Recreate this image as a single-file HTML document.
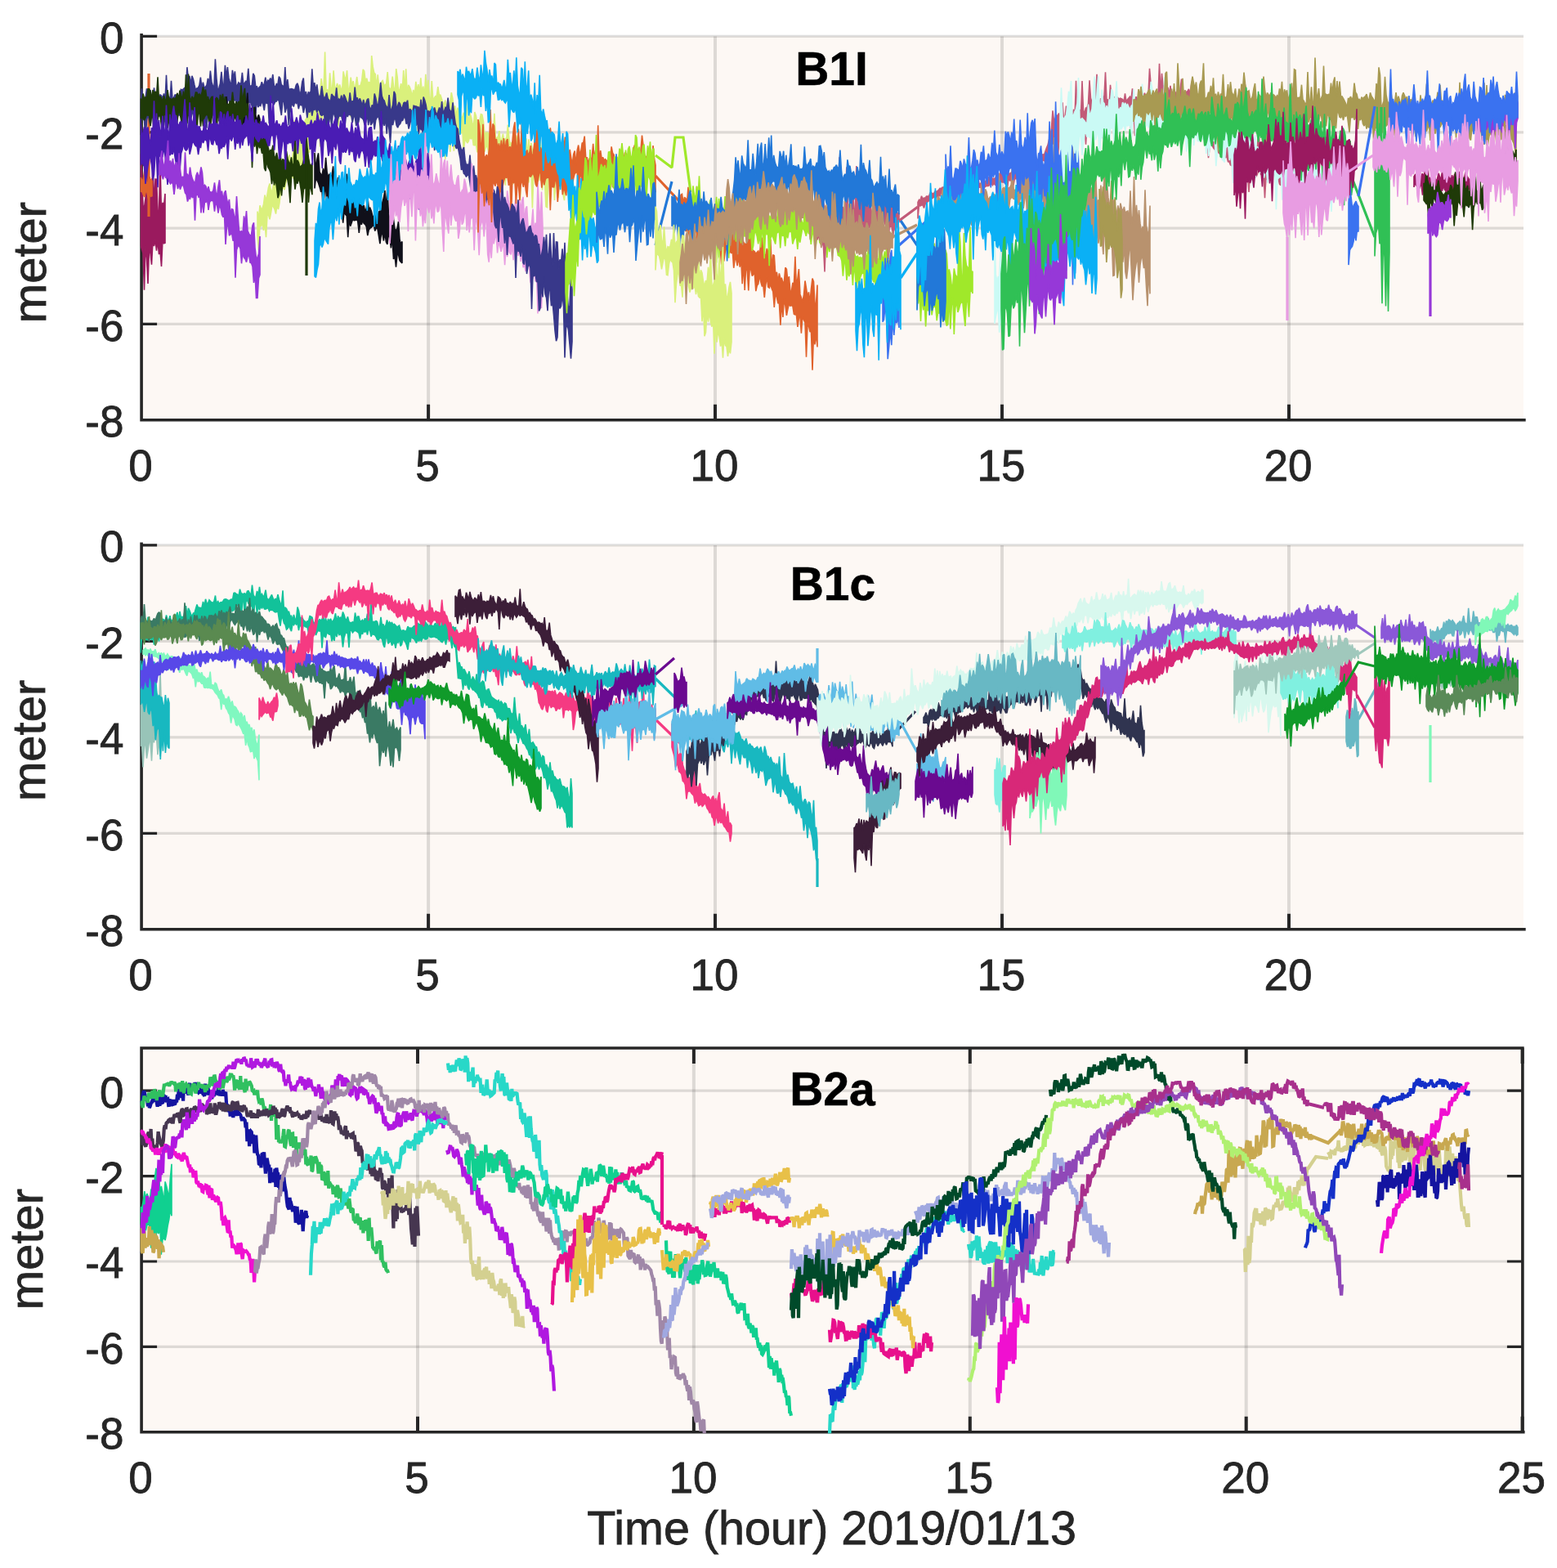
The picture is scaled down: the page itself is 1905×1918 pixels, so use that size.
<!DOCTYPE html><html><head><meta charset="utf-8"><title>B1I B1c B2a</title><style>html,body{margin:0;padding:0;background:#fff;}body{width:1905px;height:1918px;overflow:hidden;}svg{display:block;}text{font-family:'Liberation Sans', Arial, Helvetica, sans-serif;}</style></head><body>
<svg width="1905" height="1918" viewBox="0 0 1905 1918">
<rect x="0" y="0" width="1905" height="1918" fill="#fff"/>
<defs>
<clipPath id="c0"><rect x="171.6" y="42.9" width="1693.9" height="472.4"/></clipPath>
<clipPath id="c1"><rect x="171.6" y="665.4" width="1693.9" height="472.9"/></clipPath>
<clipPath id="c2"><rect x="171.6" y="1280.5" width="1692.8" height="472.8"/></clipPath>
</defs>
<rect x="173.1" y="44.4" width="1690.9" height="469.4" fill="#fdf8f4"/>
<path d="M524.1 44.4V513.8M875 44.4V513.8M1226 44.4V513.8M1577 44.4V513.8" stroke="#262626" stroke-opacity="0.15" stroke-width="4" fill="none"/>
<path d="M173.1 44.4H1864M173.1 161.8H1864M173.1 279.1H1864M173.1 396.4H1864" stroke="#262626" stroke-opacity="0.15" stroke-width="3.2" fill="none"/>
<path d="M173.1 42.8V513.8H1864.9" stroke="#262626" stroke-width="3.6" fill="none" stroke-linecap="square"/>
<path d="M524.1 513.8V494.8M875 513.8V494.8M1226 513.8V494.8M1577 513.8V494.8" stroke="#262626" stroke-width="4" fill="none"/>
<path d="M173.1 44.4H192.1M173.1 161.8H192.1M173.1 279.1H192.1M173.1 396.4H192.1" stroke="#262626" stroke-width="3.2" fill="none"/>
<g clip-path="url(#c0)" fill="none" stroke-width="3.2" stroke-linejoin="miter" stroke-miterlimit="2">
<path d="M172.0 188.2l1.5 22 1.5 41.2 1.5 2.5 1.5-11.4 1.5-29.9 1.5-4 1.5 37.8 1.5-8.4 1.5 4.1 1.5-44.6 1.5 54.5 1.5-32.9 1.5 0.1 1.5 39.3 1.5 1.8 1.5-60.3 1.5 63.6 1.5-15.8 1.5 4.9 1.5-15.8 0 60.3-1.5 0.5-1.5-4.3-1.5 32.5-1.5-18.9-1.5 4.1-1.5-17-1.5 12.5-1.5-13.3-1.5 7.8-1.5-7-1.5 29.6-1.5-14-1.5-6.3-1.5 43.6-1.5-30.8-1.5-15.3-1.5 53.9-1.5-45.1-1.5-5-1.5-4.9z" fill="#9a1a5e" stroke="#9a1a5e" stroke-width="1.6"/>
<path d="M172.0 217.2l1.6 3.1 1.5-0.4 1.6-10.6 1.5 0.6 1.6 13.4 1.5 0.9 1.6-8 1.5 5.2 1.6-3 0 21.3-1.6 0.6-1.5-2.9-1.6 5.2-1.5-7.8-1.6-0.1-1.5 6.1-1.6-3.1-1.5-4.1-1.6 1.1z" fill="#e0622c" stroke="#e0622c" stroke-width="1.6"/>
<path d="M182.0 90.0 182.0 265.0" stroke="#e0622c"/>
<path d="M315.0 258.6l1.5 9.1 1.5-16.4 1.5 4.6 1.5-1.1 1.5-4.9 1.5-11.4 1.5 7.7 1.5-8.3 1.5-8.6 1.5-4.7 1.5 8.9 1.5-0.1 1.5-7.2 1.5 0.4 1.5-8.2 1.5 0.8 1.5-11.5 1.5 5.7 1.5 0.4 1.5-15.6 1.5 9.4 1.5 2 1.5-10.2 1.5-10.4 1.5 10.1 1.6-9.7 1.5 7.7 1.5-1.6 1.5-9 1.5-39.3 1.5 38.9 1.5-10.3 1.5-0.6 1.5-10.8 1.5 1.8 1.5-13.4 1.5 7.1 1.5-9.2 1.5-3.7 1.5-2.7 1.5-1.1 1.5-25.7 1.5 0.1 1.5-0.3 1.5 11.3 1.5 4.9 1.5-5.8 1.5-5.5 1.5 0.2 1.5-2.7 1.5-4.7 1.5-18.9 1.5 11.4 1.5-0.7 1.5-43.3 1.5 47.2 1.5-0.8 1.5 4 1.5-24.5 1.5 18.7 1.5-0.1 1.5-21.8 1.5 20.7 1.5 0.2 1.5-5.2 1.5 6.5 1.5-5 1.5 4.7 1.5 3.1 1.5-23.8 1.5 7 1.5 2.7 1.5-10.9 1.5 22.7 1.5 0 1.6-14.2 1.5 10.1 1.5-5.6 1.5 11.3 1.5-7.4 1.5-9.1 1.5 12.4 1.5-1.4 1.5-0.8 1.5-5.8 1.5-13.5 1.5 2.2 1.5 12.7 1.5-4.1 1.5 6.6 1.5-2.1 1.5 5.7 1.5-37.9 1.5 13.7 1.5 7.3 1.5 1.6 1.5 16.2 1.5-15.5 1.5 15.1 1.5-3.3 1.5-3 1.5-1.5 1.5 5 1.5 1 1.5-2.8 1.5-13.7 1.5 18.6 1.5 1.8 1.5-0.2 1.5-14.7 1.5 13 1.5 7.7 1.5-30.2 1.5 10.4 1.5 19.6 1.5-5.7 1.5-6.3 1.5 9.5 1.5-25.6 1.5 26.7 1.5-28.4 1.5 31.1 1.5-11.5 1.5 2.5 1.5 3.8 1.5 8 1.6-8.2 1.5 6.9 1.5-17.1 1.5 12.3 1.5-8.9 1.5 10.9 1.5-18.8 1.5 18.6 1.5-8.3 1.5 13.5 1.5-28.2 1.5 24.1 1.5-17.3 1.5 22.8 1.5 0.5 1.5-21.9 1.5 22.7 1.5-1.9 1.5-2.3 1.5-0.3 1.5-11.3 1.5 10.3 1.5-0.1 1.5 4.3 1.5 5.4 1.5 1.7 1.5-5 1.5 8.9 1.5-2.4 1.5-2 1.5-2.6 1.5-11.3 1.5 7.2 1.5 14.5 1.5-5.4 1.5 13.9 1.5-11.7 1.5 5.1 1.5-4.7 1.5 14.8 1.5-3.8 1.5-5.4 1.5 3.6 1.5-17.9 1.5 18.2 1.5 5.3 1.5-8.5 1.5 4.1 1.5 7.5 1.5 6.1 1.5-19 1.6 4.5 1.5 9.7 1.5-0.9 1.5-2.7 1.5-8 1.5 0.6 1.5 8.1 1.5 13.9 1.5 1 1.5-1.6 1.5 2.2 1.5-2 1.5 5.6 1.5-3.9 1.5 0.5 1.5-25.4 1.5 32.9 1.5-3.2 1.5-1.3 1.5-7 1.5 13.6 1.5-2.9 1.5-7.2 1.5 9.6 1.5-2.8 1.5-2.6 1.5-15.1 1.5 17.4 1.5 5.2 1.5-0.4 1.5 0.7 1.5 2.7 1.5-12.5 1.5 0.6 1.5 12 1.5 11.6 1.5-9.8 1.5 3.2 1.5 5.7 1.5-16.1 1.5 13.8 1.5-17.5 1.5 23.2 1.5-22.2 1.5 17.2 1.5-12.7 1.5 9.4 1.5 2.9 1.5-4 1.5-9 1.6 12 1.5 0.2 1.5-17.2 1.5 20.1 1.5-13.2 1.5-21.1 1.5 32.7 1.5 6.3 1.5-13.9 1.5 10.9 1.5 6.5 1.5-26.9 1.5 24.6 1.5 0.6 1.5-7.5 1.5 9.2 1.5 0.3 1.5 2 1.5-0.2 1.5-3.4 1.5 4.1 1.5-3.4 1.5-10.2 1.5 14.3 1.5-2.5 1.5-18.2 0 40-1.5 7.6-1.5-9.7-1.5 27-1.5-7.1-1.5-11.5-1.5-5.2-1.5-4.7-1.5 25.4-1.5-19.5-1.5-1.4-1.5 23.8-1.5-32.6-1.5-4-1.5 4.2-1.5-4.1-1.5 4.9-1.5 40.3-1.5-0.8-1.5-30.9-1.5-8.2-1.5 18.7-1.5-17.7-1.5 6.4-1.5-11.6-1.5-0-1.6-0.4-1.5 0.8-1.5 1.2-1.5 43.4-1.5-47-1.5 1.9-1.5 14-1.5-10.1-1.5-9-1.5-2.1-1.5 3.5-1.5 14.3-1.5-14.2-1.5 39.9-1.5-28.8-1.5-11-1.5-6.8-1.5 1.8-1.5-5.1-1.5 29.8-1.5-14.8-1.5-19.9-1.5 4.1-1.5 1.7-1.5-5.4-1.5 35.5-1.5-32.4-1.5-0.5-1.5 0.3-1.5 1.1-1.5-3.5-1.5 10.1-1.5-5-1.5-2.1-1.5 6.9-1.5-10.8-1.5-3.5-1.5 3.9-1.5 27.6-1.5-34.7-1.5-5.8-1.5 1.6-1.5 5.5-1.5-7.9-1.5 9.4-1.5-7.7-1.5-5.6-1.5-1.5-1.5 14.1-1.5-10.2-1.6 1.8-1.5-0.5-1.5-10.8-1.5 3.5-1.5-3.3-1.5 5.8-1.5 2.4-1.5-2.9-1.5-1.3-1.5 14.5-1.5-26.2-1.5 3.3-1.5 1.8-1.5-1-1.5-7-1.5 6.5-1.5 11-1.5 11-1.5-28.3-1.5 1.8-1.5 27.5-1.5-27.8-1.5 8.3-1.5-5.3-1.5 33.7-1.5-45.9-1.5-1.7-1.5-1.4-1.5 15.1-1.5-11-1.5-8.1-1.5 2.7-1.5 0.5-1.5 2.6-1.5-1.6-1.5 3.6-1.5 10.6-1.5-13.4-1.5-9.4-1.5-0.7-1.5 4-1.5-6.2-1.5 19.5-1.5-17.1-1.5 1.4-1.5-5.7-1.5 45.6-1.5-43.2-1.5 6-1.5-6.4-1.5-0.4-1.6-0.8-1.5 2.5-1.5 4-1.5 1.9-1.5-5.1-1.5-7.3-1.5 6.1-1.5 10.2-1.5-12.5-1.5-4.5-1.5 2.1-1.5 0.7-1.5 0.1-1.5 15.9-1.5-1.9-1.5-9.4-1.5 5-1.5-9.1-1.5 36.3-1.5-34-1.5 13.3-1.5-14.2-1.5 0.3-1.5-6.6-1.5 1.8-1.5-3.1-1.5 37.7-1.5-30.3-1.5 7.7-1.5-12-1.5-2.4-1.5 9.8-1.5-13.2-1.5 9.5-1.5-6.2-1.5 0.3-1.5-3.4-1.5 5.7-1.5-11.1-1.5 13.2-1.5 6.1-1.5-14.9-1.5-6.3-1.5 18.3-1.5-12.5-1.5 5.3-1.5 1.2-1.5 15-1.5-15-1.5-1-1.5 15.9-1.6-15-1.5-1.1-1.5-0.5-1.5 2.9-1.5-2.6-1.5 2-1.5-3.1-1.5 2.5-1.5 6.4-1.5 19.7-1.5-18.7-1.5-8.1-1.5-0.4-1.5 8.6-1.5-12.7-1.5 6-1.5-1.2-1.5 1.2-1.5 4.4-1.5-0.3-1.5 2.5-1.5-7.5-1.5 18.8-1.5 4.7-1.5 27.8-1.5-39.2-1.5 30.5-1.5-12.1-1.5-8.3-1.5 6.9-1.5 25.1-1.5-19.1-1.5 3.6-1.5 20.2-1.5-10.5-1.5 0.1-1.5 3.4-1.5 1.8-1.5 25.7-1.5-10.7-1.5 4.8-1.5 20.4-1.5-21.5-1.5 7.5-1.5 0.2-1.5-2.9-1.5 12.9-1.5-6.1-1.5-6-1.5 12.2-1.6-1.9-1.5 0.9-1.5 8.5-1.5 6.2-1.5-2.5-1.5 1.2-1.5 2.4-1.5 14.8-1.5 8.2-1.5-5.4-1.5 10.9-1.5-5.7-1.5-3.1-1.5-2.1-1.5 9.7-1.5 7.9-1.5-5.4-1.5 0.2-1.5 27.2-1.5-18.4-1.5 10-1.5-10.7-1.5 5.9-1.5-2.3-1.5 31.1-1.5-18.2z" fill="#daf07c" stroke="#daf07c" stroke-width="1.6"/>
<path d="M172.0 127.0l1.5-18.6 1.5 15.1 1.5 4.6 1.5-8.6 1.5-11.1 1.5 6 1.5 11.1 1.5-15.3 1.5 8.8 1.5 6.6 1.5-18.2 1.5 11.6 1.5 6.2 1.5 1.1 1.5-8.3 1.5-2.1 1.5 1.2 1.5 3.2 1.5-5.9 1.5 9 1.5-31.7 1.5 30.3 1.5-3.8 1.5 4.9 1.5-24.3 1.5 22.6 1.5-1.5 1.5-3.8 1.4-0 1.5-0.8 1.5 1.6 1.5-0.4 1.5-7.1 1.5 0.5 1.5-1.1 1.5-1.4 1.5 2.1 1.5-27.3 1.5 14.3 1.5-3.6 1.5 10.2 1.5-10.2 1.5 3.9 1.5 7.2 1.5 6.2 1.5-2.3 1.5-0.5 1.5-3.1 1.5-9.7 1.5 13.4 1.5-7.4 1.5 6.2 1.5-0.4 1.5-2.1 1.5-8.5 1.5 7.1 1.5-16.3 1.5 13.9 1.5 4.4 1.5 2.6 1.5-35.2 1.5 23.3 1.5 15.8 1.5-3.6 1.5-5.7 1.5-14.3 1.5 15.9 1.5-0.5 1.5-23.4 1.5 15 1.5-12.8 1.5 13.4 1.5 5.6 1.5 2.4 1.5-17.5 1.5 9.7 1.5-8.2 1.5 17.8 1.5-0.9 1.5-3.3 1.5 1.6 1.5-1.3 1.5-12.4 1.5 15.5 1.5-2.9 1.5-2.2 1.4 0.6 1.5-16.1 1.5 20.6 1.5 1.2 1.5-1.4 1.5-14.3 1.5 2.9 1.5 13.5 1.5-0.5 1.5 3.7 1.5-2.9 1.5-1.2 1.5-5.1 1.5 4.4 1.5-2 1.5-8.1 1.5 8.9 1.5-5.3 1.5 0.9 1.5-3.6 1.5 4.8 1.5-9.3 1.5 13.6 1.5 2.1 1.5-4.1 1.5 1.4 1.5-10.3 1.5 2.1 1.5 8 1.5 0.9 1.5 4.3 1.5-26.9 1.5 26.8 1.5-11.8 1.5 12.6 1.5-0.6 1.5-0.6 1.5 0.5 1.5 0.6 1.5 0 1.5-5.4 1.5-2.3 1.5 4 1.5 12 1.5-7 1.5-10.9 1.5-4.4 1.5 22.6 1.5-6.3 1.5 7.7 1.5-6.8 1.5 1.1 1.5-2.3 1.5-27.3 1.5 21.9 1.5-5 1.5 10.2 1.5-8.1 1.4 11.5 1.5 5 1.5-3.5 1.5-11.3 1.5 11.3 1.5 4.9 1.5-3.1 1.5-4.6 1.5 7.3 1.5 1.4 1.5 3.9 1.5-11 1.5 1.9 1.5 1.3 1.5 1.5 1.5-12.4 1.5 15.7 1.5-2.1 1.5 2.5 1.5-6.9 1.5 8 1.5-9 1.5 2.7 1.5 4.2 1.5 3.4 1.5 0.1 1.5-12.6 1.5 11.9 1.5-1.5 1.5-0.1 1.5-17.1 1.5 15.7 1.5-2.9 1.5 5.3 1.5-4.3 1.5 3.6 1.5 5.4 1.5-7.4 1.5 6.4 1.5-1.6 1.5-4.8 1.5-1.3 1.5 10.7 1.5 2.2 1.5-5.2 1.5 3.4 1.5-17.2 1.5 5.1 1.5 8.1 1.5 0.9 1.5-10.9 1.5-17.1 1.5 16.6 1.5 4.2 1.5 1.7 1.5 5.3 1.5 2.1 1.5 3.2 1.4-17.8 1.5 18.4 1.5-0.5 1.5-5.7 1.5-16.4 1.5 3.4 1.5 17.1 1.5-2.7 1.5-4.6 1.5 2.4 1.5 6.4 1.5-3.6 1.5-4.5 1.5-0.5 1.5 1.3 1.5-3.8 1.5 14.8 1.5-4.3 1.5 1.9 1.5 3.7 1.5-9.5 1.5 0.5 1.5 0.3 1.5 0.6 1.5 0.3 1.5 4.3 1.5-13.6 1.5 17.1 1.5-20.3 1.5 4 1.5 5.7 1.5 9.3 1.5-1.7 1.5 1.6 1.5-2.2 1.5-2.5 1.5 2.8 1.5-4.1 1.5 5.6 1.5 4 1.5-5.1 1.5-4.4 1.5 5.8 1.5-13.2 1.5 13.1 1.5-1.5 1.5-4.4 1.5 1 1.5-12.7 1.5 13.9 1.5 2.4 1.5 1.6 1.5-12.1 1.5 13.9 1.5 11.3 1.5 5.5 1.5 1.5 1.5 12.5 1.4 7.7 1.5 5.9 1.5-0.3 1.5-3.2 1.5 15 1.5 7.1 1.5-1.3 1.5 3.3 1.5-14.7 1.5 19.9 1.5 4.7 1.5-11.6 1.5 13.9 1.5-2 1.5 8.1 1.5-5.6 1.5 14.6 1.5-0.3 1.5-6.6 1.5-1.7 1.5-14.9 1.5 21.6 1.5-3 1.5-19.1 1.5 31.4 1.5-13.9 1.5 8.9 1.5-2.7 1.5 2.8 0 47.7-1.5-28.6-1.5 7.5-1.5-3.7-1.5 6.5-1.5 6.6-1.5-3.2-1.5-16.8-1.5 0.9-1.5 11.5-1.5-12.8-1.5-4.4-1.5-0.7-1.5 6.5-1.5-11.9-1.5-3.1-1.5 10.7-1.5-5.3-1.5-15.4-1.5 9.2-1.5-11.9-1.5-8.9-1.5-0.7-1.5 2.5-1.5-3-1.5-1.1-1.5-6.7-1.5 2.4-1.5-14.3-1.4-6.7-1.5-8.3-1.5 3.3-1.5-3-1.5-22.3-1.5 22.6-1.5-14.2-1.5-11-1.5 20.2-1.5-21.6-1.5 0.5-1.5 4.7-1.5-5.7-1.5 3.6-1.5 3.6-1.5 6.4-1.5-18.7-1.5 9.2-1.5 14.1-1.5-2.5-1.5 16.5-1.5-23.2-1.5-7.9-1.5 3.8-1.5-7-1.5 11.4-1.5-8.6-1.5 17.4-1.5-5-1.5 3.7-1.5-10.5-1.5 0.3-1.5-4.5-1.5 10.1-1.5-17.4-1.5 6.9-1.5-5.8-1.5 2.6-1.5 0.5-1.5-6.3-1.5 7-1.5 5.7-1.5-9.2-1.5 3.3-1.5-8.7-1.5 1-1.5 3.5-1.5 0.3-1.5 3.8-1.5 1.3-1.5 3.4-1.5-3-1.5-8.7-1.5 1.7-1.5 6.9-1.5-4.7-1.5 26.8-1.5-16.1-1.4-13.6-1.5 18.2-1.5-19.6-1.5 9.8-1.5-7.7-1.5 13.3-1.5 0.3-1.5-12.8-1.5-5.2-1.5 1.9-1.5 3.3-1.5 11.3-1.5-13.4-1.5 5.8-1.5 2.4-1.5-11.3-1.5 11.4-1.5-14.1-1.5 10.5-1.5 3.4-1.5-6.4-1.5-2.1-1.5-0.9-1.5-2.7-1.5 8.3-1.5 3.2-1.5 0.9-1.5-10.8-1.5 0-1.5 7.6-1.5-9.6-1.5 0.1-1.5-1.7-1.5 4-1.5-4.4-1.5 14.3-1.5-11.9-1.5 7.7-1.5-7-1.5 0.6-1.5-0.5-1.5 5.1-1.5 12.5-1.5-15.3-1.5-4.4-1.5-1-1.5 18.5-1.5-20.6-1.5 12.9-1.5 0.7-1.5 2.8-1.5 17.8-1.5-33.2-1.5 3-1.5 0.9-1.5-1.2-1.5-5-1.5-2.1-1.4 4.4-1.5-5-1.5 1.9-1.5-1.3-1.5 8.5-1.5-10.1-1.5 6.1-1.5-3.9-1.5 10.5-1.5-12.9-1.5-0.8-1.5 7.5-1.5-10.2-1.5 1-1.5-1.5-1.5 5.9-1.5-8.2-1.5 1.4-1.5-2.5-1.5 6.6-1.5-4.3-1.5 4-1.5 8.2-1.5 14.8-1.5-23-1.5 2.1-1.5 5.4-1.5-15.6-1.5 2.7-1.5 16.2-1.5-8.7-1.5-8.7-1.5-2.4-1.5 2.9-1.5 0.1-1.5 3.3-1.5-1.2-1.5-2-1.5 2.8-1.5 24.1-1.5-29.2-1.5 4.9-1.5-3.9-1.5 12.2-1.5-7.5-1.5-4.6-1.5 6.3-1.5-0.9-1.5 2.7-1.5-9.3-1.5 16.9-1.5-9-1.5 18.4-1.5-18.5-1.5-4.4-1.5 0.6-1.5-3-1.5 7.9-1.4-1.7-1.5 10-1.5-12.3-1.5 12.4-1.5-10.8-1.5 20.2-1.5-27.7-1.5 16.7-1.5-16.2-1.5 1.9-1.5-6.3-1.5 26.8-1.5 24.9-1.5-43.8-1.5-2.6-1.5 0.8-1.5 12.7-1.5-9.2-1.5-2.6-1.5-0-1.5-0.3-1.5-1.8-1.5-0.4-1.5 22-1.5 1.3-1.5-14.3-1.5 5.9-1.5-9.4-1.5 11.5-1.5-11.3-1.5 18-1.5-19.6-1.5 31.1-1.5-9-1.5-9.2-1.5-8.3-1.5 3.7-1.5 1.9-1.5-9.1-1.5 7.4-1.5 0.5-1.5 16.3-1.5-2-1.5-13.7-1.5 4.7-1.5 6.5-1.5-11-1.5-0.5-1.5 16-1.5-4.4-1.5 14.4-1.5-21.4-1.5 18.8-1.5-18.5-1.5 1.2-1.5-1-1.5 3.8-1.5-4.5-1.4 0.1-1.5-5.4-1.5 7.1-1.5-4-1.5 16.5-1.5-14-1.5-8.2-1.5 16.2-1.5-5.4-1.5 11.4-1.5-15.2-1.5-1.8-1.5 4.4-1.5 0.9-1.5-6.6-1.5 4.4-1.5-2.5-1.5 2.1-1.5 2.8-1.5-0.4-1.5 11.8-1.5-6.9-1.5-7.1-1.5 8.1-1.5 23-1.5-23.3-1.5-5.5-1.5 6.1-1.5-4.8z" fill="#38388a" stroke="#38388a" stroke-width="1.6"/>
<path d="M268.0 122.5l1.5 9.8 1.5-6.5 1.5-3.5 1.6 3.2 1.5 3 1.5-10.5 1.5 15.5 1.5-2.7 1.5 1.3 1.6 2.2 1.5-9.6 1.5 7.2 1.5 1.6 1.5 3.3 1.5-2.7 1.5-1.5 1.6 2.8 1.5 2.3 1.5-11.2 1.5 12 1.5-1.9 1.5-7.6 1.5-15.4 1.6 26 1.5-0.7 1.5-7.1 1.5 11.5 1.5-1 1.5-11.5 1.6 16 1.5-3 1.5-3.4 1.5 5.8 0 17-1.5 2-1.5-4.1-1.5 4.3-1.6-2.4-1.5-7.9-1.5 5.9-1.5 5.2-1.5-15.3-1.5 7.3-1.6 0.4-1.5-7.9-1.5 10.2-1.5-15.1-1.5 12.6-1.5-10.9-1.5 0.4-1.6-0.3-1.5-1.5-1.5-0.2-1.5-2-1.5 0.4-1.5 1.7-1.5 0.5-1.6-6-1.5 8.8-1.5-0.7-1.5-2.1-1.5-4-1.5-0.3-1.6 2.6-1.5-0.6-1.5-0.7-1.5 4.9z" fill="#10101a" stroke="#10101a" stroke-width="1.6"/>
<path d="M172.0 120.6l1.5 4.4 1.5-10.5 1.5 6.3 1.5-2 1.5 2 1.5-12.1 1.5 0 1.5 3.4 1.5 9.4 1.5-11.5 1.5 5.1 1.5-3.4 1.5 6.4 1.5-23.8 1.5 30.2 1.5-6.9 1.5 2.6 1.5 4.5 1.5-7.6 1.5 5 1.5 0.5 1.5-12.5 1.5 10.3 1.5 0.1 1.5 0.9 1.5-0.1 1.5-1.4 1.5 1.6 1.5-2.7 1.5-5 1.5 8.9 1.5-12 1.5 5.1 1.5 7.4 1.5-11.6 1.5 13.5 1.5-33.8 1.5 28.5 1.5-29.3 1.5 27.7 1.5 6.1 1.5-6.4 1.5 2.8 1.5-1.5 1.5-6.3 1.5 0.3 1.5 3.5 1.5-1.7 1.5 2.8 1.5-4 1.5-7.5 1.5 8.5 1.5-5.3 1.5 11.9 1.5-3.3 1.5 7.5 1.5-4.4 1.5-2.7 1.5-0.2 1.5 10.6 1.5-7.6 1.5-1.9 1.5 1.8 1.5 8.4 1.5-13.8 1.5 7.2 1.5-8.2 1.5 12.2 1.5-8.8 1.5 14.2 1.5-5.6 1.5 2.5 1.5-6.1 1.5 4.1 1.5-14.6 1.5 13.2 1.5 3.5 1.5-5.2 1.5 4.3 1.5-4.4 1.5 2.2 1.5-22.1 1.5 20.5 1.5-9.3 1.5-7.5 1.5 25.7 1.5-7.3 1.5 11.3 1.5-1.1 1.5 5.3 1.5-1.3 1.5-9.5 1.5 20.8 1.5-1.3 1.5 1.6 1.5 5.2 1.5-8.9 1.5 20.3 1.5-17 1.5 18.4 1.5-5.7 1.5 5.7 1.5-11.6 1.5 21.8 1.5 6.6 1.5-3.4 1.5 0.4 1.5-6.2 1.5 13.5 1.5 2 1.5-6.3 1.5 7.6 1.5 3.4 1.5-9.1 1.5 12.4 1.5-6.7 1.5 1.7 1.5 13.2 1.5-24.5 1.5 9.5 1.5 4.5 1.5 1.2 1.5-7.7 1.5 12.8 1.5-6.1 1.5-35.9 1.5 36.9 1.5-4.2 1.5 3 1.5 6.6 1.5-2.6 1.5-1.3 1.5-5.7 1.5-5.8 1.5-27.3 1.5 18 1.5 12.4 1.5 8.2 1.5 1.7 1.5-3.7 0 38.8-1.5-7-1.5-5.2-1.5 21.6-1.5-21.3-1.5-2-1.5 6.2-1.5 0.3-1.5 17-1.5-14.4-1.5-9.3-1.5-7.6-1.5 8.1-1.5-3.8-1.5 10.8-1.5-16.7-1.5-0.2-1.5 0.8-1.5 32.8-1.5-19.5-1.5-8.5-1.5-5.7-1.5 7.1-1.5 7.2-1.5-5.8-1.5 16.4-1.5-15.4-1.5 13.3-1.5 4.8-1.5-13.5-1.5-9.8-1.5 7.6-1.5-12.4-1.5 11.1-1.5-14.3-1.5-3.9-1.5-2.2-1.5-10-1.5 14.4-1.5-3.3-1.5-20.8-1.5 2.4-1.5-8.2-1.5 1.3-1.5-5.6-1.5 13.2-1.5-16.8-1.5 8.2-1.5-11.9-1.5 37.4-1.5-41.3-1.5-14.4-1.5 1.7-1.5-1.7-1.5-10.3-1.5 3.2-1.5-0.2-1.5 5-1.5 10.3-1.5-1.4-1.5-10.2-1.5 8.6-1.5-5.7-1.5-11.3-1.5 13-1.5 2.6-1.5-11.2-1.5-1.2-1.5 0-1.5 20.4-1.5-17.6-1.5 10.4-1.5-5.7-1.5-8.6-1.5-0.2-1.5 0.4-1.5-2.8-1.5-1.9-1.5 31.1-1.5 3.8-1.5-27.1-1.5-4.6-1.5 6.4-1.5 9.9-1.5-2.6-1.5-10-1.5-2.3-1.5 1.7-1.5 2.1-1.5 10.9-1.5-15.4-1.5 15.7-1.5-14.9-1.5-4.1-1.5 24.4-1.5-24-1.5-0.8-1.5-0.8-1.5-2.6-1.5 2.9-1.5 8-1.5-3.5-1.5 7.4-1.5 20.7-1.5-2.6-1.5-32.5-1.5 30.1-1.5-16.1-1.5-8-1.5-3.3-1.5 12.7-1.5 8.8-1.5-18.6-1.5 2.4-1.5 3.1-1.5 3.2-1.5-1.7-1.5 4.1-1.5 7.8-1.5-14.5-1.5-1.7-1.5-2.7-1.5 34-1.5-18.3-1.5-11-1.5-3.5-1.5 7.6-1.5 5.8-1.5-7.3-1.5 16.9-1.5-17.2-1.5-4.5-1.5 13.8-1.5-13.9-1.5 1-1.5-1-1.5 4-1.5 3-1.5-2.6-1.5-1.5-1.5 21.8z" fill="#1f3a08" stroke="#1f3a08" stroke-width="1.6"/>
<path d="M375.0 200.0 375.0 337.0" stroke="#1f3a08"/>
<path d="M385.0 187.1l1.5 21 1.5-13.8 1.5-6.9 1.5 23 1.5 2.5 1.5 1.9 1.5-8.8 1.6 8.6 1.5-21.7 1.5 17.7 1.5 6.1 1.5-3.9 1.5 6.4 1.5-4.9 1.5-10.9 1.5 18.7 1.5 6.5 1.5-2.4 1.5-9.3 1.5 10.1 1.5 8.2 1.6-14.3 1.5 12.6 1.5 3.3 1.5 8.2 1.5-32.3 1.5 9.1 1.5 6.2 1.5 19 1.5-4.9 1.5 0.1 1.5 2.2 1.5-1.1 1.5 0.5 1.5-2 1.6-9.2 1.5 15.8 1.5 1.4 1.5 1.3 1.5 0.6 1.5 7.7 1.5-4.8 1.5-14.8 1.5 16.3 1.5-1.8 1.5 3.8 1.5 6.1 1.5 1.8 1.5-11.1 1.6 2.3 1.5 7.8 1.5-5.8 1.5-1.1 1.5 1.2 1.5-12.2 1.5-5 1.5-9.2 1.5 26.6 1.5-31.4 1.5 33.8 1.5 5.7 1.5 1.9 1.5-19.5 1.6 18.1 1.5 11.9 1.5 2.2 1.5-3 1.5-8.4 1.5 21.8 1.5 6.7 1.5-3.9 0 26.4-1.5-1.3-1.5-1.9-1.5-7.3-1.5 0.6-1.5 14.7-1.5-14.1-1.5 4.5-1.6-27.1-1.5 13.5-1.5-12.4-1.5-5.3-1.5 13.2-1.5-3-1.5-11.1-1.5 9.7-1.5-9.1-1.5 1.6-1.5 11.1-1.5-9.5-1.5-9-1.5-0.9-1.6 3.8-1.5-7.4-1.5 1.3-1.5 1.8-1.5 1-1.5 1.9-1.5 7-1.5-10.8-1.5-2.9-1.5-0.9-1.5-4-1.5 5.3-1.5-4-1.5 14.1-1.6-14.5-1.5-1.8-1.5 0.8-1.5 0.3-1.5-1.7-1.5 4.6-1.5 4-1.5-8.3-1.5 21.8-1.5-26.1-1.5-1.7-1.5-4.3-1.5 14.6-1.5-14.3-1.6-5.5-1.5-1.5-1.5-9.3-1.5 23.2-1.5-13-1.5 5.6-1.5-8.2-1.5-7.9-1.5-4.1-1.5 0.3-1.5 18.5-1.5-5.8-1.5-20-1.5 3.9-1.6 25.1-1.5-26.5-1.5 1.1-1.5-5.8-1.5-4.7-1.5-3-1.5-3.4-1.5 13.2z" fill="#10101a" stroke="#10101a" stroke-width="1.6"/>
<path d="M172.0 145.3l1.5 24.5 1.5-8 1.5-6.5 1.5 2.4 1.5 0.1 1.5-2.1 1.5 13.5 1.5 8.4 1.5-21.3 1.5 3.7 1.5-36.6 1.5 41.4 1.5-26.3 1.5 17.4 1.5-9.1 1.5 21.7 1.5-13.9 1.5-12.9 1.5 17.4 1.5 1.4 1.5-31.9 1.5 29.9 1.5 10.6 1.6-29.2 1.5 16.8 1.5-18.4 1.5-8.8 1.5 11.6 1.5 0.5 1.5 9.1 1.5 4.2 1.5-5.3 1.5-1 1.5 8.3 1.5-17.5 1.5-18 1.5 23 1.5 13.4 1.5 0.5 1.5-32.9 1.5 17.7 1.5 10 1.5-7.3 1.5-14.7 1.5 24.9 1.5-3 1.5 3.3 1.5-1.9 1.5 6.7 1.5-0.8 1.5-0.3 1.5-14 1.5 10.4 1.5 4 1.5-1.3 1.5-10.5 1.5 5.6 1.5-2.4 1.5 0.9 1.5-35.1 1.5 33.1 1.5 0.3 1.5 1.7 1.5 0.4 1.5-16.5 1.5 1.5 1.5 14.6 1.5-13.3 1.5 13.9 1.5-12.6 1.6-4.8 1.5 12.9 1.5-6.9 1.5 11.1 1.5-13.7 1.5 10.5 1.5 0.1 1.5-2.9 1.5-5.9 1.5 9.9 1.5-4.6 1.5 6.8 1.5 0.8 1.5-2.5 1.5-1.2 1.5-8.9 1.5 7.6 1.5-1.4 1.5-20.6 1.5 21 1.5-17.8 1.5 19.7 1.5 2.5 1.5-6.3 1.5 4.8 1.5 0.4 1.5 3 1.5-5.3 1.5 0.4 1.5-8 1.5 11 1.5-2 1.5 2.4 1.5 3.4 1.5-3 1.5-36.3 1.5 38 1.5-31.4 1.5 29.1 1.5-0.8 1.5-4.6 1.5 6.5 1.5-2.1 1.5 4.4 1.5-1.9 1.5-4.3 1.5 2.9 1.6-11.4 1.5 11.2 1.5 5.2 1.5-3.8 1.5-0.2 1.5-21.5 1.5 16.6 1.5 1.7 1.5-1.1 1.5-5.9 1.5 5.9 1.5 6.8 1.5-15.7 1.5 6.3 1.5 1.3 1.5 1.6 1.5 1.4 1.5 4.7 1.5-2.9 1.5 0 1.5-0.7 1.5-5.6 1.5 7.3 1.5-2.8 1.5-3.5 1.5 4.1 1.5-13.7 1.5 7.4 1.5 5.5 1.5-6.5 1.5 7.4 1.5-5.6 1.5 0.7 1.5 12.3 1.5-5.9 1.5-5.5 1.5 8.2 1.5 1.4 1.5-5.4 1.5 0.8 1.5-5.1 1.5-3.8 1.5 10 1.5 3.9 1.5 1.1 1.5-11.6 1.5 10.5 1.6-14.5 1.5-6.3 1.5 26.5 1.5-7 1.5 4.3 1.5 2.2 1.5-1.1 1.5-12.5 1.5 13.2 1.5 3.9 1.5-10.6 1.5 9.2 1.5-14.9 1.5 7.7 1.5 8.8 1.5 2.5 1.5 0.8 1.5 5.2 1.5-44.2 1.5 40.3 1.5-2.3 1.5-11.8 1.5-1.4 1.5-0 1.5 19.3 1.5-1.4 1.5-1.6 1.5 2.4 1.5-7.4 1.5 7.1 1.5 1 1.5-39.4 1.5 29.9 1.5 2.7 1.5 1.6 1.5 9.9 1.5 6.2 1.5-2.1 1.5-8.7 1.5 16.1 1.5-5.4 1.5 2.4 1.5 7.9 1.5-15.1 1.5 8.7 1.5-11.5 1.5 10.5 1.6 17.8 1.5-6 1.5 4.1 1.5-11.2 1.5 1.8 1.5 11.2 1.5-6.2 1.5-3.9 1.5 3.4 1.5-13.5 1.5 19 1.5-1.3 1.5-5.5 1.5-4.2 1.5 4.8 1.5-23 1.5-2.1 1.5 35 1.5-2.6 1.5-10.1 1.5 7.3 1.5 2.7 1.5-19.2 1.5 13.1 0 36.9-1.5-7.7-1.5 0.4-1.5 12.2-1.5-16.5-1.5-3.4-1.5 2.8-1.5 1.6-1.5 30-1.5-33.2-1.5 26.3-1.5-31.5-1.5 5.3-1.5-0.7-1.5 1.6-1.5 3.1-1.5 16.2-1.5-15.8-1.5-2.2-1.5-5.6-1.5 1-1.5 1.3-1.5-1-1.5 18.4-1.6-13.9-1.5-9.7-1.5 5.5-1.5-5.9-1.5 3.3-1.5 7.8-1.5-18.7-1.5-2.6-1.5-1.4-1.5-1.7-1.5 13.6-1.5-16.5-1.5 3.9-1.5-11.8-1.5 5.5-1.5-8-1.5 2.5-1.5-4-1.5 4.7-1.5-3.2-1.5 2-1.5-4.4-1.5 4.9-1.5 4.6-1.5-2.6-1.5 11.4-1.5-14.7-1.5-2.3-1.5 15.9-1.5-15-1.5-4.7-1.5-0.4-1.5 3.1-1.5 6.6-1.5-6.9-1.5 1.2-1.5 10.3-1.5-3-1.5-13.3-1.5 4.1-1.5-4.9-1.5 8.8-1.5-13-1.5 6-1.5 3.8-1.5-2.5-1.5 2.3-1.6-4.6-1.5 18.7-1.5-4-1.5-21.4-1.5-1.2-1.5 9.4-1.5-5.9-1.5 2.3-1.5 20.1-1.5-18.8-1.5 3.5-1.5 6.1-1.5-17.1-1.5-3-1.5-2.2-1.5 5.1-1.5 32.5-1.5-24.3-1.5-14.4-1.5 1.6-1.5-0.1-1.5 2.7-1.5 14.8-1.5-10.7-1.5 26.4-1.5-26.8-1.5 7.7-1.5-17-1.5 1.4-1.5 0.3-1.5 5.5-1.5 27.4-1.5-25.8-1.5 0.3-1.5-5.8-1.5-0.2-1.5 19.2-1.5-18-1.5 1.2-1.5 0.1-1.5 13.6-1.5-13.5-1.5 3.4-1.5-2.3-1.5 3.4-1.5-4.1-1.5 35.4-1.6-33.8-1.5-2.9-1.5 10.6-1.5 11.7-1.5 0.7-1.5-22.7-1.5-7.3-1.5 1-1.5 19.1-1.5-17.3-1.5-1.8-1.5 2.7-1.5 10.5-1.5-0-1.5-4.4-1.5-4.5-1.5-0.1-1.5-1.5-1.5 1.9-1.5-3.1-1.5 4.5-1.5 3.2-1.5-2.6-1.5-1.7-1.5-4.4-1.5 2.1-1.5 30.4-1.5-15.6-1.5-14.5-1.5 10.8-1.5-13.8-1.5 2-1.5 1.9-1.5 1.5-1.5 8-1.5-12.3-1.5 15.6-1.5-12.8-1.5 7.3-1.5-5.2-1.5 12.4-1.5-17.8-1.5 2.3-1.5 4.9-1.5-3.9-1.5 2.4-1.5 23.8-1.6-26.9-1.5 8.2-1.5 3.4-1.5-0.8-1.5 2.8-1.5-1.9-1.5 8.7-1.5-13.1-1.5 2.3-1.5-5.4-1.5-2.4-1.5 7.1-1.5-0.4-1.5-5.8-1.5-1.8-1.5 16-1.5-11.9-1.5-1.9-1.5 0-1.5 4.2-1.5-5-1.5 10.1-1.5-0.8-1.5 9.7-1.5-10-1.5-0.4-1.5-2-1.5-3.5-1.5 1.9-1.5 7.4-1.5 6.2-1.5-14.4-1.5 8.2-1.5 1.6-1.5-1.7-1.5-7.4-1.5 8.1-1.5 4.5-1.5 20.7-1.5 15.4-1.5-37-1.5 14-1.5-8.4-1.5-11.4-1.5 7.9-1.5-1.5-1.5 2.3-1.6-0.4-1.5 36.7-1.5-17.9-1.5-16.6-1.5-12.6-1.5 12.8-1.5 1.6-1.5-2-1.5-1.3-1.5 39.4-1.5-39.2-1.5-1.1-1.5 24.4-1.5 7.1-1.5-19-1.5-8.2-1.5-0.4-1.5 10.1-1.5 11.7-1.5 10.2-1.5-21.2-1.5-2.7-1.5-2.9-1.5 3.9z" fill="#4a1cb4" stroke="#4a1cb4" stroke-width="1.6"/>
<path d="M195.0 203.0l1.5-10.9 1.5-7.7 1.5 16.8 1.5 0.6 1.5-7.7 1.5-5.8 1.5-16.4 1.5 32.5 1.5-7.9 1.5 6.6 1.5-9.2 1.5 13.2 1.5-6.9 1.5-1.5 1.5 11.3 1.5-22.7 1.5 20.4 1.5 11.7 1.5-3.6 1.5 4.9 1.5-34.5 1.5 26.2 1.5 0.9 1.5 4.8 1.5-13.5 1.5 9.7 1.5 4.9 1.5 2.8 1.5 3.4 1.5-10.6 1.5-4.1 1.5 6.9 1.5-4.6 1.5-8.6 1.5 6.7 1.5 17.7 1.5-2.5 1.5 1.9 1.5 5.8 1.5-5.7 1.5 6.2 1.5 0.5 1.5 0.8 1.5-3.4 1.5-9 1.5 11.9 1.5 4.5 1.5-11.7 1.5-7.9 1.5 17.3 1.5-3.8 1.5 11.9 1.5-9.7 1.5-2.7 1.5 10.1 1.5 7.2 1.5-6.7 1.5 19.4 1.5-7.6 1.5 0.7 1.5 7.8 1.5 6.5 1.5-30.6 1.5 21.7 1.5 20.6 1.5 1.3 1.5-0.9 1.5 3.7 1.5-22.1 1.5 8.6 1.5-14.8 1.5 24.1 1.5 3.4 1.5 2.8 1.5-1.3 1.5-11.3 1.5-3.4 1.5 30.9 1.5 12.9 1.5-1.2 1.5-4.4 1.5-21.6 0 47-1.5 4.3-1.5 24.2-1.5 0-1.5-30.3-1.5 11.8-1.5-20.1-1.5-4.1-1.5-0.7-1.5-10.2-1.5 3.4-1.5 6.3-1.5-4-1.5-1.3-1.5-7.2-1.5 14.2-1.5-18.3-1.5-3.4-1.5 0.3-1.5 4.8-1.5 34.1-1.5-45.2-1.5-0.4-1.5-9.7-1.5 2.3-1.5 1.3-1.5-14-1.5 3.5-1.5 21.3-1.5-36.4-1.5 3.1-1.5-3-1.5-7.9-1.5-3.9-1.5 9.8-1.5-9.7-1.5-2.8-1.5 10.6-1.5-12.7-1.5-0.5-1.5-0.2-1.5 1.9-1.5 9.6-1.5-13.3-1.5 3.9-1.5-1-1.5 14.1-1.5-16.2-1.5 16.1-1.5-20.3-1.5 1.1-1.5-4.9-1.5 3.1-1.5 30.2-1.5-34.3-1.5 6.8-1.5-3.9-1.5 4.9-1.5-1.1-1.5 4.5-1.5-8.7-1.5-2-1.5-6.6-1.5-3.9-1.5 2.3-1.5 4.2-1.5-6.2-1.5 5.5-1.5-9.3-1.5 3.9-1.5 12.3-1.5-12.9-1.5-2.3-1.5 2-1.5-2.4-1.5-7.8-1.5 3.4-1.5-1-1.5-5.2-1.5 7.5-1.5-4.6-1.5-1.5-1.5 1z" fill="#9638d8" stroke="#9638d8" stroke-width="1.6"/>
<path d="M385.0 294.5l1.5-21.7 1.5 6.9 1.5-24.1 1.5-8.1 1.5 14.5 1.5-6.9 1.5-26.9 1.5 25.1 1.5-8.9 1.5-3.8 1.5 3.9 1.4 0.6 1.5-34.4 1.5 13 1.5 12.3 1.5-12 1.5-33.1 1.5 51.9 1.5-16.2 1.5-12.3 1.5 14.3 1.5-17.3 1.5-1.1 1.5 22.4 1.5-30.6 1.5 30.7 1.5-8.5 1.5-18.9 1.5 16.5 1.5 3.4 1.5 3.9 1.5-3.1 1.5 1.2 1.5-7 1.4 2.4 1.5-2.6 1.5-13.4 1.5 7 1.5 2.8 1.5 1.8 1.5-2.2 1.5 1.8 1.5-12.2 1.5 10.5 1.5 2 1.5-22.6 1.5 18.3 1.5 0 1.5 1.7 1.5-3.6 1.5 0.1 1.5-44.7 1.5 18.3 1.5 18.7 1.5 6.3 1.5-21.9 1.5 16.7 1.4-34.7 1.5 18.4 1.5 7.1 1.5-2.3 1.5 3.7 1.5-18.8 1.5 11.9 1.5-7.4 1.5-11.8 1.5 20.2 1.5-9 1.5-3 1.5-2.4 1.5-7.7 1.5-3 1.5 3.8 1.5-3.2 1.5 0.2 1.5-5 1.5 5.8 1.5-7.3 1.5 3.7 1.5-30.1 1.4 30.3 1.5-31.9 1.5 27.7 1.5 0.8 1.5 4.7 1.5-0.9 1.5-2 1.5 3.3 1.5-4.9 1.5-2.5 1.5-25.1 1.5 26.5 1.5-2.6 1.5-14.7 1.5 12.5 1.5-25.7 1.5 6.9 1.5 19 1.5-15 1.5 4.8 1.5 1.1 1.5 7.3 1.5 3.2 1.4 1.2 1.5-19 1.5 18 1.5-7.4 1.5 1.6 1.5-7 1.5 8.4 1.5 2.6 1.5-10.1 1.5 9.7 1.5-1.6 1.5 1 0 22.4-1.5-3.6-1.5 5.2-1.5-7.5-1.5 5.4-1.5-1-1.5 1.3-1.5 14.8-1.5-9.1-1.5 8.1-1.5-0.1-1.5 1.2-1.4 1.4-1.5-11.6-1.5 5-1.5-3.6-1.5-0.7-1.5-4.2-1.5 0.8-1.5 1.4-1.5-9.1-1.5 3.7-1.5 12-1.5-10.5-1.5 2.3-1.5 1.3-1.5 41.6-1.5-43.3-1.5-0.2-1.5 3.2-1.5 0.9-1.5 5.1-1.5 7-1.5-1.3-1.5-7.2-1.4 3.5-1.5 0.2-1.5 10.5-1.5-12.9-1.5-3.8-1.5 5.6-1.5-2-1.5 10.8-1.5 5.2-1.5 5.2-1.5-7.9-1.5 22.7-1.5-0.9-1.5-15.4-1.5 2.7-1.5 21.4-1.5-12.9-1.5 38.6-1.5-24-1.5 1.3-1.5 11.2-1.5-17.7-1.5-8-1.4 12-1.5 3.6-1.5-1-1.5 22.6-1.5 0.1-1.5-14.6-1.5 32-1.5-27.6-1.5 31.3-1.5-36.2-1.5 3.1-1.5-1.1-1.5-1.6-1.5-4.5-1.5 20.5-1.5-17.5-1.5 2.2-1.5 7.6-1.5 1.1-1.5-2.2-1.5 0.3-1.5-7.2-1.5 22.4-1.4-15.6-1.5 5.4-1.5-12.3-1.5 6.4-1.5-4.6-1.5 16.8-1.5-13.9-1.5-4.3-1.5-4.8-1.5 14-1.5-4.7-1.5 8.6-1.5 12.9-1.5-22.7-1.5 28.9-1.5-20.1-1.5 15.8-1.5-9.6-1.5 12.5-1.5 20.1-1.5-20.7-1.5-1-1.5 6.6-1.4 20.4-1.5-2.4-1.5-2.4-1.5-4.7-1.5 9.1-1.5 4.4-1.5-4.6-1.5 2.5-1.5 22.7-1.5 6.7-1.5 9.6-1.5-1.6z" fill="#0ab0f5" stroke="#0ab0f5" stroke-width="1.6"/>
<path d="M477.0 230.7l1.5-42.1 1.5 50.7 1.5-17.1 1.5-1.2 1.5 0.3 1.5-23.9 1.5 27.8 1.5-3.4 1.5-1 1.5-20.1 1.5 14.4 1.5-43.4 1.4 27.2 1.5 7.6 1.5 4.7 1.5-4.6 1.5-1.7 1.5 1.9 1.5 4.2 1.5 1.8 1.5-13.9 1.5 27.9 1.5-12.2 1.5 1.3 1.5 2.7 1.5-11.1 1.5 7.9 1.5-12 1.5-41 1.5 54.2 1.5-1.4 1.5 15.2 1.5-21 1.5-20.9 1.5 34.6 1.5 4.1 1.5-6.3 1.4-8.7 1.5 7.4 1.5 5.7 1.5-1.2 1.5-41.4 1.5 38.7 1.5-21.2 1.5-5.2 1.5 27.8 1.5-26.2 1.5 27.1 1.5-7.7 1.5-14.7 1.5 17.8 1.5 6.5 1.5 1.2 1.5-0 1.5-8.8 1.5-3.6 1.5 19.8 1.5 3.3 1.5-4.5 1.5-1.5 1.5-12.9 1.5 5.7 1.4 8.5 1.5 7.1 1.5-4.3 1.5 0 1.5-35.8 1.5 37.1 1.5-2 1.5 1 1.5-1 1.5 5.1 1.5-17.3 1.5 14.8 1.5-11.5 1.5-0.1 1.5-27.9 1.5 46.5 1.5 10.9 1.5-10.7 1.5 3.5 1.5-9.6 1.5 4.9 1.5-22.6 1.5 37.6 1.5-11.9 1.5 1.1 1.4 4.3 1.5 6 1.5-35.3 1.5-7.2 1.5 23.4 1.5 23.9 1.5 4.8 1.5-4.9 1.5-29.4 1.5 11.4 1.5 6.7 1.5 8.8 1.5-4.8 1.5 3.7 1.5-3.2 1.5-15.6 1.5 24.6 1.5-9.7 1.5-11.7 1.5 13.8 1.5-12.1 1.5-4.3 1.5 33.5 1.5-18.9 1.5-3.2 1.4 25.3 1.5 4.7 1.5 1.3 1.5-10.4 1.5-17.7 1.5 31.4 1.5-14.2 1.5 5 1.5-53.8 1.5 27.6 1.5 22.7 1.5-39.7 1.5 42.8 0 51.7-1.5 47.9-1.5-15-1.5-27-1.5 48.6-1.5-48.9-1.5 9.8-1.5-24.6-1.5 21.3-1.5-22.3-1.5 26.9-1.5-20.2-1.5-6.9-1.4-17.9-1.5 31.4-1.5-8.5-1.5 3.7-1.5-17.3-1.5 10-1.5-18.4-1.5 11.3-1.5-8.7-1.5-7-1.5 7.3-1.5 13.6-1.5-19-1.5 12.3-1.5-2.2-1.5-4.7-1.5 9.7-1.5-12.6-1.5 22.6-1.5-23.8-1.5 0.5-1.5 7-1.5-6.3-1.5-7-1.5 14.8-1.4-19.8-1.5 0.3-1.5 8.5-1.5-7.7-1.5 24.9-1.5-19.4-1.5 24.5-1.5-9.5-1.5-40.2-1.5-0.4-1.5 18.8-1.5-18.7-1.5 1.2-1.5 5.5-1.5 34.8-1.5-28.3-1.5-13.1-1.5-1-1.5 36.3-1.5-38.9-1.5-1.3-1.5 2.1-1.5 16.4-1.5-18.7-1.5 16.3-1.4-25.1-1.5 5-1.5 10.1-1.5 2.7-1.5-17.7-1.5 25.8-1.5 9.1-1.5-26.7-1.5 5.6-1.5-3.9-1.5-5-1.5-0.7-1.5 14.7-1.5-29.1-1.5 38.8-1.5-8.9-1.5-9.3-1.5-7.9-1.5 48.5-1.5-25.7-1.5-30-1.5-1.5-1.5 7.2-1.5 1.4-1.5-7.9-1.4-2.4-1.5 24.4-1.5-16.1-1.5 10.1-1.5-21.4-1.5 14.2-1.5-6.7-1.5-2.6-1.5 22.1-1.5-11.9-1.5 16-1.5-23.2-1.5 10.3-1.5-15.1-1.5 6.9-1.5-3.8-1.5 42.2-1.5-60.7-1.5 0.2-1.5 31.2-1.5-23.8-1.5-3.1-1.5 44.7-1.5-36.9-1.5 0.5-1.4 5.2-1.5-12.3-1.5 5.5-1.5 9.4-1.5 17.4-1.5-2.9-1.5-11.3-1.5 6.9-1.5-15.9-1.5 18.4-1.5 7.9-1.5-2.3-1.5 25.3z" fill="#e89ce2" stroke="#e89ce2" stroke-width="1.6"/>
<path d="M585.0 146.1l1.5 7.4 1.5 21.1 1.5 3.5 1.5-26.3 1.5 42.9 1.5-3 1.5-2.5 1.5 6.4 1.5-13.4 1.5-48.1 1.5 38.5 1.5-21.1 1.5 2.6 1.5 20.9 1.4-5 1.5 12.7 1.5-7.3 1.5 8.9 1.5-12.7 1.5 13.5 1.5-16 1.5 16.3 1.5-12.7 1.5-2.5 1.5 14.5 1.5-5.4 1.5 4.9 1.5-11 1.5-16.3 1.5-7.6 1.5 30.1 1.5-0.4 1.5-21.5 1.5 27.9 1.5-10.7 1.5-39.4 1.5 56.9 1.5-9.5 1.5 5.2 1.5-4.4 1.5 7 1.5-3.9 1.5-8.5 1.4 15.8 1.5-6.2 1.5-12.3 1.5-29.1 1.5 28.9 1.5-26.4 1.5 42.3 1.5-10.9 1.5 5.9 1.5-9 1.5 1.2 1.5 10.8 1.5-3.4 1.5 0.1 1.5-1.4 1.5-28 1.5 11.6 1.5-0.5 1.5 20.3 1.5 1.4 1.5-8.3 1.5-8.3 1.5 11.3 1.5 2.4 1.5 2 1.5-0.8 1.5-2.5 1.5-17.5 1.5 26.9 1.4-3.5 1.5 1.4 1.5-9.5 1.5 10.1 1.5 8.7 1.5-13 1.5-4.1 1.5 17.7 1.5-18.4 1.5-6.3 1.5 9.5 1.5-1.3 1.5-10.6 1.5-0.5 1.5-8 1.5 25.9 1.5 0.3 1.5 7.3 1.5-6.8 1.5 3.4 1.5-4.5 1.5-16.4 1.5 19 1.5-11 1.5 11.5 1.5-42 1.5 46.6 1.5-15.8 1.5 10.6 1.4-2.3 1.5 3.6 1.5-1.3 1.5 2.1 1.5-0.7 1.5-0.6 1.5 2.6 1.5-18.7 1.5 7.9 1.5 1.9 1.5 11.6 1.5-2.4 1.5-2.7 1.5 5.2 1.5-7.6 1.5 5.4 1.5-1.2 1.5-3 1.5-7.9 1.5 1.3 1.5 8.2 1.5-11.3 1.5 15.4 1.5-5.7 1.5-1.1 1.5-11.7 1.5-4.4 1.5 14.1 1.5-10.5 1.4 6.3 1.5 3.9 1.5-8 1.5-17.5 1.5 11.9 1.5 12.4 1.5 2.1 1.5-1 1.5 6.6 1.5-15.7 1.5 20.5 1.5-1.8 1.5-22.6 1.5 15.6 1.5 8.5 0 33.1-1.5-19.8-1.5 1.3-1.5 13.9-1.5-14.7-1.5-2.8-1.5 2-1.5 2.5-1.5-3.3-1.5 4.4-1.5 2.3-1.5-3.6-1.5 2.6-1.5 14.3-1.5-14.9-1.4-4-1.5 0.1-1.5 1.7-1.5-4.4-1.5 9.7-1.5-10.4-1.5 13.5-1.5-11.2-1.5 2-1.5-3.7-1.5 10.6-1.5-7.5-1.5 3.9-1.5 2-1.5 5.4-1.5-12.2-1.5 8.2-1.5-11-1.5 18.7-1.5-10.5-1.5 8.9-1.5-12.7-1.5 9.4-1.5-5.8-1.5 1.5-1.5 7.2-1.5-13.1-1.5-7.4-1.5 3.2-1.4 9.9-1.5-5.8-1.5-1.2-1.5 7.8-1.5 8.7-1.5-13.9-1.5 27.3-1.5-26.2-1.5 0.8-1.5-5.4-1.5 7.6-1.5 25.6-1.5-26-1.5 22.4-1.5-8.7-1.5-4.8-1.5-6.8-1.5-8.5-1.5 1.8-1.5 27.2-1.5-33.1-1.5 0.9-1.5 1.3-1.5 5.6-1.5 8.1-1.5 21.4-1.5-26.6-1.5-4.5-1.5 2.5-1.4 20.3-1.5-4.9-1.5-5.4-1.5 9.3-1.5-23.5-1.5 10-1.5 3.5-1.5 18.8-1.5-25.2-1.5-1.5-1.5 8.5-1.5-0.1-1.5-4.6-1.5 33-1.5-42.1-1.5 2.4-1.5-0.1-1.5 2-1.5 7-1.5-10.2-1.5 13.6-1.5-17.7-1.5-1.7-1.5 10-1.5 8.1-1.5-3.2-1.5-9.1-1.5-4.4-1.5 1.9-1.4 2.5-1.5-0.6-1.5-0.8-1.5 26.5-1.5-8-1.5-13.3-1.5 8.9-1.5-5.7-1.5-0.7-1.5 22.6-1.5-18.3-1.5-0.3-1.5 22.9-1.5-27.6-1.5 1.7-1.5-4-1.5 50-1.5-53-1.5 10.5-1.5-11.1-1.5 1.4-1.5-0.6-1.5 4.8-1.5 7.7-1.5 6.1-1.5-3.9-1.5 13.9-1.5-18.7-1.5-6.6-1.4 7.8-1.5-3.2-1.5-3.2-1.5 50.6-1.5-49.7-1.5 28.9-1.5-7.9-1.5-15.9-1.5 8.8-1.5 16.4-1.5-25-1.5 9.2-1.5-19.5-1.5 10.6-1.5 56.7zM830.0 256.7l1.5-3 1.5-15.2 1.5-1.1 1.5 11 1.5-7.2 1.5 1.5 1.5 5.7 1.5-19.6 1.5 25.2 1.5 8.9 1.5-3.6 1.6 5.9 1.5-7.4 1.5-7.2 1.5-22.2 1.5 35.7 1.5-6.1 1.5-1.6 1.5-1.3 1.5 5 1.5 2.7 1.5-7.6 1.5 3.8 1.5 11.9 1.5 1.5 1.5-9.7 1.5 10.7 1.5-8 1.5 8.3 1.5-17.3 1.5 17.6 1.5 3.5 1.5-12.8 1.6 5.2 1.5-4.1 1.5 9.2 1.5-16.5 1.5 17 1.5 0.8 1.5 2.8 1.5 0.8 1.5 7.6 1.5-39.9 1.5 38.3 1.5-1.9 1.5-15.9 1.5 1.9 1.5 10.2 1.5 7.4 1.5-2.7 1.5 8.6 1.5-4 1.5 6.7 1.5 2.1 1.5 0.2 1.5-1.7 1.6-14.9 1.5 14.3 1.5-30.4 1.5 39.1 1.5 1.8 1.5 1.1 1.5 2.9 1.5-2.3 1.5-1.4 1.5 5.8 1.5-16.3 1.5-5.9 1.5 18 1.5 7.1 1.5-3.8 1.5-8 1.5 4.3 1.5 15 1.5-30.3 1.5 38.2 1.5-19.5 1.5 1.1 1.5 23.5 1.6-3.3 1.5 12 1.5-10.6 1.5 6.7 1.5-0.6 1.5 5.2 1.5-1 1.5-17.3 1.5 1.9 1.5 15.2 1.5-6.3 1.5 18.5 1.5-0.6 1.5-10.1 1.5 2.4 1.5-34.4 1.5 37.5 1.5-10.5 1.5-11.9 1.5 30.9 1.5 4.2 1.5 5.9 1.6-9.6 1.5-16.9 1.5 9.2 1.5 10.4 1.5-5.8 1.5 12.8 1.5-17.1 1.5-12.4 1.5 3.9 1.5 29.1 1.5-2.9 1.5-22.1 0 75.8-1.5-16.3-1.5 13.2-1.5-12.6-1.5 44.1-1.5-46.7-1.5-0.5-1.5-6.7-1.5-0.6-1.5 38.5-1.5-42.4-1.5-2.9-1.6-5.7-1.5 21.8-1.5-21.2-1.5 2.7-1.5 10.7-1.5-15-1.5 0.1-1.5-0.7-1.5-9.7-1.5-1-1.5 0.7-1.5-2.5-1.5 6.4-1.5 7.7-1.5-11.9-1.5-8.5-1.5 22.6-1.5-19.2-1.5 28.9-1.5-26.7-1.5-0.2-1.5-6.8-1.6-6.3-1.5 18.2-1.5-19.1-1.5-3.6-1.5-6-1.5 5-1.5-1.2-1.5-12.5-1.5 9.9-1.5 15.5-1.5-15.1-1.5 1.1-1.5-5.2-1.5-8.5-1.5 10.9-1.5 2.3-1.5 6.8-1.5-21.4-1.5 0.7-1.5 2-1.5-7.4-1.5-3.2-1.5 28.5-1.6-24-1.5-5.6-1.5 29.2-1.5-32.9-1.5 25.1-1.5-29.8-1.5 9.2-1.5-13.3-1.5 11.9-1.5-8.1-1.5-0.2-1.5 10.9-1.5-21.9-1.5 4.1-1.5-2.9-1.5 3-1.5-1-1.5-8-1.5 7.2-1.5 11.4-1.5-14-1.5 18-1.5-19.5-1.6 0.5-1.5-12.9-1.5 6.3-1.5-5.3-1.5-0.7-1.5-1.3-1.5 2.5-1.5-8.6-1.5 20-1.5-6.5-1.5 9.5-1.5-16.7-1.5 7.3-1.5-12-1.5-1.3-1.5-3.5-1.5 7.8-1.5 23.5-1.5-27-1.5-7.6-1.5 14.8-1.5-9.5-1.6 11.1-1.5 2.2-1.5-7.6-1.5-8.7-1.5 1.7-1.5 0.4-1.5-8.7-1.5 6.1-1.5 11.6-1.5-15-1.5 9.1-1.5-11.6z" fill="#e0622c" stroke="#e0622c" stroke-width="1.6"/>
<path d="M802.0 215.0 830.0 245.0" stroke="#e0622c"/>
<path d="M604.0 236.4l1.5 0.5 1.5 4.6 1.5-13.5 1.5 5.1 1.5 14 1.5 0.7 1.5-27.9 1.5 33.7 1.5-12.8 1.5 7.1 1.5 2.3 1.5 3.9 1.5 6.8 1.5-3.7 1.5-7.9 1.5 2.4 1.5 2.1 1.5 5.6 1.5 4.6 1.5-19.6 1.5 34.7 1.5-4.5 1.5-4.3 1.5-3.2 1.5 8.1 1.5 9 1.5 0.6 1.5-3.5 1.5-4 1.5-0.6 1.5 7.7 1.5 1.7 1.5 5.8 1.5-4 1.5 0.7 1.5 10.3 1.5-0 1.5 15.1 1.5-2.1 1.5-7.6 1.5-14.5 1.5 14.9 1.5-17.8 1.5 28.7 1.5-6 1.5-24.4 1.5 29.4 1.5 10.6 1.5-40.1 1.5 36.1 1.5-25.3 1.5 0.3 1.5 32.2 1.5-11 1.5 3.7 1.5-16.7 1.5 22.7 1.5-30.3 1.5 47.8 1.5 14.7 1.5 19.8 1.5-5 1.5-36.8 1.5 16.7 0 63.7-1.5 21.1-1.5-17.7-1.5-16.9-1.5-8-1.5 5.7-1.5 35.5-1.5-62.4-1.5-15.4-1.5 14.9-1.5 2.9-1.5-5.6-1.5 40.7-1.5 4.7-1.5-12.9-1.5-18.8-1.5-16.2-1.5 5-1.5-18.4-1.5-3.2-1.5 27.5-1.5-16-1.5-4.4-1.5-21.1-1.5 24.8-1.5-15.9-1.5 29.4-1.5 3.4-1.5-35.7-1.5-0.1-1.5-10.7-1.5 4.1-1.5-2.8-1.5 42.7-1.5-50.4-1.5-4.3-1.5 2.7-1.5 9.1-1.5-29.2-1.5 17.7-1.5-2-1.5-23.1-1.5 15.5-1.5-7.4-1.5 0.8-1.5-10.4-1.5 43-1.5-52.2-1.5 10.7-1.5-4.9-1.5-4.1-1.5-0.5-1.5-1-1.5 24-1.5-30.2-1.5 15.9-1.5-19.5-1.5 0.1-1.5-12-1.5-4.4-1.5 34.1-1.5-21.8-1.5 5.2-1.5-4.1-1.5-15.4z" fill="#38388a" stroke="#38388a" stroke-width="1.6"/>
<path d="M560.0 87.1l1.5 4.1 1.5-6.4 1.5 12.6 1.5-6.8 1.5 4.6 1.5 5 1.5-18.5 1.5 8.7 1.5-3.5 1.5 3.9 1.5-0.1 1.4-6.6 1.5 10.5 1.5 3.2 1.5-2.5 1.5-12.8 1.5 11.5 1.5 5.8 1.5-20.5 1.5 11.1 1.5 3.1 1.5-31.6 1.5 15.1 1.5 8 1.5 15.9 1.5-15.7 1.5 9.5 1.5-2.1 1.5 13.6 1.5-29.2 1.5 2.1 1.5 26.3 1.5-4.7 1.5 2 1.4 0.3 1.5 5.5 1.5-3.6 1.5-7 1.5 9.4 1.5-0.1 1.5-34.3 1.5 21.1 1.5-5.1 1.5 14.4 1.5 0.5 1.5-17.5 1.5 18 1.5-34 1.5 34.4 1.5 9.1 1.5 0 1.5-31.1 1.5 2.1 1.5 30.2 1.5-39.7 1.5 38.6 1.5-10.3 1.4-17.3 1.5 39.2 1.5-9.9 1.5 5.9 1.5 10.8 1.5-31 1.5 39.1 1.5-24.4 1.5 10.3 1.5-34.5 1.5 42.9 1.5 5.6 1.5-6.9 1.5 8.1 1.5 6.7 1.5-0.4 1.5 13.1 1.5-3 1.5 10 1.5-6.6 1.5 1.5 1.5 2 1.5 12.9 1.4-2.5 1.5-4.8 1.5-21.9 1.5 28.3 1.5-2.7 1.5-11.1 1.5 25.4 1.5-1.1 1.5-26.5 1.5 3.1 1.5 34.1 1.5 22.2 1.5 2.1 1.5-3.3 1.5 14 1.5-5.4 1.5 19.1 1.5-32.7 1.5 31.7 1.5-4.3 1.5-23.3 1.5 40.6 1.5 0.3 1.4 0.3 1.5 2.7 1.5 4.6 1.5-2 1.5-21.1 1.5 24.1 1.5 1.7 1.5-2.8 1.5 9.4 1.5 7.1 1.5-11.4 1.5 17 0 30.3-1.5 2.7-1.5-12.4-1.5-5.6-1.5-4.3-1.5 1.3-1.5 13.5-1.5-26.7-1.5 2.4-1.5 25.2-1.5-18.4-1.5 8.3-1.4-18.2-1.5 31.7-1.5-36.2-1.5 11.1-1.5-19.6-1.5 12.6-1.5-26.5-1.5 0.7-1.5 9.5-1.5-17.5-1.5 26.9-1.5-34-1.5 12.3-1.5-30-1.5-4.6-1.5-3.8-1.5-2.8-1.5 1.3-1.5-3.5-1.5 17.9-1.5-17.3-1.5-2.7-1.5-6.1-1.4-12.6-1.5 6-1.5-2-1.5 5.2-1.5-18.8-1.5 12.1-1.5 3.4-1.5-8.4-1.5-7.6-1.5 1.8-1.5 23.8-1.5-41.1-1.5-6.5-1.5 23.7-1.5-22.2-1.5-7.8-1.5 3.5-1.5 15.9-1.5-20.7-1.5 15.5-1.5 3.2-1.5-21.7-1.5-1.3-1.4 14.4-1.5-14.1-1.5 39.5-1.5 0.8-1.5-26-1.5-20.6-1.5 8.8-1.5-6.7-1.5 16.5-1.5-21.1-1.5-9.9-1.5 6.5-1.5-1.4-1.5-3.3-1.5 1.2-1.5 21.4-1.5-32.2-1.5-0.7-1.5 3.4-1.5-2-1.5-2.9-1.5 1.4-1.5-3.4-1.4 2.9-1.5 0.1-1.5-10.5-1.5-0.7-1.5 1.5-1.5 3.3-1.5-7.4-1.5 1.6-1.5 37.9-1.5 2.3-1.5-30.3-1.5 16.1-1.5-21.3-1.5 2.4-1.5-8.8-1.5 22.8-1.5-16.7-1.5 3-1.5-3.3-1.5 5.5-1.5 1.4-1.5-1.5-1.5-5.3-1.4 24.1-1.5-5.3-1.5 8.6-1.5-23.8-1.5 4-1.5 30.3-1.5-39.2-1.5-0.7-1.5 5.8-1.5 46.9-1.5-42.6-1.5-6.6z" fill="#0ab0f5" stroke="#0ab0f5" stroke-width="1.6"/>
<path d="M692.0 320.8l1.5-10.8 1.5-0.5 1.5-20.4 1.5-21.8 1.5 4.3 1.5-33.3 1.5 34.8 1.5 9.1 1.5-9.8 1.5-3.8 1.5-39.1 1.5 6.4 1.5-4.8 1.5-9.5 1.5 1.8 1.5-30.6 1.5 4.1 1.5 18.9 1.5 3.4 1.5-36.2 1.5 28.9 1.5-2.2 1.5-21.4 1.5 13.3 1.5-36.7 1.5 54.5 1.5-3.2 1.5-6.5 1.5-8.9 1.5 3.5 1.5 2.1 1.5-4.5 1.5 8.8 1.5-6.3 1.5-18.4 1.5-0.5 1.5 13.7 1.5 2.3 1.5 3.2 1.5-13.3 1.5 12.8 1.5-12.4 1.5 5.8 1.5-16 1.5 6.2 1.5-12.8 1.5 14.8 1.5 6.8 1.5-12.9 1.5 14.1 1.5-15.3 1.5-3.6 1.5 10.3 1.5 8.1 1.5-17.1 1.5 17.5 1.5-32.7 1.5 3.2 1.5 25.3 1.5-13.9 1.5 7.4 1.5 7.3 1.5-15.4 1.5-2.4 1.5 17.6 1.5 2 1.5-17.9 1.5 8.5 1.5-13.4 1.5 22.2 1.5-12.6 1.5-1.2 0 34.1-1.5 38.7-1.5-14.2-1.5-20.1-1.5-3.8-1.5 0.4-1.5 25.1-1.5-21.1-1.5 22.8-1.5-18-1.5 1.7-1.5 1.5-1.5 10.3-1.5-11-1.5 11.6-1.5-17-1.5 3.1-1.5 28.9-1.5-21.7-1.5 2.1-1.5-0.6-1.5-6.5-1.5 3-1.5 22.8-1.5-9.9-1.5 20.8-1.5-35.4-1.5 13.3-1.5-8.5-1.5-2.9-1.5-4.6-1.5-5.7-1.5 9.1-1.5-0.3-1.5-7.4-1.5 2-1.5 23.9-1.5-4.3-1.5 20.9-1.5-29.9-1.5 7-1.5-0.3-1.5 2.6-1.5-0.4-1.5 8.9-1.5-2-1.5 29.5-1.5-27.9-1.5 10.7-1.5-3.7-1.5-0.5-1.5 7.6-1.5-7.4-1.5 9.2-1.5 2.1-1.5 16.3-1.5-20.2-1.5-1.6-1.5-8.5-1.5-0.2-1.5 28.9-1.5-2.4-1.5 43.5-1.5-19.6-1.5 29.3-1.5 26.5-1.5-38.8-1.5 26.8-1.5-21.7-1.5 17.7-1.5 2.8-1.5 34.2-1.5-25.9zM845.0 240.2l1.5 4.7 1.5-17.5 1.5 12.2 1.5 1.4 1.5-13.4 1.5 14.5 1.5-26.8 1.5 34.4 1.5 0.7 1.5 7.2 1.5-7.1 1.5 2.5 1.5 3.2 1.5-1.2 1.5-1.2 1.5-9.5 1.6 5.1 1.5 6 1.5 3.4 1.5-1.7 1.5-16.2 1.5 20.5 1.5-18.5 1.5 13.4 1.5 2.7 1.5 1.9 1.5 1.2 1.5-22.1 1.5 14.1 1.5 1.9 1.5-3.1 1.5-2.3 1.5 12.7 1.5-2.1 1.5-2.2 1.5-3.3 1.5-12.5 1.5-22.3 1.5 18 1.5 3.4 1.5 0.1 1.5 8.7 1.5-1.1 1.5 1.5 1.5 4.4 1.5 2.1 1.5-13.3 1.5 10.4 1.6 2.7 1.5-4.3 1.5 8.7 1.5-22.1 1.5 4.6 1.5-0.9 1.5 21.2 1.5 0.5 1.5-7.4 1.5 4.6 1.5-5.5 1.5-36.5 1.5 23.5 1.5 8.8 1.5 7.6 1.5 4.1 1.5 1.4 1.5-5.5 1.5 4.8 1.5-3.2 1.5 7.3 1.5-1.4 1.5-5.8 1.5-27.8 1.5 34.9 1.5-3.4 1.5-2.4 1.5-13.8 1.5 10.6 1.5-4.8 1.5 1.6 1.5-4 1.5 11 1.6-6.2 1.5 3 1.5-5.5 1.5-22.8 1.5 34.6 1.5-9.7 1.5 10.2 1.5-12 1.5 12.8 1.5 4.8 1.5-1.3 1.5-17.1 1.5 9.4 1.5 0.4 1.5 0.4 1.5-0.8 1.5-25.2 1.5 28.2 1.5-2.3 1.5-2.5 1.5 7.2 1.5-1.3 1.5 4.2 1.5 1.5 1.5 4.9 1.5-30.8 1.5 11.1 1.5 9.5 1.5 9 1.5-0.8 1.5-4.7 1.5 4 1.5-22.2 1.6-7.9 1.5 38.7 1.5-1.8 1.5-0.2 1.5-2.5 1.5 3.4 1.5-1.4 1.5 7.8 1.5-14.9 1.5 6.8 1.5 16.9 1.5 3.5 1.5-25.4 1.5 12.7 1.5 17.6 1.5 5.8 1.5-5.4 1.5-9.7 1.5 9.3 1.5 5.3 1.5 2 1.5-1.6 1.5 3.7 1.5-2.9 1.5 2.9 1.5-2.3 1.5-1.4 1.5-14.8 1.5 17.1 1.5-4.1 1.5-10.6 1.5 12.3 1.6-12.2 1.5 12.4 1.5 0.8 1.5 1 1.5-0.5 1.5 2.2 1.5-0.4 1.5-16.6 1.5-8.3 1.5 25.6 1.5-2.2 1.5-7.5 1.5 12.5 1.5-46.3 1.5 44.3 1.5 4.4 1.5 1.6 0 13.6-1.5 4.6-1.5 36.4-1.5-37.6-1.5 3.9-1.5-3.9-1.5 8.3-1.5-7.8-1.5 1.7-1.5 25.2-1.5-26-1.5 1.2-1.5 26.2-1.5-26.7-1.5 2.1-1.5-3.9-1.5-0.7-1.6-1.1-1.5 2.2-1.5 5.2-1.5-11.3-1.5 22.3-1.5-23.5-1.5-0.7-1.5 2-1.5 4-1.5 11.3-1.5-17.1-1.5 20.9-1.5-18-1.5-13-1.5 25.3-1.5-22.3-1.5-0.2-1.5 11.7-1.5-6.9-1.5 11.5-1.5-21.2-1.5-0-1.5 16-1.5-18.5-1.5-4.7-1.5-1.3-1.5-0.7-1.5-8.8-1.5-2.4-1.5-2.8-1.5 6.3-1.5-4.7-1.6-3.8-1.5 11.9-1.5-9.8-1.5 17-1.5-23.1-1.5-0.9-1.5 1.2-1.5 3.4-1.5 3-1.5-2.3-1.5-15.2-1.5 6.8-1.5 12-1.5 0.9-1.5-14-1.5-2.5-1.5 14.4-1.5-12.4-1.5-1.3-1.5-4.8-1.5 8.3-1.5-5.3-1.5-3-1.5-1.6-1.5 8.8-1.5 8.8-1.5-7.4-1.5 15.9-1.5-16.8-1.5 2.7-1.5 2.6-1.5 4.9-1.5-15.1-1.6 0.1-1.5-0-1.5 7.9-1.5-7.2-1.5 17-1.5-14.2-1.5 1.8-1.5-4.1-1.5 18.8-1.5-22.7-1.5 3.7-1.5 0.6-1.5 13.6-1.5-4.5-1.5-3.8-1.5-3.2-1.5 4.8-1.5 33.2-1.5-39.2-1.5 0.9-1.5-7.8-1.5 37.1-1.5-30.5-1.5-0.3-1.5 17.3-1.5-15.8-1.5 11.7-1.5-9.6-1.5-5-1.5 0.4-1.5 16.2-1.5 6.3-1.5-20.8-1.6 6-1.5-1-1.5-13.9-1.5 8.6-1.5 3.8-1.5-5.3-1.5 1.6-1.5 11.6-1.5-13.6-1.5-0.6-1.5-7.1-1.5 19.5-1.5-13.1-1.5-0.2-1.5 4-1.5-3.9-1.5 7.9-1.5 25.4-1.5-27.4-1.5-8.3-1.5 1.4-1.5-0.7-1.5 2.8-1.5-3.2-1.5 3.2-1.5 32.9-1.5-38.8-1.5 43.8-1.5-44.1-1.5-7.8-1.5 2.3-1.5 22.9-1.6-15.5-1.5 8.9-1.5-9.2-1.5-5-1.5 21.6-1.5-18-1.5-10.7-1.5 12-1.5-11.1-1.5 4.5-1.5 3.5-1.5-5.1-1.5 9.1-1.5-15.2-1.5 3.1-1.5-5-1.5 4.5zM1122.0 324.3l1.5 4.9 1.5-31.2 1.5 25.9 1.5 6.1 1.6-16.7 1.5 17.7 1.5-12.9 1.5 2 1.5 5.5 1.5-1.2 1.5 3.7 1.5-1.8 1.5-1.4 1.6-27.3 1.5 25.9 1.5 0.6 1.5-14 1.5 21.7 1.5 8.5 1.5 4.2 1.5-15.3 1.5-9.4 1.6-14.2 1.5 5.1 1.5 26.7 1.5-8.1 1.5 7.1 1.5 13.2 1.5-0.6 1.5-20.5 1.5 7.5 1.6 2.3 1.5 2.2 1.5-61.3 1.5 17.2 1.5 41.4 1.5 1.4 1.5-54.2 1.5 28.7 1.5 10.9 1.6 2.6 1.5 3 1.5-52.7 1.5 56.2 1.5-1.9 0 27.3-1.5-4.8-1.5 2.9-1.5 30.5-1.5-18.9-1.6 0.9-1.5 29.2-1.5-13.6-1.5-14.8-1.5-1.1-1.5 2.4-1.5 6-1.5 4.1-1.5-13.2-1.6 8.4-1.5 31.9-1.5-45.6-1.5 10.6-1.5 28.5-1.5-41-1.5 35-1.5 2.1-1.5-6.6-1.6-20.6-1.5 22.5-1.5-23.3-1.5-4.7-1.5 17.5-1.5-1.5-1.5 10.2-1.5-16.8-1.5-0.2-1.6 1.2-1.5 9.1-1.5-16.2-1.5 4.7-1.5 6.5-1.5-6.6-1.5 25.7-1.5-28.2-1.5 8-1.6-16.4-1.5 30.1-1.5-35.5-1.5 13.8-1.5-6.4z" fill="#a0e82a" stroke="#a0e82a" stroke-width="1.6"/>
<path d="M802.0 190.0 822.0 205.0 826.0 168.0 836.0 168.0 845.0 235.0" stroke="#a0e82a"/>
<path d="M1000.0 251.8l1.5-2.7 1.5-2.3 1.5-6.6 1.5 12.2 1.5-5.4 1.5 6.8 1.4 0.6 1.5 5.2 1.5-12 1.5 15.4 1.5-4.7 1.5-20.7 1.5 10.2 1.5 14.5 1.5-32 1.5 34 1.5-4.2 1.5-67.9 1.5 60.2 1.5 8.9 1.4-8.4 1.5 4.9 1.5-0.2 1.5-53.2 1.5 45.5 1.5 1.6 1.5 2.3 1.5-12.1 1.5-14.2 1.5 29.5 1.5-1.7 1.5-52.3 1.5 49.9 1.4-4.2 1.5-3.1 1.5 6.3 1.5-11.2 1.5 4.9 1.5-33.8 1.5 41.2 1.5-6.3 1.5 2.4 1.5-2.8 1.5 10 1.5 6.2 1.5-9.1 1.4-6.3 1.5 4.4 1.5-13.5 1.5 14.6 1.5 4.5 1.5-4.7 1.5-2.7 1.5 1.1 1.5-5.5 1.5 5.4 1.5 1.5 1.5-0.2 1.5 0.8 1.5 5.6 1.4-9 1.5 2.6 1.5 3 1.5 3.4 1.5 0.6 1.5 1.8 1.5 0.5 0 9.5-1.5 4.6-1.5 2.6-1.5 4.5-1.5-7-1.5 16.1-1.5-16-1.4 1.9-1.5-0.1-1.5 39.7-1.5-36-1.5-4.5-1.5-5.4-1.5-1.9-1.5-0.1-1.5 8.9-1.5-2.9-1.5-4-1.5 1.9-1.5 4.3-1.5 3.1-1.4 4-1.5-11-1.5 42.1-1.5-39.7-1.5 2.4-1.5 2.1-1.5-1.3-1.5 7-1.5 14-1.5-26.8-1.5 11-1.5-10.7-1.5 18.7-1.4-19.9-1.5 10-1.5-2.8-1.5 7.2-1.5 16.2-1.5-7.9-1.5 4.9-1.5-6.4-1.5-8.4-1.5 8.7-1.5 9.2-1.5-11.2-1.5 3.6-1.4-6-1.5-4-1.5 4.6-1.5-8.6-1.5-3.2-1.5 8.8-1.5-0.1-1.5 16.4-1.5-13.2-1.5-3.7-1.5 4.9-1.5-6.4-1.5 0.4-1.5 9.3-1.4 37.8-1.5-30.5-1.5-6.3-1.5 0-1.5-2.3-1.5-6.4-1.5 6.4zM1123.0 247.3l1.5-3.1 1.5 0.7 1.5-5.1 1.5 3.4 1.5-1.2 1.5 0.2 1.5-2.2 1.5 0 1.5 0.1 1.5-4.2 1.5-0.4 1.5 1.8 1.5-0.9 1.5-2.3 1.5 0.2 1.5-0.6 1.5-1.4 1.5-1.9 1.5 0.2 1.5-1.4 1.5 0.2 1.5-1.6 1.5-6 1.5 4 1.5 0.8 1.5 0.1 1.5-1 1.5-0.2 1.5 1 1.5-0 1.5-0.6 1.5-0.8 1.5 0.4 1.5-0.4 1.5-0 1.5-1.7 1.5 2.3 1.5 0.5 1.5 0.4 1.5-2.2 1.5 0.5 1.5 0.3 1.5-0.7 1.5 0.6 1.5-1.1 1.5-0.2 1.5 1.3 1.5 1.2 1.5-10.3 1.5 9.2 1.5-1 1.5-0.2 1.5-1 1.5 2 1.5-3.1 1.5-1.4 1.5-0.5 1.5-3.7 1.5 2.7 1.5 0.7 1.5-1.7 1.5 0.3 1.5-0.1 1.5-2.2 1.5 1.6 1.5-3.2 1.5 0.4 1.5-13 1.5 14.3 1.5-11.6 1.5 9.4 1.5-0.5 1.5-0.1 1.5-1.3 1.5 0.5 1.5-1.3 1.5-1.2 1.5 2.3 1.5-1.1 1.5-0.5 1.5-0.8 1.5-2 1.5 1.4 1.5-2 1.5 1.4 1.5-4 1.5 1 1.5 1.3 1.5-1.7 1.5 1.5 1.5-2.1 1.5-2 1.5-2.2 1.5-1.1 1.5-1.8 1.5-1.8 1.5 0.3 1.5-1 1.5-3.1 1.5 0.1 1.5-2.6 1.5-0.7 1.5 0.7 1.5-4.4 1.5-4.4 1.5-3.3 1.5-6.5 1.5-4.2 1.5-10.7 1.5-20.6 1.5 12.3 1.5-2.6 1.5-3.7 1.5 0 1.5-2.8 1.5 4.9 1.5 2.8 1.5-21.1 1.5 20.7 1.5-2 1.5-14.4 1.5 17.3 1.5-2.8 1.5-5.9 1.5 3.9 1.5-2.2 1.5-6 1.5 8.4 1.5-43.4 1.5 42.9 1.5-0.7 1.5-7 1.5 5.6 1.5-40.5 1.5 36.6 1.5 1.8 1.5-5.6 1.5-0.2 1.5-5.3 1.5-28 1.5 21.7 1.5 5 1.5 2.2 1.5-1.2 1.5-4.7 1.5-30.7 1.5 29.5 1.5 6.4 1.5-5.7 1.5-0.5 1.5 1.3 1.5-4.7 1.5-28.8 1.5 35.1 1.5-1.7 1.5 7.7 1.5-25.4 1.5 15 1.5-1.7 1.5 1.4 1.5 5.1 1.5-4.7 1.5 0.2 1.5 2.1 1.5-1.2 1.5 0.6 1.5 0.9 1.5 2.9 1.5-10.1 1.5 10.3 1.5-2.9 1.5-1.9 1.5-1.7 1.5 2.8 1.5-12.7 1.5 17.3 1.5-3.3 1.5-4.1 1.5 5.3 1.5-3.6 1.5-2.4 1.5 3.1 1.5 3.7 1.5-7.1 1.5-3.5 1.5 5 1.5-3.4 1.5-0.2 1.5-31.3 1.5 19 1.5 11.7 1.5 2 1.5 5.3 1.5-1.3 1.5-8.6 1.5 5.6 1.5-39.7 1.5 37.7 1.5-25.7 1.5 15 1.5 6 1.5-2.6 1.5 3 1.5-4.2 1.5 8.8 1.5-11 1.5 12.1 1.5-4.3 1.5-3.2 1.5 3.6 1.5 2.2 1.5-2.1 1.5 3.2 1.5-6.4 1.5-13.2 1.5 11.3 1.5 7.1 1.5-3.4 1.5 0.7 1.5-0.7 1.5-2.8 1.5 6.2 1.5-10.7 1.5-6.9 1.5 11.8 1.5 8.1 1.5 3.3 1.5 4.7 1.5 7.4 1.5-0.3 1.5 5.6 1.5 4.4 1.5 5.3 1.5-8.5 1.5 11.7 1.5 4.6 1.5-0.1 1.5 0.1 1.5 0.2 1.5 0.5 1.5 3.3 1.5 3.7 1.5 2.8 1.5 1.3 1.5 0.8 1.5 2.9 1.5-11.9 1.5-18.6 1.5 34.5 1.5-2.8 1.5-3.6 1.5-0.4 1.5 2 1.5 3.9 1.5 2.3 1.5-0.2 1.5 3.7 1.5-4 1.5 1.1 1.5 0.9 1.5 3.2 1.5-0.7 1.5-7.1 1.5 5.7 1.5 1.9 1.5 4 1.5 1.7 1.5-6 1.5 8.8 1.5-12.4 1.5 9.7 1.5-0.8 1.5-3.1 1.5 0.4 1.5 4.5 1.5-9.2 1.5 0 1.5-24.2 1.5 35 1.5-2.2 1.5 3.5 1.5-1.5 1.5 2.9 1.5 0.8 1.5-38.4 1.5 40.2 1.5 1.9 1.5-5.3 1.5-1.9 1.5-0.9 1.5 2.3 1.5 3.9 1.5-2.6 1.5-1.5 1.5 8.1 1.5-5.9 0 33.9-1.5-1.6-1.5-6.8-1.5 1.2-1.5-2-1.5-5.6-1.5-1.6-1.5 9.1-1.5-6.5-1.5 4-1.5 1.5-1.5 1.3-1.5-3.5-1.5 26-1.5-28.6-1.5-5-1.5 5.3-1.5-2.8-1.5-2.5-1.5 4-1.5 3.6-1.5-2.6-1.5-1.6-1.5-0.4-1.5-2.6-1.5 2.1-1.5 23.8-1.5-22.6-1.5 8-1.5-4.5-1.5-6.2-1.5 1.5-1.5-9.5-1.5 3.6-1.5-3.6-1.5 0.9-1.5-3.6-1.5 3.7-1.5-5.5-1.5 6.9-1.5-1.6-1.5-0.6-1.5-3.8-1.5-0.2-1.5-6.2-1.5 1.1-1.5-0.2-1.5-5.7-1.5 1.3-1.5 0.6-1.5-0.9-1.5-1.5-1.5 0.3-1.5-1.1-1.5-3.2-1.5-1.4-1.5-3.4-1.5-6.8-1.5 10.2-1.5 12.2-1.5-23.7-1.5-2.4-1.5-1.9-1.5-6.3-1.5 1-1.5-3.7-1.5-2.3-1.5 2.5-1.5-9.7-1.5 13.9-1.5-26-1.5-3.6-1.5 0.6-1.5 2.8-1.5-0.2-1.5 2.6-1.5 28-1.5-27.7-1.5-1-1.5-4.6-1.5-2.1-1.5 2-1.5 9.2-1.5-6.1-1.5-2-1.5 0.9-1.5 0.6-1.5-3.9-1.5 5.7-1.5 26.3-1.5-28.7-1.5-3.9-1.5 3.8-1.5-1.4-1.5-0.6-1.5 4.8-1.5-1.7-1.5-2.5-1.5 3.1-1.5-4-1.5-1.6-1.5-2.4-1.5 1.5-1.5 2.2-1.5-0.9-1.5-1.2-1.5 6-1.5 0.3-1.5-5.4-1.5 4.9-1.5 3.3-1.5-7.2-1.5 6.7-1.5-5.5-1.5 2.8-1.5-0.8-1.5 37.2-1.5-29.5-1.5-5.1-1.5 30-1.5-26.7-1.5-4.2-1.5 39-1.5-36.6-1.5-0.6-1.5 1.6-1.5 0.6-1.5 2.9-1.5-5.9-1.5-2.2-1.5-0.1-1.5-0.6-1.5-2.9-1.5 2.4-1.5-1.9-1.5 2.9-1.5 0.7-1.5-3.4-1.5 4.8-1.5 2.9-1.5 26.3-1.5-30-1.5 7.1-1.5 2.9-1.5-3.4-1.5 27.4-1.5-30.3-1.5 19.2-1.5-17.3-1.5-0.4-1.5 13.1-1.5-9.4-1.5 14.9-1.5-17.6-1.5 2.6-1.5 1.2-1.5-8.3-1.5 4.8-1.5 10.8-1.5 24.3-1.5-25.8-1.5-2-1.5 2.4-1.5-2.1-1.5-5.5-1.5 5-1.5 2-1.5 3.2-1.5-3.4-1.5 2.8-1.5 2.6-1.5-1.5-1.5 1.1-1.5-3-1.5 3.5-1.5 7-1.5 4.3-1.5-8.3-1.5 2.5-1.5 12.2-1.5-5.2-1.5 7.3-1.5 23.2-1.5-30-1.5-3.7-1.5 11.2-1.5-1.9-1.5 3.7-1.5 4-1.5 5-1.5 2-1.5 2.8-1.5 2.1-1.5 2.4-1.5-1-1.5 4.3-1.5 0.6-1.5 1.2-1.5 4.4-1.5-3-1.5 2.1-1.5 2.8-1.5 1.2-1.5 1-1.5-0.1-1.5 1.6-1.5 3-1.5-2.6-1.5-0.3-1.5 1.4-1.5-0.7-1.5 8.9-1.5-6.1-1.5-0.9-1.5-0.4-1.5-0.6-1.5 5.3-1.5-0.6-1.5 8.4-1.5-8.6-1.5 2.7-1.5 0.1-1.5-2.9-1.5 13.2-1.5-11.3-1.5 1.1-1.5 2-1.5-0-1.5-0.5-1.5-0.5-1.5 2.3-1.5-1.5-1.5 2.2-1.5 1.3-1.5-1.9-1.5 2.3-1.5-1.8-1.5 0.3-1.5 1.9-1.5 0.6-1.5-0.4-1.5 1.3-1.5 1-1.5-0.2-1.5-0.6-1.5 0.7-1.5-0.4-1.5-0.5-1.5 0.8-1.5 1.2-1.5-0.9-1.5-0.7-1.5 3.4-1.5-1.3-1.5-0.2-1.5 0.5-1.5 0.7-1.5 0.2-1.5-0.8-1.5 0.5-1.5-1.1-1.5-0.4-1.5 3.7-1.5-3.4-1.5 0.7-1.5 0.1-1.5 0.7-1.5-0.6-1.5-2.1-1.5 0.5-1.5 0.8-1.5-0.4-1.5 0.4-1.5 1.1-1.5 1.9-1.5 1.2-1.5 0.2-1.5 0.7-1.5 3.8-1.5-0.5-1.5 0.8-1.5 1.6-1.5-0.2-1.5-0.5-1.5 1.7-1.5 0.2-1.5 2.2-1.5 0.7-1.5 1.1-1.5 1-1.5 2.1-1.5 4.6-1.5-3.7-1.5 0.1-1.5 1.1-1.5-1.6-1.5 17z" fill="#c25a78" stroke="#c25a78" stroke-width="1.6"/>
<path d="M1100.0 270.0 1123.0 253.0" stroke="#c25a78"/>
<path d="M730.0 234.7l1.5 15.2 1.5 13.3 1.5-10.5 1.5-7.2 1.5 2.8 1.5-14.5 1.5 19.2 1.5-16.6 1.5 0.4 1.5-10.4 1.5 8.5 1.5-2 1.5 4.1 1.5 2.6 1.5-12.2 1.5-39.1 1.5 38 1.5 5.2 1.5-0 1.5-2 1.5-11.1 1.5 10.7 1.5 6.1 1.5-4.6 1.5 0.2 1.5 3.2 1.5-6.5 1.5-22 1.5 26.6 1.5-29.7 1.5 38.8 1.5 1 1.5-8.9 1.5 2.3 1.5-8.8 1.5 15.1 1.5-11.9 1.5-25.9 1.5 27.9 1.5 7.5 1.5 3.9 1.5-6.5 1.5 4.4 1.5 1.7 1.5-1.7 1.5-16.3 1.5-1.9 1.5 10.8 0 35.1-1.5-5.2-1.5 27.6-1.5-25.2-1.5 23.6-1.5-21.2-1.5 30.3-1.5 0.6-1.5-30.2-1.5-0-1.5 14.3-1.5-20-1.5 33-1.5-30.6-1.5 20.1-1.5 15.8-1.5 17.1-1.5-45.2-1.5-5.8-1.5 7.4-1.5 1.2-1.5 19.7-1.5-24.1-1.5 3.6-1.5-1.3-1.5 9.6-1.5-11.8-1.5 0.2-1.5 1.8-1.5 7.3-1.5-7.2-1.5-0.2-1.5 13.2-1.5-1.2-1.5 22.7-1.5-24.9-1.5 3.4-1.5 3.3-1.5-13.7-1.5 33.6-1.5-23.5-1.5-8.4-1.5 23.3-1.5-15-1.5 5.2-1.5 0.6-1.5-4.7-1.5-3.4-1.5 12.1zM822.0 239.7l1.5 4.4 1.5-5.9 1.5 6.3 1.5 6.5 1.5-2.9 1.5-16.2 1.5 23.2 1.5-5.7 1.5 4.7 1.5-6.8 1.5 3.5 1.5-1.7 1.5-2.6 1.5-8 1.5-5.7 1.5 11.1 1.5 9.8 1.5-0.5 1.6-5.7 1.5 10.5 1.5-13.1 1.5-12.4 1.5 23.8 1.5-13.4 1.5 13.5 1.5-22 1.5 17.2 1.5-5.9 1.5 3.4 1.5 1.1 1.5 2 1.5-10.3 1.5 14.5 1.5 1.9 1.5-9 1.5 7.6 1.5-1.5 1.5 0.1 1.5 1.2 1.5-15.8 1.5 12.5 1.5 2.9 1.5 2.1 1.5-3.1 1.5 5.6 1.5-0.4 1.5 0.2 1.5-4.9 1.5-11.8 1.5-10.5 1.5-13.5 1.5-27.7 1.5 16.8 1.5-12.9 1.5 16.2 1.6-0.2 1.5-21.9 1.5 9.6 1.5 2.7 1.5 4.1 1.5-5.6 1.5-29.8 1.5 37.1 1.5-0.6 1.5-0.1 1.5-20 1.5 17.4 1.5 8.6 1.5-15.8 1.5-22.1 1.5 29.7 1.5-24.2 1.5-6.8 1.5 33.7 1.5-9.7 1.5-22.5 1.5 25.6 1.5-8.7 1.5-24.5 1.5 26.7 1.5-29.6 1.5 41.6 1.5-17.3 1.5 8.8 1.5 4.4 1.5 2.7 1.5-2.1 1.5-18.7 1.5 5.9 1.5 3.8 1.5-9.9 1.5 22 1.6-17 1.5 15.5 1.5-2.9 1.5-9.1 1.5-16.8 1.5 31.5 1.5-5.7 1.5 1.7 1.5-0.6 1.5 3.5 1.5-5.6 1.5 6.7 1.5-1.2 1.5 0.6 1.5-3 1.5-24.9 1.5 19.8 1.5 4.3 1.5-3 1.5-2.4 1.5-4 1.5 13.1 1.5-4.1 1.5 1.2 1.5-0.4 1.5-5.2 1.5 3.9 1.5-23.7 1.5-0.5 1.5 6.6 1.5 13.1 1.5-12.1 1.5 18.5 1.5 3.7 1.5 2.4 1.5-1.7 1.5 3.4 1.6-4.5 1.5 1.8 1.5-4.9 1.5-0.5 1.5-2.5 1.5 4.8 1.5-2.6 1.5-20.3 1.5 24.2 1.5 15 1.5-7.3 1.5-2.7 1.5 4.5 1.5-22 1.5 8.9 1.5-1.3 1.5 8.8 1.5 0.2 1.5-2.1 1.5 6.4 1.5-0.6 1.5-11.4 1.5 7.3 1.5-2.2 1.5-32.6 1.5 38 1.5-15.6 1.5 7.3 1.5 2.2 1.5 5.4 1.5-0.2 1.5-18.1 1.5 22.8 1.5 2.3 1.5 6.4 1.5 1.8 1.5-3.8 1.6-2.3 1.5 2.9 1.5-1.6 1.5-32.4 1.5 33.1 1.5-9.4 1.5 10 1.5-11.2 1.5 23.5 1.5-9 1.5-22.2 1.5 29.3 1.5-3.6 1.5 6.9 1.5-7.7 1.5-6 1.5 15.1 1.5-2.4 1.5 1.2 0 22.9-1.5-8.7-1.5 6.6-1.5-0.6-1.5 13-1.5-22.1-1.5 3.2-1.5-4.3-1.5 20.4-1.5 1.9-1.5-17.3-1.5-2.3-1.5-6.2-1.5 27.1-1.5-24-1.5 8.2-1.5 4.6-1.5-20-1.5 16.4-1.6-8.8-1.5 1.8-1.5-0.2-1.5-0.3-1.5 2.6-1.5 0.4-1.5-8.8-1.5 7.9-1.5-1.9-1.5 0.5-1.5 19.6-1.5-24.3-1.5-1.9-1.5 11.5-1.5-9.6-1.5-4.5-1.5-1-1.5 0-1.5 3.1-1.5-3.7-1.5 15.5-1.5-2.5-1.5-18.4-1.5 7.1-1.5 4.9-1.5-1.9-1.5-8.7-1.5 5.8-1.5 29.3-1.5 3-1.5-38.1-1.5 48.2-1.5-17.7-1.5-24.5-1.5 1.7-1.5-0.1-1.5 19.7-1.6-7.7-1.5 18-1.5-23-1.5-2.1-1.5-6.2-1.5-0.3-1.5 19.4-1.5-19.1-1.5-3.2-1.5 6.7-1.5 12.8-1.5-22.6-1.5 22.2-1.5-26-1.5-3.9-1.5 25.2-1.5-26.8-1.5 8.7-1.5-8.5-1.5 6.4-1.5 3.3-1.5 3.5-1.5-1.5-1.5-2.4-1.5 11.8-1.5-6-1.5 0.8-1.5-11.7-1.5-4.4-1.5 6.8-1.5-10.2-1.5 29.2-1.5-16.5-1.5-0.4-1.5-9.3-1.5 1.8-1.5 25-1.6-26.4-1.5-1-1.5 3.8-1.5 37-1.5-41-1.5 15.3-1.5-10.1-1.5 25.5-1.5-34.4-1.5-0.7-1.5 0.1-1.5 3.1-1.5 4.5-1.5 9.4-1.5 10.6-1.5-20.5-1.5-8.3-1.5 2.3-1.5 10.2-1.5-2.5-1.5 18.4-1.5-17.4-1.5-2-1.5 8.4-1.5 14.9-1.5-6.3-1.5-5.2-1.5-4.6-1.5 19.9-1.5-20.2-1.5 8.7-1.5-3.6-1.5 3.2-1.5-6.3-1.5 10.1-1.5-10.9-1.5 8.6-1.6-11.2-1.5 12.4-1.5-6.7-1.5-2.4-1.5 17.1-1.5 20.1-1.5 5.6-1.5 9.7-1.5-7-1.5-1.4-1.5 37-1.5-46.3-1.5 19.8-1.5-14.6-1.5 1.8-1.5 0.8-1.5-1.2-1.5 1.3-1.5 5.7-1.5 2-1.5 29.8-1.5-42.9-1.5 4.5-1.5 1.6-1.5 12.8-1.5-15.7-1.5 14.9-1.5-21.4-1.5 3.4-1.5 6.5-1.5-3.9-1.5 41.7-1.5-32.3-1.5-13.2-1.5 9.3-1.5-2.2-1.5 0.2-1.6 8.4-1.5-2.6-1.5 13-1.5-20.6-1.5 1-1.5-0.3-1.5-4.6-1.5 6.1-1.5-6.7-1.5 29.4-1.5-16.5-1.5-9.9-1.5 36.5-1.5-25.4-1.5-21.1-1.5 6.1-1.5 10.7-1.5-14.7-1.5 6zM1122.0 285.5l1.5 18 1.5-4.8 1.6 8.6 1.5 7.5 1.5-6.8 1.5 0.2 1.6 12.6 1.5-13.2 1.5-13 1.5 9.2 1.5-8.5 1.6-31.1 1.5 36.3 1.5 1.9 1.5 10 1.5-30.7 1.6 22.2 1.5 1.2 1.5-28 1.5-3.8 1.6 29.8 1.5-22.9 1.5 37.1 0 51.4-1.5 21.9-1.5 2.6-1.6-18.6-1.5 25.8-1.5-37-1.5 2.4-1.6-12.3-1.5 9.1-1.5 10.2-1.5-0.8-1.5 8.2-1.6-21.3-1.5 26.7-1.5-33.3-1.5 2.7-1.5 3.1-1.6 16.3-1.5-23.2-1.5-9.5-1.5 6.9-1.6-2.1-1.5 4.6-1.5 28.4z" fill="#2278d8" stroke="#2278d8" stroke-width="1.6"/>
<path d="M802.0 300.0 822.0 222.0M1102.0 270.0 1122.0 300.0" stroke="#2278d8"/>
<path d="M802.0 252.6l1.5 6.1 1.5 26.7 1.5-2.4 1.5-8 1.5 18.7 1.5 6.6 1.5-22.9 1.5 21.2 1.5 11 1.5-7.9 1.5 0.7 1.5-0.9 1.5-8.7 1.5 4.8 1.5-22.8 1.5 28.4 1.5-6.8 1.5-2.5 1.5-16.3 1.5 25.1 1.5 3.9 1.5-19 1.5 1.2 1.5 19.4 1.5 3.3 1.5-15 1.5 2.3 1.5 6.1 1.5 7.5 1.5 3.1 1.5-6.3 1.5-13.2 1.5 29.4 1.5 3 1.5-14.1 1.5 27.7 1.5-11.6 1.5 3.4 1.5 10.7 1.5 6 1.5-7.4 1.5 2.7 1.5-19.1 1.5 13 1.5-32.9 1.5 43.7 1.5-1.5 1.5-5.1 1.5-50.9 1.5 42.2 1.5 11.6 1.5-32 1.5 35.4 1.5-27.6 1.5-23 1.5 53 1.5-5.2 1.5 18.1 1.5-3.3 1.5-11.1 1.5-6.2 1.5 13.7 0 59.7-1.5 14.1-1.5-6.3-1.5 9.8-1.5-12.1-1.5-1.3-1.5-10.1-1.5 25.3-1.5-21.1-1.5 7.1-1.5-12.2-1.5-6.7-1.5 13.8-1.5-25.5-1.5 39.7-1.5-43.7-1.5 10.6-1.5-5.6-1.5-13.2-1.5 12.8-1.5-12.4-1.5 25.2-1.5 4.7-1.5-37.8-1.5 19.9-1.5-30-1.5 0.8-1.5-1.7-1.5-11.1-1.5 8.8-1.5-10.8-1.5 3.1-1.5-1.7-1.5 1-1.5 5.8-1.5-7.5-1.5-17.3-1.5 13.5-1.5-9.6-1.5-1.3-1.5 28.4-1.5-15.3-1.5 1.1-1.5-17-1.5 3.1-1.5 10.9-1.5 23.7-1.5-39.3-1.5-10-1.5-1.2-1.5-4.2-1.5 7.7-1.5 13.5-1.5-0.6-1.5-18.6-1.5-3.8-1.5 7.8-1.5 7.8-1.5-9.4-1.5-6.9-1.5-1.4-1.5-2.5-1.5 21.4z" fill="#daf07c" stroke="#daf07c" stroke-width="1.6"/>
<path d="M832.0 320.8l1.5-10.1 1.5-12.7 1.5 12.9 1.5 0.7 1.5-24.3 1.5-4.7 1.5 30.2 1.5-31.7 1.5 8.7 1.5 7.2 1.5-2.8 1.5-20.7 1.5 21.6 1.5-0.5 1.5-8.2 1.5-21.6 1.5 14.7 1.6-2.8 1.5 8.8 1.5-19.9 1.5 12.5 1.5-1.4 1.5-20.2 1.5 22.5 1.5-0.9 1.5-6.9 1.5 1.2 1.5-1.7 1.5-20.6 1.5 15.4 1.5-4.5 1.5-1.5 1.5 2.6 1.5-2.2 1.5-1.6 1.5 2.4 1.5-1 1.5-27.8 1.5-12.7 1.5 9.9 1.5 23.8 1.5-7.7 1.5-8.8 1.5 17.3 1.5 0.3 1.5-10.7 1.5 6.1 1.5-3 1.5-4.3 1.5 6.9 1.5-2.9 1.6-2 1.5 3.9 1.5-2.1 1.5-5 1.5-8.7 1.5-4.3 1.5 11.5 1.5-3 1.5-9.9 1.5 17.5 1.5-0 1.5-21.4 1.5 12.5 1.5-3.9 1.5 2.4 1.5-9.2 1.5-15 1.5 12.2 1.5 11.1 1.5-2.5 1.5-7.1 1.5 10.3 1.5-4.5 1.5-3.7 1.5 2.8 1.5 0.8 1.5 4.1 1.5 1.9 1.5-5.7 1.5-2.4 1.5-5 1.5-5.2 1.5 17 1.5-9.2 1.5 8.4 1.6-1.6 1.5 6.3 1.5 0.3 1.5-13 1.5 5.4 1.5-13.7 1.5-2.9 1.5 4.4 1.5 3.2 1.5 9 1.5 1.4 1.5-3.5 1.5-6.8 1.5 2.7 1.5-7.5 1.5 5.7 1.5 2.5 1.5 8 1.5 1 1.5 6.7 1.5-32 1.5 36 1.5 4.6 1.5-5.5 1.5-8.8 1.5 22.3 1.5-19 1.5 8.6 1.5 6.5 1.5 1.7 1.5 6.4 1.5-6.8 1.5-3.7 1.5 12.9 1.5 1.2 1.6 5.4 1.5 8 1.5-43.6 1.5 26.2 1.5-24.1 1.5 28.3 1.5 9.8 1.5-1.6 1.5 3.1 1.5 1.4 1.5-9.9 1.5 11.1 1.5-32.7 1.5 31.2 1.5 1.3 1.5-29.9 1.5 27.1 1.5-26.7 1.5 28.7 1.5-21.8 1.5 21.3 1.5-4.6 1.5-1.2 1.5 8.2 1.5-16.8 1.5 4.1 1.5 7 1.5 4.4 1.5 0.6 1.5 1.2 1.5-7.8 1.5 3.8 1.5 7.2 1.5-5.1 1.6-5.5 1.5-36.9 1.5 17.7 1.5 8.8 1.5 8.1 1.5 6.5 1.5-25.1 1.5 2.8 1.5 11.5 1.5-7.5 1.5 20.5 1.5-1.3 1.5-9 1.5-8.5 1.5 23.2 1.5 0.4 1.5 3.9 1.5-5.5 0 20.5-1.5-0.3-1.5 0.9-1.5 7.9-1.5-12.2-1.5 4.8-1.5 1.1-1.5-1.2-1.5 3-1.5 3.4-1.5 7.6-1.5-20.1-1.5 5.4-1.5 19.7-1.5-3.1-1.5-14.2-1.5 20.9-1.5-0.1-1.6-21.3-1.5 5.8-1.5-10.3-1.5 6.5-1.5 0.5-1.5 22.1-1.5-17.7-1.5-2.4-1.5 0.3-1.5 1.6-1.5-5.3-1.5 4.2-1.5-5.3-1.5 0.9-1.5 20.1-1.5-23.7-1.5 33.4-1.5-24-1.5 5.4-1.5-18.6-1.5 7.7-1.5-7.2-1.5-1.4-1.5 5.5-1.5-9.7-1.5 2.7-1.5 12.7-1.5-4.3-1.5-3-1.5 1.1-1.5-4.4-1.5 21.4-1.5-22.4-1.5 7-1.6-1.6-1.5-4-1.5 3.5-1.5-7.2-1.5 1.8-1.5-6.2-1.5 12.5-1.5-11.9-1.5-3.8-1.5 1.8-1.5-0.3-1.5 28-1.5-39.8-1.5-1.1-1.5-5-1.5 22.2-1.5-24.5-1.5 2.2-1.5-0.5-1.5-11.7-1.5 0.3-1.5 7.3-1.5-0.5-1.5 5.8-1.5-8.7-1.5-4.7-1.5 22.8-1.5-21.8-1.5-5.8-1.5 5.6-1.5-1.4-1.5 0.6-1.5 11.4-1.5-10.8-1.5 16.3-1.6-20.6-1.5 3.8-1.5 16.6-1.5-4.4-1.5 6.9-1.5-4.2-1.5-16.3-1.5-8.3-1.5 23-1.5-6.8-1.5 2.4-1.5 0.2-1.5-7.2-1.5-3.7-1.5 6.4-1.5 17.7-1.5-12.8-1.5 6.8-1.5-14.2-1.5 4.5-1.5 15.8-1.5-4.8-1.5-15.8-1.5 4.8-1.5 0.9-1.5 2.8-1.5 0.3-1.5 12-1.5-8.4-1.5 12.3-1.5-4.8-1.5 14.3-1.5 3.3-1.5-20.5-1.5 0.9-1.6 21.6-1.5-23.3-1.5 19.2-1.5-15.1-1.5 30.8-1.5-39.8-1.5 11.9-1.5 10.4-1.5-14.8-1.5 9-1.5 12.8-1.5-23.3-1.5 11-1.5 11.6-1.5-10.1-1.5-0.1-1.5 11.9-1.5-2.6-1.5 7.8-1.5-2.4-1.5-1.6-1.5-3.4-1.5-14.2-1.5 57-1.5-21.1-1.5-28.9-1.5 24.7-1.5-4.9-1.5-5.6-1.5 15.9-1.5-13.2-1.5 9.2-1.5-9.7-1.5 1.6-1.6 15.4-1.5-9.3-1.5 3.8-1.5 4.6-1.5 9.6-1.5-9.5-1.5-5.8-1.5 35.1-1.5-25.9-1.5 18.3-1.5-14.6-1.5 6.4-1.5 33.5-1.5-36.5-1.5-0.5-1.5 8.1-1.5-0.7-1.5 4.1zM1147.0 242.0l1.5-1.5 1.5 4.5 1.5-1.5 1.5-9.5 1.5-3.9 1.5 9.8 1.5-27.4 1.5 19.4 1.5 12 1.5-1.9 1.5-3.3 1.5-8.6 1.5 1.3 1.5-4.4 1.5 7.8 1.5 4.2 1.5-3 1.6 5.1 1.5-13.2 1.5 16.1 1.5-7.3 1.5 9.9 1.5-16.3 1.5 12.7 1.5 0.5 1.5-11.5 1.5 9.2 1.5-8 1.5 6.2 1.5-9.9 1.5 2.2 1.5 4.6 1.5-1.1 1.5 1.8 1.5 8.4 1.5-31.2 1.5 28.6 1.5-3 1.5-8.4 1.5 3.4 1.5 8.2 1.5 0.1 1.5-2.6 1.5 3.9 1.5-4.1 1.5-3.4 1.5 6.1 1.5-0.8 1.5 2.5 1.5-33.1 1.5 22.3 1.6 3.3 1.5-6.4 1.5-1.2 1.5 1.9 1.5-7.4 1.5 6.8 1.5-1.1 1.5-0.7 1.5-3.4 1.5-27 1.5 33.6 1.5 0.1 1.5 0.4 1.5-5.3 1.5-23.2 1.5 19 1.5-8.3 1.5 3.5 1.5-2 1.5-6.8 1.5 4.3 1.5-6.1 1.5 6.8 1.5-3.9 1.5-3.9 1.5-1 1.5 3.4 1.5 3 1.5-2.5 1.5 3.7 1.5-4.1 1.5 4.2 1.5 5 1.5-14 1.5 2.9 1.6-3.1 1.5-9 1.5 0.7 1.5 7.3 1.5-10.8 1.5 11.9 1.5-2.7 1.5 5.9 1.5-39.7 1.5 44.6 1.5 1.4 1.5-13.9 1.5 0.6 1.5 3.8 1.5 1.6 1.5 3.9 1.5-1.6 1.5 0.5 1.5 3.3 1.5 6.4 1.5 1.3 1.5-35.7 1.5 16.6 1.5-31.3 1.5 43.5 1.5-8.4 1.5-17.3 1.5 32.4 1.5-9 1.5 23.7 1.5 3.1 1.5-8.4 1.5 3.4 1.5-2.2 1.5-20.8 1.6 24.1 1.5-1.8 1.5 5.2 1.5-7.9 1.5 11.4 1.5-21.3 1.5-6.6 1.5 5.7 1.5 35 1.5-9 1.5 3.3 1.5-21.1 1.5 24.6 1.5-5.5 1.5-48.3 1.5 51.5 1.5-24.7 1.5 17.8 1.5 7.3 1.5 5.7 1.5-34 1.5 33.1 1.5-10.1 1.5 15.2 1.5 1 1.5-8.8 1.5 11.5 1.5-14.2 1.5 6.4 1.5 3 1.5-5 1.5 8.4 1.5-2.8 1.5-0.5 1.6 10.4 1.5-35.3 1.5 41.4 1.5-10.4 1.5-48.2 1.5 54.3 1.5-19.4 1.5 21.7 1.5-15.6 1.5 16.4 1.5 10.3 1.5-5.9 1.5 1.4 1.5-46.9 1.5 43.7 1.5 6.9 1.5 8.6 1.5-40 0 107.9-1.5-31.1-1.5 45.9-1.5-23.8-1.5-26.6-1.5 4.3-1.5-12.3-1.5-1.4-1.5 9.5-1.5 21.8-1.5-26-1.5 0-1.5 9.8-1.5 13.7-1.5 23.9-1.5-32.3-1.5-30.1-1.5 1.2-1.6 22-1.5 13.3-1.5-8.5-1.5-34.1-1.5 22.1-1.5-33.7-1.5 21.1-1.5-26.4-1.5 7.6-1.5-8.6-1.5-0.8-1.5 56.8-1.5 0.6-1.5-41.5-1.5 3.3-1.5-1.8-1.5 1.2-1.5-5.3-1.5-12.8-1.5-7.1-1.5 37.8-1.5-17.4-1.5 1-1.5-8.6-1.5 11.6-1.5-10.6-1.5-4.5-1.5-7-1.5 29.1-1.5-27.3-1.5-6.2-1.5 16.6-1.5-4.2-1.5-17.7-1.6 20.1-1.5-22.2-1.5-18-1.5 1.8-1.5 9.3-1.5 20-1.5-25.4-1.5-1.3-1.5-13.4-1.5 6.8-1.5-4.5-1.5-2.6-1.5 20.1-1.5-5.3-1.5-3.1-1.5-17.2-1.5-1.7-1.5 2.5-1.5-5.5-1.5-4.8-1.5 4.6-1.5-3.4-1.5 7.7-1.5-2.9-1.5 3-1.5 12.9-1.5-2.6-1.5-14.3-1.5 7.1-1.5-0.5-1.5 36.9-1.5-28-1.5 29.7-1.5-36.8-1.5 24.2-1.6-14.2-1.5-12.6-1.5 10-1.5-1.1-1.5 19.2-1.5-5.4-1.5-7.1-1.5-1.8-1.5-7.2-1.5 10.7-1.5-11.3-1.5-3-1.5 0.1-1.5 30.1-1.5-32.1-1.5 11.2-1.5 10.2-1.5-7.6-1.5-8.7-1.5 7.3-1.5 4.9-1.5-12.7-1.5 3.2-1.5 2.7-1.5-0.5-1.5-1.6-1.5-0.1-1.5 2.3-1.5 14-1.5-8.9-1.5 9.3-1.5 1.5-1.5-3.8-1.5 2-1.5-3.7-1.6 11.5-1.5-13.1-1.5 1.7-1.5 7.7-1.5-1.3-1.5 4.1-1.5-6.8-1.5 2.6-1.5 0.5-1.5-3.4-1.5 1.5-1.5-2.9-1.5 15.6-1.5-16-1.5-2-1.5 2.6-1.5 10.6-1.5 3-1.5-10.4-1.5 2.7-1.5 6.3-1.5 4.2-1.5-14.4-1.5 17.3-1.5-4.4-1.5-11.3-1.5-3.4-1.5 11.6-1.5-7.7-1.5-0.7-1.5 2.5-1.5-0.7-1.5 3.4-1.5 1.5-1.6 0.8-1.5-7.1-1.5 0.5-1.5 5.3-1.5 8.7-1.5-7.6-1.5 0.6-1.5-1.6-1.5-5.1-1.5 1.7-1.5 0.3-1.5 13.9-1.5-11.4-1.5-5.1-1.5 6.5-1.5-7.9-1.5 7-1.5 1.6z" fill="#b8926e" stroke="#b8926e" stroke-width="1.6"/>
<path d="M1092.0 290.0 1122.0 275.0" stroke="#b8926e"/>
<path d="M1080.0 340.8l1.5 7.4 1.6-32.6 1.5 20.5 1.6-20.8 1.5 24 1.5-27 1.6-6.4 1.5 37 1.5-12.8 1.6 2.6 1.5 5.4 1.6-15.1 1.5-0.5 0 78.4-1.5-12-1.6 6.4-1.5-4.9-1.6 19.5-1.5-21.9-1.5 34.2-1.6-18.3-1.5 19.5-1.5 15.8-1.6-51.2-1.5-15.1-1.6 18.2-1.5 2.6zM1157.0 188.6l1.5 26.8 1.5-12.1 1.5 8.5 1.5-33.6 1.5 37.4 1.5 5.8 1.5-5.5 1.5-9.8 1.5 0.2 1.5 1.5 1.4 0.8 1.5-11.7 1.5 3.5 1.5 7.4 1.5-13.4 1.5 5.6 1.5 3.2 1.5-2.8 1.5-32.3 1.5 37.2 1.5 0.4 1.5-9 1.5-13.7 1.5 4.2 1.5 12.4 1.5-4 1.5 8.7 1.5-4.3 1.5-14.1 1.5 3.7 1.5-11.2 1.5 21.2 1.4-3.3 1.5-1 1.5-7.5 1.5 5.4 1.5-0.6 1.5-17.9 1.5 12.3 1.5-27.5 1.5 26.9 1.5 2.9 1.5 5.4 1.5-17.8 1.5 17.5 1.5-9 1.5 3.4 1.5 2.4 1.5-30.4 1.5 6 1.5-5.6 1.5 5 1.5 9.1 1.5-13.8 1.4 11.3 1.5-27.2 1.5 28.8 1.5-2.2 1.5 10.1 1.5-0.6 1.5-35.2 1.5 30.3 1.5 4.8 1.5-2.1 1.5-11.7 1.5 17.2 1.5-46.6 1.5 42 1.5-15.6 1.5-14.1 1.5-3.8 1.5 8 1.5-9.8 1.5 42.1 1.5 18 1.5-17.2 1.4-1.1 1.5-8.6 1.5 18.1 1.5 6.9 1.5-2.6 1.5-14.6 1.5 2.2 1.5 6.7 1.5-46.4 1.5 61.3 1.5-52 1.5 51.9 1.5-11.5 1.5-74 1.5 50.6 1.5 13.6 1.5 3.5 1.5-3.5 1.5-10.2 1.5 4.3 1.5 37.5 1.5-45.6 1.4 39.6 1.5-30.1 1.5 22.6 1.5-74.8 1.5 19 1.5 53.2 1.5-6.7 1.5-21.7 1.5 21.3 1.5-25.8 1.5 38 0 69.8-1.5 12.2-1.5-10.4-1.5 53.8-1.5-57.1-1.5 71-1.5-91.7-1.5 10.3-1.5 16.4-1.5-40.3-1.5 5.6-1.4 42.7-1.5-37.9-1.5 12.4-1.5 10.1-1.5-10.7-1.5-20.3-1.5 0-1.5 44.3-1.5-14-1.5 11.2-1.5-37.3-1.5 30.1-1.5-25.6-1.5 12.2-1.5-1.9-1.5-16.7-1.5-8.9-1.5 0.9-1.5-14-1.5 6.3-1.5 46.6-1.5-15.7-1.4-41.9-1.5 21-1.5-15.6-1.5 7.1-1.5-11.9-1.5-6.5-1.5 45.5-1.5-37.1-1.5-10.5-1.5 4.6-1.5 1.1-1.5-9.1-1.5 17.4-1.5-2.1-1.5-16.3-1.5 28.6-1.5-7.8-1.5 5.5-1.5-20.8-1.5-3.4-1.5 3.3-1.5 6.8-1.4-17-1.5 2.4-1.5 1.1-1.5 7.3-1.5 0.9-1.5 10.4-1.5-2.5-1.5-7.3-1.5-3.1-1.5-1.3-1.5-6.8-1.5 6-1.5 49.6-1.5-46.1-1.5-2.8-1.5 5.7-1.5-7.8-1.5 20.4-1.5-13.8-1.5-3.9-1.5 13.3-1.5-9.4-1.4 2.8-1.5 22.7-1.5-14.6-1.5-6.1-1.5-1.7-1.5 0.9-1.5 48.7-1.5-26.3-1.5-10.7-1.5-1.4-1.5-1.6-1.5-1.2-1.5 21.2-1.5 0.8-1.5-21.3-1.5 4-1.5 17.9-1.5 13.5-1.5-9.7-1.5-22.3-1.5 5.5-1.5 8.7-1.4-6.5-1.5 1.3-1.5 3.2-1.5 1-1.5-0.7-1.5-7.7-1.5 5.5-1.5 4.8-1.5-10.7-1.5 7-1.5-0.3z" fill="#3a72f0" stroke="#3a72f0" stroke-width="1.6"/>
<path d="M1100.0 300.0 1157.0 250.0" stroke="#3a72f0"/>
<path d="M1047.0 345.2l1.5 13.9 1.5-7.1 1.5-8.4 1.4 11.9 1.5-14.8 1.5 17.6 1.5-5.8 1.5 1.7 1.5-24.1 1.5 4.5 1.5 20.8 1.4-67.7 1.5 70.4 1.5-11.8 1.5 4.6 1.5-2.2 1.5-3.4 1.5-4.3 1.4-4 1.5-1.3 1.5 5.4 1.5-21.4 1.5 9.3 1.5 2.3 1.5 3.1 1.4-13.2 1.5 17.8 1.5-15.9 1.5 13.2 1.5-22.1 1.5-0 1.5 7.6 1.5-56.1 1.4 43.6 1.5-40.2 1.5 37.8 1.5 5.6 0 90.8-1.5-39.7-1.5 16.8-1.5-13.3-1.4 24.7-1.5-20.8-1.5 31.6-1.5-42.4-1.5 37.9-1.5-3.1-1.5-22.2-1.5 46.5-1.4-37.6-1.5-13.8-1.5-3.4-1.5-2.5-1.5 9.5-1.5-4-1.5 73.3-1.4-58.1-1.5 2.9-1.5-9.2-1.5 35.6-1.5-8.9-1.5-30.5-1.5 11.7-1.4 19.1-1.5 19.8-1.5-38.4-1.5 5.1-1.5 47.3-1.5-15.5-1.5-36.7-1.5-10.3-1.4 20.2-1.5 6-1.5 28.3-1.5-24.8zM1122.0 279.1l1.5-2.2 1.5-13.2 1.5 7.6 1.5 3.1 1.5 3.2 1.5-3.3 1.5-13.1 1.5-13.9 1.5 18.5 1.5 4.6 1.5-46.5 1.5 25.4 1.5 6.2 1.5 0.6 1.4-25.7 1.5 28.7 1.5-13.4 1.5-0.4 1.5 1.5 1.5-8 1.5 10.6 1.5-16.2 1.5-25.9 1.5 26.6 1.5 9.4 1.5 6.8 1.5-23.1 1.5 17.9 1.5 0.5 1.5 2.9 1.5 0.5 1.5 3.9 1.5-6.4 1.5-8 1.5 7.1 1.5-1 1.5-7.6 1.5 1.4 1.5-13.7 1.5 11.2 1.5-45.5 1.5 48 1.5-6.5 1.5-26.8 1.4 26.3 1.5-17.8 1.5 21.1 1.5-14.8 1.5-16.7 1.5 37.8 1.5-3.2 1.5-0.2 1.5-0.6 1.5 2.5 1.5 5.2 1.5 1.7 1.5 2.7 1.5 7.7 1.5-0.4 1.5-11.8 1.5-5.1 1.5-4.5 1.5 10.6 1.5-6.7 1.5-2.3 1.5 20.8 1.5-18.2 1.5-18.5 1.5 32.3 1.5-15.9 1.5 11.2 1.5 13.9 1.5-48.5 1.4 37.4 1.5 3.7 1.5 2.4 1.5-3.1 1.5-1.1 1.5 9.8 1.5-12.8 1.5-23.7 1.5 29.6 1.5 3.6 1.5-11.4 1.5 16.1 1.5-27.6 1.5 36.4 1.5-14.6 1.5 1.3 1.5-2.8 1.5 2.9 1.5-28 1.5 26.8 1.5-18.6 1.5-15 1.5 29.9 1.5-15.3 1.5-30.3 1.5 45.4 1.5-15.4 1.5-0.3 1.5 16.1 1.4-7.9 1.5 21.4 1.5-13.4 1.5-6.3 1.5 15.1 1.5-48.5 1.5 39.5 1.5-18.4 1.5 29.6 1.5 21 1.5-2.9 1.5-50.3 1.5 5.9 1.5 32.3 1.5 3.5 1.5 9 1.5-11.2 1.5 0.1 1.5-1.4 1.5 1.8 1.5 0.7 1.5-2.5 1.5-14.7 1.5 18.5 1.5-23.7 1.5 3.9 1.5 18.7 1.5-4.4 1.5-28.1 1.5-2.4 1.4 31.9 1.5-0.5 1.5-8.5 1.5-27.1 1.5 43.9 1.5-21.7 1.5 23.7 1.5-30.6 1.5 7.3 1.5 21.4 1.5-4.7 1.5 17.4 1.5-0.6 1.5-50.9 1.5 46.6 0 53.6-1.5 19.1-1.5-24.1-1.5-3.8-1.5 26.7-1.5-34.7-1.5 11.2-1.5-17-1.5 16.3-1.5 13.7-1.5-18-1.5-4.5-1.5-9.8-1.5 7.5-1.5-11.2-1.4 4.4-1.5-1.6-1.5-10.8-1.5 36.8-1.5-16.8-1.5-11.2-1.5-1.1-1.5 14.1-1.5-14.2-1.5-10.2-1.5 29.5-1.5-8.2-1.5 51.2-1.5-10.9-1.5-52.9-1.5-2-1.5 10.9-1.5-4-1.5 3.9-1.5 0.3-1.5 7.4-1.5 10.8-1.5-20.2-1.5-4.8-1.5 29-1.5-23.1-1.5 6.4-1.5 9.1-1.5-7.8-1.5-4.7-1.4 1.2-1.5-3.9-1.5 43.7-1.5-36.5-1.5-16.7-1.5 45.2-1.5-10.1-1.5-37.3-1.5 44.7-1.5-18.3-1.5-17.2-1.5 12.7-1.5-14.1-1.5-8.7-1.5 55.3-1.5-36.6-1.5-23-1.5-7.4-1.5 10-1.5-10.6-1.5 0.7-1.5-5.2-1.5-5.4-1.5-0.3-1.5 11.9-1.5 28.6-1.5 7.3-1.5-28.8-1.5-15.8-1.4 18.4-1.5-12.4-1.5 28.2-1.5-24.6-1.5 11.2-1.5-4.6-1.5-7.3-1.5 6.9-1.5-1.2-1.5-11-1.5 7.6-1.5 20.2-1.5-30.8-1.5-4-1.5-4.7-1.5 5.8-1.5-9.8-1.5 31.2-1.5-29.5-1.5 15.9-1.5-5.7-1.5-23.2-1.5 6.1-1.5 7.8-1.5 11.4-1.5-24.1-1.5 4.1-1.5 48.4-1.5-55.2-1.4 7.3-1.5 6.8-1.5 5.2-1.5 4-1.5 11.1-1.5-16.1-1.5-7.4-1.5 6.1-1.5-4.4-1.5 9-1.5-3.7-1.5 42.6-1.5-12.8-1.5-26.7-1.5 20.2-1.5-14.9-1.5-8.1-1.5 24.2-1.5-15.5-1.5-4.4-1.5-2.6-1.5-3.3-1.5-7.3-1.5 24-1.5-21.7-1.5 23.2-1.5-15.1-1.5 20.2-1.5-16.8-1.5 4.3-1.4-1.4-1.5 11.2-1.5 12.9-1.5-13.9-1.5 13.8-1.5 0-1.5-4.5-1.5 35.1-1.5-3.7-1.5 15.4-1.5 2.7-1.5-45.6-1.5 18.6-1.5 16.6-1.5-9.2z" fill="#0ab0f5" stroke="#0ab0f5" stroke-width="1.6"/>
<path d="M1102.0 340.0 1122.0 310.0" stroke="#0ab0f5"/>
<path d="M1217.0 295.0l1.4 40.9 1.5 8.4 1.4-5.7 1.4 0.7 1.4-31 1.5 33.7 1.4 3.9 0 64.6-1.4-10.7-1.5-19.7-1.4 26.6-1.4-29.2-1.4 1.8-1.5 7.5-1.4 9zM1297.0 142.9l1.5-35.5 1.5 35.8 1.5 3.1 1.5-3.3 1.5-1.8 1.5-12.6 1.5-16.8 1.5 5.8 1.5-18.6 1.5 41.5 1.5 0.4 1.5-4.4 1.5-2.9 1.5-7.3 1.5-31.3 1.5 50.6 1.5 0.3 1.5-1.2 1.5 1.6 1.5 1.7 1.5 2.6 1.5-0.6 1.5-22.5 1.6 12.8 1.5-1.8 1.5-5.2 1.5-20.5 1.5-19.3 1.5 47.8 1.5-28.1 1.5-19.9 1.5 33.3 1.5 8.5 1.5-25.6 1.5 15.6 1.5 1.6 1.5 9.3 1.5-6.9 1.5 8.1 1.5-15.7 1.5 3.5 1.5-15.8 1.5 2.9 1.5 10.8 1.5-3.1 1.5-20.6 1.5 33.3 1.5 3.7 1.5-4.4 1.5 0.5 1.5-7.2 1.5 3.8 1.5-3.1 1.5 3.3 1.5-1.4 1.5 3.5 1.5 3 1.5-4.5 1.5-1.7 1.5-18.7 1.5 21.5 1.5 1.3 1.5-8.8 1.5 9.6 1.5-4.2 1.5-14.2 1.5-11.8 1.5 26.7 1.5-0.1 1.6 1.1 1.5 0.1 1.5 5.9 1.5-13.7 1.5-22.9 1.5 7.9 1.5 21.8 1.5-8.6 1.5 13.4 1.5-1.2 1.5-0.1 1.5 4.7 1.5-5.3 1.5 0.7 1.5 5.8 1.5-44.5 1.5 40 1.5 2.6 1.5-7 1.5-3.2 1.5 6.4 1.5-2.8 1.5-5.9 1.5 14 1.5-2.6 1.5-11.5 1.5 19 1.5-5 1.5 7.2 1.5-2.9 1.5-3 1.5 4.3 1.5-2.2 1.5-3.4 1.5 3.2 1.5-9.3 1.5-6.8 1.5 12.8 1.5-33.2 1.5 39.5 1.5 4.6 1.5-13.5 1.5 10.4 1.5 2.7 1.5-3.3 1.5-1 1.5 4.6 1.6-28.8 1.5 27.5 1.5 0.5 1.5 3.2 1.5-6.1 1.5 11.9 1.5-13.3 1.5 6.4 1.5 3 1.5-4 1.5-4.9 1.5 4.5 1.5 12.4 1.5-36.7 1.5 26.5 1.5 6.1 1.5 2.2 1.5 1 1.5-5.5 1.5-8.3 1.5 9.5 1.5 0.6 1.5-12.1 1.5 4.2 1.5 9.2 1.5 0.1 1.5-8.6 1.5 16.8 1.5 0.2 1.5 4.3 1.5-17.3 1.5 16.2 1.5-8.6 1.5 4.9 1.5-2.8 1.5-11.2 1.5 3 1.5 16 1.5-2.2 1.5-21 1.5 27.7 1.5-2.2 1.5-8.2 1.5 16.1 1.5-1.3 1.5 2.2 1.5 1.3 1.6-0.7 1.5-10.7 1.5 2.5 1.5-4.9 1.5 14.1 1.5 4.5 1.5-5.6 1.5 2.4 1.5-0.7 1.5 4.1 1.5-8.2 1.5-6.2 1.5-32 1.5 28.8 1.5 20.1 1.5 9.3 1.5-12 1.5-15.2 1.5 18.7 1.5 1.1 1.5-10.9 1.5 16.2 1.5-12.1 1.5 16.4 1.5 1.8 1.5 0.1 1.5-20.7 1.5 17.6 1.5-17.8 1.5 16.5 1.5 8.4 1.5-40.5 1.5 39 1.5-18 1.5-23.3 1.5 29.5 1.5 7.6 1.5-8 1.5 1.1 1.5 2.6 1.5-2 1.5 4.2 1.5 0.2 1.5-2.4 1.5 5 1.5-0.2 1.6 4.7 1.5-0.7 1.5 1.2 1.5 6.5 1.5-1.5 1.5-35.8 1.5 17.9 1.5 8.2 1.5-3.6 1.5 1.5 1.5 6.4 1.5-7.9 1.5-2 1.5 9.2 1.5 0.3 1.5-1 1.5-0.9 1.5-2.2 1.5 4.1 1.5 0.8 1.5-17.9 1.5 21.7 1.5-6.2 1.5 2.8 0 24.2-1.5-1.9-1.5 4.9-1.5-11.8-1.5 7.9-1.5-0.3-1.5-1-1.5-4-1.5 5.2-1.5 12.2-1.5-18.8-1.5 0.7-1.5 32.9-1.5-24-1.5 2.1-1.5-9.4-1.5 1.2-1.5-1.4-1.5 14.7-1.5-16.2-1.5 0.4-1.5 3.2-1.5 6.3-1.5 5-1.6-19.8-1.5 1.6-1.5-0.3-1.5-0.7-1.5-1.3-1.5 18.6-1.5-10.3-1.5-8.9-1.5 21.8-1.5-0.6-1.5-20.6-1.5 9.5-1.5-4.2-1.5 1-1.5-5.9-1.5 7.2-1.5-7.6-1.5 0.9-1.5 14.8-1.5 11.4-1.5-24.5-1.5 15.1-1.5-17.3-1.5-6.6-1.5 5-1.5 14.9-1.5 16.9-1.5-23.8-1.5 17.6-1.5-30.7-1.5 2.3-1.5 1.1-1.5 1.9-1.5 36.7-1.5-42.9-1.5-2.8-1.5 10-1.5-4.3-1.5-9.8-1.5 6.7-1.5 10.6-1.5-15.9-1.5 1.9-1.5 7.9-1.5-11.4-1.5 4.5-1.6 1.4-1.5-8-1.5-7.6-1.5 15.6-1.5 5.8-1.5-8.9-1.5 19.1-1.5-26-1.5 8.4-1.5-17.3-1.5 3-1.5 2.1-1.5 26.9-1.5-28.9-1.5-3.5-1.5 0.7-1.5 3.3-1.5-5-1.5-5.2-1.5 5-1.5 1.2-1.5 3-1.5 28.3-1.5-20.2-1.5-17.6-1.5 10-1.5-16.5-1.5-0.8-1.5 2.2-1.5 17.4-1.5-2.2-1.5-1-1.5-12.7-1.5 0.5-1.5-3.5-1.5 5.7-1.5 18-1.5-31.1-1.5 0.1-1.5-0.9-1.5 4.6-1.5 3.3-1.5 11.6-1.5-20.2-1.5 17.3-1.5-20.8-1.5 4.2-1.6-1.5-1.5-0.5-1.5-3.3-1.5 6.6-1.5-0.4-1.5-9.6-1.5 2.9-1.5 12.4-1.5-18-1.5 1-1.5 0.6-1.5-2.2-1.5 0.3-1.5 25.7-1.5-23.8-1.5 7.6-1.5-13.1-1.5-3.9-1.5 5.3-1.5 4.6-1.5 9.2-1.5-15.6-1.5 0.4-1.5 2.7-1.5 16.8-1.5-17.4-1.5 6.8-1.5-5.2-1.5-4.3-1.5 8.6-1.5-9.6-1.5-0.2-1.5 20.2-1.5 4.2-1.5-17.2-1.5-5.6-1.5 2.8-1.5-0.9-1.5-5.4-1.5-0.6-1.5-1.9-1.5 5.8-1.5 2.9-1.5-5-1.5 2.6-1.5-5.3-1.5 3.2-1.6 2.2-1.5-5.4-1.5-6.6-1.5 38.3-1.5 8.6-1.5-42.2-1.5 6.9-1.5 27-1.5-37.5-1.5 1.9-1.5 2.3-1.5 21.8-1.5-22.5-1.5 4.7-1.5 0.2-1.5-1.1-1.5 7.4-1.5-8.1-1.5 2.9-1.5 2.8-1.5-2.1-1.5 8.1-1.5-8.4-1.5 5.1-1.5 0.9-1.5 13.1-1.5-17.9-1.5 0.6-1.5-1.4-1.5 40.5-1.5-43.6-1.5 23.8-1.5-17.5-1.5 12-1.5-1-1.5-7.1-1.5 10-1.5 21.6-1.5-34.9-1.5 4.9-1.5 6.8-1.5-3.8-1.5 21.8-1.5 3.5-1.5-26-1.5 1.4-1.6-2.1-1.5 1.6-1.5-5.2-1.5 1.2-1.5 12.4-1.5 13.9-1.5-22.4-1.5-4.1-1.5 16.1-1.5 19.2-1.5-25.7-1.5 14.7-1.5-8.2-1.5-3.2-1.5-2.3-1.5 35.3-1.5-23.8-1.5-5.8-1.5 42.9-1.5-4.8-1.5 4.9-1.5-21.8-1.5-25.2-1.5 7.8z" fill="#cafaf5" stroke="#cafaf5" stroke-width="1.6"/>
<path d="M1345.0 231.1l1.5 9 1.4 6.4 1.5-18.1 1.5 13.3 1.5 4.6 1.4 9.9 1.5-9.1 1.5 5.6 1.5-0.7 1.4-30.7 1.5 39.7 1.5 10.4 1.5-30 1.4 26.5 1.5 15.6 1.5-29 1.5 18.3 1.4-15.4 1.5 34.6 0 62.1-1.5 10.5-1.4-38.6-1.5 4.2-1.5 9.9-1.5-23.3-1.4-8.3-1.5-6.3-1.5-1-1.5 0.9-1.4-6.4-1.5 9.2-1.5-4.6-1.5 20.6-1.4-30.5-1.5-3.4-1.5-11.6-1.5 24.7-1.4 1.3-1.5-37.8zM1387.0 122.0l1.5-0.1 1.5 2.1 1.5-0.7 1.5-14.1 1.5 7.9 1.5-11.2 1.5 13 1.5-1.6 1.5-1 1.5-0.5 1.5-1.2 1.5-3.4 1.5-2.1 1.5 10.3 1.5-3.9 1.5-4.9 1.5 6 1.5-5.2 1.5-2.8 1.5 14 1.5-10 1.5 7.1 1.5-11.4 1.5 7.9 1.5 1.7 1.5-28.1 1.5-2.1 1.5 34.5 1.5-2.4 1.5 2 1.5-13.2 1.5 13.4 1.5-19.9 1.5 19.4 1.5 1.4 1.5-45.7 1.5 26.9 1.5 19.1 1.5-5.9 1.5-21.4 1.5 26.1 1.5-11.9 1.5 8.8 1.5-2.2 1.5 2.3 1.5 0.1 1.5-16.6 1.5-8.9 1.5 8.2 1.5 6 1.5-7.3 1.5 13.6 1.5 4.7 1.5-15.7 1.5-4.3 1.5 2.1 1.5-23.6 1.5 43.1 1.5-0.4 1.5-1 1.5-6.1 1.5 1.5 1.5-9.4 1.5 9.4 1.5-19.2 1.5 24.6 1.5-5.1 1.5 6.9 1.5-9.3 1.5 8.6 1.5-5.7 1.5-0.5 1.5-23.8 1.5 27.4 1.5 2 1.5-2.9 1.5-14.2 1.5 14 1.5-17 1.5 12.6 1.5 2.9 1.5 0.5 1.5-7.9 1.5 13.8 1.5-2.4 1.5-11.2 1.5 9.1 1.5-14.9 1.5 6.4 1.5-20.5 1.5 13.8 1.5 8.9 1.5 0.8 1.5-1.2 1.5 9.8 1.5 0.7 1.5-3.8 1.5-9.3 1.5-6.3 1.5 19.6 1.5 0.7 1.5-7.4 1.5 2.5 1.5 0.9 1.5-1.6 1.5-23.2 1.5 16.1 1.5 10.5 1.5-6.6 1.5 2.2 1.5 1.7 1.5-4.1 1.5 4.6 1.5-2.1 1.5 1.3 1.5 2.8 1.5-3 1.5 1.7 1.5-10.2 1.5 5.2 1.5-13.8 1.5 22.8 1.5-13.3 1.5 5.2 1.5-4.2 1.5 10.5 1.5-2.5 1.5-4.4 1.5-12.3 1.5 21.9 1.5-38.6 1.5 0.8 1.5 36.5 1.5-2.8 1.5 0.3 1.5-1.3 1.5-14.7 1.5 18.1 1.5 2 1.5 4.7 1.5-4.1 1.5-36.4 1.5 35.5 1.5-0.9 1.5-16.3 1.5 18.6 1.5 0.3 1.5-54.7 1.5 41.6 1.5 10.6 1.5-14.6 1.5 15.8 1.5-3.7 1.5-3.6 1.5-36 1.5 33.8 1.5 1.1 1.5 0.8 1.5-1 1.5 0.7 1.5-14.4 1.5 12.2 1.5-13.9 1.5-5.5 1.5 27.4 1.5-22.7 1.5 18.3 1.5-17.9 1.5 18.7 1.5-0.3 1.5 2.5 1.5 2.9 1.5 3.3 1.5 5.4 1.5-11.5 1.5 0.1 1.5-2.5 1.5 4.3 1.5-3.9 1.5-17 1.5 11.4 1.5 2.1 1.5 7 1.5-0.7 1.5 3 1.5-5.5 1.5 2.2 1.5-2.1 1.5-0.9 1.5-2.8 1.5 6.1 1.5 1 1.5-9 1.5 4.5 1.5 2.2 1.5 2.4 1.5 4.1 1.5-24.4 1.5 9.1 1.5-28.9 1.5 9.3 1.5 40.9 1.5-4.1 1.5-5 1.5-29.7 1.5 22.1 1.5 8.2 1.5 2.1 1.5-0 1.5-12.8 1.5 10.7 1.5 1.9 1.5-0.3 1.5-12.5 1.5 10.7 1.5-6.1 1.5 5.1 1.5 7 1.5-12.6 1.5-4 1.5 3.6 1.5 4.8 1.5-3.6 1.5 8.8 1.5 6.2 1.5-11.7 1.5 3.5 1.5-7.8 1.5 18.7 1.5-4.7 1.5 4.9 1.5-3.6 1.5 2.5 1.5-18.5 1.5 13.5 1.5 2.2 1.5 0.3 1.5-8.4 1.5-21.4 1.5 28.5 1.5-1.8 1.5-6.2 1.5 6.4 1.5-6.8 1.5 4 1.5-1.3 1.5-1 1.5-11.6 1.5 17.9 1.5-26.9 1.5 21.4 1.5-2.3 1.5 7.5 1.5 4.5 1.5-5.3 1.5 6.7 1.5-8.8 1.5-4.9 1.5 13.6 1.5 3.2 1.5-2.7 1.5 5.7 1.5-11.4 1.5 1.7 1.5 7.3 1.5-39.2 1.5 30 1.5-0.1 1.5-6.6 1.5 17.7 1.5-8.4 1.5-19.2 1.5 24.5 1.5-3.2 1.5-11.1 1.5 1.4 1.5 11.8 1.5-0.5 1.5-8.2 1.5 5.7 1.5-3.8 1.5 8.5 1.5-16.2 1.5-0.2 1.5 13.9 1.5-35.3 1.5 36.3 1.5-33.6 1.5 34.3 1.5 1 1.5 4.3 1.5 7 1.5-26.5 1.5-8.8 1.5 24.6 1.5-1.9 1.5-16.8 1.5 9.8 1.5 6.4 1.5 4.3 1.5 2.6 1.5-0.3 1.5-28.4 1.5 22.3 1.5 5.1 1.5 7 1.5-15.2 1.5 10.8 1.5 1.1 1.5 0.4 1.5-33.9 1.5 36.2 0 44.4-1.5-11.2-1.5-7.4-1.5-3.4-1.5-4.2-1.5 7.1-1.5-5.9-1.5-0.7-1.5 4.3-1.5-1.7-1.5-4.2-1.5 2.5-1.5 1.3-1.5-5-1.5-0.3-1.5-2.5-1.5 14.6-1.5-16-1.5 3-1.5 12.3-1.5-12-1.5-1.6-1.5 3.6-1.5 10-1.5 1.1-1.5-16.8-1.5 16.1-1.5-12.8-1.5 7.3-1.5-19.1-1.5 9.5-1.5-0.1-1.5-8.3-1.5 5.9-1.5 0.1-1.5 1.6-1.5-5.4-1.5 15.9-1.5-2.6-1.5-17.4-1.5 3.3-1.5-2.8-1.5 4.5-1.5 2.4-1.5 14.4-1.5-8.3-1.5-18-1.5-1.9-1.5 0.8-1.5 22.8-1.5-23.4-1.5-0.5-1.5 6.6-1.5 11.7-1.5-16.3-1.5-0.2-1.5-1.6-1.5 4.6-1.5 0.2-1.5 5.2-1.5-5.3-1.5 2.9-1.5 3-1.5-4.6-1.5 3.1-1.5 3-1.5 6.5-1.5-6-1.5 1.5-1.5-7.6-1.5 20.4-1.5-19.1-1.5 3.3-1.5 4.3-1.5-1.8-1.5 2.3-1.5-9.4-1.5 0.8-1.5 6.8-1.5-4.1-1.5-0.7-1.5-1.9-1.5 14.7-1.5-14.9-1.5-0.5-1.5 14.4-1.5-21.8-1.5 1.9-1.5 1.1-1.5 2.5-1.5-1.9-1.5 2.8-1.5-4-1.5 3.2-1.5 2.7-1.5 3.4-1.5-1.2-1.5-3.5-1.5 33.5-1.5-33.9-1.5 14.8-1.5-7.2-1.5-8.2-1.5-2-1.5 5.9-1.5-2.7-1.5 2.5-1.5-0.5-1.5-4.1-1.5 13.1-1.5-18.5-1.5 2-1.5 36.1-1.5-35.5-1.5 10.6-1.5-3.7-1.5 25-1.5-26.7-1.5 3.8-1.5-2.3-1.5 3.2-1.5-3-1.5 4.1-1.5-7.4-1.5 3.8-1.5-2.7-1.5-9-1.5 4.8-1.5-3.5-1.5 14.4-1.5-17.9-1.5 4.1-1.5 2.4-1.5-4.9-1.5 2.2-1.5-1.2-1.5 19-1.5-11.7-1.5-11.7-1.5 4-1.5-1.1-1.5 5.9-1.5-6.3-1.5 3.2-1.5-0.7-1.5-6.6-1.5 1.5-1.5 19-1.5-12.9-1.5 30.4-1.5-15.7-1.5-14.2-1.5 2.1-1.5-6.2-1.5 0.4-1.5 13.4-1.5-12.3-1.5 1.4-1.5 12.8-1.5-17-1.5 2-1.5 7.4-1.5 2.2-1.5-18.1-1.5 7.8-1.5-2.3-1.5 36.3-1.5-29.1-1.5-5.4-1.5 9.3-1.5-8.1-1.5 38.7-1.5-37-1.5 6.3-1.5 0-1.5-4.5-1.5 2.5-1.5 2.1-1.5-7-1.5 10.7-1.5-6.8-1.5 12.8-1.5-11.7-1.5 18.2-1.5-22.8-1.5 35.4-1.5-27.9-1.5 13.8-1.5-23.6-1.5 15.9-1.5 15-1.5-27.5-1.5 6.8-1.5-6.3-1.5 0.6-1.5 10-1.5-0-1.5-11.2-1.5-6.2-1.5 4.8-1.5-5-1.5 11.1-1.5-10.4-1.5-3.8-1.5 47.2-1.5-43.5-1.5 2.6-1.5 32.4-1.5-30.3-1.5-3.2-1.5-4-1.5 3.8-1.5 15.6-1.5-1-1.5-14.1-1.5 1.4-1.5-8.7-1.5 14.1-1.5-3.5-1.5-9.9-1.5 5.3-1.5 0.3-1.5 1.7-1.5-6.3-1.5 20.3-1.5-11.2-1.5 1-1.5-6.3-1.5 7.4-1.5-3.5-1.5 6.1-1.5 1.3-1.5-5.8-1.5 0.9-1.5 16.9-1.5-16-1.5-2.9-1.5 13.5-1.5 3-1.5-20.3-1.5 5.2-1.5 2.5-1.5 9.6-1.5 29.7-1.5-26.8-1.5-12.7-1.5-1.8-1.5-3.1-1.5-1-1.5-1.5-1.5-3.4-1.5 13.4-1.5-12.6-1.5 6.1-1.5 23.1-1.5-20.7-1.5 4.6-1.5-9.8-1.5 4.2-1.5 3.8-1.5 5.5-1.5-4.9-1.5-10.3-1.5 10.3-1.5-4.6-1.5-6-1.5 5.7-1.5 0.4-1.5-3.6-1.5 0.3-1.5 15.7-1.5-14.2-1.5-3.8-1.5 0.5-1.5 7-1.5-6.4-1.5 1.3-1.5-0.6-1.5 1-1.5-6.2-1.5 32.4-1.5-30.6-1.5 11.8-1.5-8.6-1.5 1.9-1.5-4.8-1.5 17.7-1.5-16.6-1.5 9.9-1.5-3.8-1.5-4.9-1.5 0.2-1.5 4.6-1.5-3.3-1.5 35-1.5-33.6-1.5-6.3-1.5 11.8-1.5-12-1.5 1.5-1.5 2.9-1.5-2-1.5-0.9-1.5 14.2-1.5 8.9-1.5-21-1.5 4.4-1.5-3.8-1.5 2.3-1.5-6.8-1.5 4.4-1.5 1.4-1.5 8z" fill="#a89a52" stroke="#a89a52" stroke-width="1.6"/>
<path d="M1225.0 334.5l1.5-18 1.5-23.9 1.5-3.3 1.5 44.2 1.5 5.9 1.5-28 1.5 13.4 1.5-0.3 1.5-27.1 1.5 24 1.5-14.1 1.5-14.4 1.5 17.6 1.5-4.1 1.5-14.6 1.5-45.1 1.5 31.4 1.5 25.2 1.5-5.6 1.5 11 1.5-30 1.5 15.6 1.5-55.3 1.5 42.4 1.5-38.6 1.5 31.1 1.5 9.3 1.5-24.2 1.4 3.5 1.5 14.7 1.5-8.1 1.5 8.2 1.5-5.5 1.5-9.7 1.5-8.7 1.5 8.7 1.5-6.9 1.5-20 1.5 11.2 1.5 0.2 1.5-41.7 1.5 48.3 1.5 0.9 1.5-30.6 1.5 20.3 1.5-30.8 1.5 42.6 1.5-20.9 1.5-19.6 1.5 14.3 1.5-2.8 1.5 15.2 1.5-52.3 1.5 53.7 1.5-2 1.5-1.7 1.5-0.7 1.5-13.2 1.5-20 1.5 2.9 1.5 22.1 1.5-25.4 1.5 2.3 1.5 6.6 1.5 0.9 1.5-20.8 1.5 21.9 1.5-25.2 1.5-9.8 1.5 21 1.5-24.4 1.5 11.2 1.5 6.8 1.5-7.8 1.5-27.5 1.5 31 1.5-0.1 1.5-12.3 1.5 6.1 1.5 0.4 1.5 1 1.5-1.6 1.5-0.1 1.5-27.5 1.5 22 1.5-21.8 1.4 26.9 1.5-19.5 1.5 16.5 1.5-9.1 1.5 8.1 1.5-3.4 1.5-5.2 1.5-32.5 1.5 31.8 1.5 3.4 1.5-13.1 1.5 22.5 1.5-6.3 1.5-17.3 1.5 17.5 1.5-10.2 1.5 5.8 1.5 5.3 1.5-20.7 1.5 12.4 1.5 10 1.5-0.7 1.5-0.6 1.5-3.7 1.5-16.8 1.5-2.5 1.5-4.4 1.5 1.2 1.5-5.7 1.5 16.6 1.5-15 1.5 14.9 1.5-1.5 1.5 4.4 1.5 1.7 1.5-21.2 1.5 5.4 1.5 3.4 1.5-2.8 1.5 9.4 1.5-18.7 1.5 15.6 1.5-3.5 1.5 2.3 1.5-1.2 1.5-7.1 1.5 3.7 1.5-40.3 1.5 32.8 1.5-15 1.5-9.5 1.5 20.6 1.5-1.5 1.5-2.5 1.5 3.5 1.5-12.2 1.5 9.7 1.4 1.6 1.5-2.2 1.5 6.7 1.5 2 1.5-7.2 1.5-2.4 1.5-8.2 1.5 10.1 1.5 4.1 1.5-9.1 1.5-1.7 1.5 7.6 1.5-1.4 1.5-6.5 1.5 11.3 1.5 6.2 1.5-4.2 1.5-7 1.5 1.9 1.5-2.7 1.5-1.7 1.5 7.1 1.5-4.4 1.5-2 1.5 10.4 1.5-11.5 1.5 4.6 1.5 1.2 1.5-23.4 1.5 12.1 1.5 10.7 1.5 2.5 1.5 0.1 1.5-17.1 1.5 10.1 1.5-0.5 1.5-19.3 1.5 24.9 1.5-1 1.5-3.2 1.5-5.9 1.5 11.7 1.5 3.6 1.5-1.4 1.5 2 1.5 2.3 1.5-9.4 1.5-13.5 1.5 1.3 1.5-3.2 1.5 3.2 1.5 17.2 1.5-33.3 1.5 19.9 1.5-1.3 1.5-11.6 1.5-12.4 1.4 28.7 1.5 7.3 1.5 0.2 1.5-1.8 1.5-5.2 1.5 7.3 1.5-5.9 1.5-2.2 1.5 2.6 1.5-26.1 1.5 28.1 1.5 1.9 1.5-45.4 1.5 44.9 1.5-3 1.5-11.8 1.5 18.9 1.5-1.1 1.5-1.1 1.5-12 1.5-30 1.5 38.2 1.5-7.2 1.5 9.2 1.5 2.3 1.5 0.1 1.5-8.4 1.5 13.5 1.5-5.4 1.5 2.3 1.5-14.3 1.5 19.3 1.5-1.3 1.5 1.5 1.5 1.6 1.5-50.1 1.5 43 1.5 11.7 1.5-17.2 1.5 16.3 1.5-19.7 1.5 8.5 1.5-1.8 1.5-3 1.5 7 1.5-2.5 1.5-5.8 1.5 2.4 1.5-12 1.5 28.3 1.5-4.7 1.5 1.6 1.5-7.5 1.5 1.2 1.5 7.3 1.5-25.2 1.5 8.6 1.5 16.8 1.4-15.9 1.5 25.3 1.5-16.9 1.5 16.4 1.5-3.4 1.5-21.9 1.5 27.5 1.5 9.8 1.5-2 1.5-31.5 1.5 27.5 1.5-2.5 1.5-13.3 1.5-0 1.5 16.3 1.5 14.3 1.5-14.4 1.5-1 1.5-10.5 1.5 14.8 1.5-18.2 1.5 3.4 1.5 5.8 1.5 26.6 1.5-2.8 1.5 7.2 1.5-24.4 1.5 18.7 1.5 9.2 0 28.3-1.5 10.7-1.5-22-1.5-0.7-1.5 0.8-1.5 14.3-1.5-26.8-1.5 46.6-1.5-33.5-1.5 7.9-1.5 19.4-1.5-43.4-1.5 0.8-1.5 26-1.5-20.1-1.5-4.7-1.5 1.6-1.5-9.1-1.5-1.5-1.5 10.1-1.5 4.7-1.5-18.5-1.5 7.6-1.5 37.2-1.5-5.3-1.5-26.4-1.5-15.1-1.5 4.6-1.5-4-1.4-4.7-1.5 22.8-1.5-16.2-1.5 3.1-1.5-10.2-1.5-2.4-1.5-3.4-1.5 30.5-1.5-2.6-1.5-13.4-1.5-7.7-1.5-7.4-1.5 14.9-1.5 28.2-1.5-52.2-1.5 5.1-1.5 13.5-1.5-17.7-1.5-2.2-1.5 8.3-1.5 7.1-1.5-7.6-1.5-2-1.5 15.4-1.5-13.7-1.5-3.1-1.5-3.5-1.5 7.7-1.5-10.2-1.5 0.4-1.5 15.8-1.5-13.6-1.5-5.4-1.5 7.3-1.5 12.5-1.5-8.4-1.5-5.3-1.5 3.3-1.5-1-1.5 2-1.5-7.3-1.5-5.4-1.5 4.9-1.5 13.5-1.5 0.2-1.5-12.7-1.5 1.2-1.5-7.2-1.5 13-1.5-9.7-1.5-4.5-1.5 1-1.5 0.9-1.5 4.8-1.5 6.9-1.5-5.6-1.5-2.1-1.5 5.2-1.4-3.1-1.5 1.1-1.5-4.8-1.5-1.3-1.5 32.1-1.5-28-1.5-8.2-1.5-1.9-1.5 5-1.5 7.2-1.5-1.6-1.5-6.6-1.5 4.7-1.5 11.9-1.5 1.8-1.5-14.1-1.5-3.9-1.5-1.1-1.5 12-1.5-7.4-1.5 28.6-1.5-1-1.5-13.9-1.5-11.6-1.5-2.5-1.5 12.5-1.5-10.7-1.5 2.7-1.5 10.6-1.5-6.3-1.5-13.4-1.5 4.9-1.5 8-1.5 5.4-1.5 0.2-1.5-15.6-1.5 2.3-1.5 8.8-1.5-2.5-1.5-12.4-1.5 3-1.5 3.7-1.5-1.7-1.5 5.7-1.5-4.2-1.5 6.3-1.5 32.9-1.5-33.8-1.5-3.8-1.5-1.5-1.5-1.7-1.5 6.8-1.5 7.3-1.5 12.7-1.5-24-1.5 5.9-1.5 6.7-1.4-8.8-1.5 6.3-1.5-5.9-1.5 5-1.5 4.5-1.5-6.3-1.5 0.3-1.5 6.9-1.5-3.2-1.5-0.2-1.5-4.2-1.5 12.3-1.5 4.6-1.5 15.8-1.5-24.4-1.5 28.3-1.5-24.2-1.5 3.6-1.5 6.5-1.5-19.4-1.5 20.1-1.5-9.6-1.5 1.7-1.5-11-1.5 16.4-1.5-10.7-1.5-1.6-1.5 16.8-1.5 6.6-1.5 14.9-1.5-35.3-1.5 29.1-1.5-7.6-1.5 13.8-1.5-11.2-1.5-6-1.5 6.2-1.5-6.2-1.5 13.1-1.5 0.9-1.5-18.7-1.5-4.6-1.5 14.9-1.5-9.8-1.5-2.5-1.5 31.5-1.5-26.7-1.5 16.1-1.5-11.3-1.5 39-1.5-24.1-1.5-6.4-1.5 29.9-1.5-36.2-1.5-0.2-1.5 20.7-1.5-15.7-1.4 20.4-1.5-25.2-1.5 8.8-1.5 1.1-1.5 4.5-1.5-10-1.5 4.1-1.5-3.2-1.5 1.1-1.5 5.7-1.5 3.4-1.5 19.8-1.5-24.4-1.5 8.1-1.5 8.9-1.5-1.4-1.5 5-1.5 11.1-1.5 6.5-1.5-5.4-1.5 12.3-1.5 2.2-1.5 19.1-1.5 17.1-1.5-30.5-1.5 7.3-1.5 35.8-1.5-28.4-1.5 7.5-1.5-3.8-1.5-13.3-1.5 9.7-1.5 3.3-1.5-3.8-1.5 31.5-1.5-7.1-1.5-1-1.5-17-1.5-9.1-1.5 33.1-1.5-16.6-1.5-7.9-1.5 0.9-1.5 1.7-1.5 3.2-1.5-0.7-1.5 64.4-1.5-64.7-1.5 5.7-1.5 20-1.5-20.9-1.5 22.3-1.5 24.5-1.5-36.7-1.5 32.5-1.5 40.2-1.5-52.9-1.5-8.4-1.4 51.1-1.5-30.6-1.5 9.9-1.5-23.2-1.5 3.9-1.5 40.8-1.5-43.4-1.5 22.2-1.5 27.6-1.5 26.1-1.5-32.5-1.5-20.1-1.5 1.2-1.5 67.9-1.5-67-1.5 13.8-1.5-10.5-1.5 13.7-1.5 3.5-1.5-10.9-1.5 10.6-1.5 33.6-1.5 1-1.5-28-1.5-10.7-1.5 6.7-1.5 47.2-1.5 1.4-1.5-49.6zM1682.0 205.0l1.5-3 1.5-71.2 1.5 49.9 1.5-30.1 1.5 55.6 1.5-2.4 1.5-26.6 1.5-46.1 1.5 37.2 1.5 24.7 1.5-29.8 1.5 38.7 0 107.2-1.5 72-1.5-74.7-1.5 68.1-1.5-59.7-1.5-22.3-1.5 78.8-1.5-80-1.5 7-1.5-23.8-1.5 5.5-1.5 5.2-1.5 28.2z" fill="#30c055" stroke="#30c055" stroke-width="1.6"/>
<path d="M1655.0 220.0 1682.0 290.0M1690.0 131.0 1690.0 200.0" stroke="#30c055"/>
<path d="M1260.0 326.5l1.5-47.5 1.5 35.6 1.5-18 1.5 11.2 1.5 33.7 1.5-26.6 1.5-35.6 1.5 7.4 1.5 49.6 1.5-7.3 1.5 10.9 1.5-3.7 1.5-9.8 1.5 3.4 1.5-31.3 1.5 39.9 1.5-14.8 1.5 11.3 1.5-15.8 1.5 1.3 1.5 0.8 1.5-1.8 1.5 3.5 1.5-1.5 1.5-59.5 1.5 29.4 1.5 17.5 1.5-11.3 1.5 11.4 1.5-25.5 0 57.4-1.5-1-1.5-0-1.5 17.2-1.5-11.3-1.5 24.8-1.5-0.2-1.5-17.9-1.5 9.4-1.5 3.6-1.5 31.8-1.5-31.3-1.5-3.7-1.5 5-1.5-2.2-1.5-17.7-1.5 18.1-1.5 22-1.5-22.9-1.5-4.3-1.5 29.2-1.5-2.9-1.5-5.1-1.5-3.4-1.5-17.6-1.5 34-1.5 13.9-1.5-41.2-1.5 2.1-1.5-2.6-1.5-1.1z" fill="#9638d8" stroke="#9638d8" stroke-width="1.6"/>
<path d="M1808.0 140.5l1.5-0.2 1.5-8.3 1.5-3 1.4 8.5 1.5 6.5 1.5-1 1.5-2.4 1.5-15.7 1.5 6.9 1.4-9.2 1.5 13.1 1.5-7.6 1.5 1.5 1.5 1.5 1.5 2 1.5 4.3 1.4-3.7 1.5 3 1.5 1.8 1.5-4.9 1.5-2.5 1.5-8.3 1.5 10.9 1.4-2.9 1.5 1.3 1.5-7.5 1.5-4.1 1.5 6.9 1.5 7.6 1.4-17.3 1.5 13 1.5-11.3 1.5 6.7 0 18.7-1.5 5.2-1.5 31.8-1.5-33.2-1.4-4.8-1.5 9.1-1.5-5.6-1.5 19.4-1.5-21-1.5 8.2-1.4-6.2-1.5-1.1-1.5 0.7-1.5 15.1-1.5-9.3-1.5-6.1-1.5 6.9-1.4 2-1.5 4.9-1.5-8.3-1.5 16.6-1.5 2.4-1.5-16.1-1.5-7.6-1.4 3.8-1.5 4.1-1.5 3.3-1.5-4.5-1.5-1.5-1.5 0.8-1.4 8.2-1.5-4.1-1.5-2.3-1.5 4.1z" fill="#9638d8" stroke="#9638d8" stroke-width="1.6"/>
<path d="M1650.0 248.0l1.5-24.3 1.5 16.6 1.5 13.6 1.5-2.3 1.5-2.7 1.5-2.8 1.5 4 1.5 2.4 0 31-1.5-2.7-1.5 13.5-1.5-8.5-1.5 9.9-1.5 5.7-1.5 1.7-1.5 2.8-1.5 18.2zM1700.0 127.4l1.5-42.8 1.5 44.5 1.5-8.3 1.5 8.8 1.5-4.1 1.5 1.6 1.5 7.9 1.5-10.9 1.5 6.8 1.5-4.8 1.4-3.5 1.5 1.3 1.5-3.5 1.5 6.1 1.5 10.4 1.5-19.8 1.5 15 1.5-7.4 1.5-2.8 1.5-18.7 1.5 15.6 1.5 14.1 1.5-9.7 1.5 8.4 1.5-7 1.5 1.4 1.5-5.2 1.5 6 1.5-6.1 1.5-4.7 1.5-29.8 1.4 32.5 1.5-1.9 1.5 8.4 1.5 2.5 1.5-1.5 1.5-5.3 1.5 3.1 1.5-4.4 1.5-2.8 1.5-14.4 1.5 24.6 1.5-3.9 1.5 6.5 1.5-18.4 1.5 1.1 1.5-4.9 1.5 25 1.5-12.4 1.5-2.7 1.5 14.8 1.5-6.5 1.4 1.2 1.5-6.5 1.5-6.7 1.5 10.5 1.5-10.4 1.5 8.2 1.5-13.5 1.5 14.1 1.5-21.8 1.5-10.4 1.5 30.2 1.5-12 1.5-5.1 1.5 15.1 1.5 3.7 1.5-0.9 1.5-21.4 1.5 17.8 1.5 4.8 1.5 4.5 1.5-1.9 1.4-18.5 1.5 0.9 1.5 12.2 1.5-24.6 1.5 23.5 1.5-1.1 1.5-1.3 1.5-2.5 1.5 2.2 1.5-18.4 1.5 13.8 1.5-17.8 1.5 28 1.5-15.1 1.5-6.4 1.5 12 1.5 7.6 1.5 0.5 1.5 6 1.5-9.2 1.5 5.4 1.4 2.7 1.5-13.6 1.5 2.3 1.5 1.1 1.5 3.4 1.5-12 1.5 14.4 1.5-6.7 1.5 6.4 1.5-32.7 1.5 30 0 26-1.5-0.5-1.5 2.5-1.5-0.4-1.5 7.9-1.5-8.2-1.5-4.1-1.5 17.4-1.5-20.9-1.5 4.3-1.5-2.9-1.4 0.9-1.5 10.9-1.5-11.6-1.5 15.2-1.5 6.2-1.5-16.3-1.5 10.9-1.5-10.8-1.5 14.5-1.5-17.2-1.5 4.4-1.5 4.6-1.5 12.4-1.5-16-1.5 0.8-1.5-2.7-1.5 31.4-1.5-7.2-1.5 3.6-1.5-22-1.5-9.6-1.4 5.4-1.5-2-1.5 8.5-1.5-0.4-1.5 11.5-1.5-15.6-1.5 1.7-1.5 1.8-1.5 3.1-1.5 15.2-1.5-16.7-1.5 0.5-1.5-3.1-1.5 4.6-1.5 8.6-1.5 8.8-1.5-16.5-1.5 0.6-1.5 5.8-1.5-5.1-1.5-0.9-1.4 3.5-1.5-16.5-1.5 42.5-1.5-32-1.5-1.3-1.5-0.4-1.5 7.1-1.5 10-1.5-16.7-1.5-4.1-1.5-0.4-1.5-1-1.5 47.3-1.5-39.1-1.5 1-1.5-2.5-1.5 5.7-1.5-12.6-1.5-3.3-1.5 11.6-1.5-7.4-1.4-3.2-1.5 4.8-1.5 18.8-1.5-7.5-1.5 13.8-1.5-26.1-1.5 27.6-1.5-11.8-1.5-9.8-1.5 18.5-1.5-19-1.5 4.8-1.5 8.6-1.5-9.8-1.5 1.2-1.5-0.5-1.5-15.4-1.5 32.1-1.5-19.8-1.5-0.3-1.5-5.9-1.4 12.6-1.5-5.6-1.5 9-1.5-10.1-1.5 1.6-1.5 1.9-1.5-5.9-1.5 6.9-1.5 2.2-1.5 13.4-1.5-16.7z" fill="#3a72f0" stroke="#3a72f0" stroke-width="1.6"/>
<path d="M1662.0 240.0 1682.0 130.0" stroke="#3a72f0"/>
<path d="M1510.0 189.4l1.5-8.4 1.5 7.6 1.5-11 1.5-16.1 1.5 18 1.5-18.4 1.5 10.2 1.5 2.2 1.5 6.3 1.5-12.6 1.5 1.2 1.5 15.2 1.5-0.5 1.5-7.7 1.5-11.3 1.5 16.1 1.5 7.4 1.5-3 1.5-2.6 1.5 2.4 1.5-9.9 1.5-0.6 1.5 0.5 1.5 10 1.5-13.5 1.5 2.9 1.5 2.7 1.5-24.4 1.5 16.2 1.5 15.1 1.5-4.4 1.5-4.1 1.5-6.6 1.5-22.7 1.5 18.4 1.5-14.6 1.5 20.2 1.5-3.4 1.5 1.1 1.5-30.4 1.5 39.4 1.5-4.2 1.5 5.4 1.5-3.3 1.5 5.4 1.5-29.9 1.5 24.8 1.5-7.4 1.5 8.2 1.5 2.8 1.5-33.6 1.5 27.2 1.5 0.9 1.5-11.1 1.5 8.8 1.5-1.9 1.5-28.8 1.5 36 1.5-7.4 1.5-0.3 1.5-0.2 1.5-17.2 1.5 13.3 1.5-34.6 1.5 39.5 1.5-3 1.5-8.9 1.5 7.9 1.5 1.7 1.5 3.1 1.5-1.1 1.5 3.7 1.5-4.4 1.5 10.8 1.5 0.6 1.5-21.2 1.5 17.8 1.5 9.7 1.5-1.3 1.5-5.2 1.5-9.5 1.5 7.4 1.5-15.7 1.5 12.6 1.5-3.1 1.5 2.6 1.5 0.3 1.5-19.7 1.5 25 1.5-0.3 1.5 2.9 1.5-9 1.5-0.5 1.5-1.4 1.5 9.2 1.5-1.1 1.5 5.2 1.5-3.5 1.5-8.7 1.5-38.4 0 73.1-1.5 0.9-1.5 2-1.5 20.6-1.5-8.2-1.5-9.7-1.5 27.1-1.5-40.9-1.5 7-1.5 18.7-1.5-21.1-1.5 10.9-1.5 8-1.5-20-1.5-0.6-1.5-3-1.5 41-1.5-39-1.5-4.2-1.5 2.8-1.5-0.4-1.5 2.1-1.5-4.2-1.5-2.2-1.5 27.9-1.5-7.1-1.5 8.3-1.5-20.3-1.5-0.4-1.5-2.1-1.5-7.6-1.5 27.2-1.5-25.2-1.5 2.6-1.5 3.3-1.5-7.8-1.5 19.9-1.5-9.3-1.5 3-1.5-6.6-1.5 0.4-1.5 5.1-1.5 27.3-1.5-34-1.5 11.6-1.5-3.1-1.5-1.8-1.5 26.9-1.5-29.2-1.5 17.3-1.5-14.2-1.5-1.6-1.5 1.5-1.5 9.9-1.5-18.5-1.5 0.5-1.5 3.2-1.5 4.9-1.5 0.5-1.5 0.4-1.5 9.9-1.5-12.9-1.5 8.1-1.5 1.2-1.5-1.2-1.5-1.6-1.5-3.2-1.5-0.5-1.5 2.9-1.5 36.8-1.5-37.7-1.5 15.9-1.5-22.8-1.5 3.7-1.5 4.6-1.5 2.2-1.5-13-1.5 29.2-1.5-17.8-1.5-2.6-1.5 2.5-1.5-7.7-1.5 11.2-1.5-0.8-1.5 16.5-1.5-12.4-1.5 1.9-1.5 4.8-1.5-3.6-1.5 2.8-1.5-6.7-1.5 51.3-1.5-42.8-1.5 11.1-1.5-7.9-1.5 26.9-1.5-28.5-1.5 11.7-1.5 14.3-1.5-27.5-1.5 13.9zM1730.0 215.9l1.5-2.2 1.5-0.9 1.5 7.2 1.5-1.8 1.5-2.7 1.5-0.3 1.5-3 1.5 4.3 1.5-7.6 1.5 8.5 1.5-24.4 1.5 26.6 1.5-2 1.5 2.3 1.5-0.9 1.5-1.8 1.5-1.1 1.5 5.7 1.5-2.8 1.5-7.2 1.5 4.1 1.5 4.5 1.5-10.9 1.5 8 1.5-2 1.5 1.9 1.5 0.2 1.5 2.8 1.5-10.4 1.5 10.1 1.5-5.9 1.5 4.7 1.5-5.1 1.5-2.4 1.5 6.6 1.5-7.2 1.5-0.4 1.5 7.8 1.5-8.3 1.5 9.3 1.5-0.7 1.5-8.1 1.5 4.1 1.5 2.7 1.5 2.7 1.5-0.9 1.5-0.2 1.5-0.9 1.5-4.7 1.5 6.1 0 12.7-1.5-3.2-1.5 6.2-1.5-4.2-1.5 1-1.5 0-1.5-2.4-1.5-0.4-1.5 2.7-1.5 2.4-1.5 0-1.5 1.4-1.5-3.5-1.5 2.6-1.5-2.8-1.5 6.9-1.5-11.2-1.5 9-1.5-6.9-1.5 6.8-1.5-1.9-1.5 0.6-1.5-1.3-1.5 21.9-1.5-22.3-1.5-1.4-1.5-5-1.5 6.6-1.5-1.8-1.5 6.7-1.5 12.6-1.5-20.5-1.5 3.7-1.5-1.3-1.5-5.4-1.5-3.2-1.5 3.6-1.5-1.1-1.5 1.8-1.5 22.5-1.5-15.1-1.5-9-1.5 0.7-1.5 10.8-1.5-12.5-1.5 1.7-1.5 4-1.5-7.4-1.5 3.1-1.5-4-1.5 5.4z" fill="#9a1a60" stroke="#9a1a60" stroke-width="1.6"/>
<path d="M1742.0 223.9l1.5 3.3 1.5-18.5 1.5 11.2 1.5 5.3 1.4 3.9 1.5-5.8 1.5 0.8 1.5-12.5 1.5 14.5 1.5 4.1 1.5-2.6 1.5-7 1.5 11.6 1.5 1.7 1.4 2.3 1.5 2.9 1.5-1.6 1.5-2 1.5 1.3 1.5-3 1.5 1 1.5-8.6 1.5 2.7 1.5 6.8 1.4-6.5 1.5-18.8 1.5 19.9 1.5-6.4 1.5-5.8 1.5 11.6 1.5 2.9 1.5 0.5 1.5-16.4 1.5 14.2 1.4 0.3 1.5-4.4 1.5 10.8 1.5-5 1.5-14.8 1.5 11.7 1.5 5 1.5-37.4 1.5 34.9 1.5 3.6 1.4-3.3 1.5-16.5 1.5 16.4 1.5-1.1 1.5-5.1 0 28.2-1.5 2.7-1.5-7.7-1.5-1.1-1.5-0.7-1.4 2.5-1.5-5.3-1.5 3.9-1.5 5.6-1.5 27.1-1.5-30.8-1.5-1.2-1.5 4.7-1.5-2.6-1.5 0.2-1.4-5.6-1.5 19.5-1.5-14.3-1.5 1.5-1.5-2.7-1.5-2.2-1.5-1.2-1.5 17.5-1.5-8.7-1.5 21.1-1.4-25.2-1.5-3.8-1.5 2.2-1.5-1-1.5-1.5-1.5 16.4-1.5-10.9-1.5 12-1.5-3-1.5 6.9-1.4-21.4-1.5 1.5-1.5 0.1-1.5-0.5-1.5-0.2-1.5-5.3-1.5 0.5-1.5 12.4-1.5-9.9-1.5 3.7-1.4 20.1-1.5-20.9-1.5 0.7-1.5-2.4-1.5-1.9zM1840.0 176.8l1.5 6.4 1.5-30.1 1.5 23.3 1.5 10.7 1.5 0.2 1.5-0.8 1.5-2.1 1.5 3.2 1.5 4.3 1.5-8.9 0 23-1.5-2.2-1.5 14.1-1.5-14.1-1.5 6.3-1.5-9.4-1.5 3.9-1.5-2-1.5-1.9-1.5 0.9-1.5 6.2z" fill="#1f3a08" stroke="#1f3a08" stroke-width="1.6"/>
<path d="M1570.0 196.3l1.5 35.9 1.5-3.4 1.5 4.9 1.5-33.1 1.5 3.2 1.6-30.7 1.5 30.2 1.5 15.9 1.5-6.9 1.5 10.9 1.5-7.8 1.5 7.5 1.5 4.4 1.5-5.6 1.5 3.4 1.6-1.9 1.5 0.8 1.5 3.6 1.5-10.1 1.5-3.8 1.5-3.7 1.5-1.4 1.5-7.2 1.5 12.3 1.5 4.5 1.5 3.7 1.6-6.3 1.5 1.1 1.5 3.5 1.5-7.8 1.5 9.8 1.5 2.9 1.5-30.8 1.5 33.9 1.5 0.1 1.5-9 1.5-13.1 1.6 5 1.5 5 1.5 1.7 1.5-38.5 1.5 26.6 1.5 7.7 1.5-12.7 1.5-1.8 1.5-21.2 1.5 42.5 1.6-4.6 1.5-36.5 1.5 19.9 1.5 14.2 1.5-13.8 1.5 10.1 0 32.6-1.5-9.3-1.5 13-1.5-11.9-1.5 10.6-1.5 12.8-1.6-18.3-1.5 12.5-1.5-13.5-1.5 5.9-1.5-6.2-1.5 2.5-1.5 7.7-1.5-7.7-1.5 4.7-1.5-2.5-1.6 10.6-1.5 16.8-1.5-1.4-1.5-15.7-1.5 3.2-1.5 13.3-1.5 18-1.5-31.5-1.5 33.9-1.5-32.3-1.5-13.9-1.6 9.2-1.5 26.2-1.5-11.5-1.5 4.8-1.5-21.9-1.5-2.6-1.5 40.1-1.5-32.9-1.5-5-1.5 43.8-1.5-42.3-1.6 36.1-1.5-17.6-1.5-18.7-1.5 10.4-1.5-4.5-1.5 33.9-1.5-28.3-1.5-4.2-1.5 23-1.5-19.1-1.6 25.2-1.5-22.9-1.5 25.6-1.5-12-1.5-4.6-1.5-13.1zM1680.0 173.4l1.5-5.7 1.5-7.6 1.5 11.7 1.5-0.7 1.5-4.8 1.5 6.7 1.5 0.2 1.5 4.6 1.5-8.1 1.5 4.7 1.5-9.2 1.5-2.5 1.5-19 1.5 23.8 1.5-6.7 1.5-8.2 1.5 20.5 1.5-2.2 1.5-34.1 1.5 15.3 1.5 7.7 1.5 15.2 1.5-8.3 1.5 6.5 1.5 6.7 1.5 0.3 1.5 1.9 1.5-5.7 1.5-20.4 1.5 24.6 1.5-4.7 1.5-24.4 1.5 31.9 1.5-6.4 1.5-1.7 1.5 3.5 1.5 6.7 1.5-8.6 1.5 6.8 1.5-12.9 1.5-36.6 1.5 37.4 1.5 18 1.5-6.5 1.5-6 1.5 8.9 1.5-5.6 1.5-35.5 1.5 3.1 1.5 36.2 1.5 2.4 1.5 2 1.5-5.3 1.5-5.3 1.5 8.4 1.5-14.5 1.5 13 1.5-19.3 1.5-6.6 1.5-9.9 1.5 17.4 1.5 8.3 1.5 13.2 1.5-21.9 1.5 16.6 1.5-10.9 1.5-0.2 1.5-3 1.5 15.3 1.5-21.2 1.5 0.8 1.5 12.8 1.5-25.6 1.5 13.7 1.5-24.7 1.5 39.8 1.5-30.2 1.5 29.8 1.5 1.9 1.5-1.6 1.5 9.1 1.5-6.2 1.5 0.3 1.5-34.5 1.5 30.9 1.5-34.2 1.5 23 1.5 17.5 1.5-19.2 1.5 26 1.5 1.5 1.5-2 1.5-20.2 1.5 8.4 1.5 5.4 1.5-16.8 1.5-3.7 1.5-5.4 1.5 16.4 1.5 13.8 1.5-38.8 1.5 32.3 1.5-24.8 1.5 25.3 1.5 2.4 1.5-31.3 1.5 7.3 1.5 27.7 1.5-49 1.5 43.6 1.5-24.8 1.5 11.9 1.5 6.4 1.5 13.5 1.5 14.2 1.5-13.3 1.5 12 1.5-8.1 0 26-1.5 30.6-1.5-8.6-1.5 20.2-1.5-35.4-1.5 7.6-1.5-5.1-1.5-10.4-1.5 11.8-1.5-7.6-1.5 5.9-1.5 7.5-1.5-21.4-1.5-4.1-1.5 34.7-1.5-31.6-1.5 10.5-1.5 10.9-1.5 9.1-1.5-23.8-1.5 2.7-1.5-5.1-1.5 14.4-1.5-12.8-1.5 49-1.5-30.7-1.5 7.1-1.5 13.2-1.5-42.8-1.5 5.8-1.5-1.9-1.5-5-1.5 47.7-1.5-52.4-1.5-4.3-1.5 14.2-1.5 29.4-1.5-40.5-1.5 29.5-1.5-33.1-1.5-2.5-1.5 5.4-1.5 11.6-1.5-17.7-1.5 3.3-1.5 2.7-1.5 44.9-1.5-49.6-1.5-5.3-1.5 25.7-1.5-16.9-1.5-3.7-1.5-0.9-1.5-3.1-1.5-0.3-1.5 16.5-1.5-3.6-1.5 1.9-1.5 7.7-1.5-11.2-1.5 7.6-1.5-14.9-1.5 6.3-1.5-1.7-1.5-3.8-1.5 4.2-1.5 4.6-1.5-3.7-1.5 21.5-1.5-18.2-1.5 14.1-1.5-16.4-1.5-7.9-1.5 2-1.5 8.5-1.5-2.5-1.5-5.7-1.5 4.6-1.5-1.7-1.5 0.3-1.5 16.1-1.5 22.2-1.5-8.5-1.5-31.9-1.5-0.7-1.5 6.6-1.5-2-1.5 4.2-1.5-1.1-1.5-13-1.5 49.5-1.5-54.2-1.5-1.7-1.5-2.9-1.5 4.9-1.5 13.4-1.5 5.2-1.5-9.1-1.5 34.4-1.5-40.3-1.5 6.3-1.5 21.8-1.5-16.6-1.5 0.2-1.5 8.1-1.5-18.1-1.5 2.4-1.5 6.3-1.5-3.6-1.5 0.5-1.5-5.9-1.5-1.2-1.5 0.2-1.5 6.3-1.5-13-1.5 16.8-1.5-11.2-1.5 9.3-1.5-4.6z" fill="#e89ce2" stroke="#e89ce2" stroke-width="1.6"/>
<path d="M1575.0 290.0 1575.0 392.0M1650.0 210.0 1680.0 190.0" stroke="#e89ce2"/>
<path d="M1747.0 262.5l1.5-7.4 1.4 1.4 1.5-3.6 1.5 1.2 1.5-5.1 1.4 1.2 1.5-2.2 1.5-13.2 1.5 8.3 1.4 7.4 1.5-2.7 1.5-0 1.5 2.6 1.4 3 1.5-6.5 1.5 0 1.5-8.8 1.4 15.6 1.5-10 0 22.7-1.5-2.7-1.4 4.5-1.5 2.2-1.5-0.7-1.5-2.7-1.4 3.6-1.5 10.6-1.5-7.5-1.5-2.3-1.4 2-1.5 14.1-1.5 2.1-1.5-2.1-1.4-4.5-1.5 5.4-1.5-13.1-1.5 13.1-1.4-6.1-1.5 3.4z" fill="#9638d8" stroke="#9638d8" stroke-width="1.6"/>
<path d="M1750.0 282.0 1750.0 387.0" stroke="#9638d8"/>
</g>
<text x="172.1" y="588.4" font-size="53" fill="#262626" stroke="#262626" stroke-width="0.8" text-anchor="middle">0</text>
<text x="523.1" y="588.4" font-size="53" fill="#262626" stroke="#262626" stroke-width="0.8" text-anchor="middle">5</text>
<text x="874" y="588.4" font-size="53" fill="#262626" stroke="#262626" stroke-width="0.8" text-anchor="middle">10</text>
<text x="1225" y="588.4" font-size="53" fill="#262626" stroke="#262626" stroke-width="0.8" text-anchor="middle">15</text>
<text x="1576" y="588.4" font-size="53" fill="#262626" stroke="#262626" stroke-width="0.8" text-anchor="middle">20</text>
<text x="151.5" y="64.8" font-size="53" fill="#262626" stroke="#262626" stroke-width="0.8" text-anchor="end">0</text>
<text x="151.5" y="182.2" font-size="53" fill="#262626" stroke="#262626" stroke-width="0.8" text-anchor="end">-2</text>
<text x="151.5" y="299.5" font-size="53" fill="#262626" stroke="#262626" stroke-width="0.8" text-anchor="end">-4</text>
<text x="151.5" y="416.8" font-size="53" fill="#262626" stroke="#262626" stroke-width="0.8" text-anchor="end">-6</text>
<text x="151.5" y="534.2" font-size="53" fill="#262626" stroke="#262626" stroke-width="0.8" text-anchor="end">-8</text>
<text x="1017.5" y="103.8" font-size="57" font-weight="bold" fill="#000" stroke="#000" stroke-width="0.5" text-anchor="middle">B1I</text>
<text transform="translate(56.3 321) rotate(-90)" font-size="58" fill="#262626" stroke="#262626" stroke-width="0.8" text-anchor="middle">meter</text>
<rect x="173.1" y="666.9" width="1690.9" height="469.9" fill="#fdf8f4"/>
<path d="M524.1 666.9V1136.8M875 666.9V1136.8M1226 666.9V1136.8M1577 666.9V1136.8" stroke="#262626" stroke-opacity="0.15" stroke-width="4" fill="none"/>
<path d="M173.1 666.9H1864M173.1 784.4H1864M173.1 901.9H1864M173.1 1019.4H1864" stroke="#262626" stroke-opacity="0.15" stroke-width="3.2" fill="none"/>
<path d="M173.1 665.3V1136.8H1864.9" stroke="#262626" stroke-width="3.6" fill="none" stroke-linecap="square"/>
<path d="M524.1 1136.8V1117.8M875 1136.8V1117.8M1226 1136.8V1117.8M1577 1136.8V1117.8" stroke="#262626" stroke-width="4" fill="none"/>
<path d="M173.1 666.9H192.1M173.1 784.4H192.1M173.1 901.9H192.1M173.1 1019.4H192.1" stroke="#262626" stroke-width="3.2" fill="none"/>
<g clip-path="url(#c1)" fill="none" stroke-width="3.2" stroke-linejoin="miter" stroke-miterlimit="2">
<path d="M172.0 862.3l1.5 0.9 1.5-19.1 1.5 15.1 1.5-5.2 1.5 1.1 1.5-44.5 1.5 49.5 1.5 7.9 1.5-7.5 1.5 4.5 1.5-1.8 1.5-3.7 1.5-13.9 1.5 15.6 1.5 14.2 1.5-55.2 1.5 47.6 1.5-1.8 1.5-0.6 1.5 2.2 0 40.4-1.5-4.3-1.5 3.9-1.5 1.4-1.5 16-1.5-21.7-1.5 19.8-1.5-20.8-1.5-9.7-1.5 15.8-1.5-6.3-1.5 28.7-1.5-23.6-1.5 0.1-1.5 10.6-1.5 9.8-1.5-18.3-1.5 2.7-1.5 26.4-1.5-28.8-1.5 3z" fill="#98c4b8" stroke="#98c4b8" stroke-width="1.6"/>
<path d="M172.0 807.9l1.5 12.4 1.5-11.6 1.6 1.5 1.5 18.9 1.5 4.6 1.5-0.3 1.6-4.9 1.5 0.1 1.5 14.4 1.5 9.4 1.5-43 1.6 15.6 1.5 22.7 1.5 4.5 1.5-1.4 1.5 2.1 1.6 0.1 1.5 8.4 1.5 4.4 1.5-15.8 1.6 15.6 1.5-11.8 1.5 6 0 55.6-1.5-1.8-1.5-10.4-1.6 17.8-1.5-29-1.5 26.7-1.5-19.9-1.6 30.2-1.5-36.5-1.5-2.5-1.5 3.8-1.5 11.7-1.6-24.5-1.5 7.1-1.5-18.2-1.5-3.5-1.5 7.6-1.6-3.1-1.5-15.6-1.5 6.7-1.5 8.8-1.6-10.6-1.5-1.2-1.5 3z" fill="#18b8c0" stroke="#18b8c0" stroke-width="1.6"/>
<path d="M172.0 760.9l1.5 8.6 1.5-7.1 1.5-1.3 1.5 4.5 1.5 1.5 1.5-12.4 1.5 8.5 1.5 3.9 1.5-7.2 1.5 2.7 1.5 2 1.5 0 1.5-0.1 1.5-1.4 1.5-0.3 1.5-8.4 1.5 5.8 1.5-2.9 1.5 0.5 1.5 2.9 1.5-8.3 1.5 5.7 1.5 0.2 1.5-5.1 1.5 7.1 1.5-1.8 1.5 3 1.5-4 1.5-4.5 1.5-4.1 1.5 9.6 1.5-10.7 1.5 8.1 1.5-1.6 1.5 1.4 1.5-7.8 1.5-6.8 1.5 12.6 1.5-9.8 1.5 3.1 1.5 4 1.5 3.3 1.5-4.3 1.5-0.3 1.5-5.1 1.5-5.1 1.5 4.1 1.5-0.4 1.5 0.5 1.5-0.5 1.5-7.3 1.5 5.5 1.5-8.6 1.5 5.2 1.5 0.1 1.5-4.3 1.5 1.7 1.5 1.3 1.5 0.8 1.5-2.5 1.5-6.6 1.5 12.2 1.5-5.8 1.5 3.8 1.5-1.8 1.5-0.4 1.5-0.3 1.5-2.8 1.5-0.7 1.5 0.2 1.5 1 1.5 0.7 1.5-0.7 1.5-1 1.5 0.9 1.5-8.3 1.5-0.3 1.5 1.3 1.5 0.7 1.5 1.6 1.5-8.1 1.5 4.8 1.5 1.1 1.5-0.2 1.5-0.7 1.5 2.4 1.5-4.9 1.5-0.5 1.5 2.9 1.5 3.3 1.5-13.2 1.5 12 1.5 2.9 1.5-0.5 1.5-7.2 1.5 4.8 1.5-9.9 1.5 10.8 1.5-1.9 1.5 3.7 1.5-2.4 1.5-6.3 1.5 9.9 1.5 1.8 1.5-0.6 1.5-2.7 1.5-2.6 1.5 4.2 1.5 3.2 1.5-2.5 1.5 1.2 1.5-6.5 1.5 6.1 1.5 4.8 1.5 1.4 1.5-17.1 1.5 25.1 1.5-4.2 1.5 1.2 1.5 3.6 1.5 0.2 1.5 6.3 1.5-1.6 1.5 6 1.5-6.9 1.5 5.5 1.5-0.4 1.5-14.5 1.5 4.3 1.5 8.3 1.5 0.6 1.5 0.2 1.5 2.8 1.5 1.1 1.5 1.9 1.5-2 1.5-0.2 1.5-6 1.5 0.6 1.5 1 1.5 6.8 1.5-0.1 1.5-3.6 1.5-1.4 1.5 4.1 1.5-3.7 1.5 2.2 1.5-2.2 1.5-4.3 1.5 8.6 1.5-5.5 1.5 6.8 1.5-5.1 1.5 1.4 1.5-2.4 1.5 3.7 1.5-0.8 1.5-3 1.5-6.4 1.5 10.5 1.5-7.5 1.5 3.3 1.5-1.4 1.5 0.5 1.5-7.2 1.5 3.4 1.5 5.5 1.5 0.5 1.5-3.5 1.5 6.2 1.5 1.1 1.5-0.1 1.5-0.8 1.5 1.2 1.5-12.5 1.5 8.4 1.5-3.9 1.5 0.1 1.5 5.9 1.5-0.4 1.5-1.3 1.5 2.7 1.5-4.7 1.5 2.8 1.5-8.5 1.5 8.5 1.5-2.7 1.5-18.2 1.5 23.9 1.5-1.8 1.5 0.3 1.5-1.1 1.5 1 1.5 6 1.5-0.2 1.5-11.5 1.5 10.7 1.5-2.1 1.5 4.5 1.5-3.2 1.5-6.2 1.5 5.3 1.5-3 1.5 1.8 1.5-1.1 1.5 2.9 1.5-1 1.5 1.7 1.5 1.7 1.5-0.7 1.5-1 1.5 5.1 1.5 2 1.5-1.4 1.5 0.4 1.5 1.5 1.5-1.9 1.5-4.5 1.5 1.9 1.5-0.1 1.5 0.5 1.5-1.3 1.5-1.5 1.5-0.5 1.5-0.1 1.5-3 1.5 1.2 1.5 1.1 1.5-5.2 1.5 1.2 1.5-5.8 1.5 5.1 1.5 2.8 1.5 1.3 1.5 2.6 1.5-1.9 1.5-0.3 1.5 1.2 1.5 1.1 1.5-3.4 1.5-0.7 1.5 5.7 1.5-11.2 1.5 8 1.5 3.4 1.5-9.8 1.5 9.1 1.5-10 1.5 5.1 1.5-4.5 1.5 3.3 1.5 4.9 1.5-3.6 1.5 5.4 1.5-1.6 1.5 1.6 1.5-0.6 1.5 34 1.5 13.3 1.5-5 1.5 5.9 1.5-0 1.5 4.7 1.5-2.1 1.5 3.3 1.5 3.3 1.5 1.1 1.5-5.1 1.5 8.6 1.5 4.1 1.5-6.3 1.5 3.2 1.5 6 1.5-12.2 1.5 9.2 1.5-3.4 1.5 8.3 1.5-4 1.5-1.6 1.5 1.1 1.5 8.6 1.5 4.1 1.5-3.5 1.5-0.6 1.5 4.5 1.5 4.5 1.5 1.8 1.5 0.9 1.5 1.2 1.5 0.7 1.5 1.7 1.5-1.6 1.5 4.1 1.5-2.5 1.5 2 1.5 3.5 1.5-3.7 1.5 0.9 1.5 5.7 1.5 0.1 1.5 0.4 1.5 5.1 1.5 1.7 1.5-1.9 1.5-19.1 1.5 19.3 1.5 9.9 1.5 2.6 1.5-11.8 1.5 15.7 1.5-0.6 1.5 3.1 1.5 0.8 1.5-5.7 1.5 12.3 1.5 2 1.5-8.6 1.5 16.5 1.5 1 1.5-1.5 1.5 2.6 1.5 3 1.5 0.6 1.5 7.9 1.5-1.8 1.5 3.5 1.5 6.4 1.5-5.4 1.5 0.9 1.5 12.1 1.5-2.4 1.5 3.4 1.5 5.3 1.5-11.5 1.5 13.6 1.5-3.4 1.5 7.2 1.5 0.5 1.5 2.7 1.5 1.2 1.5 0.6 1.5-2.2 1.5 6.2 1.5 4.1 1.5-0.9 1.5 0.8 1.5 4.1 1.5-4 1.5 10.9 1.5 6.4 1.5-28 1.5 18.5 0 41.8-1.5-3.3-1.5 2.5-1.5-2.5-1.5 3.3-1.5-17.7-1.5-1.4-1.5-3.8-1.5-3.1-1.5-0.8-1.5 3.8-1.5-10.8-1.5 10-1.5-9.6-1.5-3.3-1.5-4.8-1.5-3.5-1.5 0.3-1.5-10.1-1.5-0.1-1.5 8.1-1.5-11.2-1.5-4.3-1.5 1-1.5-7.7-1.5-4.7-1.5-2.2-1.5 4.7-1.5-6.3-1.5 3.1-1.5 3.1-1.5-19-1.5 4.2-1.5 1.2-1.5-3.8-1.5-0.5-1.5-5.8-1.5-1.9-1.5-3.5-1.5-2.3-1.5-0.4-1.5-4.2-1.5-3.4-1.5-0.9-1.5 8.1-1.5-8.7-1.5-3.6-1.5-0.4-1.5-4.7-1.5-1.3-1.5 7-1.5-9.5-1.5-6.6-1.5-3.2-1.5 2.5-1.5-0.6-1.5 0.5-1.5 1.4-1.5-2.5-1.5-0.2-1.5-3.9-1.5 4.2-1.5-7.7-1.5-0.9-1.5-4.1-1.5-0.7-1.5-0.8-1.5 0.2-1.5 0.1-1.5-4.2-1.5 1.3-1.5-3.9-1.5-0.1-1.5 7.4-1.5-2.5-1.5-9.7-1.5-0.3-1.5-4.2-1.5-2.2-1.5-1.1-1.5-1.9-1.5-0.1-1.5-2.5-1.5-4.5-1.5 6.8-1.5-2.8-1.5-7-1.5 5-1.5-5.4-1.5 10.1-1.5-13.5-1.5 0.1-1.5-0.5-1.5-0.1-1.5-19-1.5-18.5-1.5-1.3-1.5-8.6-1.5 11-1.5-9.3-1.5-4.4-1.5 2.4-1.5-1.4-1.5 8.1-1.5-6.7-1.5 1.4-1.5 2.3-1.5-1-1.5-1.9-1.5-0.7-1.5-1.9-1.5-0.2-1.5-0.9-1.5-0.1-1.5 0.4-1.5 0.3-1.5-0.5-1.5-2.5-1.5 4.3-1.5 1.1-1.5-0.1-1.5-1.9-1.5 0.9-1.5 3.2-1.5-1.6-1.5 1.5-1.5-1.6-1.5 4.2-1.5-2.9-1.5-2.3-1.5-0.5-1.5-2.7-1.5 6.7-1.5-1.2-1.5 11-1.5-5.5-1.5-3.8-1.5-2-1.5-2.4-1.5 7.3-1.5 2-1.5-8.8-1.5 4.6-1.5-1.6-1.5 8.4-1.5-7.1-1.5 1.2-1.5 2.6-1.5-5.8-1.5 1.7-1.5 1.8-1.5-8.2-1.5 2.1-1.5 10.6-1.5-3-1.5-6.9-1.5-1.6-1.5 0.2-1.5 2.2-1.5-0.5-1.5-3.4-1.5-2.3-1.5-0.3-1.5-1-1.5 3.5-1.5-7.5-1.5-1.7-1.5 7.1-1.5-5.7-1.5 2.3-1.5-1.8-1.5 4.4-1.5-2.5-1.5 8.1-1.5-7.1-1.5-1.2-1.5-1.1-1.5-0.8-1.5 0.8-1.5 1.8-1.5-2.7-1.5 0.5-1.5 20.7-1.5-16.6-1.5-2.7-1.5 2.1-1.5 5-1.5 11.5-1.5-13.4-1.5-3-1.5 1.3-1.5-4.8-1.5 7.3-1.5-6-1.5 10.8-1.5-4.6-1.5 5.2-1.5-9.2-1.5 1-1.5-1.2-1.5-1.4-1.5 5.9-1.5-0.8-1.5-4.5-1.5 18.5-1.5-22.3-1.5 1.8-1.5-1.2-1.5 2.3-1.5 3.7-1.5-6.3-1.5 0.2-1.5 0.5-1.5 5.4-1.5-4.1-1.5 1.3-1.5-6.6-1.5-0.4-1.5-0.6-1.5-3.1-1.5 8-1.5-4.6-1.5-3.2-1.5 7.7-1.5-8.8-1.5 1.6-1.5-2.4-1.5 3-1.5-1.7-1.5 9.3-1.5-2.9-1.5-4.2-1.5 3.6-1.5 1.3-1.5-6-1.5-1.7-1.5-5.9-1.5-1.5-1.5 10.8-1.5-7.6-1.5-10.3-1.5 0.7-1.5 0.5-1.5-0.8-1.5-1.7-1.5 0-1.5-0.8-1.5 1.8-1.5-3.7-1.5 0.5-1.5 0.8-1.5-0.2-1.5-3.9-1.5 3.3-1.5-3.1-1.5 5.2-1.5-6.3-1.5 10.7-1.5-13.4-1.5 2.1-1.5 22.4-1.5-22.5-1.5 2.8-1.5-2.5-1.5-1.5-1.5-4.3-1.5 1.8-1.5 18.7-1.5-19.4-1.5 1.5-1.5 28.9-1.5-4.5-1.5-21.9-1.5 1.8-1.5-0.9-1.5 4.6-1.5 1.9-1.5 1.1-1.5-1.5-1.5 7.2-1.5-5.5-1.5 0.6-1.5-0.3-1.5 4.9-1.5 6.8-1.5-3.5-1.5 2.1-1.5-1.6-1.5 2.5-1.5-0.9-1.5 0.4-1.5-4.6-1.5 0.1-1.5 1-1.5 1.9-1.5-2.5-1.5 3.4-1.5 1.1-1.5-3.2-1.5 5.4-1.5-0.9-1.5 1.5-1.5 0.5-1.5-4.4-1.5 0.2-1.5 9.4-1.5-1.1-1.5-6.4-1.5 0.7-1.5 11.1-1.5-6.4-1.5 1.6-1.5 7.1-1.5-1.1-1.5-7.6-1.5 5.9-1.5-4.7-1.5 2.3-1.5-3-1.5 8.6-1.5-4.7-1.5 0.3-1.5-1.6-1.5-1-1.5 5.3-1.5-7-1.5 4.6-1.5-0.7-1.5 4.9-1.5 2.3-1.5-4.1-1.5 0.6-1.5 2.9-1.5-2.8-1.5 5.4-1.5-4.7-1.5-1.3-1.5 11.5-1.5-5.8-1.5 2-1.5-1.4-1.5 9.3-1.5-8.8-1.5 2.6-1.5-0.9-1.5-3.1-1.5 4.3-1.5-0.1-1.5-1-1.5-1-1.5 0.2-1.5-1.8-1.5 19.7z" fill="#12c29a" stroke="#12c29a" stroke-width="1.6"/>
<path d="M172.0 759.2l1.5-5.7 1.5 8.7 1.5-23.2 1.5 20.2 1.5 0.2 1.5 1.8 1.5-1 1.5-0.9 1.5 1.1 1.5-1.3 1.5-2.7 1.5 3.1 1.5-4.9 1.5-4.1 1.5-1.4 1.5 1 1.5 8.4 1.5 3.5 1.5-2.1 1.5 0.8 1.5-6 1.5 9.4 1.5-1 1.5-6.1 1.5 5.1 1.5 0.4 1.5 0.9 1.5-3.6 1.5 1.7 1.5-0.8 1.5-1 1.5-3.2 1.5 5 1.5-4.1 1.5 5 1.5-25.2 1.5 17.6 1.5 11.5 1.5-8.7 1.5 5.1 1.5-8.8 1.5 10 1.5-2.1 1.5-9.3 1.5 2.8 1.5-2.6 1.5 8.7 1.5-4.5 1.5 3.9 1.5-7.5 1.5 7.6 1.5-6.9 1.5 0.5 1.5 5.5 1.5-2.6 1.5-4.4 1.5 0 1.5-0.1 1.5 0.9 1.5-0.6 1.5-2.1 1.5 2.9 1.5 2.1 1.5-8.7 1.5 3.3 1.5-4.2 1.5 5.3 1.5-2.3 1.5 1.8 1.5-2.8 1.5 1.5 1.5-2.7 1.5-5.5 1.5 9.7 1.5-1.2 1.5 0.5 1.5 0.5 1.5-12.2 1.5 9.1 1.5-9.4 1.5 7.9 1.5 1.9 1.5-1.4 1.5 1.5 1.5-3.7 1.5 2.8 1.5-6 1.5 5.3 1.5-15.7 1.5 21.1 1.5-5.7 1.5-1.9 1.5 7 1.5-3.1 1.5 4 1.5-2 1.5-2.8 1.5 6.7 1.5-0.3 1.5 2.2 1.5 1.8 1.5 1.3 1.5 4.2 1.5-0.8 1.5 1 1.5 3.3 1.5-0.5 1.5-1.7 1.5 2.7 1.5-3.6 1.5-1.3 1.5 5.8 1.5 1.2 1.5 6.6 1.5 0.7 1.5 3.1 1.5 0.4 1.5 6.2 1.5 4.5 1.5-0.3 1.5 4.6 1.5 2.3 1.5-0.2 1.5 9.6 1.5 2.5 1.5-2.9 1.5 2.7 1.5-3.9 1.5 2.7 1.5-6.7 1.5-0.3 1.5 5.8 1.5 5.5 1.5 2 1.5 2.7 1.5-5.7 1.5-3.6 1.5 5.6 1.5 0.6 1.5-1.6 1.5-0.8 1.5 2 1.5 3.5 1.5-3.7 1.5-1.5 1.5-1.6 1.5 8.5 1.5-0.9 1.5 2.1 1.5 0.4 1.5 0.9 1.5 0.7 1.5-1.1 1.5 1.3 1.5-5.4 1.5 5.5 1.5-5.4 1.5-3.1 1.5 14.5 1.5 2.2 1.5-2.9 1.5-4.4 1.5 7.8 1.5 0.8 1.5-0.8 1.5-1 1.5-20 1.5 24.1 1.5-0.9 1.5-0.3 1.5-5.3 1.5 6.5 1.5 0.3 1.5-7.3 1.5 18.4 1.5 3.5 1.5-3.7 1.5 1.2 1.5-3 1.5 7.6 1.5 3.2 1.5-1.5 1.5 8 1.5-1.9 1.5-4.9 1.5 3.8 1.5-16.1 1.5 24 1.5-0.8 1.5-1.9 1.5 6.1 1.5-11.1 1.5 10.4 1.5-0.1 1.5-4 1.5 7.2 1.5 5.5 1.5-8.3 1.5 13.4 1.5-24.1 1.5 29.2 1.5 6.5 1.5-11.9 1.5 9.5 1.5-3.2 1.5-8.7 1.5 12.1 1.5 0.4 1.5-2.7 1.5 6.1 1.5-2.6 1.5-3.7 0 27.4-1.5 14-1.5-11.9-1.5-5.1-1.5 0.7-1.5 0.8-1.5 23.1-1.5-17.3-1.5 15.6-1.5-16-1.5-8.8-1.5 0.4-1.5 13.2-1.5-14.3-1.5 9.7-1.5-7.8-1.5 11-1.5 13-1.5-33.4-1.5 5.3-1.5-4.8-1.5-6.4-1.5-2-1.5 7.4-1.5-7.2-1.5 12.4-1.5-11.5-1.5-0.1-1.5-13.5-1.5 0-1.5-7.1-1.5 1.3-1.5-7.4-1.5 0.3-1.5-4.4-1.5 0.5-1.5-3.4-1.5-4.6-1.5 4.8-1.5-10.7-1.5-2.2-1.5-0.2-1.5-4-1.5 0.1-1.5 0.5-1.5 4.8-1.5-5.8-1.5 0.1-1.5-1.7-1.5 3.2-1.5-4.5-1.5-1.6-1.5-3.1-1.5 1.3-1.5-2.7-1.5 1.8-1.5 2.9-1.5 1.4-1.5-7.6-1.5-0.2-1.5-3.8-1.5 2.3-1.5 20.8-1.5-19.2-1.5 1-1.5-1.3-1.5 0.1-1.5-2.1-1.5-0.8-1.5 2.3-1.5-4-1.5-5.5-1.5 1.3-1.5 8.5-1.5-8.3-1.5-2.2-1.5 4.2-1.5 0.2-1.5-1.4-1.5 4.9-1.5-6-1.5 0.9-1.5-0.7-1.5 1.6-1.5-6-1.5 0.2-1.5-3.4-1.5-2-1.5 7.2-1.5-9.3-1.5-2.5-1.5-4.7-1.5-0.9-1.5-7.8-1.5 1.2-1.5-1-1.5-3.7-1.5-3-1.5-3.6-1.5-1.6-1.5 1.2-1.5-0.7-1.5-6.7-1.5 3.6-1.5 2.9-1.5-6.4-1.5-2.5-1.5-1.3-1.5 5.3-1.5-6.7-1.5-5.1-1.5 3.5-1.5-3.4-1.5 1.2-1.5-0.5-1.5 5.4-1.5-6.7-1.5 15.3-1.5-19-1.5 8.2-1.5 1.9-1.5-6.4-1.5-3.9-1.5 6.7-1.5-6.3-1.5 5.7-1.5-7.2-1.5-1-1.5 6.9-1.5-6.4-1.5 1.6-1.5-5.7-1.5 2.3-1.5-3.8-1.5 2.8-1.5 2.4-1.5-1.7-1.5-3.5-1.5-1.4-1.5 3.1-1.5 11.7-1.5-8.7-1.5 1.6-1.5 15.8-1.5-17.1-1.5-0.6-1.5 3.9-1.5 11.4-1.5-3.8-1.5-11.6-1.5 6.3-1.5 5.2-1.5-2.6-1.5-2.1-1.5 4.3-1.5-1.4-1.5-0.3-1.5-1-1.5 0.1-1.5 4-1.5-1.3-1.5-1.7-1.5 0-1.5-2.9-1.5 14-1.5-8.7-1.5 4.6-1.5-3.7-1.5-1.9-1.5 1.7-1.5-2-1.5 4-1.5 0.3-1.5 1.7-1.5-4.7-1.5 3.4-1.5 0.7-1.5-3.5-1.5 2.1-1.5-4.2-1.5 4.7-1.5-4.9-1.5 1.7-1.5-4.6-1.5 4-1.5-1-1.5-4.1-1.5 3.5-1.5-4.1-1.5 6.1-1.5 0.5-1.5-4.1-1.5 2.5-1.5 1.9-1.5-0.1-1.5 0.8-1.5 0.2-1.5-2-1.5 2.7-1.5 1-1.5 3.6-1.5-11.8-1.5-1.7-1.5 4.3-1.5-1-1.5 12.9-1.5-6.9-1.5-1.1-1.5-2.9-1.5 8.9-1.5-8.3-1.5 0.9-1.5-3.4z" fill="#3a7a64" stroke="#3a7a64" stroke-width="1.6"/>
<path d="M172.0 762.2l1.5-0.1 1.5-0.3 1.5 5.8 1.5-11.1 1.5 6.5 1.5 1 1.5-9.8 1.5 13.2 1.5 0.7 1.5 2.6 1.5-4.1 1.5 0.1 1.5 1.7 1.5-4.3 1.4 2.5 1.5 0.4 1.5-20.7 1.5 21.4 1.5-0.5 1.5-6.1 1.5 5.4 1.5-3.6 1.5-4.9 1.5 5.3 1.5 0.3 1.5-1.3 1.5-9.7 1.5-1.4 1.5 6.6 1.5 6.1 1.5-2.1 1.5 2.6 1.5-0.5 1.5 1.2 1.5-2.2 1.5 4.2 1.5-2.6 1.5-0.4 1.5 1.2 1.5-3.3 1.5 2.5 1.5 0.1 1.4-0.9 1.5-3.9 1.5 1.5 1.5-2.1 1.5 2.3 1.5 0.2 1.5 0.4 1.5 3.3 1.5 0 1.5 4.9 1.5-5.2 1.5-2.2 1.5 6.7 1.5-3 1.5 1.8 1.5 3 1.5 0.4 1.5-8.2 1.5 2 1.5-0.5 1.5-8.6 1.5 3.4 1.5-1.6 1.5 9.7 1.5-3.3 1.5-3.1 1.5 2.5 1.5 8 1.4-3 1.5-20.7 1.5 23.7 1.5 0.2 1.5-5.7 1.5 10.3 1.5-2.7 1.5 2.9 1.5 2.2 1.5-20.7 1.5 20.1 1.5 0.7 1.5 3.7 1.5-9.2 1.5 3.6 1.5-2.6 1.5 7.3 1.5 2.3 1.5 2.8 1.5 3.6 1.5 1.7 1.5 3 1.5 2.2 1.5-6.8 1.5 12.8 1.5 0.2 1.5 4.7 1.5-1.7 1.4 4.6 1.5 1.2 1.5 1.8 1.5 3.9 1.5-1.7 1.5-8.4 1.5 10.4 1.5-1.7 1.5 1.1 1.5 2.1 1.5 2.7 1.5-8.3 1.5-2.2 1.5 4.4 1.5-0.3 1.5 3.2 1.5 5.8 1.5-1.3 1.5-5.6 1.5 4.8 1.5 7.1 1.5-8.5 1.5 12.9 1.5 2.6 1.5-1.8 1.5 1.9 1.5-3.3 1.5 4.9 1.4-4.6 1.5 6.9 1.5 6.1 1.5 0.4 1.5-12 1.5 3.1 1.5 8.8 1.5 10.1 1.5 2.3 1.5 3.4 1.5 3.7 1.5-11.9 1.5 10.2 1.5 9.1 1.5 1.5 0 17.9-1.5-5.1-1.5-0.8-1.5 4.9-1.5-7.6-1.5-7.6-1.5-1.2-1.5-3.4-1.5 2.5-1.5-4.4-1.5 4.4-1.5 0.2-1.5-8.8-1.5 1.9-1.5-5.1-1.4 8-1.5-8-1.5-1-1.5-1.8-1.5 0.7-1.5-3.9-1.5-5.3-1.5-1.9-1.5-2.5-1.5-3-1.5 5.1-1.5-2.8-1.5-2-1.5-4.5-1.5 1.2-1.5 1.3-1.5-1.1-1.5-2.4-1.5-4.4-1.5 2.1-1.5 5-1.5-5.6-1.5-1.6-1.5-2.9-1.5-2.3-1.5 1.9-1.5-4.1-1.5 0.8-1.4-4.1-1.5-1.2-1.5 0.1-1.5-4.3-1.5 2.5-1.5-10-1.5-3-1.5 5.8-1.5-12.2-1.5-0.4-1.5-3.9-1.5-4.5-1.5-1.3-1.5-2.5-1.5 0.7-1.5-1.1-1.5 5-1.5-0.3-1.5 1.3-1.5-6.2-1.5 3.5-1.5 4.6-1.5-8.5-1.5 16.3-1.5-16.8-1.5 4.6-1.5 0.7-1.5-10-1.4 4.9-1.5-2-1.5 12-1.5-19-1.5 1.1-1.5-1.8-1.5 3.3-1.5-1.2-1.5 5.5-1.5-5.3-1.5 7.5-1.5-7.8-1.5 1.9-1.5 0.6-1.5-1.3-1.5-0.7-1.5 1.1-1.5 0.9-1.5-3.3-1.5 7.3-1.5 1.7-1.5-10.9-1.5-1.4-1.5-0.8-1.5 5.7-1.5-3.2-1.5-3.1-1.5 1.1-1.4-1.1-1.5 5.5-1.5-7.4-1.5 10.6-1.5-7.8-1.5-2.2-1.5-1.3-1.5 5.3-1.5 4.2-1.5 0.1-1.5-5-1.5-0.2-1.5 9.6-1.5-6.3-1.5-2.7-1.5 4.7-1.5 4.6-1.5-10.9-1.5 2-1.5 3.2-1.5 0.4-1.5-3.9-1.5 1.6-1.5 0.1-1.5-0.4-1.5 3.3-1.5-2.9-1.5-1.7-1.4 2.7-1.5 5.4-1.5 3.4-1.5-11.9-1.5 1.1-1.5 1.2-1.5 0.5-1.5-0.8-1.5 0.9-1.5-0.2-1.5-2.1-1.5 10-1.5-8.5-1.5 1.5-1.5-1z" fill="#5a8a50" stroke="#5a8a50" stroke-width="1.6"/>
<path d="M175.0 795.4l1.5-1 1.5-1.5 1.5 2.5 1.5-0.6 1.5 1.3 1.5-2.5 1.5 3.6 1.5-0.4 1.5 0.2 1.4-2.8 1.5 4.9 1.5 0.9 1.5-1.5 1.5 2.3 1.5-2.4 1.5 3 1.5-2.3 1.5 2.9 1.5 0.4 1.5-2.5 1.5 2.4 1.5 1.3 1.5-0.8 1.5 0 1.5 2.6 1.5-1.4 1.5 1.8 1.5 2.7 1.4 0.1 1.5-4.9 1.5 5.6 1.5 1.8 1.5 0.5 1.5 0.5 1.5 2.2 1.5-0.4 1.5-0.4 1.5 0.4 1.5 1.9 1.5-3.1 1.5 0.9 1.5-0.6 1.5 7.9 1.5-2.2 1.5 4.8 1.5-0.6 1.5 3.2 1.4-3.9 1.5 4.8 1.5 0.5 1.5 1.8 1.5 1.9 1.5-1.9 1.5 1.9 1.5-9.6 1.5 16.4 1.5-0.2 1.5 1.2 1.5-3.7 1.5 1.2 1.5 5 1.5 4.1 1.5 0.3 1.5-2.5 1.5 5.6 1.5 1.5 1.4 5.5 1.5-1.1 1.5 0.9 1.5-4.1 1.5 5 1.5 5.6 1.5-4.9 1.5 7 1.5-0.3 1.5 1.1 1.5 2.9 1.5 2.2 1.5 4.7 1.5-3.2 1.5 2 1.5 6.7 1.5-5.6 1.5 8.7 1.5-0.4 1.4 3.8 1.5-0.5 1.5 5.9 1.5-2.6 1.5 8.8 1.5-6.3 1.5 11.8 1.5 6.7 1.5-1.9 1.5-10.3 0 55.8-1.5-23.8-1.5-3.3-1.5-5-1.5 5.8-1.5-11.3-1.5 2.5-1.5 0.2-1.5-5.7-1.5-3.1-1.4-8.1-1.5 9.2-1.5-14.3-1.5-0.2-1.5-4.1-1.5-3-1.5-2.6-1.5-2.9-1.5 2.9-1.5-1.1-1.5-6.8-1.5-2.9-1.5-1-1.5 8.7-1.5-10.3-1.5-2.1-1.5-4-1.5-1.7-1.5-5.1-1.4-0.1-1.5-4.3-1.5 11.3-1.5-13-1.5-1.4-1.5-3.5-1.5-1.6-1.5-1.7-1.5-2.7-1.5-1.5-1.5-1.2-1.5 0.2-1.5-0.8-1.5 0.6-1.5-0.8-1.5 0.6-1.5-0.6-1.5-6-1.5 1.2-1.4-1.8-1.5-1.3-1.5 0.9-1.5-4-1.5 10.7-1.5-12.1-1.5 0.9-1.5-4.8-1.5-1.8-1.5-1.1-1.5-1.2-1.5 6.2-1.5-2.8-1.5-3.7-1.5-2.2-1.5 1.2-1.5-1.7-1.5 5.3-1.5-4.4-1.4-4.9-1.5-0.1-1.5-1.3-1.5 1.9-1.5-1-1.5-0.7-1.5-0.1-1.5 7.6-1.5-9.7-1.5 4.4-1.5-3.9-1.5 1.6-1.5-3.2-1.5 0.4-1.5-3.2-1.5-0.6-1.5-1.2-1.5-0.9-1.5-0.5-1.4-0.1-1.5-0.6-1.5 0.9-1.5-2.4-1.5-1.6-1.5 3.2-1.5-3.3-1.5 2.6-1.5-2.4-1.5 1.5z" fill="#80f8c0" stroke="#80f8c0" stroke-width="1.6"/>
<path d="M172.0 820.2l1.5 0.8 1.5-1.4 1.5-13.9 1.5 9.7 1.5 2.2 1.5-7.7 1.5-11.1 1.5 14 1.5-12.8 1.5 9.3 1.5 5.4 1.5-2.8 1.5-0.6 1.5-1.2 1.5 4.7 1.5-13.6 1.5 11.7 1.5-1.6 1.5-2.4 1.5-1.8 1.5-0.6 1.5 1.2 1.5-0.6 1.5-2.6 1.5 0.9 1.5 0.4 1.5-2 1.5 0.1 1.5 0.7 1.5-0.9 1.5-0.7 1.5 3.2 1.5 0.5 1.5-3.1 1.5-5.7 1.5 3 1.5 0.4 1.5 1.9 1.5-2.2 1.5 0.7 1.5 0.9 1.5-5.6 1.5 5.4 1.5-0.1 1.5-6.5 1.5 5.3 1.5-0.3 1.5-1.5 1.5-3.9 1.5 4.8 1.5 0.2 1.5-0.7 1.5 0.3 1.5-3.6 1.5 2.3 1.5 1 1.5 1.4 1.5-1.7 1.5 1.4 1.5-0 1.5-2.7 1.5 2.5 1.5-0.6 1.5-0.7 1.5-9.4 1.5 9.7 1.5-2.3 1.5-0.4 1.5-0.6 1.5-1.7 1.5 1.1 1.5-1.2 1.5-4.9 1.5 6.5 1.5-4.2 1.5 1 1.5 4 1.5-2.7 1.5 1.5 1.5 0.3 1.5 1 1.5-1.6 1.5-1.8 1.5 0.2 1.5-4.6 1.5 5.4 1.5-2.6 1.5 1.5 1.5 3.2 1.5-1.2 1.5-2.2 1.5-5.4 1.5 4.9 1.5 4.5 1.5-3.7 1.5 3.3 1.5 0.9 1.5-1.6 1.5 3 1.5-6.4 1.5 7.1 1.5-1.6 1.5-3.9 1.5 3.6 1.5 1.6 1.5-0.1 1.5 0.4 1.5-1.5 1.5 3.8 1.5-4.2 1.5 0.4 1.5-5.6 1.5 4.3 1.5 2.8 1.5 0.6 1.5-0.4 1.5-4.5 1.5 4.1 1.5 1.5 1.5-0.3 1.5 0.4 1.5 0.4 1.5 0.2 1.5-1 1.5-6.2 1.5 8.6 1.5-0.2 1.5-1.5 1.5-18.2 1.5 19.2 1.5-5 1.5-2.3 1.5-4.8 1.5 4.8 1.5 4.1 1.5 1.8 1.5-0.6 1.5 0.2 1.5 0.4 1.5 0.2 1.5 0 1.5 3.2 1.5-2.5 1.5 0.8 1.5-2.8 1.5-0.5 1.5-0.4 1.5 1.9 1.5-2.8 1.5 0.7 1.5 0.3 1.5-15.9 1.5 19.3 1.5-1 1.5 1.7 1.5-2.3 1.5 2.2 1.5-6.7 1.5 5.8 1.5-1.8 1.5 3.4 1.5-1.6 1.5 2.6 1.5-1.1 1.5 0.5 1.5 1 1.5-0.1 1.5 0.9 1.5 0.9 1.5-0.7 1.5 0.1 1.5-1.5 1.5 1.3 1.5 0.4 1.5-0.9 1.5 2.4 1.5-5.2 1.5 6.9 1.5-1.3 1.5 2.2 1.5-0.1 1.5-4.2 1.5 6.9 1.5-7.1 1.5 7 1.5-7 1.5 6.8 1.5 0.7 1.5-3.2 1.5 4.8 1.5-0.8 1.5 3.2 1.5 2.3 1.5 0.2 1.5 0.5 1.5-10.6 1.5 10 1.5 5.6 1.5 4.7 1.5-15.5 1.5 16.8 1.5-1.6 1.5 4.3 1.5-5.9 1.5-7.8 1.5 20.8 1.5 0.9 1.5 1.5 1.5-4 1.5-1.1 1.5 4 1.5-11.4 1.5 9.4 1.5 5.6 1.5-0.8 1.5-0.8 1.5 5.5 1.5 8.6 1.5-5.7 1.5-16 1.5 16.8 1.5-1.6 1.5 1.6 1.5-16.7 1.5 10.3 1.5 10.6 1.5-9.8 1.5 8.3 1.5-12.2 1.5 8.6 1.5 2.4 1.5 1.9 0 46.8-1.5-19.5-1.5 0.3-1.5-0.1-1.5-1.8-1.5-7.1-1.5-0.9-1.5 3.2-1.5 7.9-1.5-9.3-1.5 0.7-1.5-2.7-1.5 23.1-1.5-16.4-1.5-4.8-1.5-2.1-1.5-0.4-1.5-4.9-1.5 2-1.5 15.3-1.5-19.7-1.5-0.3-1.5 0.3-1.5-0.9-1.5-8.6-1.5 0.2-1.5-2.3-1.5 5.1-1.5 6.3-1.5-13-1.5-5.2-1.5-0.1-1.5-4.8-1.5 6.3-1.5-10.1-1.5 2.1-1.5-4.2-1.5-5.3-1.5 5.8-1.5-1.6-1.5-10.2-1.5 3.1-1.5-4.2-1.5 1.1-1.5-0.7-1.5 0.7-1.5-3.5-1.5-0.9-1.5-0.8-1.5-0.9-1.5 3.3-1.5-4.3-1.5-1.3-1.5 0.4-1.5-0.1-1.5 5.7-1.5-6.2-1.5-0.4-1.5 0.5-1.5-0.5-1.5 0.1-1.5 1-1.5-4.9-1.5 0.7-1.5 0.3-1.5 1.2-1.5 0.7-1.5-1.4-1.5-0.3-1.5 1.1-1.5-4-1.5 2-1.5-2.1-1.5 0.5-1.5-0.8-1.5 2.9-1.5-5.3-1.5 8.3-1.5-8.2-1.5 0.3-1.5 1.9-1.5 0.4-1.5 2.5-1.5 2.9-1.5-5.9-1.5 1-1.5-1.4-1.5 3.4-1.5 12.5-1.5-13.3-1.5-4.1-1.5 0.7-1.5-1.7-1.5 0.3-1.5 2.7-1.5-1.6-1.5 0.3-1.5 5.6-1.5-3.1-1.5-2.7-1.5-0.5-1.5 0.9-1.5 2.8-1.5-3.6-1.5-2.8-1.5 1-1.5 10.5-1.5-9.3-1.5 5.2-1.5 8.7-1.5-12-1.5 7.7-1.5-4.4-1.5-2.6-1.5-2.1-1.5 10.2-1.5-10.7-1.5 0.7-1.5-0.3-1.5-1.1-1.5 2.2-1.5 0.4-1.5 1.4-1.5-3.4-1.5 1.8-1.5-3.5-1.5-0.9-1.5-0.6-1.5 1.4-1.5 3.6-1.5-3-1.5 0.8-1.5 12-1.5-13.2-1.5-1.5-1.5 5.3-1.5-0.3-1.5-7.8-1.5 2.4-1.5 0.5-1.5-1.1-1.5 3.1-1.5 2.1-1.5 0.7-1.5-5.4-1.5 3.7-1.5 0.4-1.5-1.7-1.5-3.2-1.5 0.7-1.5-1.3-1.5 3.7-1.5-4.9-1.5 3.2-1.5-0.6-1.5 11.9-1.5-13-1.5 2.4-1.5-2.7-1.5 2.7-1.5 1.3-1.5-3-1.5 3.2-1.5 0-1.5-0.9-1.5-0.1-1.5 2.6-1.5-3.7-1.5 1.4-1.5-0.7-1.5-1.4-1.5 0.8-1.5 0.2-1.5 2.7-1.5-3.7-1.5-1.1-1.5 1.3-1.5 5-1.5-3.9-1.5 5.3-1.5-2.8-1.5-1.2-1.5 1-1.5 6.6-1.5-1.7-1.5-4.4-1.5-0.1-1.5 1.6-1.5-0.1-1.5 2.4-1.5 0.6-1.5-5-1.5 1.8-1.5 0.4-1.5 2.8-1.5-0.2-1.5-0.6-1.5 0.6-1.5-0.6-1.5 1.3-1.5-1.2-1.5 6.6-1.5-3.8-1.5 0.3-1.5 1.4-1.5 4.9-1.5-6.6-1.5 4.2-1.5-3.1-1.5 0.2-1.5 2.1-1.5 0.5-1.5-1.2-1.5 1-1.5 3.4-1.5-2.7-1.5 4.6-1.5 0.5-1.5 0.7-1.5 9.1-1.5-2.1-1.5-2.5-1.5 20.8-1.5-16.9-1.5-5.5-1.5-4.1-1.5 15.9-1.5-2.7-1.5-7.8-1.5 5.1-1.5 7.7-1.5-9.4-1.5 8.3z" fill="#5848e8" stroke="#5848e8" stroke-width="1.6"/>
<path d="M317.0 853.5l1.5 3.9 1.6 1.9 1.5-6.7 1.5 5.4 1.6 3.4 1.5 1.5 1.5-5 1.6 4.6 1.5-2 1.5-2.2 1.6-1.6 1.5-3.8 1.5 1.9 1.6-7.3 1.5 9.9 0 5.8-1.5 7-1.6 0.6-1.5 0-1.5 10.9-1.6-4.4-1.5-0.2-1.5-5.1-1.6-0.1-1.5 0.7-1.5-1.9-1.6 1.8-1.5 1.8-1.5 2.1-1.6-3.1-1.5 7.2zM350.0 791.7l1.5 10.9 1.5-5.6 1.5-6.9 1.5-1.2 1.5 13.5 1.5-2.5 1.5-0.5 1.5-0.9 1.5-3.7 1.5-6.6 1.5-0.4 1.5-0.4 1.5-34.8 1.5 28.4 1.5-9 1.5 7.3 1.5-0.3 1.5-4 1.5-7.7 1.5-1.9 1.5-8.1 1.5 6.3 1.5 4.6 1.5-9.9 1.5-11.5 1.5-6.4 1.5-0.4 1.5-3.7 1.5-2.4 1.5 3.1 1.6-2.4 1.5-0.3 1.5 0.3 1.5-4.6 1.5-0.9 1.5 3.9 1.5 1.9 1.5-2.1 1.5-0.4 1.5-10.7 1.5 10.7 1.5 0.3 1.5-20.3 1.5 13.6 1.5 0.2 1.5-5.4 1.5 6.2 1.5-2.5 1.5-0.4 1.5-1.5 1.5-1.4 1.5-3.2 1.5 3.6 1.5-2.1 1.5-1.4 1.5 2.4 1.5-1.2 1.5 2.1 1.5-11.7 1.5 13.9 1.5-1.9 1.5-0.3 1.5-5.1 1.5 5 1.5 1.9 1.5-1 1.5 0.1 1.5 1.4 1.5-3.9 1.5-7.3 1.5 13.7 1.5 0.1 1.5-1 1.5-0 1.5 3.4 1.5-0.5 1.5-1.9 1.5 0.6 1.5 1.2 1.5-2.9 1.5 4.6 1.5-2.6 1.5 3.6 1.5-2.9 1.5 7.4 1.5-6.9 1.5 8.6 1.5-0.2 1.5-3 1.5 5.3 1.6-0 1.5-4.7 1.5 4.8 1.5 1.8 1.5-1.8 1.5 2.4 1.5-6.6 1.5 8 1.5-1.1 1.5-9.7 1.5 5 1.5 4.5 1.5-3.8 1.5 3.5 1.5 3.8 1.5 0.6 1.5 2 1.5-0.2 1.5-0.9 1.5 0.7 1.5-7.9 1.5 7.5 1.5 2.1 1.5 0 1.5-1.6 1.5 3.6 1.5-17.5 1.5 13.1 1.5-3.6 1.5 6.2 1.5 0.9 1.5-2.7 1.5 1.2 1.5 0.1 1.5 1.4 1.5-0.7 1.5-15.9 1.5 16.2 1.5-2.1 1.5 4.8 1.5 1.2 1.5 5.7 1.5 3.3 1.5-0.9 1.5 6.7 1.5 1.9 1.5 2.9 1.5 0 1.5-3.3 1.5 4.1 1.5 1.4 1.5-1 1.5-0.8 1.5 1.1 1.5-4.8 1.5 1.7 1.5 1.2 1.5-15.8 1.5 17.4 1.5-0.3 1.6-0.4 1.5-6.2 1.5 3.7 1.5-5 1.5 11.2 1.5 0.5 1.5 13.2 1.5 2 1.5 2.2 1.5-6.6 1.5-3.8 1.5 19.9 1.5-2.6 1.5-4 1.5-4 1.5-5.1 1.5 14.2 1.5-0.6 1.5 0.5 1.5 2.3 1.5-17.4 1.5 16.3 1.5 0.3 1.5-5.1 1.5 6.2 1.5-2.4 1.5 3.4 1.5 1.3 1.5-3.5 1.5 0.1 1.5 0.4 1.5 2.6 1.5 2.3 1.5-1.3 1.5-6.5 1.5 6.7 1.5-0.6 1.5-18 1.5 17.3 1.5 1.8 1.5 1.7 1.5-0.5 1.5 0.5 1.5 0 1.5-2.3 1.5 5 1.5-7.1 1.5 10.1 1.5 1.7 1.5-15.8 1.5 21.6 1.5-4.3 1.5 8.7 1.5 2 1.5-8.8 1.5 8.5 1.5 10.5 1.5 0.3 1.5 5.4 1.5-5.2 1.6 4.5 1.5-10.4 1.5 12.1 1.5-2.3 1.5 0.4 1.5 0.7 1.5-1.1 1.5 3 1.5-4 1.5 5.4 1.5 0.8 1.5-1.8 1.5-1.7 1.5 0.9 1.5 1 1.5 3.1 1.5 0 1.5-4.1 1.5 1.6 1.5 4.1 1.5-4.8 1.5-2 1.5 2.3 1.5 2.7 1.5 5.4 1.5 2 1.5-3.6 1.5-2.9 1.5-26.6 1.5 27.6 1.5-2.9 1.5 5.4 1.5-2.8 1.5-0 1.5 2.7 1.5-14.3 1.5 10.4 1.5-1.5 1.5 4.2 1.5 5.4 1.5 1.7 1.5-3.3 1.5 1.2 1.5-2.1 1.5 4 1.5-4.3 1.5 4.7 1.5-2.6 1.5-0.9 1.5 3.7 1.5-5.3 1.5 3.5 1.5 0.2 1.5-3.5 1.5 4.9 1.5 0.1 1.5 2.7 1.5 1.5 1.5-13.1 1.5 13.5 1.6-4.4 1.5-0.4 1.5-2.6 1.5 10 1.5-15.8 1.5 11.5 1.5 3.7 1.5-0.5 1.5-1.5 1.5-26.6 1.5 16.1 1.5 12.1 1.5 1.1 1.5-4.4 1.5 1.4 1.5 1.7 1.5-8.4 1.5-1.3 1.5-0.7 1.5-0.4 1.5-21.6 1.5 32.2 1.5 2 1.5-3.3 1.5 3 1.5 0.3 1.5 1 1.5-9.7 1.5 10 1.5-4.8 1.5 0.5 0 23.2-1.5 13.7-1.5-17.6-1.5-1.3-1.5 2.6-1.5-1-1.5 1.3-1.5 0.4-1.5 1-1.5-0.4-1.5-2-1.5 0.5-1.5 2.6-1.5 1-1.5-2-1.5 19.8-1.5-16.5-1.5-3.5-1.5 0.7-1.5 29-1.5-28-1.5 3-1.5-4.7-1.5-4.3-1.5 7-1.5-7.6-1.5 3.7-1.5-2.2-1.5-0.9-1.5 1.6-1.5-7-1.6 0.4-1.5 1.9-1.5 1.9-1.5-7-1.5 6.6-1.5-0.9-1.5-2.7-1.5-0.3-1.5 11.9-1.5-2.3-1.5 2.1-1.5-10.5-1.5 0.3-1.5-0.4-1.5-2.1-1.5-5.7-1.5 8.4-1.5 0.2-1.5 4.8-1.5-8.5-1.5 0.4-1.5-3.8-1.5 10-1.5-7.9-1.5 0.4-1.5 1.8-1.5-1.2-1.5-1.8-1.5 1.7-1.5-3.1-1.5-0.5-1.5-3-1.5-2-1.5-0.1-1.5 2.6-1.5 14-1.5 8.1-1.5-22.7-1.5-1.6-1.5-1.5-1.5 1.8-1.5-1.3-1.5 0.6-1.5-0.5-1.5 10.6-1.5-14.9-1.5 1.4-1.5 2.3-1.5-0.8-1.5 0.5-1.5 2.8-1.5-4.8-1.5-0.4-1.5-1.1-1.5 2.5-1.5-3.4-1.5-0.4-1.5 9.3-1.5-2.5-1.5-9.6-1.6 4.2-1.5 4.6-1.5-1.7-1.5-4.5-1.5-2.4-1.5-11.6-1.5-5.4-1.5 0.4-1.5-6-1.5-0-1.5-3.9-1.5-0.5-1.5 2.9-1.5-10-1.5 0.5-1.5 13.2-1.5-3.3-1.5-7.8-1.5-3.4-1.5-1.6-1.5 2.8-1.5-2.9-1.5 2.8-1.5-0.1-1.5-2.6-1.5-2.8-1.5 1.4-1.5 3.3-1.5-3.5-1.5-2.1-1.5 2.6-1.5-4.8-1.5-2.1-1.5 8.1-1.5-6.8-1.5-0.5-1.5 2.1-1.5 20.3-1.5-10-1.5-1.1-1.5-9.1-1.5 4-1.5-5.3-1.5 3.4-1.5 0.7-1.5-3.9-1.5 3.1-1.5-1.4-1.5-2.1-1.5 7.1-1.5-4.5-1.5 3.9-1.5-11.7-1.5-6-1.5 1.2-1.5-12-1.5-5.7-1.5 9.2-1.5-7.1-1.5 0-1.6 3.1-1.5 1.4-1.5 2.4-1.5-8.8-1.5 0.3-1.5 2.6-1.5-5.1-1.5 4-1.5-2.8-1.5 7.6-1.5-1.3-1.5-9.3-1.5 2.7-1.5-1.8-1.5-6.4-1.5-2.1-1.5-3.6-1.5 10.8-1.5-15-1.5-4.6-1.5-3.6-1.5 0.7-1.5 2.5-1.5-5.6-1.5 1.8-1.5 4.6-1.5-5.4-1.5 2-1.5-3.1-1.5-0.5-1.5 0.4-1.5 2.3-1.5 3.2-1.5-4.1-1.5-0-1.5-1.9-1.5-0.9-1.5 2.3-1.5 6.7-1.5-5.8-1.5 3.5-1.5-4.5-1.5-1.9-1.5-1.7-1.5 20.8-1.5-22.1-1.5-1.3-1.5-1.3-1.5 3.9-1.5-2.1-1.5 0.1-1.5-2.6-1.5 5.5-1.5 3.1-1.5-2.1-1.5-6.3-1.5-1.1-1.5 3.4-1.5-0.4-1.5 1.7-1.6-1.8-1.5-5.4-1.5 1.3-1.5-2.1-1.5-0.8-1.5-4.1-1.5 3.8-1.5-2-1.5-5.9-1.5 0.7-1.5-2.4-1.5 3.8-1.5-2.2-1.5 9-1.5-8.2-1.5-1.2-1.5 0-1.5 5.4-1.5-8.4-1.5 16.7-1.5-15.7-1.5 3.4-1.5-4-1.5 24.2-1.5-24.1-1.5 5.9-1.5-6.3-1.5 4.4-1.5 3.5-1.5-8.4-1.5 2.6-1.5-2.3-1.5-2.2-1.5 2.5-1.5 5.7-1.5-7.4-1.5 1.6-1.5 7.9-1.5-4.5-1.5 4.8-1.5-4.4-1.5 2.8-1.5-4-1.5 0.9-1.5 1.1-1.5 5.8-1.5-0.6-1.5-0.4-1.5-1.9-1.5-0.1-1.5-0.9-1.5 3.9-1.5 5.7-1.5-1.7-1.5-5.5-1.5 4.8-1.5 0.8-1.5 5.6-1.5 0.5-1.5-5.1-1.6 6.5-1.5-9.2-1.5 5.2-1.5-2-1.5 4.6-1.5 9.3-1.5 7.7-1.5 4.1-1.5 2.3-1.5 29.4-1.5-26.5-1.5 14.6-1.5 2.8-1.5-4.3-1.5 2.6-1.5 10.2-1.5-0.6-1.5 7.4-1.5-8.3-1.5 4.5-1.5-2.4-1.5 2.6-1.5-1.9-1.5 1.2-1.5 19.5-1.5-14.2-1.5 4-1.5 2.1-1.5-0.2-1.5 0.8-1.5 0.4zM822.0 884.9l1.5 17 1.5 2.2 1.5 4.7 1.5-1.7 1.4 16.3 1.5-0.1 1.5-2.3 1.5 2.8 1.5 11.9 1.5 4.8 1.5 3.1 1.5 7.4 1.5-0.9 1.5 0.9 1.4 1.4 1.5-4.1 1.5 6.2 1.5-13.2 1.5 17 1.5 1.2 1.5 4.6 1.5-1.4 1.5-4.8 1.5 11.4 1.4 1.7 1.5 1.4 1.5-1.3 1.5 2 1.5 2.6 1.5-1.1 1.5 2.5 1.5 3.4 1.5-5.2 1.5-1.7 1.4 9.2 1.5-6.4 1.5 8.5 1.5-10.2 1.5-5.7 1.5 19.4 1.5 1.9 1.5 4.2 1.5-12 1.5 16.7 1.4 2.4 1.5-9.2 1.5 16 1.5-1.6 1.5 3 0 9.9-1.5 10-1.5-12-1.5-0.4-1.5-2.1-1.4-2.7-1.5-1.4-1.5-3.5-1.5-2.7-1.5 1.9-1.5-6.2-1.5 6.6-1.5-7.3-1.5 0.8-1.5 9.3-1.4-9.2-1.5-1.3-1.5-6.8-1.5 1.5-1.5-3.6-1.5-1.7-1.5-4.4-1.5-2.5-1.5 2.9-1.5 1.4-1.4-3.1-1.5 1.7-1.5 0.7-1.5-4.3-1.5-3.2-1.5 4.6-1.5-9.4-1.5-1.6-1.5-1.7-1.5-2.6-1.4 0.7-1.5-0.7-1.5 10-1.5-17.5-1.5-3.5-1.5-0.9-1.5-8.4-1.5-2.2-1.5-0.9-1.5-7-1.4-2.9-1.5 4.3-1.5-13.5-1.5-5.4-1.5-5.6z" fill="#f53a82" stroke="#f53a82" stroke-width="1.6"/>
<path d="M802.0 880.0 835.0 912.0" stroke="#f53a82"/>
<path d="M383.0 888.3l1.5 0.1 1.5 4.4 1.5-16.2 1.5 5.1 1.5-0.8 1.5-3.1 1.5-4.2 1.5 5.5 1.5-2 1.5 0.5 1.5 1.8 1.6-3.8 1.5-0.4 1.5 0.3 1.5-2.2 1.5-9.7 1.5 9.5 1.5 0.5 1.5-13.8 1.5 12.7 1.5-8.3 1.5-7.4 1.5 9.1 1.5 0.9 1.5-7.2 1.5-6.3 1.5-2.6 1.5 6.1 1.5-2.2 1.5-5.9 1.5 1.4 1.5 6.4 1.5-0 1.6 1.3 1.5-6.2 1.5-2.6 1.5-3.4 1.5-0.1 1.5 4.1 1.5 1.5 1.5-0.2 1.5-2.8 1.5-1.9 1.5-3 1.5-3 1.5 4.4 1.5-3.2 1.5-1.2 1.5 0.8 1.5-4.9 1.5-4.8 1.5-3.9 1.5-12.5 1.5 21.7 1.5-2.3 1.6-2.4 1.5-1.8 1.5 1.2 1.5-6.6 1.5 3.5 1.5-1.6 1.5 2 1.5-2.8 1.5-1.4 1.5-14 1.5 11.6 1.5-18.4 1.5 18.4 1.5-1.5 1.5 0.8 1.5-2.6 1.5 2.2 1.5-9.4 1.5 7.8 1.5-6.7 1.5 3.9 1.5 0.2 1.6-9.6 1.5 6.9 1.5-3.7 1.5 1.7 1.5 0.4 1.5-10.2 1.5 2.6 1.5 7.8 1.5-6.4 1.5 3.9 1.5-2 1.5-3.9 1.5 4.1 1.5 1 1.5-0.6 1.5-2 1.5 0.3 1.5-3.1 1.5 1 1.5 0.5 1.5-3 1.5 0.2 1.6-1 1.5-3.3 1.5 2 1.5 3 1.5 0.2 1.5 0.1 1.5-5.1 1.5 1.1 1.5-0.7 1.5-3.6 1.5 5.2 1.5-1.8 0 10-1.5-0.8-1.5-0.2-1.5 4.1-1.5 4.3-1.5 0-1.5-4.8-1.5 3-1.5-1.4-1.5 1.7-1.5 0.6-1.5 0.6-1.6-0.3-1.5 8.2-1.5-4.9-1.5-0.1-1.5-0.7-1.5 5.1-1.5-6.4-1.5 7-1.5-4.6-1.5 3.9-1.5 3.4-1.5-4.1-1.5 3-1.5 3.1-1.5-2-1.5 4.4-1.5-3.9-1.5 1.8-1.5 0.9-1.5 0.6-1.5-0.4-1.5-1.2-1.6 0.2-1.5 0-1.5-0.8-1.5 15.5-1.5 0.8-1.5-17.2-1.5 3.2-1.5 2.6-1.5-2.8-1.5 3.8-1.5 0.1-1.5 0.3-1.5 15.1-1.5-9.7-1.5-2.1-1.5 0.4-1.5-2.4-1.5 2.8-1.5 0.5-1.5 9.5-1.5 0.3-1.5-5.3-1.6 3.5-1.5 1.1-1.5-0.5-1.5 3.5-1.5-2.6-1.5 3.4-1.5-3.7-1.5 1.2-1.5 6.1-1.5-3.5-1.5 6-1.5 1.6-1.5 17.5-1.5-18.7-1.5 0.2-1.5 4.7-1.5 1.6-1.5 1-1.5 2.5-1.5-1.7-1.5 1.3-1.5 1.8-1.6 0.9-1.5 2.6-1.5-2.4-1.5 2.6-1.5 6.6-1.5-1.4-1.5 2.4-1.5 3.1-1.5-3.1-1.5-1.7-1.5-0.2-1.5 2.8-1.5-1.6-1.5 7.3-1.5-0.8-1.5-0.6-1.5 4.9-1.5-1-1.5 5.6-1.5 11-1.5-13-1.5-1.1-1.6 2.6-1.5 8.2-1.5-4.5-1.5 8.3-1.5 4.3-1.5-3.8-1.5-1.4-1.5 7.5-1.5-10.4-1.5 1.7-1.5 10.5-1.5-6.6zM557.0 728.7l1.5 2.2 1.5 0.1 1.5-9.1 1.5-0.7 1.5 10.3 1.5-1.6 1.5 3.5 1.5 0.5 1.5-9.2 1.5 4.4 1.5 4.4 1.4-9.6 1.5 6.4 1.5 2.9 1.5 1.8 1.5-3.9 1.5 2 1.5 0.7 1.5-6.7 1.5 7.5 1.5-10.6 1.5 11.7 1.5-0.4 1.5 0.3 1.5 1.8 1.5-2.2 1.5 0.5 1.5-0.8 1.5-7 1.5 7 1.5-5.7 1.5 6.5 1.5 2.8 1.5 1.5 1.5-10 1.4 0.8 1.5 2.1 1.5 6.1 1.5-3.9 1.5 0.7 1.5-3.7 1.5 6.2 1.5-0.5 1.5 1.2 1.5-2.8 1.5 3 1.5-1.1 1.5 1 1.5-8.6 1.5 9.7 1.5 1.5 1.5-0.7 1.5-20.7 1.5 24.6 1.5-2.5 1.5-6.3 1.5 5.7 1.5 2.7 1.4 0.6 1.5 5.6 1.5-1.3 1.5 2.8 1.5 0.8 1.5 5 1.5-1.3 1.5 1.9 1.5 3.5 1.5-1.1 1.5 0.4 1.5 1.9 1.5-0.8 1.5 4.5 1.5-11.9 1.5 15.8 1.5 0.4 1.5-0.2 1.5-9.4 1.5 15 1.5 4.6 1.5 5.1 1.5-2.1 1.4 3.3 1.5 1.1 1.5 1.5 1.5 4.9 1.5 1 1.5 5.2 1.5 1.8 1.5 1 1.5 5.7 1.5 1.1 1.5-4.2 1.5 6.7 1.5 5.9 1.5 1.7 1.5-1.5 1.5 8.5 1.5 2.8 1.5 0.3 1.5 6.7 1.5 4.3 1.5 3.5 1.5 4.8 1.5-7.9 1.5 7.3 1.4 10.5 1.5-6.1 1.5 19.1 1.5-18.5 1.5 8.2 1.5 10.4 1.5 3.3 1.5 9.8 1.5-4.9 1.5 1.8 1.5 11.5 1.5 2 0 43.1-1.5 16.8-1.5-22.1-1.5-8.9-1.5-6.8-1.5-1.1-1.5-11.6-1.5-3.1-1.5 13.3-1.5-17.6-1.5-2.6-1.5-8.1-1.4-14-1.5 11.6-1.5-15.2-1.5 7.2-1.5-10.8-1.5-9.2-1.5-3.2-1.5-6.7-1.5-2.3-1.5-1.5-1.5 4.8-1.5-3.8-1.5-10.5-1.5-5.8-1.5-5.9-1.5 0-1.5-4.2-1.5-2-1.5-3.8-1.5 8.2-1.5-11.1-1.5-2.7-1.5-1.3-1.5 1.7-1.4-9.6-1.5-0.3-1.5 5.5-1.5-9.8-1.5 1.4-1.5-8-1.5-0.8-1.5-1.3-1.5-0.5-1.5 6.2-1.5-8.2-1.5-4.6-1.5-2.6-1.5-1.7-1.5-3.3-1.5 1.7-1.5-7.2-1.5 0.1-1.5-0.6-1.5 6.1-1.5-6.6-1.5 0-1.5-4.9-1.4 2.6-1.5-6.5-1.5-1-1.5-0.9-1.5-1.5-1.5 2.2-1.5-3.7-1.5 2.9-1.5 2.3-1.5-2.9-1.5-1.8-1.5 8.3-1.5-9.1-1.5 8.5-1.5-7-1.5 2.7-1.5-1.3-1.5-1.7-1.5 5.3-1.5-2.2-1.5-7.4-1.5-1.7-1.5 25.2-1.4-21.1-1.5-2.9-1.5-0.9-1.5 4.3-1.5-2.4-1.5 6.9-1.5-6.7-1.5 3-1.5-1.1-1.5 8.1-1.5-2.8-1.5-6.1-1.5-2.4-1.5 11.8-1.5-6.8-1.5 2.9-1.5-2.1-1.5 10.3-1.5-14.3-1.5 1.4-1.5 1.4-1.5 3.5-1.5-6.5-1.5 16.2-1.4-15.8-1.5 0.6-1.5 6.5-1.5-10.7-1.5 8.4-1.5-3.5-1.5 8.9-1.5-5.7-1.5-2.2-1.5 12.9-1.5-9.4-1.5 0.3z" fill="#3c1e38" stroke="#3c1e38" stroke-width="1.6"/>
<path d="M476.0 841.6l1.5 2.3 1.5 0.7 1.5-7.8 1.5-6.5 1.5 7.9 1.5-6.8 1.5 9.9 1.5-0.7 1.5-5.7 1.5 7.7 1.5-1.2 1.5-5.5 1.5-14.3 1.5 22.4 1.5-2.1 1.5 0.4 1.5 0.2 1.5-6.2 1.5 4.3 1.5 2.4 1.5-0.7 1.5 0.3 1.5-0.8 1.5-2.2 1.5 2 1.5 1.7 1.5-1.9 1.5-0.1 1.5-1.1 1.5-1.1 1.5-2.1 1.5-5.7 1.5 5 1.5-2.2 1.5 1.6 1.5 1.9 1.5-0.8 1.5 3.4 1.5-1.2 1.5-0.6 1.5 5.9 1.5-6.1 1.5 3.2 1.5-0.1 1.5 1.5 1.5-2.6 1.5-4.9 1.5 7.4 1.5 3.1 1.5 1 1.5-0.1 1.5 3.2 1.5-0.7 1.5 2 1.5-1.9 1.5 4.1 1.5-1.1 1.5 0.9 1.5-8.3 1.5 8.4 1.5 5.8 1.5-0.9 1.5-8.8 1.5 0.2 1.5 1.4 1.5 11.8 1.5 3.5 1.5 2.7 1.5-3 1.5 6.4 1.5-10.2 1.5 14.6 1.5-0.1 1.5 0.4 1.5 1.9 1.5 1.1 1.5-0.5 1.5-7.1 1.5 6.5 1.5 8.6 1.5-8.3 1.5 7.6 1.5 2.6 1.5 2.6 1.5 0.1 1.5-7.8 1.5 13.7 1.5-2 1.5-6.1 1.5 10.6 1.5 7.2 1.5-2.8 1.5 2.9 1.5-9.1 1.5 10 1.5-2.7 1.5-28.3 1.5 31.1 1.5 4.1 1.5 2.7 1.5 3 1.5-1.4 1.5 10.3 1.5-17.4 1.5 15.7 1.5 0.2 1.5 6.7 1.5-9.3 1.5 9.2 1.5-1.9 1.5 3.9 1.5-6.4 1.5 1.6 1.5 12.3 1.5-6.8 1.5 2.1 1.5 0.1 1.5-21.9 1.5 28.5 1.5 10.3 1.5-4.1 1.5 2.9 1.5 4.5 1.5-7.7 0 38.6-1.5 4.1-1.5-4.9-1.5 2.3-1.5-5.9-1.5-3.2-1.5-7.2-1.5 0.9-1.5 7.3-1.5-8.2-1.5-6.8-1.5-6.6-1.5 0-1.5-8.8-1.5 8-1.5-11.8-1.5 8.2-1.5-11.3-1.5 5.2-1.5-5.9-1.5 8.3-1.5-12.7-1.5-4.7-1.5 26.4-1.5-12.9-1.5-11.3-1.5 8.1-1.5-8.7-1.5-0.6-1.5-1.8-1.5 0.7-1.5-5.7-1.5 0.5-1.5-6.3-1.5 2.8-1.5-0.7-1.5-5.6-1.5 3-1.5-0.7-1.5-9.8-1.5 0.6-1.5 1-1.5-4.1-1.5-1.1-1.5-0.3-1.5-0.2-1.5-5.6-1.5-3.4-1.5-0.3-1.5 8.5-1.5-11.4-1.5-6.2-1.5-4.8-1.5-1.3-1.5 3.8-1.5 4.3-1.5-11.5-1.5-0.4-1.5 0-1.5 1.6-1.5-3.4-1.5-4.4-1.5 1-1.5 10.3-1.5-13-1.5-3.5-1.5-2.2-1.5-0.7-1.5-2.5-1.5-3.4-1.5 3-1.5-1.4-1.5-0.2-1.5 0.3-1.5 4.4-1.5-11.4-1.5 1.3-1.5 1.6-1.5-1.3-1.5-1.4-1.5 0.6-1.5 7.2-1.5-11.1-1.5 2.9-1.5 0.3-1.5-0.6-1.5-2.8-1.5 2.9-1.5 2.6-1.5-9.5-1.5 0.5-1.5 6.3-1.5-4.3-1.5-0.8-1.5 1.4-1.5 6.2-1.5-7.1-1.5-1.9-1.5 2.2-1.5 3.7-1.5-0.4-1.5-0.9-1.5 0.8-1.5-1.4-1.5 10.1-1.5-9.5-1.5-0.8-1.5 2.4-1.5-2.1-1.5 6.8-1.5-5.3-1.5 2.7-1.5-0.3-1.5 8.3-1.5-2.6-1.5 4.7-1.5-4.4-1.5-3.7-1.5-0.4-1.5-1.5-1.5 2.7-1.5-0.8-1.5-1.5-1.5 9.6-1.5-4z" fill="#109a2a" stroke="#109a2a" stroke-width="1.6"/>
<path d="M585.0 780.5l1.5 20.3 1.5 5.1 1.5-15.4 1.5 7.8 1.5-1.3 1.5 0.6 1.5-2.5 1.5 2.7 1.5-3.4 1.5-5.8 1.5-5.3 1.5 9.5 1.5-2 1.5 3.7 1.4 2.9 1.5-4.4 1.5 11.5 1.5-2.8 1.5 3.5 1.5-9 1.5-6.8 1.5 16.9 1.5-2.7 1.5-7.9 1.5 9.8 1.5-12.6 1.5 13 1.5 5.2 1.5-4.3 1.5 4.4 1.5 0.5 1.5-1.2 1.5-8.5 1.5 8.2 1.5-6.9 1.5 9.7 1.5-1.9 1.5 2.3 1.5 2.8 1.5-2.6 1.5 5.1 1.5 2.3 1.5-0.9 1.4-1 1.5-4.1 1.5-0.2 1.5 0.4 1.5 6.1 1.5-0.6 1.5 0.5 1.5-1 1.5 1.1 1.5-4.8 1.5 3.9 1.5-3 1.5 3.1 1.5 2.6 1.5-2.5 1.5-0.2 1.5 2.2 1.5-2.3 1.5 4.4 1.5 3.8 1.5-8.1 1.5 7.5 1.5 0.4 1.5-3.5 1.5-2.2 1.5 2.9 1.5 3.5 1.5-3 1.5-1.1 1.4-9.6 1.5 10.5 1.5-4.3 1.5-5.5 1.5 6.2 1.5-9 1.5 6.7 1.5 1.6 1.5 2.9 1.5-0.7 1.5-0.4 1.5-7.5 1.5 5.8 1.5 3.5 1.5 0 1.5-5.6 1.5 8.6 1.5-4.2 1.5 4.4 1.5-5.7 1.5-9.8 1.5 14.9 1.5-0.2 1.5-1.5 1.5-3.8 1.5 3.4 1.5-1.9 1.5 1.3 1.5-1.7 1.4 6.1 1.5-4.8 1.5-3.3 1.5 2.3 1.5 1.8 1.5-9.1 1.5 8.7 1.5-1.6 1.5-1.4 1.5 0.8 1.5-1.4 1.5-10 1.5 5 1.5 7.1 1.5-3.1 1.5-1.8 1.5 1.8 1.5 2.5 1.5-10.6 1.5 10.8 1.5 1.8 1.5 1.7 1.5-12.9 1.5 10 1.5 0.3 1.5 3.2 1.5-1.2 1.5 3 1.5-2.8 1.4-16.9 1.5 8.8 1.5 9.5 1.5-9.9 1.5 3.8 1.5 2.6 1.5 0.7 1.5-2 1.5 1.9 1.5-18.1 1.5 16.6 1.5 4.1 1.5 2.5 1.5-15.7 1.5 0.8 0 24.7-1.5 0.4-1.5 22.8-1.5-22.2-1.5 6.5-1.5 0.6-1.5-1.6-1.5-6.6-1.5 9.8-1.5-4.5-1.5-1.9-1.5 12.1-1.5-18.4-1.5 9.8-1.5-4.1-1.4-2.4-1.5 29.8-1.5-5.9-1.5-21.5-1.5 0.2-1.5 15.7-1.5-6-1.5-8.1-1.5 7.3-1.5-12.1-1.5 0.6-1.5 3.5-1.5-1.8-1.5 0.7-1.5 4.7-1.5-9.4-1.5 11.1-1.5-4.2-1.5-1.9-1.5-1.6-1.5-2.2-1.5 0-1.5 1.1-1.5-1.5-1.5 2.8-1.5-2.5-1.5-0-1.5-4-1.5 4.5-1.4-1.5-1.5 4.5-1.5-2-1.5 11.4-1.5-12.4-1.5 2.7-1.5 8.1-1.5-1.3-1.5 4.4-1.5-9.1-1.5 1.6-1.5 1.2-1.5-7.8-1.5-2.1-1.5 11.1-1.5-5-1.5 0.8-1.5 1.7-1.5-2.7-1.5-0.6-1.5 8.3-1.5-13.6-1.5 1-1.5-3.8-1.5 19.5-1.5-7.2-1.5-6.9-1.5 13-1.5-2.9-1.4-10-1.5 1.7-1.5 1.5-1.5-5.1-1.5 0.6-1.5 0.4-1.5 5.2-1.5-1.6-1.5-1.4-1.5-5.1-1.5 6.2-1.5-7.8-1.5 0.8-1.5 2-1.5 0.2-1.5-3-1.5 12-1.5 3.3-1.5-6.6-1.5-5.8-1.5 3.5-1.5-4.3-1.5 1-1.5-5.1-1.5 1.5-1.5 0.9-1.5-2.3-1.5 0.1-1.5 3.3-1.4 5.4-1.5-6.2-1.5-1.7-1.5 7.9-1.5-3.8-1.5-6.6-1.5 1.3-1.5-1.1-1.5-8.2-1.5-0.9-1.5 1.4-1.5 0.3-1.5-5.5-1.5 2-1.5-3.2-1.5 2.8-1.5 7.3-1.5-1-1.5-7.3-1.5-1.9-1.5 12.4-1.5-10.2-1.5 2.5-1.5 17.4-1.5-5.6-1.5-17.9-1.5 2.7-1.5 1.7-1.5-6.6-1.4 4.7-1.5-0.3-1.5-1.2-1.5 2.7-1.5 2.4-1.5-0.3-1.5-3.6-1.5 1.3-1.5 14.6-1.5-16-1.5 2-1.5 0-1.5 7.3-1.5 9.1-1.5-4zM835.0 883.2l1.5-1.1 1.5 4.1 1.5 1.5 1.5-7.5 1.5-3.8 1.5 5.5 1.5-3.2 1.5 2.3 1.5 5.5 1.5-2.4 1.5-15 1.5 19.1 1.5-6.5 1.5 4.4 1.5-4.8 1.5 8.8 1.5-6.7 1.5 7.6 1.5-0.3 1.5-0.3 1.5-2.8 1.5 0.6 1.5-7.2 1.5 9.7 1.5-8.7 1.5 8.9 1.5 0.4 1.5 0 1.5 0.2 1.5 6.2 1.5-6.2 1.5 2.5 1.5-5.5 1.5 2.6 1.5-2.4 1.5 6.5 1.5-2.2 1.5 1.2 1.5 1 1.5-3.6 1.5 4 1.5-2.6 1.5 4.5 1.5-0.5 1.5 0.1 1.5-1.5 1.5 3.8 1.5 5.1 1.5 0.1 1.5 3.1 1.5-1.2 1.5-3.1 1.5 7 1.5 2.1 1.5-3 1.5 3.1 1.5 0.3 1.5 2.7 1.5 0.4 1.5-1.5 1.5-1 1.5 4.1 1.5-1.9 1.5-2 1.5 7.3 1.5 2.7 1.5-11 1.5 5.6 1.5 8.1 1.5-1.6 1.5 6.8 1.5-5.6 1.5 5.2 1.5 2.2 1.5 0.2 1.5 4.4 1.5-4.4 1.5 8.6 1.5-16.9 1.5 22.9 1.5 2.9 1.5 0.5 1.5-30.6 1.5 20.6 1.5 10.5 1.5-4.5 1.5 8.6 1.5 2.2 1.5 0.5 1.5-0.7 1.5 6.4 1.5 4.3 1.5-7 1.5 10.7 1.5-1.1 1.5-10.1 1.5 15.7 1.5 7.5 1.5-4.7 1.5-2.6 1.5 3.9 1.5 6.8 1.5-7.3 1.5 1.9 1.5 12.4 1.5 6.1 1.5-22.3 1.5 35.6 1.5-2.5 1.5 16.6 0 25.8-1.5-3.7-1.5-18.9-1.5 8.6-1.5-14.4-1.5-7.8-1.5-5.2-1.5-6.8-1.5 19.2-1.5-17.2-1.5-3-1.5 11.2-1.5-16.1-1.5-0.2-1.5-8.2-1.5-3.6-1.5-1.3-1.5 8.6-1.5-5.1-1.5-8.1-1.5 2.4-1.5-2.4-1.5-3.2-1.5 4-1.5-7.8-1.5-3.1-1.5-1-1.5-4.1-1.5-1.9-1.5-3.5-1.5 13.1-1.5-9.3-1.5 4.7-1.5-0.4-1.5-11.3-1.5 0.7-1.5 10.1-1.5-16.2-1.5-3.9-1.5 3.1-1.5-0.2-1.5 3.7-1.5 5.3-1.5-11.2-1.5-11.5-1.5 5.2-1.5-1.5-1.5 0.1-1.5 9.6-1.5-13.6-1.5 7.3-1.5-7.5-1.5-3-1.5 11.1-1.5-10.7-1.5-5.9-1.5-1.5-1.5 11.4-1.5-15-1.5 2.4-1.5-0.2-1.5-5.4-1.5 1.4-1.5 12.5-1.5-7-1.5-7.7-1.5-8.1-1.5 15.1-1.5-11.3-1.5-2.2-1.5 20.3-1.5-22.8-1.5-5.1-1.5 7.9-1.5-7.4-1.5 4.4-1.5 9-1.5-3.5-1.5-7-1.5 2.5-1.5-2.6-1.5 6.2-1.5-11.6-1.5 0.2-1.5 0.2-1.5-1.7-1.5 1.9-1.5 5.1-1.5-8.2-1.5 4.3-1.5 0-1.5-1.6-1.5-2.2-1.5 4.8-1.5-0.7-1.5-1.9-1.5-0.6-1.5 1.5-1.5 5.5-1.5-9.6-1.5 5.5-1.5-3.2-1.5-2.6-1.5-0.2-1.5 3.7-1.5-0.5-1.5-3.9-1.5 0.3-1.5-0.1-1.5 3.9-1.5 27.2z" fill="#18b8c0" stroke="#18b8c0" stroke-width="1.6"/>
<path d="M802.0 830.0 835.0 862.0M1000.0 1050.0 1000.0 1085.0" stroke="#18b8c0"/>
<path d="M840.0 919.0l1.5-4.3 1.5-0.7 1.5 4.6 1.5-6.3 1.5-13.1 1.5 11 1.5 7.9 1.5-4.4 1.5-19.5 1.5 11.8 1.5 7.4 1.5-5.5 1.5-5.2 1.5-0.6 1.5-25.3 1.5 25.5 1.5-2.2 1.5-10.6 1.5-1.7 1.5 6.2 1.5-15.6 1.5 4 1.5 9.7 1.5-2.1 1.5-15.6 1.5 16.5 1.5 0.4 1.5 0.5 1.5-1.3 1.5-3.4 1.5-8.2 1.5-0.8 1.5 8.3 1.5-3.4 1.5 1.6 1.5-10.5 1.5 7.8 1.5-2 1.5-29.1 1.5 17.3 1.5-0 1.5-5 1.5 0.5 1.5 0.9 1.5-4.6 1.5-5.4 1.5-0.1 1.5-2 1.5-8 1.5-6.1 1.5 3.1 1.5-4.9 1.5-0.2 1.5-0.1 1.5 0.9 1.5 1 1.5-0.3 1.5-4 1.5 3 1.5 0.4 1.5 2.3 1.5-6.7 1.5 2.5 1.5-9.8 1.5 9.3 1.5-1 1.5 2.7 1.5-0.5 1.5-1.8 1.5 1.4 1.5-1.1 1.5-1.8 1.5-24.2 1.5 24 1.5-0.1 1.5-3.9 1.5 8.2 1.5-3.9 1.5-9.3 1.5 4.2 1.5 2.2 1.5 1.8 1.5 2.1 1.5 0.6 1.5-0.7 1.5 2.8 1.5-1.2 1.5-8.3 1.5 6.3 1.5 1 1.5-2.4 1.5-5.5 1.5 9.6 1.5-7.4 1.5 5.3 1.5-7 1.5 10.6 1.5 4.2 1.5-6.6 1.5-4.4 1.5-5.5 1.5 7.6 1.5 3.1 1.5 5.8 1.5-4.9 1.5 3.5 1.5 3.5 1.5 10.8 1.5 7.6 1.5 13.5 1.5-13.5 1.5 26.4 1.5-7.2 1.5 14.3 1.5-17.3 1.5 11.6 1.5 1.5 1.5 3.9 1.5 0.5 1.5-0.3 1.5-0.2 1.5 1.4 1.5 2.3 1.5-2.5 1.5-3.7 1.5-1.6 1.5 5.9 1.5-1.6 1.5-1.8 1.5-5.2 1.5 4.4 1.5 1.4 1.5-3.4 1.5 8.2 1.5-6.5 1.5 3.2 1.5 0.1 1.5-5 1.5 6 1.5-0.4 1.5-10.6 1.5 9.8 1.5-1.4 1.5 3.5 1.5 2.3 1.5-2.3 1.5-0.1 1.5 1.1 1.5-1 1.5-1.4 1.5 0.9 1.5-3.7 1.5 4.4 1.5-3.2 1.5 1.6 1.5 1.2 1.5 1.9 1.5-5 1.5 4 1.5-0.6 1.5-3.1 1.5 0.7 1.5-1.9 1.5 1.7 1.5-15 1.5 14.5 1.5-6.5 1.5 6.5 0 18.4-1.5-5.3-1.5-0.3-1.5-0.3-1.5-0-1.5 3.9-1.5-3.6-1.5 0.3-1.5 4.3-1.5-3-1.5-1.7-1.5 2.1-1.5 2.8-1.5-4.8-1.5 1.7-1.5 6.1-1.5-1.4-1.5-5.6-1.5 0.8-1.5 3.5-1.5-1.1-1.5-2.2-1.5 4.7-1.5-2.2-1.5-5.9-1.5 0.8-1.5 1.8-1.5-1.7-1.5 2.2-1.5 0.6-1.5 2.3-1.5-5.1-1.5 4.9-1.5 1.6-1.5-1.1-1.5-3.4-1.5 6.4-1.5-3.3-1.5-4.7-1.5 15-1.5-9.5-1.5-1.7-1.5 1.3-1.5 4.2-1.5 0.4-1.5-6.9-1.5 22.1-1.5-21.5-1.5 4.9-1.5-2.6-1.5-1.3-1.5-0.6-1.5 4.1-1.5 0.2-1.5 24.4-1.5-24.9-1.5-5.3-1.5-15.9-1.5-8-1.5-4.8-1.5-5.3-1.5-6.8-1.5-6.6-1.5-1-1.5-2-1.5-1.1-1.5-2.9-1.5 0.5-1.5 4.5-1.5-5.8-1.5-0.8-1.5 0.6-1.5-0-1.5-2.4-1.5 4.2-1.5 0.6-1.5-6.3-1.5-0.9-1.5 14.2-1.5-8.2-1.5-2.7-1.5-4.7-1.5 3.9-1.5-3.1-1.5 8.9-1.5-4.1-1.5 0.7-1.5-5.4-1.5 3.6-1.5-3.6-1.5 1.2-1.5 5.2-1.5 6.5-1.5-12-1.5 0.8-1.5-3.7-1.5 2.6-1.5 8.2-1.5-1-1.5-2.5-1.5-5.7-1.5 2.9-1.5 1.1-1.5 4.8-1.5-5.5-1.5 2-1.5-6-1.5 0.7-1.5 2.5-1.5-1-1.5 1.7-1.5-2.8-1.5 6.8-1.5-1.5-1.5 12.6-1.5-15.9-1.5 6.3-1.5 3.2-1.5-0-1.5 14.6-1.5-4.6-1.5 4.7-1.5 5.6-1.5-3.9-1.5 2.8-1.5-1.9-1.5-2-1.5 7.1-1.5-2.5-1.5 6.4-1.5-1.7-1.5 7.4-1.5 1-1.5 5.7-1.5 1.6-1.5-4-1.5 6.8-1.5-0.3-1.5 9.1-1.5-3.5-1.5-1-1.5 17.4-1.5-10.7-1.5 3.4-1.5-0.9-1.5 13.6-1.5-9-1.5-7-1.5 8.9-1.5-4.9-1.5 8.7-1.5 21.1-1.5-22.1-1.5 4.9-1.5 4.4-1.5-9.8-1.5 8.2-1.5-6.6-1.5 3.7-1.5 3.3-1.5 26.5-1.5-19.9-1.5 1.6-1.5 7.4-1.5 12.4-1.5-16.7-1.5-0.1-1.5 5.8-1.5-6.2zM1130.0 877.6l1.5-2.1 1.5-3.9 1.5 5.2 1.5-1.2 1.5-6.4 1.5-1.3 1.5 2.9 1.5-4.7 1.5 2.6 1.5-3.1 1.5-0.1 1.5-6.3 1.5 4.7 1.5 1.5 1.5-0.9 1.5-0.8 1.5-2.1 1.5-2.3 1.5-5 1.5 5.4 1.5-0.2 1.5-0.3 1.5-0 1.5 3.4 1.5-1.5 1.5-1.7 1.5 0.2 1.5-1.1 1.5 0.9 1.5-6.2 1.5 5.9 1.5-8.2 1.5 2 1.5 3.2 1.5-3.8 1.5 1.8 1.5-1.1 1.5-0.8 1.5 1.4 1.5-0.7 1.5-7.6 1.5 8.6 1.5 1 1.5-3.1 1.5 0.8 1.5 0.2 1.5 0.4 1.5 1.5 1.5-2.1 1.5 5.7 1.5-1.5 1.5 0.5 1.5-1.2 1.5-18.8 1.5 18.5 1.5-2.1 1.5-3.1 1.5 7.2 1.5-7.9 1.5 0.8 1.5 11.1 1.5-4.6 1.5 1.4 1.5-7.4 1.5-6.3 1.5 4.7 1.5 3.3 1.5-0.3 1.5-0.7 1.5 0.2 1.5-12.2 1.5-2.7 1.5 9.4 1.5 0 1.5-10.5 1.5 11.5 1.5-11.8 1.5 6.7 1.5-3 1.5-2.1 1.5-8.2 1.5 6.7 1.5-6.9 1.5 1.9 1.5-5.8 1.5 9.7 1.5-2.1 1.5-11.7 1.5 1.2 1.5 8.9 1.5-5.8 1.5 8 1.5-1.4 1.5 1 1.5-10.7 1.5 5.9 1.5-12.4 1.5 10.2 1.5-1.7 1.5 6.6 1.5-10 1.5 7.6 1.5 2.3 1.5-5.6 1.5 7.4 1.5-3.7 1.5-1.2 1.5-0.2 1.5 0.1 1.5-0.5 1.5-7.7 1.5 8.4 1.5-14.3 1.5 10.1 1.5-3.3 1.5 3.4 1.5 4 1.5-0.9 1.5-0.8 1.5-7.4 1.5-1.5 1.5 4.3 1.5-3.3 1.5 2.5 1.5 8.7 1.5-17 1.5 17.1 1.5-10.7 1.5 10.5 1.5 2.9 1.5-0.4 1.5 6.5 1.5-2.4 1.5 3.1 1.5 3.1 1.5 0.7 1.5 2.5 1.5 4.1 1.5-7.3 1.5 5.5 1.5-6.3 1.5 5.3 1.5 7 1.5 1.3 1.5-0.7 1.5 2.1 1.5 2 1.5 2.3 1.5-5.4 1.5 6.8 1.5-0.2 1.5 5.4 1.5-11.4 1.5 5.1 1.5 3.1 1.5 1.6 1.5 6 1.5-1 1.5 1.1 1.5 0.4 1.5 0.9 1.5 7.4 1.5-4.1 1.5-21.7 1.5 23.6 1.5 2.1 1.5-0.4 1.5-1.4 1.5 6 1.5-5 1.5-10 1.5 14.6 1.5 1.1 1.5 1.1 1.5-9 1.5 9.8 1.5-24.2 1.5 21 1.5 9.5 1.5 0.3 0 26.8-1.5 5.2-1.5-13.2-1.5-5-1.5 7.6-1.5-7.2-1.5-0.2-1.5-2.7-1.5-2.7-1.5-1.3-1.5-1.4-1.5 7.1-1.5-4.3-1.5-2.3-1.5 1.2-1.5-4.6-1.5 1.9-1.5-1.2-1.5-4.8-1.5 6.5-1.5-6.7-1.5-4.4-1.5 5-1.5-6.3-1.5-0-1.5-1.5-1.5-3.7-1.5 13.4-1.5-12.1-1.5-4.2-1.5-1.4-1.5 7.2-1.5-4.1-1.5-7-1.5-0.4-1.5-2.8-1.5-2.5-1.5-3.4-1.5 3.4-1.5-5.2-1.5 5.9-1.5-3.6-1.5-7.7-1.5 7.7-1.5-9.5-1.5-4.3-1.5 0.1-1.5 1.4-1.5-5.3-1.5 4.2-1.5 3.8-1.5-12.5-1.5-1-1.5 6.2-1.5-6.2-1.5 7.4-1.5-8.9-1.5 3.3-1.5-1.3-1.5 9.1-1.5 5.2-1.5-13.2-1.5 6.6-1.5-0.4-1.5-5.3-1.5 5.7-1.5-4.8-1.5 4.8-1.5-6.3-1.5 2.5-1.5-4.8-1.5-1.7-1.5 9-1.5-6.3-1.5 4.4-1.5-6.1-1.5 12-1.5-6.4-1.5-1.3-1.5 23.1-1.5-22.9-1.5 6.6-1.5-5.5-1.5-0.2-1.5 24.9-1.5-24.4-1.5 5.2-1.5-3.3-1.5 8.3-1.5 3.4-1.5-10.2-1.5 0.5-1.5 4.7-1.5 8.6-1.5-5.3-1.5 0.7-1.5 3.9-1.5-0.5-1.5-9.9-1.5 7.6-1.5-4.4-1.5 4.4-1.5-1.3-1.5-0.3-1.5 0.3-1.5-2.1-1.5 8.5-1.5-4.4-1.5-0.1-1.5 1.4-1.5 2.1-1.5 0-1.5 7.8-1.5 0.1-1.5-3.5-1.5-2.2-1.5-2.3-1.5 9-1.5-4.6-1.5-0-1.5 1.4-1.5 0.3-1.5 5-1.5-5.5-1.5 3-1.5-4.9-1.5 2.6-1.5-4.5-1.5 1.2-1.5 0.2-1.5-2.2-1.5 2.3-1.5-4.1-1.5 2.1-1.5 3.7-1.5-2.5-1.5 7.1-1.5-7.3-1.5-1.5-1.5 6.6-1.5-7.5-1.5 4.5-1.5-5.4-1.5 1.6-1.5 1.4-1.5-2.5-1.5 1.1-1.5 2.1-1.5-0.1-1.5 0.1-1.5 4.4-1.5-0.2-1.5 1.8-1.5-1.4-1.5 7.2-1.5-6.9-1.5-1.7-1.5 0.2-1.5 3-1.5 8.8-1.5-9.8-1.5 6.9-1.5-4.1-1.5 2.5-1.5-3.1-1.5 0.6-1.5 0.6-1.5 0.1-1.5 2.9-1.5 0.3-1.5 2.1-1.5-0-1.5-3.2-1.5 3.1-1.5-2.2-1.5 2.9-1.5 7.7-1.5-5-1.5 0.2-1.5 0.2-1.5-0.2z" fill="#303450" stroke="#303450" stroke-width="1.6"/>
<path d="M1092.0 900.0 1120.0 870.0" stroke="#303450"/>
<path d="M730.0 865.2l1.5 2.5 1.5-10.9 1.5 1.7 1.5 5.7 1.5-7.8 1.5-3.4 1.5 10.1 1.5-0.3 1.5-3.7 1.5 9.9 1.5-4.5 1.5-2.5 1.5 6.6 1.5-11.4 1.5 10.5 1.5-7.2 1.5 0.4 1.5 0.7 1.5-0.6 1.5-2.9 1.5 11.7 1.5-7.5 1.5 0.2 1.5-26.7 1.5 22.8 1.5 0.9 1.5-0.9 1.5 7.4 1.5-11.7 1.5 3 1.5 3.4 1.5-3.4 1.5-14.6 1.5 26.4 1.5-0.4 1.5-11.4 1.5 3.1 1.5-3.1 1.5 1 1.5-1.3 1.5 2.3 1.5 0.3 1.5-16.6 1.5 24.7 1.5-2.6 1.5 4.6 1.5-4.8 1.5-4.6 0 32.7-1.5 13.1-1.5-15-1.5 5.5-1.5-7.1-1.5 4.3-1.5-6.6-1.5 0.7-1.5 11.1-1.5-7.6-1.5 1.3-1.5-0.2-1.5 12.3-1.5-13.8-1.5 1.3-1.5 16-1.5-18.1-1.5-2.7-1.5 2.6-1.5 0.8-1.5-0.8-1.5 15.3-1.5 24.9-1.5-41.7-1.5 4.7-1.5-0.8-1.5 4.8-1.5-6-1.5-6.8-1.5-1.5-1.5 6.2-1.5-2-1.5-2.8-1.5 17.6-1.5 0.1-1.5-1.5-1.5 1.6-1.5-5.6-1.5 7.4-1.5-5.2-1.5-9.7-1.5 7.4-1.5 19.6-1.5-17.1-1.5-14.5-1.5 7.6-1.5-4.2-1.5 13.9-1.5-6.1zM822.0 882.9l1.5-4.7 1.5-12.2 1.5 5.7 1.5 8.8 1.5-7.1 1.5 8.7 1.5-5.1 1.5-7.8 1.5 1.1 1.5 0.7 1.5 5.8 1.5 2.3 1.5-17.6 1.5 16.4 1.5-3 1.5 7.3 1.5-7 1.5-0.9 1.5-1.3 1.5 4.1 1.5-4 1.5-6.8 1.5 6.9 1.5-1.5 1.5 7.2 1.5-2.6 1.5-1.2 1.5-6.9 1.5 6 1.5 4.4 1.5-5.1 1.5 1.9 1.5 6.1 1.5-17.9 1.5-2.1 1.5 20.5 1.5-15 1.5 5.2 1.5 0.5 1.5-7.2 1.5-1.1 1.5 4 1.5-7.7 1.5 11 1.5 6.9 1.5-2.3 1.5-22.1 1.5 20.2 1.5 1.9 1.5 0 1.5-22.6 1.5-32.7 1.5 17.3 1.5-1.4 1.5-6.6 1.5 6.9 1.5 1.5 1.5-2.1 1.5-0.9 1.5-1.3 1.5-4.5 1.5 1.7 1.5 0.8 1.5 0.3 1.5 1 1.5-3.3 1.5 0.9 1.5 1 1.5 0.2 1.5-3.7 1.5-0.6 1.5-10.5 1.5 7.6 1.5-0 1.5-1.8 1.5 1.3 1.5-2.5 1.5-4.4 1.5 2.2 1.5 3.2 1.5-2.5 1.5 5.8 1.5 0.2 1.5-2.6 1.5-0.2 1.5 1.6 1.5-4.5 1.5 3.3 1.5 0.2 1.5-4.2 1.5 2.9 1.5-3 1.5-0.1 1.5-4.7 1.5 3.5 1.5 1.4 1.5-1.3 1.5-1.3 1.5-0.2 1.5-4.2 1.5 6.5 1.5 0.5 1.5-2.3 1.5 2.5 1.5-5.4 1.5 4.7 1.5-0.6 1.5-8.1 1.5 2.8 1.5 0.9 1.5-2.2 1.5 1.7 1.5 2.3 1.5-5.2 1.5 6.6 1.5-0 1.5-6.5 1.5 6.7 0 16.3-1.5-4.2-1.5-4.1-1.5 8.4-1.5-7.5-1.5 0.7-1.5-2.7-1.5 3.1-1.5 6.1-1.5 11.7-1.5-16.5-1.5 2.7-1.5-4.8-1.5 2.3-1.5 2.8-1.5 3.3-1.5-5.5-1.5 2-1.5-1.9-1.5 1.9-1.5 8.1-1.5-7.2-1.5-0.8-1.5 3.8-1.5-6.5-1.5 2.9-1.5 2-1.5 0.3-1.5 1.5-1.5-1-1.5 7.1-1.5-0.7-1.5-4.6-1.5 0.4-1.5 1.3-1.5-2.6-1.5 0.7-1.5 1-1.5-1.2-1.5 6.4-1.5 16-1.5-21.3-1.5 5.1-1.5-2.7-1.5 1.5-1.5 2.2-1.5 1.8-1.5-1.3-1.5-2.1-1.5 8.1-1.5-4.8-1.5-0.3-1.5 0.2-1.5 6.9-1.5-1.4-1.5-0.4-1.5 10.6-1.5 1.4-1.5-7.2-1.5 2.6-1.5 1.9-1.5-0.9-1.5 1.6-1.5-2.4-1.5-1-1.5 3.4-1.5 1.5-1.5 33.8-1.5 13.4-1.5 0.5-1.5-5.3-1.5 5.8-1.5-8.3-1.5-0.2-1.5 3.7-1.5-3.9-1.5 1-1.5-3.8-1.5 1.5-1.5 16.2-1.5-7.8-1.5 0.1-1.5-3.7-1.5 14.4-1.5-16.1-1.5 4.8-1.5-5.4-1.5 22-1.5-19.6-1.5-6.8-1.5 3.2-1.5-2.5-1.5 7.3-1.5-3-1.5-1-1.5 0.6-1.5-0.7-1.5 2.6-1.5-5.1-1.5 28.4-1.5-24.9-1.5-2-1.5 6.2-1.5-9.3-1.5 2.4-1.5 21.5-1.5-22.6-1.5 8.4-1.5 6.5-1.5 15.3-1.5-29.4-1.5 20.7-1.5-15-1.5 0.7-1.5 3-1.5 32.2-1.5-35.8-1.5-0.6-1.5-0.1zM1002.0 851.9l1.5-3.1 1.5 8.7 1.5-8.8 1.5 0.2 1.5 5.5 1.5-0.5 1.6-0.8 1.5-14.9 1.5 11.6 1.5 5.4 1.5-20.8 1.5 14.6 1.5-13.3 1.5 7.7 1.5 2.5 1.5 5 1.5-17.1 1.5 17 1.5-11.1 1.6 6.4 1.5 7.4 1.5-16.4 1.5 16.9 1.5-2.3 1.5 3.3 1.5 0.8 1.5-22.2 1.5 29.1 1.5-1.1 1.5-13 1.5 11.5 1.5 3.4 1.6-3.8 1.5 1.1 1.5 0.6 1.5 2.2 1.5 0.1 1.5-0.4 1.5 3.2 1.5-15.8 1.5 11.9 1.5-2.7 1.5-10.4 1.5 16 1.5 2.1 1.6-2 1.5 1.7 1.5 1.2 1.5 4.6 1.5-6.8 1.5 5.7 1.5 1.6 1.5-3.3 1.5 2.6 1.5 1.4 1.5-8.7 1.5 7.4 1.5-1.1 1.6 1.8 1.5-1.4 1.5 3.2 1.5-3.4 1.5 0.8 1.5-1.5 1.5 4.5 0 24.2-1.5-2-1.5 0.4-1.5-1.4-1.5 9.5-1.5-12-1.5 13.1-1.6-14.5-1.5-0.6-1.5-3.2-1.5-3.5-1.5 1.1-1.5 2.7-1.5 7.3-1.5-5.2-1.5 0.4-1.5 4.4-1.5-9-1.5-0-1.5 9.6-1.6-10.3-1.5 7.2-1.5-4.3-1.5 4.4-1.5-15.3-1.5 0.4-1.5-0.9-1.5 10.8-1.5-8-1.5-2.1-1.5-0.9-1.5 1.1-1.5 5.6-1.6-8.6-1.5 19.6-1.5-16.1-1.5 1.9-1.5 9-1.5-12-1.5 10.5-1.5-17.1-1.5 4.4-1.5-4.3-1.5 1.8-1.5 15.4-1.5-1.3-1.6-11.6-1.5-0.1-1.5-0.2-1.5 9.7-1.5-10.7-1.5-1.6-1.5-3.3-1.5-1.6-1.5 8-1.5-3.8-1.5-4.7-1.5 6.6-1.5-1.1-1.6 7.3-1.5-6.8-1.5 4.1-1.5-6.3-1.5 10.7-1.5 2-1.5 2.7zM1122.0 933.8l1.5 3.5 1.5-9 1.6-31.2 1.5 41.6 1.5-12 1.5-1 1.6-13.5 1.5 14.7 1.5-22.1 1.5 19.2 1.5 1.5 1.6 1.4 1.5-1.1 1.5 6.7 1.5-18.8 1.5 4.5 1.6 12.5 1.5 7.4 1.5 1.8 1.5-1.8 1.6-6 1.5-0.5 1.5-5.6 0 29-1.5-1.4-1.5-6.3-1.6 13.6-1.5-3.6-1.5-5.7-1.5 0.5-1.6 2.3-1.5-4.5-1.5 16.6-1.5 14.2-1.5-21.1-1.6 0.3-1.5 21.8-1.5-10.2-1.5-8.7-1.5 3-1.6-8.7-1.5-2.7-1.5 6.5-1.5 1.3-1.6 9.6-1.5 3.5-1.5-11z" fill="#60bce6" stroke="#60bce6" stroke-width="1.6"/>
<path d="M802.0 880.0 835.0 862.0M1000.0 793.0 1000.0 835.0M1100.0 880.0 1122.0 920.0" stroke="#60bce6"/>
<path d="M725.0 851.2l1.5 10.7 1.5-6 1.5 0.4 1.5-24.6 1.5 22.3 1.5 2.9 1.5-26 1.5 11.3 1.5 3.9 1.5-3.4 1.5 1.1 1.5 1.7 1.5 1.1 1.5-4.1 1.5-0.2 1.5-1.8 1.5-0.2 1.5-3.1 1.5-8.8 1.5 9.9 1.5-9.7 1.5 2.5 1.5-8.1 1.5 1.4 1.5-0.2 1.5-1 1.5 1.5 1.5-2.8 1.5 1.4 1.5-2.5 1.5 4.8 1.5 3.6 1.5-22.2 1.5 22.3 1.5-1.5 1.5-0.6 1.5-3.8 1.5 2.2 1.5-7.7 1.5 8.9 1.5-3.4 1.5-1.7 1.5-13.3 1.5 7 1.5 6.2 1.5 3.3 1.5-0.5 1.5-7.5 1.5 6.5 1.5-6.9 0 21.2-1.5-3.8-1.5-0.1-1.5 1.1-1.5 3.3-1.5-2.8-1.5 2.8-1.5-2.2-1.5 0.8-1.5 2.5-1.5-0.1-1.5-3.7-1.5 1.7-1.5 2.5-1.5 1.2-1.5 12.3-1.5-12.1-1.5 6.2-1.5-4.6-1.5 7.8-1.5-3.3-1.5-6.6-1.5-1-1.5 12.2-1.5-3.5-1.5-5.6-1.5-0.3-1.5-0.9-1.5 19.2-1.5-6.5-1.5-4.6-1.5 0.6-1.5-0.5-1.5-0.9-1.5 5.6-1.5 7.8-1.5-5.8-1.5 3-1.5 10-1.5-5.9-1.5 6.9-1.5-2.6-1.5-0.5-1.5-1.1-1.5 2.7-1.5-0.1-1.5 5.2-1.5 10.3-1.5-8.5-1.5 1.3-1.5 11.4zM825.0 823.1l1.5 2.7 1.5 4.9 1.5 3.3 1.5-1.3 1.5-2 1.5-14.2 1.5 11.3 1.5 0.2 1.5 6.6 1.5-0 0 30-1.5-5.5-1.5 6.4-1.5-6.5-1.5 1.6-1.5 0.4-1.5 3.9-1.5 6.9-1.5-9-1.5 2.8-1.5 0.9zM890.0 859.9l1.5-1.5 1.5-5.6 1.5 6.7 1.5-6.7 1.5-3.8 1.5 9.7 1.5 1.2 1.5-2.1 1.5 2.1 1.5-0.1 1.5-1.9 1.5 1 1.5-9.3 1.5 7.5 1.5 3.6 1.5 2.2 1.5-11.2 1.5 0.7 1.5 6.7 1.5 1.5 1.5-11.4 1.5 5.4 1.5-6.4 1.5 8.9 1.5 1.4 1.5-10.4 1.5 11.4 1.5 0.4 1.5 0.9 1.5-1.7 1.5 1.9 1.5 0.9 1.5-0.4 1.5-0.2 1.5-26.7 1.5 29.8 1.5-3.7 1.5-1.5 1.5 1.6 1.5-21.3 1.5 13.2 1.5 7.4 1.5-2.2 1.5 7.7 1.5-4.5 1.5-2.8 1.5-7.1 1.5 12.2 1.5 0.3 1.5 3 1.5-9.8 1.5 4.2 1.5-0.6 1.5 0.1 1.5-0.5 1.5-3 1.5 1.5 1.5-0.5 1.5 7.8 1.5-0.6 1.5 1.8 1.5-2.3 1.5 1.3 1.5 0.1 1.5 0.2 1.5-16.5 1.5 19 1.5-10.9 1.5 8.7 1.5 0.3 1.5 1.8 1.5 1.2 1.5-1.7 1.5 3.4 1.5 6.9 1.5 7.2 1.5 8.3 1.5 8.6 1.5-2.6 1.5 2.3 1.5-21.9 1.5 37.5 1.5-3.5 1.5 1.9 1.5-9.3 1.5 9.3 1.5-2.8 1.5 1.7 1.5-2 1.5 5 1.5-1.7 1.5-1.1 1.5 1.1 1.5 1.2 1.5-1.4 1.5-1.3 1.5-1.3 1.5 3.4 1.5-8.3 1.5 9 1.5 4.1 1.5-8 1.5 3.1 1.5-17.5 1.5 24.7 1.5 2.9 1.5-0.6 1.5-4.6 1.5 11.3 1.5 1.9 1.5-23.5 1.5 19.6 1.5 9.1 1.5 6 1.5 1.1 1.5 2.9 1.5-2.5 1.5-7 1.5 4.5 1.5-7.4 1.5-7.6 1.5 10.8 1.5-1.8 1.5 4 1.5 0.4 1.5-4.3 1.5-3.1 1.5 9.5 1.5 0.6 1.5-1.8 1.5 6.7 1.5-5.1 1.5-6.1 1.5 8.9 1.5 2.3 1.5-4.6 1.5 4.2 1.5 0.1 1.5 0.2 1.5-3.6 0 18.7-1.5-0.2-1.5 0.1-1.5 5.7-1.5-6.8-1.5-0.8-1.5 12.6-1.5-7.7-1.5 3.8-1.5-9.3-1.5 5.3-1.5-3.1-1.5 4.1-1.5-1.5-1.5 5.2-1.5-3.2-1.5-6.1-1.5 8.9-1.5 2.2-1.5-7.1-1.5-1.6-1.5-2-1.5 6.1-1.5 7.8-1.5-5.8-1.5-9.6-1.5 11.3-1.5-12.2-1.5-1.6-1.5-1.3-1.5-7.2-1.5-1.3-1.5 1.6-1.5-7.2-1.5-0.8-1.5-7.5-1.5-6.7-1.5-1.4-1.5 7.4-1.5 0.6-1.5-1.3-1.5-7.7-1.5 2.1-1.5 0.5-1.5-2.6-1.5 1.4-1.5-0.3-1.5 1.9-1.5-0.7-1.5 5.2-1.5 12.4-1.5-21-1.5 14.5-1.5-10-1.5 6-1.5-1.7-1.5 6.2-1.5-12.8-1.5 6.5-1.5-1.2-1.5-4.1-1.5-8.2-1.5-5.3-1.5-10.4-1.5-6.8-1.5-8.9-1.5-4.3-1.5-4.9-1.5-0.7-1.5-0.8-1.5-1.8-1.5 1-1.5-1.7-1.5 3.9-1.5 6.6-1.5-8.5-1.5-2.4-1.5-2.1-1.5 2.3-1.5-0.6-1.5 0.3-1.5 5.9-1.5-8.6-1.5 25.2-1.5-21-1.5-2-1.5 0.7-1.5 1.8-1.5 0.4-1.5 5.2-1.5-10.4-1.5 7.8-1.5-6.3-1.5-1.4-1.5-1-1.5 6.3-1.5-6-1.5 4.2-1.5-6.3-1.5 8.7-1.5 0.1-1.5-5.1-1.5 0.2-1.5-2.3-1.5 0.7-1.5-1.1-1.5-0.1-1.5-1.7-1.5 4-1.5-3.7-1.5-0.4-1.5 1.8-1.5 0.1-1.5-1.9-1.5-1-1.5-0.4-1.5 0.9-1.5-2.8-1.5 4.9-1.5-0.1-1.5-2.8-1.5 0.2-1.5-1.5-1.5 1.7-1.5-0.1-1.5-0.6-1.5 1.7-1.5 6.6-1.5 0-1.5-5.9-1.5-0.4-1.5 4.3-1.5-4.4-1.5 0.6-1.5-0.5-1.5-0.4-1.5 1-1.5-1.5-1.5-0.4-1.5-2.4-1.5 11.7zM1120.0 955.3l1.5-7.4 1.5-7.5 1.5 10.1 1.5 6.7 1.4-16.7 1.5 9.4 1.5-6.7 1.5 10.5 1.5-2.6 1.5-0.4 1.5-7.9 1.5 4.4 1.5-1.2 1.5 1.7 1.4-1 1.5 2.3 1.5-9.2 1.5 8.9 1.5 2.9 1.5-0.8 1.5 3 1.5-4.3 1.5 1.6 1.4 6.6 1.5-12.2 1.5-10.8 1.5 17.6 1.5-2.1 1.5-11.6 1.5 15.9 1.5-0.5 1.5-1.4 1.4-10 1.5-1.8 1.5-19 1.5 36.3 1.5-10.1 1.5-2.4 1.5 10.4 1.5-5.1 1.5 1.3 1.5 6.9 1.4-17.3 1.5 12.6 1.5-12.3 1.5 11.6 1.5-16 0 32.4-1.5 5.6-1.5-3.4-1.5-0.9-1.5 10.2-1.4-5.1-1.5 1-1.5-0.7-1.5-1.7-1.5 2.1-1.5-3.1-1.5 3.5-1.5-0.5-1.5 10.3-1.5 14.4-1.4-19.1-1.5-1.2-1.5 17.6-1.5-16.4-1.5 2.7-1.5 8.7-1.5-6-1.5-2.4-1.5 10.5-1.4-9.5-1.5 1.3-1.5 1.3-1.5-11.8-1.5-3.8-1.5 4.6-1.5-3.5-1.5 0.6-1.5-0.6-1.4 4.1-1.5-3.2-1.5 7.1-1.5-11.7-1.5 14-1.5-17.7-1.5 4.7-1.5 28-1.5-27.9-1.5 3.2-1.4-9.8-1.5 9.7-1.5-0.5-1.5-0.8-1.5 5.2z" fill="#6a0a90" stroke="#6a0a90" stroke-width="1.6"/>
<path d="M802.0 825.0 825.0 805.0" stroke="#6a0a90"/>
<path d="M1000.0 852.9l1.5 5.6 1.5-1 1.5 3.4 1.5-15.8 1.5 9.8 1.5 1.6 1.5 2.3 1.5-14 1.5 10.7 1.5-11.3 1.5 16.3 1.5 0.3 1.5-2.7 1.5-3.8 1.5 0.3 1.5-9.8 1.5 9.9 1.5 1.9 1.5 4.5 1.5-7.6 1.5 1.6 1.5 5.5 1.5-12.1 1.5 8.7 1.5 5.3 1.5-0.5 1.5-36.5 1.5 22.3 1.5 18.2 1.5-0.9 1.5-8.5 1.4-2.1 1.5-0.3 1.5-1.1 1.5 4.9 1.5 1.2 1.5-0.7 1.5-9.1 1.5 3.9 1.5 2.8 1.5-6.7 1.5 9.5 1.5 10.1 1.5-0.1 1.5-9.9 1.5 5.9 1.5-1 1.5-0.3 1.5-0.6 1.5 6.9 1.5-7.7 1.5-8.9 1.5 9.7 1.5-6.3 1.5-11 1.5 3.3 1.5 4.8 1.5 9.5 1.5-16.5 1.5 14.2 1.5-0.3 1.5 0.2 1.5-0.7 1.5 0.9 1.5-3.6 1.5 1.7 1.5-4.6 1.5-2.8 1.5 6.2 1.5-0 1.5-15.1 1.5 13.1 1.5-3.9 1.5-1.3 1.5 1.3 1.5-3.4 1.5-31.1 1.5 18.3 1.5 6.3 1.5-3.9 1.5 5 1.5 2.5 1.5 2.4 1.5-13.1 1.5 8 1.5-0 1.5-11.8 1.5 11 1.5-4.9 1.5-2.5 1.5 3.3 1.5-0.3 1.5 1.7 1.5-5.3 1.4 2.1 1.5-18.9 1.5 17.3 1.5-14.8 1.5 15.1 1.5-14.2 1.5 10.5 1.5-7.1 1.5 4.8 1.5-3 1.5 2.4 1.5-7.9 1.5 8.8 1.5-1.7 1.5-0.6 1.5 5.5 1.5-4.8 1.5-0.8 1.5-1.3 1.5-11.2 1.5 9.1 1.5-1.9 1.5-2.4 1.5 2.5 1.5-0.6 1.5 3 1.5 0.3 1.5 0.4 1.5-2.6 1.5-0.5 1.5-4.1 1.5 0.1 1.5 0.9 1.5-1.3 1.5-1 1.5-18.1 1.5 20.3 1.5-0.1 1.5-0.9 1.5-6.8 1.5-0.8 1.5 7.7 1.5-1.5 1.5-2.7 1.5 0.6 1.5 0.9 1.5-1 1.5-0.5 1.5-5.5 1.5 5.7 1.5-7.4 1.5-0.1 1.5-11 1.5 10.4 1.5 1 1.5 0.8 1.5-10.1 1.5 7.4 1.5 0.7 1.5-0.2 1.5-7.6 1.5 4.1 1.5-0.9 1.4-10.7 1.5 8.1 1.5-6.7 1.5 4.9 1.5 0.6 1.5-10.2 1.5 6.1 1.5-0 1.5 0.1 1.5-4.1 1.5 0.1 1.5 0.6 1.5-12.1 1.5 10 1.5-0.9 1.5-8.3 1.5 5.8 1.5-1.1 1.5 0.9 1.5-1.9 1.5-0.5 1.5-1.5 1.5-6.9 1.5 1.7 1.5 5.5 1.5-10 1.5 4.5 1.5 2.1 1.5-0.1 1.5-0.7 1.5 0 1.5-1.8 1.5-6.1 1.5 0.5 1.5-1.7 1.5-11.7 1.5 10.4 1.5 2.1 1.5 1.2 1.5-8.3 1.5 2.9 1.5-0.4 1.5-3.3 1.5 1.2 1.5-3.3 1.5-4.3 1.5 3.5 1.5-3.1 1.5-6.1 1.5 2.7 1.5 2.5 1.5-3.3 1.5 3.2 1.5-6.9 1.5-2.2 1.5-5.8 1.5-2.7 1.5-3.3 1.5 7.6 1.5-3.1 1.5-5.4 1.5 5.8 1.5 1.5 1.4 0.7 1.5 1 1.5-3.2 1.5-7.5 1.5 8.9 1.5-4.6 1.5 0 1.5-9.2 1.5 8.4 1.5 2.4 1.5-1.2 1.5-1.2 1.5-6.7 1.5 8.1 1.5-6.7 1.5 5.5 1.5 1 1.5-1.1 1.5-1.1 1.5-7.1 1.5 9.8 1.5 1.6 1.5-5.2 1.5-3.2 1.5 4.2 1.5-8.5 1.5 4.9 1.5-0.4 1.5 4.6 1.5-9.4 1.5 9.7 1.5-5.3 1.5 3.1 1.5-22.9 1.5 23.7 1.5-0.1 1.5-2 1.5-1.6 1.5-1 1.5 1.6 1.5 0.3 1.5-7.1 1.5 6.2 1.5-6 1.5 8.2 1.5-7.7 1.5 9.5 1.5-7.6 1.5 3.8 1.5-3.9 1.5 4.1 1.5 1.5 1.5-5.4 1.5 2.3 1.5 0.9 1.5-2.4 1.5-2.8 1.5 3 1.5-2.7 1.5 2.9 1.5-14.4 1.5 10.2 1.5 2.5 1.4-0.6 1.5 0.9 1.5-5.2 1.5-5.1 1.5-1 1.5 8.8 1.5-0.8 1.5-1.2 1.5-3.3 1.5 6 1.5 2.4 1.5 0.1 1.5-0.6 1.5 1 1.5-1.3 1.5-7.8 1.5 10.8 1.5 1.4 1.5 0.8 1.5-3.1 1.5 2.4 1.5-2.1 1.5-3.4 1.5 2.1 1.5-4.4 1.5 5.6 1.5-1.6 1.5-1.2 1.5 1 1.5 0.4 1.5-3.5 1.5 1.1 0 14.5-1.5 1.6-1.5-1.2-1.5-0.8-1.5 4.5-1.5 3.2-1.5 0.6-1.5-2.5-1.5-3.6-1.5-5-1.5 1-1.5 1.4-1.5 0.8-1.5 2.4-1.5-0.9-1.5 1.6-1.5 3.5-1.5-4.2-1.5-1.3-1.5-0.4-1.5 1.8-1.5 2.7-1.5 2-1.5 8.1-1.5-4.9-1.5-7.2-1.5 5.1-1.5-1.9-1.5 5.8-1.5-12-1.5 8.2-1.5-7.2-1.4 1.2-1.5-0.4-1.5-3-1.5 4-1.5-2.1-1.5 1.8-1.5 0.6-1.5-0.6-1.5-1.1-1.5 3.7-1.5-4.1-1.5 2-1.5 3.2-1.5 5.6-1.5-9.6-1.5 3-1.5 9.5-1.5-7.6-1.5 6-1.5-1.7-1.5 4.5-1.5-9.1-1.5 3.2-1.5-1.1-1.5 5.6-1.5-7.6-1.5 3.2-1.5 9.9-1.5-12.7-1.5 6-1.5-5.3-1.5 0.9-1.5 0.6-1.5-0-1.5 18.8-1.5-16.2-1.5-1.7-1.5-1.1-1.5 3.8-1.5-0.8-1.5 3.2-1.5-1-1.5-3.8-1.5 6.6-1.5-2.6-1.5 2-1.5 2.1-1.5-6-1.5-1.1-1.5 10.1-1.5-3.5-1.5-2.8-1.5 4.7-1.5-3.1-1.5 8.4-1.5-9.1-1.5 3.5-1.5 0.9-1.5-0.9-1.5-2.2-1.5-0.4-1.5-0.5-1.5 8.5-1.4-10.1-1.5 0.3-1.5 0.7-1.5 9.1-1.5-6.5-1.5 1.7-1.5 3.6-1.5-2.8-1.5 6.8-1.5-1-1.5 9.7-1.5-8.3-1.5 7.6-1.5-0.5-1.5 20.2-1.5-24.9-1.5 2.6-1.5 1.9-1.5 0.3-1.5 0.7-1.5 3-1.5-0.8-1.5-0.8-1.5 12.1-1.5-6-1.5 4.3-1.5 1.8-1.5 1.9-1.5-0.8-1.5-0.7-1.5 0.6-1.5 6.6-1.5 0.4-1.5-2.8-1.5 1.1-1.5-0.6-1.5 9.9-1.5-8.1-1.5 5.7-1.5-5-1.5 3.8-1.5 8.4-1.5-10.7-1.5 0.7-1.5 10.6-1.5-8.6-1.5 3.8-1.5-3.8-1.5 4.4-1.5 3.2-1.5-2-1.5 2-1.5-0.8-1.5 0.8-1.5 0.8-1.5 0.2-1.5-2.5-1.5 0.2-1.5 16.9-1.5-11.2-1.5 3-1.5-1.6-1.5 3.3-1.4 1.4-1.5 3.5-1.5-5.1-1.5-1.4-1.5 0.6-1.5 6-1.5 0.3-1.5-1-1.5 0.1-1.5 18-1.5-11.2-1.5 6.3-1.5-1-1.5-3.6-1.5-3.5-1.5 1.6-1.5-0.1-1.5-2.6-1.5 13.6-1.5-10.1-1.5 2.5-1.5-2-1.5-2.1-1.5 1.7-1.5 1.1-1.5 1-1.5-0.8-1.5 1.3-1.5-1.7-1.5 8.5-1.5-5.4-1.5 6.7-1.5 1.9-1.5-2-1.5 6.5-1.5-5-1.5 4.5-1.5-4.2-1.5-3.6-1.5 2.3-1.5-2.1-1.5 14.7-1.5-10.7-1.5 2.6-1.5-3.4-1.5 1.4-1.5 4.5-1.5 4.4-1.5-4.3-1.5 9.6-1.5-7.1-1.5 1.8-1.5 10.1-1.5-10.2-1.5 3.1-1.5-0.2-1.5-2.3-1.5 5.6-1.5-3.1-1.5 8.1-1.5 8.5-1.5-4.5-1.5 0.7-1.4-3.8-1.5-1.8-1.5 0.3-1.5 5.5-1.5-8.7-1.5 0.5-1.5 3.6-1.5-0.2-1.5 5.5-1.5-4.5-1.5-2.8-1.5 4.7-1.5 9.7-1.5-7.7-1.5-7.6-1.5 1.1-1.5 16.5-1.5-13.2-1.5 4.7-1.5 5.1-1.5 0.5-1.5-0.2-1.5 14.6-1.5-4.6-1.5-2.3-1.5 1.6-1.5-1.5-1.5-0.1-1.5-1.5-1.5-2.2-1.5 10.7-1.5 4.2-1.5-12.3-1.5-5.7-1.5 5-1.5 12.6-1.5-9.1-1.5-3.6-1.5 9.4-1.5-6.9-1.5 4.3-1.5-4-1.5 16.9-1.5-14.2-1.5 17.9-1.5-9.8-1.5-2.1-1.5 6.5-1.5-14-1.5 7.4-1.5-4.3-1.5-1.7-1.5 25.9-1.5-18.4-1.5-2-1.5 26.7-1.5-22.9-1.5 3.2-1.5-5.5-1.5-1.4-1.5-1.6-1.5 16-1.5-16.5-1.4-5.3-1.5 2.8-1.5 1.4-1.5-3.5-1.5-0.4-1.5 1.2-1.5 1.6-1.5-2.2-1.5 12.1-1.5 5.6-1.5-21.9-1.5 3.6-1.5 8.5-1.5-1.7-1.5-1.1-1.5 4.9-1.5 3.1-1.5-6.7-1.5-1.2-1.5 2.9-1.5 8.5-1.5 6.3-1.5-24.6-1.5 5.7-1.5 3.4-1.5 3.6-1.5-7.9-1.5 6.9-1.5 18.2-1.5-20.7-1.5 4-1.5-26.6zM1510.0 810.6l1.5-6.3 1.5-20.5 1.5 28 1.5 2.9 1.5 12.3 1.5-5.8 1.5 7.7 1.5-11.1 1.5-9.3 1.5 9 1.5 17.3 1.5-9.2 1.5-6.3 1.5 2.8 1.5-4.8 1.5 0.1 1.5-0.5 1.5-6.3 1.5 5.2 1.5 4.7 1.5-2.1 1.5-7.6 1.5-9 1.5 31 1.5-10.4 1.5-25.5 1.5 6 1.5-13.8 1.5 31.2 1.5 9.4 1.5-17.2 1.5-30.1 1.5 44.5 1.5-7.7 1.5-27 1.5 24.4 1.5 9.5 1.5-8.8 0 83.6-1.5-35.2-1.5 11.5-1.5-16.8-1.5 3.9-1.5 0.3-1.5-4.1-1.5 4.5-1.5 5.6-1.5 11.9-1.5 13.7-1.5-36.8-1.5-0.1-1.5 8.6-1.5 3.4-1.5-6.8-1.5-11.1-1.5 1.9-1.5 16.4-1.5-5.7-1.5-3.1-1.5-1.9-1.5 3.7-1.5 11.7-1.5-17.1-1.5-2.9-1.5 14.6-1.5-24.1-1.5 35.2-1.5-24.1-1.5 13-1.5 5.5-1.5 6.8-1.5-23.1-1.5 24.2-1.5-19.3-1.5 3.7-1.5-12.9-1.5 22.6z" fill="#d8f8ee" stroke="#d8f8ee" stroke-width="1.6"/>
<path d="M1045.0 1012.6l1.5-0.9 1.5-4.5 1.5 2.8 1.5-8.6 1.5 12.8 1.5-11.9 1.5 14.6 1.5-14.1 1.5 7.4 1.5-6 1.5 1.2 1.5 1.8 1.5-11.8 1.5-1.3 1.5-1.3 1.5-15.7 1.5-5.1 1.5 6.1 1.5-3.7 1.5-1.6 1.5-0.6 1.5-9.5 1.5-8 1.5 8.9 1.5-1.6 1.5-3.7 1.5-6.4 1.5 8.3 1.5-7.1 1.5-14.7 1.5 14.6 1.5-2 1.5-6.3 1.5 0.2 1.5 3.7 1.5-2.5 1.5-0.8 1.5 0.9 0 18.2-1.5 0.9-1.5 2.8-1.5-2.4-1.5 9.7-1.5 5.1-1.5 4.2-1.5-7.4-1.5 9-1.5-9.1-1.5 0.1-1.5 5.7-1.5 2.5-1.5 16.2-1.5 0.5-1.5-10.3-1.5 8.7-1.5-1.7-1.5 0.5-1.5 13.6-1.5-1.4-1.5-6.1-1.5 12.3-1.5-2.6-1.5 43.9-1.5-31.7-1.5 12.6-1.5-6.8-1.5 19.4-1.5-7.7-1.5-12.4-1.5 11.4-1.5-3.1-1.5-1.9-1.5-1.3-1.5 2.3-1.5-3.6-1.5 30.9-1.5-17.4zM1122.0 914.9l1.5-1.6 1.5-12.4 1.5 1.5 1.5 6.7 1.5-11.8 1.5 9.1 1.5-2.6 1.5 1.5 1.5-18.3 1.5 14.6 1.5-8.6 1.5 3.1 1.5-13 1.5 13.3 1.6-4.9 1.5 0.8 1.5 0.4 1.5-0.7 1.5 1 1.5-5 1.5 0.2 1.5-5.4 1.5 1.3 1.5-0.6 1.5-1.3 1.5-5.7 1.5 0.9 1.5 0 1.5 5.7 1.5 1.5 1.5-5.5 1.5-7.4 1.5 8.2 1.5-5.1 1.5 3.7 1.5-2 1.5 2.5 1.5-1.7 1.5-0.7 1.5 1.7 1.5-3.2 1.5 3.4 1.5-5.1 1.6 1.1 1.5 0.7 1.5-0.6 1.5-1.2 1.5-0.2 1.5-2.3 1.5 1.5 1.5-9.5 1.5 8.9 1.5-7.7 1.5 7.9 1.5-7.8 1.5 7.5 1.5 2.1 1.5-0.4 1.5-1.2 1.5 1.9 1.5-0.3 1.5 1 1.5-10.8 1.5 7.8 1.5 12.2 1.5-0.3 1.5-0.3 1.5-4.1 1.5 8.3 1.5-0 1.5 9.2 1.5-3.3 1.6 3.9 1.5-1.7 1.5 3.2 1.5-0.8 1.5 0.2 1.5-6.4 1.5 7.1 1.5-0.1 1.5 1.8 1.5-1.3 1.5 0.3 1.5-1.3 1.5 3.9 1.5-3.6 1.5 5.9 1.5-3.3 1.5-3.9 1.5 6 1.5-3.9 1.5 1.4 1.5-1.3 1.5 1.1 1.5 0.5 1.5 2 1.5 2.1 1.5-13 1.5 10.3 1.5 7.2 1.5-13.7 1.6 11.5 1.5 1 1.5 0.6 1.5 0.4 1.5 3.4 1.5-2.6 1.5 3.4 1.5-0.6 1.5 1.1 1.5-6.6 1.5 10.9 1.5-5 1.5 0.1 1.5 0.9 1.5 2.5 1.5 0 1.5-2.7 1.5-14.5 1.5 18.5 1.5-2.3 1.5 1.2 1.5-11.6 1.5 9.5 1.5 3.7 1.5-0.4 1.5-9.9 1.5 10.1 1.5-1.4 1.5-1.6 1.6-2 1.5-0.4 1.5-3.1 1.5-0.7 1.5 4.5 1.5-3 1.5-1.9 1.5-12.7 1.5 9.3 1.5 0.9 1.5-2.9 1.5 3.5 1.5 0.3 1.5 3.8 1.5-10.1 0 25.5-1.5 19-1.5-25.4-1.5 9.3-1.5 2.9-1.5 4.4-1.5-10.5-1.5 1-1.5 0.4-1.5-0.6-1.5 4.9-1.5-6.4-1.5 1.2-1.5-0.1-1.5 1.9-1.6 1.7-1.5 0.3-1.5-2-1.5 12.9-1.5-13.4-1.5 1.7-1.5 0.6-1.5 1.3-1.5-4.9-1.5 14.5-1.5-14-1.5 2.4-1.5-5.7-1.5 4.8-1.5-2.6-1.5 1.9-1.5-2-1.5-0.2-1.5-1.5-1.5 24.2-1.5-13.2-1.5-5.6-1.5-6.3-1.5 0.6-1.5 3.4-1.5 3-1.5-2.5-1.5 24.4-1.5-26.2-1.6 10.6-1.5-3.3-1.5-6.3-1.5-0.1-1.5-5.3-1.5-1.6-1.5 6.4-1.5-3-1.5-10.6-1.5 1.7-1.5 3-1.5 18.1-1.5-21-1.5 0.5-1.5 7.9-1.5-8.5-1.5 3.4-1.5-4.8-1.5 4.8-1.5-6.9-1.5 2-1.5-1-1.5-3.7-1.5 2.3-1.5-1.4-1.5-4.6-1.5 0.3-1.5 2.7-1.5 3.6-1.6-4.1-1.5-0.3-1.5 5.7-1.5-14.6-1.5 1.4-1.5-2.2-1.5-3.6-1.5 2.2-1.5-3.5-1.5-5.1-1.5-1.3-1.5 4.7-1.5-4.2-1.5 4.7-1.5-8.3-1.5 6.3-1.5-2.4-1.5 4.5-1.5-9.2-1.5 1.4-1.5 0.4-1.5 0.6-1.5 3.5-1.5-0.3-1.5 2.9-1.5-0.5-1.5-6.3-1.5 1.6-1.5 8.6-1.6-5.6-1.5 5.5-1.5-3.1-1.5 4.3-1.5 7-1.5-11.1-1.5 0.6-1.5 1.1-1.5 3.6-1.5 2.4-1.5-9.1-1.5 1.3-1.5 16.1-1.5-10.7-1.5 3.3-1.5 3.6-1.5-0.5-1.5 5.6-1.5-3.3-1.5-0.2-1.5 1.2-1.5 2.1-1.5-3.2-1.5 8.8-1.5-4.1-1.5-1.1-1.5 1.2-1.5 1.8-1.5 4.3-1.6-1.2-1.5 7.5-1.5-5-1.5-1.1-1.5 5.3-1.5 1.2-1.5 1.5-1.5-1.6-1.5 9.2-1.5 0.9-1.5-7.4-1.5-1.2-1.5 25.7-1.5-16.3-1.5-2.1z" fill="#3c1e38" stroke="#3c1e38" stroke-width="1.6"/>
<path d="M1060.0 971.4l1.5-0.7 1.5 1.4 1.4 2.8 1.5-25.4 1.5 23.2 1.5 0.9 1.5-1.6 1.5-0.4 1.4 1.3 1.5-4.1 1.5 3.8 1.5-15.6 1.5 11.8 1.4 0.1 1.5-4 1.5 4.8 1.5-4.9 1.5 2.4 1.4-7.4 1.5-18.8 1.5 22.9 1.5-9.3 1.5 7.2 1.5-10 1.4 2.7 1.5-0.6 1.5-8.3 0 26.1-1.5 11.4-1.5 5.3-1.4-10.1-1.5 2.5-1.5 4-1.5-1.2-1.5 12.6-1.5-10.6-1.4 5-1.5 10-1.5-6-1.5-3.3-1.5 2.6-1.4 7.8-1.5-5.6-1.5 14.8-1.5-4.5-1.5-10.2-1.4 0.5-1.5 4.3-1.5-3.4-1.5-1-1.5-6.9-1.5 10-1.4-12.4-1.5-2.4-1.5 8.5zM1152.0 857.1l1.5 0.3 1.5-9.9 1.5 3.6 1.5-6.3 1.5 5.2 1.5-4.8 1.5-1.9 1.5 2.8 1.5 2 1.5-3.5 1.5-0.2 1.6 2.5 1.5-0.4 1.5-5.2 1.5-15.6 1.5 12.6 1.5-0.3 1.5 1.5 1.5 3.2 1.5-6.9 1.5 3.1 1.5-5.6 1.5-13.7 1.5 11.7 1.5-4.2 1.5-7.2 1.5 8.5 1.5-3.3 1.5-15.4 1.5 9.9 1.5-19.9 1.5 22 1.5-8.4 1.6 2.4 1.5 6.1 1.5-1.5 1.5-9.9 1.5-10.2 1.5 10.3 1.5 12.1 1.5-1.5 1.5 3.3 1.5-17.9 1.5 17.3 1.5-6.5 1.5-10.2 1.5 9.9 1.5-5.3 1.5 7.9 1.5-18.1 1.5-1 1.5 26.5 1.5-4.1 1.5-19.7 1.5-1.3 1.5 11.3 1.6-13 1.5-0.9 1.5 5.2 1.5 2.3 1.5 15.9 1.5-0.1 1.5 5 1.5-1 1.5-13.1 1.5-6.3 1.5 22.9 1.5-3.1 1.5-1.7 1.5-4.7 1.5-47.6 1.5 0.4 1.5 31.1 1.5 15 1.5-4.1 1.5-5.8 1.5-12.5 1.5 10.6 1.5 4.6 1.6-5.1 1.5 4.9 1.5-10 1.5 6.7 1.5-3.3 1.5 1 1.5-3.7 1.5 6.2 1.5 2.2 1.5-2 1.5-2.5 1.5 3.1 1.5-4.1 1.5-31.6 1.5 34.5 1.5 1.3 1.5 3.3 1.5 3.5 1.5-7.6 1.5 1.9 1.5 0.2 1.5-4.5 1.6-20.8 1.5 26.8 1.5-3.1 1.5 8.8 1.5-0.2 1.5-11.6 1.5 10 1.5-14.3 1.5 15.8 1.5-0.6 1.5-0.5 1.5-15.6 0 47.5-1.5 6.5-1.5-2.3-1.5 2.7-1.5-0.6-1.5 18.1-1.5-18.3-1.5 20.8-1.5-16.6-1.5 14.3-1.5-15.2-1.5 11.5-1.6-18.7-1.5 12.3-1.5-8-1.5-4.3-1.5-4.5-1.5 9.1-1.5-11.3-1.5-1.2-1.5 16-1.5-13.4-1.5 0.9-1.5-1.4-1.5-4.8-1.5 29.1-1.5-18.9-1.5-5.3-1.5-4.1-1.5 2.8-1.5 18.3-1.5-16.9-1.5 4.8-1.5-13.7-1.6 9.5-1.5 7.2-1.5-5-1.5 3.6-1.5 3.4-1.5-5.8-1.5 5.1-1.5-6.3-1.5-4-1.5 3.6-1.5 11.6-1.5-15.9-1.5 4.3-1.5 3.8-1.5-3-1.5-3.9-1.5 16-1.5-20.5-1.5 5.8-1.5 4-1.5 16.4-1.5 0-1.5-13.5-1.6 0.1-1.5 13.1-1.5-22.5-1.5 2.4-1.5 0.2-1.5 20.8-1.5-17.6-1.5-7.7-1.5 18.6-1.5-15.5-1.5 11.4-1.5-15.1-1.5 12.1-1.5-4.6-1.5 8.7-1.5-5.7-1.5-0.2-1.5-5.6-1.5-2.5-1.5 2.6-1.5 20.1-1.5-15.7-1.5 2.7-1.6-1.7-1.5 1.9-1.5 4.6-1.5 1.2-1.5-1.4-1.5 3.3-1.5 1-1.5 2.1-1.5-12.2-1.5-1.6-1.5 3.1-1.5 9-1.5-4.9-1.5 0.8-1.5-1.5-1.5-0.7-1.5 14.9-1.5-2.5-1.5-12.9-1.5 8.4-1.5-3.2-1.5 9.9-1.6-6.4-1.5 0.5-1.5-2.1-1.5 26-1.5-28.7-1.5 12.9-1.5-12.8-1.5 6.6-1.5 1.2-1.5 0.2-1.5 9-1.5-2.7zM1647.0 876.4l1.5-8 1.5 4.2 1.5-0 1.5 2.8 1.5-9.6 1.5 12.8 1.5-24.4 1.5 4.6 1.5 12.4 1.5-0.3 0 52.8-1.5 2.3-1.5-20.9-1.5 0.9-1.5 6.7-1.5-2-1.5 4.5-1.5 0.2-1.5-5.1-1.5 3.5-1.5-7.1zM1750.0 769.5l1.5 5.2 1.5-3 1.5 1.3 1.5 0.1 1.5-1.1 1.5-5.5 1.5 6 1.6-1.2 1.5-2.4 1.5-0.6 1.5-7.6 1.5 5.8 1.5-7.2 1.5 2.6 1.5-3.9 1.5 0.8 1.5 2.2 1.5-2.3 1.5 2 1.5 2.2 1.5 3.4 1.6-3.5 1.5-1.3 1.5-1.5 1.5 2.2 1.5-2.8 1.5-6.2 1.5 8.2 1.5 1.7 1.5-0.2 1.5-19 1.5 16.8 1.5 1.3 1.5-1 1.5-13.5 1.6 9.7 1.5-2.5 1.5 0.3 1.5 7.3 1.5-0.5 1.5 0.4 1.5-1.7 1.5 2.2 1.5-0.6 1.5-3.1 1.5 1.5 1.5-4.4 1.5 4.6 1.5 2.3 1.6-4.7 1.5 4.5 1.5-3.3 1.5 1 1.5 3.4 1.5-2.1 1.5-2.1 1.5 4.3 1.5-0.6 1.5-0.6 1.5-1.7 1.5 4.1 1.5 0 1.5-1.6 1.6 2.6 1.5-1.2 1.5-0.3 1.5 2.3 1.5-0.8 1.5 0.8 1.5-2.5 1.5 2.9 0 8.7-1.5 1.1-1.5-3.3-1.5 2.6-1.5-1.6-1.5-1.6-1.5-1.2-1.5-0.1-1.6-1.2-1.5 1.2-1.5 14.1-1.5-14.3-1.5 0.8-1.5-1.4-1.5-0.5-1.5 6.2-1.5-0.8-1.5 8.6-1.5-15.9-1.5 4.7-1.5-0.1-1.5-3.4-1.6 1-1.5-0.3-1.5-3.5-1.5 1.9-1.5-1.8-1.5 2.4-1.5 3.7-1.5-4.9-1.5 4.6-1.5-4.9-1.5 0.2-1.5 4.9-1.5-2-1.5-0.5-1.6 6-1.5-3.6-1.5-3.4-1.5 2-1.5 4.6-1.5-5.8-1.5 2.1-1.5 7.8-1.5-8.9-1.5-0.8-1.5 4.6-1.5 1.2-1.5-6.7-1.5 2.1-1.6-1.3-1.5-1.4-1.5 8.6-1.5-0.1-1.5-3.9-1.5 0.6-1.5 0.6-1.5-0.9-1.5 2.3-1.5 1.4-1.5 3.8-1.5-3.1-1.5 9.7-1.5-6.9-1.6-0.4-1.5 9.9-1.5-7.5-1.5-1.3-1.5 1.4-1.5 1.6-1.5 0.4-1.5 2.8z" fill="#68b8c4" stroke="#68b8c4" stroke-width="1.6"/>
<path d="M1662.0 880.0 1690.0 830.0" stroke="#68b8c4"/>
<path d="M1217.0 940.9l1.4 6.7 1.5-20.7 1.4 16.2 1.5-15.5 1.4 16 1.5 5 1.4-9.3 1.5-2.9 1.4 0.4 0 52.7-1.4-13.1-1.5 0.2-1.4 2.7-1.5-4.3-1.4 18.6-1.5-13.8-1.4 4.5-1.5-1.3-1.4-10.9zM1300.0 776.7l1.5 2.1 1.5-0.6 1.5-11.2 1.5 7.1 1.5 1.1 1.5 2.9 1.5-4 1.5-8.5 1.5 8.7 1.5-12.8 1.5 6.2 1.5 8.2 1.5-1.8 1.5 1.2 1.6-0.5 1.5-0.8 1.5-2.1 1.5-5.7 1.5 3.9 1.5 1.8 1.5-0.8 1.5 0 1.5-1.3 1.5 0.1 1.5-0.4 1.5-11.2 1.5 7.7 1.5-8 1.5 1.4 1.5 1.7 1.5 6.5 1.5-0.9 1.5 0.2 1.5 1.7 1.5-19.5 1.5 17.3 1.5 0.9 1.5-5 1.5 8.3 1.5 1.7 1.5-0.8 1.5-1.1 1.6-1.9 1.5 2.9 1.5-3.1 1.5-4.6 1.5 8.1 1.5-5.8 1.5-7.1 1.5 0.4 1.5 4.5 1.5 3 1.5 4 1.5-3.1 1.5-6.5 1.5 4.7 1.5 1.1 1.5 3.7 1.5-0.3 1.5-3.9 1.5 2.8 1.5-5.8 1.5 4.6 1.5 3.2 1.5 0 1.5-1 1.5 0.4 1.5-0.1 1.5 2.2 1.5-1.9 1.6-0.5 1.5-1.5 1.5 0.5 1.5 2.5 1.5 0.6 1.5-3.7 1.5 4.5 1.5 0.3 1.5-7.3 1.5 5.6 1.5-1.6 1.5 3.4 1.5 2 1.5-6.3 1.5 3.4 1.5 2.6 1.5 0.2 1.5 0.1 1.5-3.3 1.5 3.5 1.5 1.8 1.5-6.5 1.5 7.7 1.5-1.7 1.5-1.7 1.5-3.3 1.5 4.8 1.5-0 1.6-3.7 1.5-1.4 1.5 0.4 1.5 3.3 1.5-2 1.5 0.4 1.5-3.4 1.5 3.6 1.5-0.4 1.5-15.4 1.5 10.6 1.5 2.7 1.5 1.9 1.5 1.3 1.5-1 1.5-0.9 1.5 0.5 1.5-6.8 1.5 6.4 1.5 1.4 1.5-19.1 1.5 18.3 1.5-0.9 1.5-1.2 1.5 2.5 1.5-1.1 1.5 1.8 1.5-2.8 1.6-5.2 1.5 3.8 1.5 3.9 1.5-1.2 1.5 0.6 1.5-2 1.5-1.7 1.5-2.9 1.5-3 1.5-4.1 1.5 10.2 1.5 3.3 1.5-3.3 1.5 3.8 1.5-1.6 0 17.6-1.5-0.2-1.5 0.8-1.5-1.8-1.5-1-1.5-2.9-1.5-1.7-1.5 7.5-1.5-2.1-1.5 2.7-1.5-1-1.5-1.9-1.5-6.9-1.5 9-1.5 1.5-1.6-10.5-1.5 11-1.5-9.6-1.5-0.1-1.5 1.5-1.5 3.5-1.5-2.7-1.5-2.4-1.5 1.2-1.5 5.8-1.5-4-1.5-2.1-1.5-1.5-1.5 18.3-1.5-16.6-1.5 2.2-1.5-2.5-1.5-1.1-1.5 4.5-1.5 0.5-1.5 4.1-1.5-6.4-1.5-0.6-1.5-0.4-1.5 0.6-1.5-0.3-1.5-1.4-1.5 3.1-1.6-0.6-1.5 3.2-1.5-2.8-1.5 5.5-1.5-2.8-1.5 9.1-1.5-9.3-1.5 1.6-1.5 4.5-1.5-7-1.5-0.2-1.5 0.2-1.5 7.7-1.5-4.9-1.5-1.7-1.5 3.2-1.5-3.1-1.5-0.4-1.5-0.3-1.5-0.7-1.5 7.5-1.5-10.1-1.5 1.4-1.5-1.5-1.5 15.9-1.5-18.4-1.5 7.2-1.5-6.1-1.6-2-1.5 0-1.5-1.6-1.5 3.4-1.5-0.7-1.5 0.7-1.5 5.1-1.5-5.9-1.5 5.1-1.5-4.3-1.5 5.2-1.5-5.3-1.5 5.5-1.5-6.3-1.5 14.3-1.5-12.3-1.5-2.9-1.5 0.3-1.5 0.8-1.5 5-1.5-2.4-1.5 4-1.5-8.5-1.5 9.6-1.5-2.7-1.5-5.6-1.5 1.9-1.5 4.4-1.6 3.5-1.5-7.6-1.5 1.2-1.5-1.7-1.5 1.5-1.5-2.3-1.5 2-1.5-2-1.5 3.6-1.5 0.2-1.5-4.5-1.5 0.6-1.5 2.6-1.5 1.9-1.5-4.7-1.5 1.6-1.5 6.5-1.5-9.8-1.5 2.3-1.5 3.1-1.5 5.4-1.5-12-1.5 5.7-1.5 0.1-1.5-3.1-1.5 3.9-1.5 10.2-1.5-12.3-1.6 7-1.5-6-1.5 6.2-1.5-0.2-1.5 6.1-1.5-7.1-1.5 3.5-1.5-3.3-1.5 2.8-1.5-2.1-1.5 0-1.5 1.9-1.5 4.6-1.5-6.2-1.5 1.8zM1567.0 826.6l1.5-0.7 1.5-17.3 1.5 23.7 1.5-10.5 1.4-0.6 1.5 1.7 1.5-7.7 1.5 9.2 1.5 2 1.5-8.2 1.5 3 1.5 3.9 1.5-0.1 1.5-3.1 1.4 1.7 1.5 4.8 1.5-5.9 1.5-0.9 1.5-3.6 1.5 3.9 1.5 4 1.5 6.8 1.5-4.4 1.4 4.6 1.5-0.7 1.5-2.6 1.5 2.3 1.5-0.3 1.5-4 1.5-5.4 1.5 1.8 1.5 3.4 1.4 2.3 1.5-3.6 1.5-1 1.5 2.1 1.5 1 1.5-29.1 1.5 14.6 1.5 9.4 1.5-5.1 1.5-14.6 1.4-1.7 1.5 25.9 1.5 0.4 1.5 1.8 1.5-6.9 0 43.4-1.5-13-1.5-4.8-1.5 10.3-1.5 5.5-1.4-16.3-1.5-1.2-1.5 7.5-1.5 3.2-1.5 5.3-1.5-11-1.5 8-1.5-4.2-1.5-4.2-1.5-1.9-1.4 1.8-1.5 8.9-1.5-9.3-1.5 2.1-1.5-3.4-1.5 10.2-1.5 1.1-1.5-9.8-1.5-1.3-1.4 3.9-1.5-6-1.5 13.8-1.5 13.6-1.5-28.3-1.5-4.2-1.5 1.9-1.5 14.9-1.5-10-1.4-7.6-1.5 2.4-1.5 7.3-1.5 5.9-1.5-3.6-1.5 1.6-1.5 10.1-1.5 1.8-1.5-13.4-1.5-2.1-1.4 2.9-1.5-0.9-1.5 2-1.5-5-1.5-3.2z" fill="#80f0e0" stroke="#80f0e0" stroke-width="1.6"/>
<path d="M1260.0 941.7l1.5 2.4 1.5-13.5 1.5 4.8 1.5 6.5 1.5-14.7 1.5-7 1.5 14.4 1.5-20.6 1.5 17.2 1.5 22.7 1.5-4.3 1.5 2.3 1.5-20.6 1.5 4.5 1.5 6.6 1.5-12.1 1.5 18 1.5-1.3 1.5-7.3 1.5 7.7 1.5-10.6 1.5-6.2 1.5 5 1.5 9.5 1.5 5.9 1.5-31.3 1.5 3.2 1.5 15.7 1.5-12.9 1.5 8.2 0 39.1-1.5 18.1-1.5-4-1.5-3.1-1.5-3.9-1.5 12.1-1.5-3.6-1.5-5.1-1.5 10.1-1.5 16-1.5-12.2-1.5-18-1.5 7.4-1.5-12.4-1.5 7.3-1.5 7.7-1.5-7.9-1.5 21.4-1.5-18.7-1.5-14.2-1.5 12-1.5 37.5-1.5-39.8-1.5-5.4-1.5 5.8-1.5 6.5-1.5-3.9-1.5 7.7-1.5 2.6-1.5-0.7-1.5 8.6zM1805.0 765.1l1.5-1.1 1.5 2.6 1.5 0.4 1.4-1.7 1.5-7.2 1.5-1.2 1.5 1.8 1.5 0.4 1.5-4.5 1.5 0 1.4 4.5 1.5 2.1 1.5-3.9 1.5-0.9 1.5-9.6 1.5-3.2 1.5 7.8 1.4-4.2 1.5-2.2 1.5 2.4 1.5-0.6 1.5 0.5 1.5-1.3 1.5-0.4 1.4-1 1.5-2 1.5-1.9 1.5-2.1 1.5-5.4 1.5 1.7 1.5 0.9 1.4-1.4 1.5-5.9 1.5 3.9 1.5-7.4 0 16.2-1.5 3.7-1.5 2-1.5-2.8-1.4 0.2-1.5 2.5-1.5 1.1-1.5 1.2-1.5 2.4-1.5-1.7-1.5 2.7-1.4 15.8-1.5-12.1-1.5 9.1-1.5-6.3-1.5 2.4-1.5-1.4-1.5 2.5-1.4 5.1-1.5-4.5-1.5 8.9-1.5-6.5-1.5 5.1-1.5-1.8-1.5 1.2-1.4 2.6-1.5-0.6-1.5 0.3-1.5 1.6-1.5 0.7-1.5 0.9-1.5 2.9-1.4-2-1.5 1.6-1.5 0.9-1.5 10.1z" fill="#80f8b8" stroke="#80f8b8" stroke-width="1.6"/>
<path d="M1750.0 887.0 1750.0 957.0" stroke="#80f8b8"/>
<path d="M1227.0 958.3l1.5-6.3 1.5 1.2 1.5 2.9 1.5-1.2 1.5-5.7 1.5 0.8 1.5-11.1 1.5 3.8 1.5 2.9 1.5-7.1 1.5-36.6 1.5 22.4 1.5 1 1.5 4.5 1.5 17 1.5-8.4 1.5-7.3 1.5 2.9 1.5 0.8 1.5-4.1 1.5 9.4 1.5-48.9 1.5 42.2 1.5-7.8 1.5 5.4 1.5-12.8 1.5 18.2 1.5-9.3 1.4 0.6 1.5 1.5 1.5 1.6 1.5-9.9 1.5 2.5 1.5 5.1 1.5-2.8 1.5-11.5 1.5 3.3 1.5 0.7 1.5-9 1.5 5.4 1.5-6.4 1.5 0.1 1.5 7.2 1.5-25.4 1.5 14.2 1.5 1.7 1.5-1 1.5-2.6 1.5-19.8 1.5 12.6 1.5-17.2 1.5 7 1.5-0.2 1.5-7.4 1.5 5.9 1.5 6 1.5-1.9 1.5-5.1 1.5-4.6 1.5 0.2 1.5-9.3 1.5 3 1.5-8.5 1.5-0.4 1.5 1.9 1.5-0.7 1.5-6.5 1.5 1.9 1.5 1 1.5-14.5 1.5 6.1 1.5-2.9 1.5-11.3 1.5 2.7 1.5-2.9 1.5-8.2 1.5-0.8 1.5 6.3 1.5-3.7 1.5 3.2 1.5-4.9 1.5 4.3 1.5 0 1.5-0.6 1.5-2.5 1.5-2.3 1.4 4.5 1.5-0.3 1.5-1.4 1.5-4.5 1.5 4.8 1.5-1.3 1.5 0.3 1.5-7.4 1.5 4.6 1.5 2.2 1.5 0.2 1.5-5.5 1.5-2.5 1.5 7.7 1.5-23.7 1.5 25.7 1.5-4.6 1.5-0.3 1.5-6.1 1.5 3.1 1.5-3 1.5 0.8 1.5 0.2 1.5-2.5 1.5-6.3 1.5-4 1.5 6.4 1.5 2.9 1.5-0.8 1.5-3.3 1.5 0.7 1.5-1.3 1.5-3 1.5-4.8 1.5 3.4 1.5 1.5 1.5-18.3 1.5 22.5 1.5-12.1 1.5 7.7 1.5-0.6 1.5-8.6 1.5 5 1.5-2.2 1.5 2.6 1.5-1.7 1.5 0.1 1.5-13.7 1.5 6.6 1.5-15.5 1.5 13.3 1.5 4.6 1.5-3.6 1.5-2.7 1.5 4.5 1.5-1 1.5-3 1.5-4 1.4 2 1.5 2.2 1.5-2.3 1.5 1.1 1.5-6.7 1.5 0.7 1.5 0.3 1.5-2.5 1.5 0.3 1.5 2.7 1.5-2.9 1.5-3.5 1.5 3.7 1.5-1.3 1.5-0.4 1.5 0.8 1.5 0.7 1.5-1.1 1.5 0.1 1.5 3.4 1.5-6.9 1.5 5 1.5 0.2 1.5 0.5 1.5-0.9 1.5-0.6 1.5-0.9 1.5-0.7 1.5-0.6 1.5-2 1.5 2 1.5-3.5 1.5 4.1 1.5-11.4 1.5 10.6 1.5-3.9 1.5 5.2 1.5-4.6 1.5 3.7 1.5-11.3 1.5 12.9 1.5 0.8 1.5 1.8 1.5 0.9 1.5 0.9 1.5-0.3 1.5 0.4 1.5 0.8 1.5-4.3 1.5 5.9 1.5 1 1.5-8.3 1.5 6.3 1.5 1.9 1.5-2.8 1.5-3.3 1.5 3.5 1.5 2.7 1.4-0.9 1.5-0.3 1.5 0.8 1.5 0.4 1.5-5.9 1.5 3.4 1.5 1.3 1.5-1 1.5-0.5 1.5 1.2 1.5 0.2 1.5-7.5 1.5 5.4 1.5-0.3 1.5-1 1.5-3.7 1.5 5.8 1.5-3.4 1.5 0.3 1.5-3 1.5 1.9 1.5 0.9 1.5 1.3 1.5-3 1.5 1.1 1.5-4.9 1.5-1.9 1.5 6.1 1.5 0.1 1.5 0 1.5-1.6 1.5-1.8 1.5 1.7 1.5-0.6 1.5-1.1 1.5-3.6 1.5 2.2 1.5-0.8 1.5-4.4 1.5 7.8 1.5-0.6 1.5-2.2 1.5 1.1 1.5-5.8 1.5 4.3 1.5 0.5 1.5-0.3 1.5 2.3 1.5-13.5 1.5 11.6 1.5-3.4 1.5 7.3 1.5 1.8 1.5 1 1.5 0.6 1.5 1.5 1.5 2.3 1.5 1.8 1.4 0.9 1.5-3.4 1.5 1.7 1.5 0.5 1.5-2.4 1.5 7.4 1.5-6.8 1.5 2.8 1.5 1.6 1.5 2 1.5 5.1 1.5-1.4 1.5 0.8 1.5-2.4 1.5 9.1 1.5 3.2 1.5 7.4 1.5-5.8 1.5 3.5 1.5-13.2 1.5 9.6 1.5 2.3 1.5-20.8 1.5 13.9 1.5 14.1 1.5 3 1.5-3.3 1.5 3 1.5 2.4 0 25.9-1.5-13.7-1.5 4-1.5-1.7-1.5 0.1-1.5 23.2-1.5 12.9-1.5-35.1-1.5 5.9-1.5-11-1.5-2.5-1.5-0.3-1.5-0.5-1.5-3.6-1.5-2-1.5-7.6-1.5 0.1-1.5-6.1-1.5-2.1-1.5-2.7-1.5-0.1-1.5-3.8-1.5 3.2-1.5-4.2-1.5-0.7-1.5-2.8-1.5 4.9-1.5-2.7-1.5-4.9-1.4-1.2-1.5 6.6-1.5-4.6-1.5-1.9-1.5-3.5-1.5 9.2-1.5-9.8-1.5 2.5-1.5-4.3-1.5-1.3-1.5-2.8-1.5 6.7-1.5-6.4-1.5 0-1.5 0.1-1.5 1.9-1.5 4.1-1.5-5-1.5-0.5-1.5 0.1-1.5 1.1-1.5-0.1-1.5 2.2-1.5-0.3-1.5 5.7-1.5-4.6-1.5-0.8-1.5 4.7-1.5-1.3-1.5 5-1.5 0.6-1.5-7.2-1.5 5.8-1.5-7.7-1.5 0.1-1.5 5.4-1.5 1.8-1.5-4.4-1.5 1-1.5-0.3-1.5 4.6-1.5-5-1.5 3.2-1.5-4-1.5 7-1.5-3.7-1.5-1-1.5-0.9-1.5 0.8-1.5 1.5-1.5-1.5-1.5 4-1.5-2.4-1.5 6.6-1.5-5.1-1.5 0.6-1.5 7.7-1.5-6.9-1.4 0.4-1.5 6.9-1.5-6.7-1.5 1.1-1.5-0.8-1.5 1.5-1.5-1.3-1.5-0.6-1.5-0.7-1.5-1.9-1.5-1-1.5-1.5-1.5-1.1-1.5 2.7-1.5-4.5-1.5 0.1-1.5-2.6-1.5 5-1.5-7-1.5-1.8-1.5 0.1-1.5 5-1.5-6.1-1.5 8.3-1.5-6.8-1.5 5.2-1.5-3-1.5-1.8-1.5 1.9-1.5 1.3-1.5-0.5-1.5 0.5-1.5 0.2-1.5-2-1.5 2.8-1.5-0.9-1.5-0.9-1.5 3.5-1.5-4.3-1.5 3.1-1.5-2.2-1.5-1.6-1.5 2.7-1.5 1.1-1.5-0.9-1.5 0.7-1.5-0.5-1.5 2.6-1.5 3.6-1.5 3.1-1.5 3.2-1.5-5.7-1.5 3-1.5-0.7-1.5-2.5-1.5 2.6-1.5 8.1-1.5-5-1.4 0.2-1.5 0.5-1.5-0.8-1.5 2-1.5 1.6-1.5 4.7-1.5 0.8-1.5-0.1-1.5-0.7-1.5 0.5-1.5 8.4-1.5-11.1-1.5 2.5-1.5 7.6-1.5 2.7-1.5-2.9-1.5 4.2-1.5-2.1-1.5 5.7-1.5-4.4-1.5 10-1.5-2.2-1.5-5.5-1.5 1-1.5-0-1.5 8.8-1.5-8.4-1.5 1.7-1.5-2.1-1.5 2.5-1.5 5.5-1.5-2.9-1.5-1.4-1.5-0.6-1.5-0.6-1.5 1.9-1.5 1.4-1.5 0.2-1.5-1.1-1.5 3.4-1.5-2-1.5 1.6-1.5 1.1-1.5 2.7-1.5 0.3-1.5 2.9-1.5 5.3-1.5-7.2-1.5 5.2-1.5-4.5-1.5 9.8-1.5-10-1.5 1.6-1.5-1.8-1.5-0.4-1.5 0.5-1.5 6.4-1.5-2.1-1.4 3.4-1.5-2-1.5-0.1-1.5-0.7-1.5-1.5-1.5 5.8-1.5 2.2-1.5-3.9-1.5 4.1-1.5-2.7-1.5 2-1.5 0.9-1.5-1.8-1.5 5.4-1.5 5.5-1.5 3.8-1.5 7.3-1.5 4.2-1.5-3-1.5 8-1.5 9.2-1.5 1.5-1.5-1.8-1.5 0.5-1.5 1.2-1.5 5.4-1.5-0-1.5 6.1-1.5-2-1.5 3.6-1.5 6-1.5-8.4-1.5 6.2-1.5 9.7-1.5 1.6-1.5 2.1-1.5 22.9-1.5-19.3-1.5 29.5-1.5-18-1.5-2.4-1.5 0.3-1.5 3.7-1.5-1.5-1.5-0.9-1.5-3.8-1.5 5.1-1.5 1.5-1.5 3.4-1.5 4.4-1.5 21.1-1.5-26.1-1.5 6.8-1.5 0.1-1.5-7.2-1.5 1.2-1.5 5-1.5 1.4-1.4 22.7-1.5-15.1-1.5 3.9-1.5 26.6-1.5-20.8-1.5 1.2-1.5 2.5-1.5-4.2-1.5-3.8-1.5 15.9-1.5-11.7-1.5-3.6-1.5 9.6-1.5-3.8-1.5-5.5-1.5 10.4-1.5-7.8-1.5 13.1-1.5 4.1-1.5 15.7-1.5-15.7-1.5-1.2-1.5 50.1-1.5-25.7-1.5 7.2-1.5-30.7-1.5 31.4-1.5-12.2-1.5 6.8zM1682.0 831.8l1.5-11.8 1.5 24.3 1.5-2.2 1.5-21.9 1.5 24.8 1.5-26.1 1.5 41 1.5-27.6 1.5 22.3 1.5-12.2 1.5-2.3 1.5-23.9 0 84.5-1.5 11.9-1.5-8.7-1.5-0.7-1.5 0.1-1.5-4.2-1.5 40.3-1.5-5.7-1.5-0.6-1.5-15.7-1.5-23.2-1.5 24.8-1.5-20.1z" fill="#d82878" stroke="#d82878" stroke-width="1.6"/>
<path d="M1660.0 850.0 1682.0 890.0" stroke="#d82878"/>
<path d="M1347.0 813.5l1.5 5.9 1.5-15 1.5 11.9 1.5-1.2 1.5 2.9 1.5-2.7 1.5 4 1.5 4 1.5-8.6 1.5 0.6 1.5-0.2 1.5-9.3 1.5 16 1.5-2.5 1.5-3.9 1.5 3.8 1.5-38.9 1.5 30.2 1.5-2.7 1.5 1.9 1.4-9.9 1.5-11.2 1.5 10.8 1.5-3.6 1.5-3.3 1.5 2.4 1.5-4.8 1.5-0.4 1.5-13.6 1.5 10.1 1.5 0.4 1.5-2.7 1.5 1 1.5-8.1 1.5-5.8 1.5 4.5 1.5 2.7 1.5-0.6 1.5-23.7 1.5 13.2 1.5 7.6 1.5 1.8 1.5-1.3 1.5-0.3 1.5-1 1.5-3.3 1.5-4.8 1.5 4.8 1.5-2.4 1.5-1.4 1.5-3.7 1.5 4.6 1.5-1.7 1.5 1 1.5-4 1.5 2.9 1.5-2.9 1.5-8.1 1.5-5.5 1.5-10.6 1.5 18.6 1.5-1.3 1.4 0.9 1.5-5.8 1.5 4.8 1.5-4.6 1.5-1.8 1.5 5.7 1.5 1.9 1.5-1.6 1.5-2 1.5-3.6 1.5-4.1 1.5 8.9 1.5-5.2 1.5 4.7 1.5 0.7 1.5-2.3 1.5-9.3 1.5 3.7 1.5 1.7 1.5-4.3 1.5 4.1 1.5 0.7 1.5 0.3 1.5 0.6 1.5-0.8 1.5 0.9 1.5-2.9 1.5 1.1 1.5-3.7 1.5 3.2 1.5 1.6 1.5-3.2 1.5 3.6 1.5 3.3 1.5-1.4 1.5-0.5 1.5-0.4 1.5 1.2 1.5 1.7 1.5 0.2 1.5-2.2 1.5 4.6 1.4-1.5 1.5-3.1 1.5 5.5 1.5-3.2 1.5 4 1.5 1.3 1.5-0.7 1.5-2.5 1.5 4.2 1.5-0.9 1.5 0.1 1.5-0.4 1.5-6.5 1.5 1.7 1.5 4.6 1.5 2.5 1.5-1.5 1.5 0.3 1.5-0.7 1.5-0.9 1.5 2.8 1.5-1.7 1.5-1.1 1.5-0.4 1.5-3.4 1.5 2.3 1.5 0.3 1.5-0.1 1.5-4.6 1.5 3.2 1.5-3.4 1.5 6 1.5-0.8 1.5-5.1 1.5 7.4 1.5-2.8 1.5-0.6 1.5 0.3 1.5-2.6 1.5 5 1.5-1.3 1.5-3.1 1.4 0.1 1.5 0.6 1.5-1.6 1.5-5.2 1.5 7.1 1.5 0 1.5-4.8 1.5 5.1 1.5-0.5 1.5-6.4 1.5 4 1.5 0.3 1.5-5.1 1.5-2.2 1.5-0.2 1.5-2.7 1.5 6 1.5 0.8 1.5 0.8 1.5-2.2 1.5 1.9 1.5-8.3 1.5-3.3 1.5 10.1 1.5-2.4 1.5 2 1.5 1.7 1.5-4.5 1.5-0.4 1.5 0.8 1.5-3 1.5 4.9 1.5-7.8 1.5 5 1.5 0.1 1.5 0.7 1.5 0.2 1.5-2.6 1.5 2.7 1.5-7 1.5 5.8 1.5 0.4 1.4 2.7 1.5-0 1.5 1.2 1.5-6.9 1.5-1.8 1.5 6.6 1.5-3.5 1.5 2.1 1.5 4.7 1.5 1.4 1.5-0.7 1.5 3.1 1.5-1.1 1.5 0.7 1.5-4.5 1.5 4.4 1.5-6.8 1.5 0 1.5 5.1 1.5-0.8 1.5-0.6 0 14.2-1.5-0-1.5 3.6-1.5-2.4-1.5 3-1.5-2.7-1.5 4.3-1.5-6-1.5 1.6-1.5 6.9-1.5-8.4-1.5-4.4-1.5 2.1-1.5 2.9-1.5 3.2-1.5-5-1.5-4-1.5 4-1.5-2.5-1.5 9.3-1.5-8.5-1.4 0.9-1.5 2.5-1.5-4.3-1.5 2.5-1.5-2.9-1.5 2-1.5-0.8-1.5 2.1-1.5-4.7-1.5 6.9-1.5-6.5-1.5-1.2-1.5 0.4-1.5 6.1-1.5-4-1.5-0.3-1.5-2-1.5 16.6-1.5-13-1.5 3.9-1.5-2.4-1.5 1.7-1.5 0.1-1.5-0.9-1.5-0.4-1.5-0-1.5 1.5-1.5 8.9-1.5-10.8-1.5 11.5-1.5-8.7-1.5-6.7-1.5 4.2-1.5-0.3-1.5 14.1-1.5-14.6-1.5 2.7-1.5 0.4-1.5 0.5-1.5 3-1.5-1.1-1.5-2.8-1.4-0.4-1.5 0.3-1.5 0.4-1.5-0.8-1.5-1.4-1.5 1.2-1.5 0.2-1.5-1.2-1.5 2.4-1.5 0.7-1.5 1.9-1.5-1.7-1.5-1.4-1.5 0.9-1.5 1.7-1.5-0.7-1.5 3.7-1.5-6.4-1.5 8.3-1.5-6.3-1.5 0.8-1.5-2.1-1.5 1.8-1.5 2.6-1.5-4.5-1.5-0.4-1.5 0.6-1.5 1-1.5-0.6-1.5 0.4-1.5 0.4-1.5-1.1-1.5 1.1-1.5 3.7-1.5 0.6-1.5-2.7-1.5-0.5-1.5 0.6-1.5-1.7-1.5-0.6-1.5 1-1.5 4-1.4-7.5-1.5 1.5-1.5 0.7-1.5-0.2-1.5-1.7-1.5 2.3-1.5 11.1-1.5-15.4-1.5-2.4-1.5 3.9-1.5-4.9-1.5 0-1.5 1-1.5-3.4-1.5 5.2-1.5-3.4-1.5 1-1.5 7-1.5-6.6-1.5 0.7-1.5 1.7-1.5-1.5-1.5 0.2-1.5 1.2-1.5-1.1-1.5-2.1-1.5 3.2-1.5 0.6-1.5-1.9-1.5 5.9-1.5-5.1-1.5 5.8-1.5-4.3-1.5-0.4-1.5-0.5-1.5-0.8-1.5 3.6-1.5 20.5-1.5-12-1.5-5-1.5-0.8-1.5-0.1-1.4 1.8-1.5-1.9-1.5 2.4-1.5-1.2-1.5 2.2-1.5 2.9-1.5 3.1-1.5-1.8-1.5-1-1.5 10.6-1.5 2.6-1.5-7.3-1.5 13.2-1.5-8.3-1.5 13.2-1.5-12.9-1.5 7.6-1.5-5.8-1.5 3.3-1.5 2.7-1.5-6.2-1.5 2.3-1.5-1.5-1.5 11.4-1.5-3.1-1.5-4.1-1.5-1.9-1.5 2.9-1.5 1-1.5-0.9-1.5 1.5-1.5 4-1.5 1.5-1.5-5-1.5 3.5-1.5 1-1.5 10-1.5-3.3-1.5 11.7-1.5-9.9-1.5 3.8-1.5 5.3-1.4 7.3-1.5 5.9-1.5 8.1-1.5 9.4-1.5 5.9-1.5-13.2-1.5 22.2-1.5-15.4-1.5-1-1.5-1.5-1.5 0.9-1.5 4.1-1.5-8.5-1.5 10.1-1.5 22.4-1.5-22.1-1.5-11.9-1.5 8.8-1.5-13.4-1.5 4.3-1.5 13.4zM1690.0 767.0l1.5-11 1.5 16.6 1.5-21.1 1.5 19 1.5-4.7 1.5-0.5 1.5 0.9 1.5 3.8 1.5-0 1.5-6.2 1.5 7.5 1.6-4.5 1.5-2.2 1.5 0.5 1.5 0.9 1.5-7.8 1.5 6.6 1.5 1.9 1.5-0.2 1.5-8.6 1.5 13.4 1.5-5.6 1.5-14.4 1.5 15.9 1.5-7.6 1.5 7.3 1.5-2.4 1.5 7 1.5-5.1 1.5 4.7 1.5-10.3 1.5 2.9 1.5-1.9 1.6-1 1.5 9 1.5-3.7 1.5 12.4 1.5 1.3 1.5 1.7 1.5 1.2 1.5 1.1 1.5 6 1.5-3.7 1.5 0.1 1.5 1.4 1.5 1.5 1.5-0.4 1.5-6.6 1.5 7 1.5 1.8 1.5-6.3 1.5 8.6 1.5-0.9 1.5 1.1 1.5-7.6 1.6 8.1 1.5-1.1 1.5-7.9 1.5 9.7 1.5-2.3 1.5-1.5 1.5-20.1 1.5 22 1.5-1.6 1.5 1.3 1.5-1.9 1.5 1 1.5-1.7 1.5 2.8 1.5-2.2 1.5-2.9 1.5-6.5 1.5 8.3 1.5 2.2 1.5-0.7 1.5 4.8 1.5-1.5 1.6 0.9 1.5-6.9 1.5 2.3 1.5 3.8 1.5 5.9 1.5 3 1.5-1.4 1.5-4.1 1.5 5.6 1.5 3.9 1.5-1.7 1.5-0.9 1.5 2.5 1.5-0.6 1.5-3.8 1.5-1 1.5 3.4 1.5-0.1 1.5-15.2 1.5 19 1.5-4.2 1.5 7 1.6 1.1 1.5-0.4 1.5-8.1 1.5-12.2 1.5 20.8 1.5-4.9 1.5 5.4 1.5 0.9 1.5-3.1 1.5 0.9 1.5 0.9 1.5-5.7 0 28.8-1.5-7.6-1.5 2.5-1.5 8.6-1.5-6.6-1.5 5.2-1.5-6.2-1.5-0.7-1.5 4.1-1.5-7.1-1.5 24.5-1.5-22.2-1.6-3.9-1.5 11-1.5-9-1.5 1.3-1.5 1.8-1.5 9.4-1.5-11.4-1.5-0.6-1.5-5.7-1.5-0.8-1.5 3.9-1.5-0.6-1.5 17.4-1.5-25.8-1.5 1.6-1.5-0.3-1.5-2.1-1.5-2-1.5 8.1-1.5-10-1.5-2.8-1.5 0.2-1.6 0.2-1.5-2.2-1.5 1-1.5 7.5-1.5-12-1.5-3.2-1.5 4-1.5-1.4-1.5-1.3-1.5 3.4-1.5-2.4-1.5 3.3-1.5 1.6-1.5-5.1-1.5 5.1-1.5-5.5-1.5 2.3-1.5-3.6-1.5-0.9-1.5 7.8-1.5 8.7-1.5-16-1.6 0.2-1.5 2.6-1.5-1.8-1.5 1.1-1.5 6.3-1.5-8.4-1.5-1.6-1.5 3.6-1.5-2.2-1.5 0.4-1.5 3-1.5-0.5-1.5 0.2-1.5 3.3-1.5-0.5-1.5-1.8-1.5 0-1.5-8.8-1.5-1.5-1.5-4.2-1.5-5.6-1.5-2.8-1.6-1.7-1.5 0.3-1.5 8.4-1.5-5.4-1.5-1-1.5 2.5-1.5 3.2-1.5-7.7-1.5 0.4-1.5 0.2-1.5 3.1-1.5-1.2-1.5 0.2-1.5-0.1-1.5 0.5-1.5-3-1.5 4.1-1.5-6.5-1.5 1.3-1.5 0.2-1.5-1.5-1.5 1.7-1.6 8.2-1.5-10-1.5 1.9-1.5 4.7-1.5-1.7-1.5-3-1.5 2.5-1.5-3.2-1.5 6.6-1.5-7.7-1.5 1.6-1.5 1z" fill="#8a58d8" stroke="#8a58d8" stroke-width="1.6"/>
<path d="M1660.0 765.0 1682.0 780.0" stroke="#8a58d8"/>
<path d="M1510.0 820.1l1.5 4.5 1.5-16.7 1.5 10.6 1.5 4.4 1.5-11 1.5 6.7 1.5 0.3 1.5-1.8 1.5-1.1 1.5-1.1 1.6-0.5 1.5 7.9 1.5-7.6 1.5 2.3 1.5-3.5 1.5 1.3 1.5 4.9 1.5-5.9 1.5 7.5 1.5 0.2 1.5-17.1 1.5 6.8 1.5 0.2 1.5 1.2 1.5-2.1 1.5 1.8 1.5 0.4 1.5-0.7 1.5-11.1 1.5 3.2 1.6-0.6 1.5 6.5 1.5 1 1.5-3.8 1.5 3.5 1.5-4.8 1.5-1.5 1.5 0.9 1.5 1.4 1.5-1.8 1.5-2.8 1.5 1.1 1.5 1.3 1.5-13.7 1.5 6.4 1.5 6.2 1.5-1.6 1.5-0.3 1.5-2.8 1.5 1.8 1.6-5.5 1.5-10.9 1.5 15.4 1.5 4.7 1.5-12.3 1.5 10.7 1.5-12.8 1.5 9.3 1.5 1.6 1.5-9.9 1.5 11.4 1.5-4.8 1.5 2.1 1.5 0.1 1.5-1.7 1.5-2.2 1.5-3.3 1.5-1.4 1.5-14.1 1.5 11.8 1.6-2.2 1.5 0.8 1.5-2.6 1.5-6.9 1.5 9.7 1.5 7.5 1.5 0.4 1.5-3 1.5-15.5 1.5 13.7 1.5 3.4 1.5-4 1.5 0.1 1.5 0.2 1.5-12.6 1.5 0.1 1.5 7.5 1.5 0.1 1.5 2.4 1.5-6.6 1.6-0.5 1.5 1.3 1.5 11.8 1.5-5.3 1.5 5.3 1.5-5.5 1.5 7.9 1.5-3.4 1.5 4.8 1.5-1.8 1.5 0.5 0 9.7-1.5-4.3-1.5-0.8-1.5 4.2-1.5-1.6-1.5 0.9-1.5 4.4-1.5-3.2-1.5 0.1-1.5 5.5-1.5 0.6-1.6-4.4-1.5 1.3-1.5 5.9-1.5-1.2-1.5-2.8-1.5 23.7-1.5-22.9-1.5 18-1.5-11.9-1.5-2.4-1.5-2.5-1.5 2.4-1.5 4.5-1.5-7-1.5-2.4-1.5 8.2-1.5-8-1.5 8-1.5-3.4-1.5 3.9-1.6 8.7-1.5-12.1-1.5-1.3-1.5 1.9-1.5 12-1.5-9.4-1.5-0.1-1.5-2.5-1.5 5.6-1.5 3.8-1.5-7-1.5 4.5-1.5-6-1.5 2.3-1.5-7-1.5 17.6-1.5-16.5-1.5 11.2-1.5-3.9-1.5-2.7-1.6 3.3-1.5-2.3-1.5-2.8-1.5 12-1.5 2.4-1.5-6.8-1.5 0.9-1.5-0.2-1.5 6.7-1.5-6.7-1.5-0.2-1.5 9.1-1.5-5-1.5-7.2-1.5-0.4-1.5 3.2-1.5 24.6-1.5-24.1-1.5 3.3-1.5 5.2-1.6-0.8-1.5-0.2-1.5-0-1.5-5.9-1.5 23.5-1.5-14.6-1.5-2.3-1.5-1.1-1.5 0.1-1.5 0.4-1.5 3.8-1.5-0.5-1.5 4.5-1.5 4.7-1.5-6.8-1.5 11.2-1.5 3.3-1.5-9.8-1.5-7.8-1.5 7.1-1.6 3.5-1.5-6.8-1.5 0.6-1.5 3.2-1.5 8.6-1.5-9.4-1.5 2.3-1.5 3.5-1.5 3.5-1.5-2.9-1.5 25.7zM1742.0 824.4l1.5 2.5 1.5-0.2 1.5-2.8 1.5 3.6 1.5-1.4 1.5 2.1 1.5-0.6 1.4 1.1 1.5-1.2 1.5-2.2 1.5 1.9 1.5-0.4 1.5-6.7 1.5 6.3 1.5-1.6 1.5 2.6 1.5-2.8 1.5-0.8 1.5 1.9 1.5-6.9 1.5 8.6 1.5 1 1.5-0.7 1.4-3.2 1.5-0.9 1.5 0.7 1.5 2 1.5 0.4 1.5-6.1 1.5 7 1.5-0.3 1.5 0.4 1.5 0.7 1.5-14.3 1.5 12.1 1.5 1.2 1.5-1.9 1.5-1.8 1.4 4.8 1.5 1.2 1.5-1.6 1.5-1.6 1.5 2.1 1.5-0.5 1.5-1.7 1.5 1.3 1.5 0.3 1.5-4.3 1.5 0.4 1.5 4.1 1.5-6.6 1.5 8.8 1.5-6.8 1.4-13 1.5 16.2 1.5 2.7 1.5 0.9 1.5-1 1.5-1.5 1.5-2 1.5-1.2 1.5 3.1 1.5-5.3 1.5 4.7 1.5-0.9 1.5 0.1 1.5 1.4 1.5-0.8 1.5 0.6 1.4-5.2 1.5 1.8 1.5 3.7 1.5-0.5 1.5-2.8 1.5 7 1.5-1 1.5-3.3 0 14.9-1.5-6.6-1.5 0.2-1.5 2.8-1.5-1.9-1.5-0.6-1.5 2-1.5 0.2-1.4-1-1.5 1.8-1.5-2.7-1.5 1.8-1.5-0.8-1.5-0.2-1.5 0.5-1.5 0.2-1.5 4-1.5-4.7-1.5 4.3-1.5-2.2-1.5 0.8-1.5-3-1.5 7.1-1.5-5.8-1.4-3.1-1.5 0.7-1.5-0.3-1.5-0-1.5-0.1-1.5 4-1.5-3.8-1.5-0.6-1.5 2-1.5 0.2-1.5-1.7-1.5 0.1-1.5 0.6-1.5 1.9-1.5 0.3-1.4-1.2-1.5 0.7-1.5 0.4-1.5 0.6-1.5-0.4-1.5-1.1-1.5-1.4-1.5-1.8-1.5 0.9-1.5-0-1.5 0.5-1.5 0.7-1.5-1.5-1.5-0.5-1.5 0.5-1.4 2.4-1.5 1.7-1.5-2.2-1.5-2-1.5 0.8-1.5 4.1-1.5-4.6-1.5 4.2-1.5 3.3-1.5-6.1-1.5 4.2-1.5-4.8-1.5 4-1.5-3.4-1.5-1.7-1.5 2.6-1.4-1.6-1.5 1.2-1.5-0.3-1.5-1.4-1.5-0.2-1.5 1.7-1.5-1.5-1.5 0.8z" fill="#a0c8bc" stroke="#a0c8bc" stroke-width="1.6"/>
<path d="M1662.0 800.0 1682.0 787.0" stroke="#a0c8bc"/>
<path d="M1572.0 873.0l1.5 7 1.5-14.6 1.5 5.3 1.5-21.4 1.4 18 1.5 3.9 1.5-3.4 1.5 0.4 1.5-9.2 1.5-5.6 1.5 11.4 1.5-0.8 1.5 0.2 1.5-3.4 1.4-1 1.5 3 1.5 3.9 1.5-7 1.5 6.6 1.5-13.7 1.5 9.8 1.5-0.4 1.5 0.4 1.5-8.7 1.4 2.9 1.5-1.7 1.5-6.7 1.5-7 1.5 13.2 1.5-0.3 1.5-13.4 1.5 10.1 1.5 0 1.5 2.5 1.4-0.2 1.5-3.3 1.5-0.4 1.5-0.5 1.5-3.2 1.5 2.1 1.5-5.2 1.5-0.7 1.5-3.6 1.5 2.6 1.4-2.7 1.5-3.1 1.5-0.1 1.5-1 1.5-10 0 24.6-1.5 2.1-1.5-5.1-1.5 11.6-1.5-3.1-1.4 2-1.5 0.7-1.5 2-1.5 2.2-1.5 0.6-1.5 7.1-1.5-6-1.5 8.5-1.5-5.4-1.5 7.1-1.4-10.3-1.5 13.7-1.5-9.8-1.5 3.2-1.5 1.6-1.5-1.6-1.5 1.7-1.5 12-1.5-9.3-1.5 2-1.4 0.6-1.5 15-1.5-11.9-1.5-4.1-1.5 4-1.5-1.8-1.5 4.7-1.5 2-1.5 2.8-1.5 0.2-1.4-2.2-1.5 0-1.5-1.9-1.5 1.3-1.5 9.2-1.5-9.6-1.5-0.5-1.5 1.3-1.5 2.5-1.5 25.4-1.4-21.4-1.5-5.5-1.5 17.4-1.5-14.1-1.5 4.5zM1682.0 765.5l1.5 37 1.5-1 1.5-0.4 1.5-9.9 1.5 10.7 1.5-0.7 1.5 0.9 1.5 1.1 1.5 0.7 1.5 6.6 1.5-5.4 1.4 3.1 1.5-8.9 1.5 2.8 1.5-2.3 1.5 4.9 1.5 1.2 1.5-5.8 1.5 0.2 1.5-37.2 1.5 31.8 1.5 4.2 1.5-7.7 1.5 7.3 1.5 0.2 1.5 6.2 1.5-6.7 1.5 4.1 1.5-0 1.5 0.6 1.5-7.7 1.5 7.9 1.5-2.6 1.5 6 1.5-7.8 1.4 5.2 1.5 2.6 1.5-4.5 1.5 2.6 1.5 0.9 1.5-27.5 1.5 31 1.5-5.1 1.5-14 1.5 25.9 1.5-5.8 1.5 1.3 1.5-2.2 1.5 1.8 1.5-3.6 1.5 9.4 1.5-7.5 1.5-2.3 1.5-5.9 1.5 6 1.5 2.9 1.5 1.9 1.5-4.6 1.4 0 1.5-10.7 1.5 9 1.5 3 1.5-2.8 1.5 2.3 1.5-14.2 1.5 6.3 1.5 9.3 1.5-2 1.5-15.1 1.5 22.4 1.5-0.8 1.5 1.3 1.5-3.2 1.5-2.4 1.5 2.6 1.5 5.1 1.5-7 1.5-1.1 1.5 4.9 1.5-2.1 1.5 0 1.4 4.9 1.5 1.8 1.5-6.2 1.5-10.5 1.5-28 1.5 40.6 1.5 7.5 1.5-16.7 1.5 14.1 1.5-0.8 1.5-4.5 1.5 5.8 1.5-4.2 1.5 1.5 1.5-6 1.5 6.5 1.5-3.4 1.5 2.6 1.5-1.2 1.5-5.8 1.5 1.4 1.5-8.9 1.5 6.2 1.5 10.7 1.4-1.8 1.5-12.8 1.5 15.4 1.5-4.3 1.5-0.8 1.5 3.4 1.5-2.9 1.5-11.3 1.5 16.2 1.5-10.2 1.5 7.6 1.5 1.7 0 28.2-1.5 5.1-1.5 10.3-1.5-13.5-1.5-0.2-1.5-7-1.5 4.3-1.5-6.2-1.5 4.5-1.5 7.7-1.5 0.3-1.5 14.5-1.4-19.1-1.5-8.8-1.5 14.5-1.5 0.9-1.5-12.1-1.5-1.8-1.5-3.4-1.5-1.7-1.5 1.9-1.5 0.8-1.5 20.5-1.5-17-1.5-6.6-1.5 5.6-1.5-1-1.5 29.3-1.5-30.2-1.5 9-1.5-14.9-1.5 43.6-1.5-34.8-1.5 0.4-1.5 22.3-1.5-31.5-1.4 1.9-1.5 20-1.5-24.9-1.5 18.7-1.5-8-1.5-3.1-1.5-2.2-1.5 3.9-1.5 5-1.5-2.3-1.5-3.7-1.5 4.5-1.5-6-1.5-5.1-1.5 10.1-1.5 5-1.5-10.1-1.5 3.8-1.5-8.8-1.5-3-1.5 7-1.5-5.2-1.5 10.1-1.4-1.3-1.5 7-1.5-15.5-1.5 3.9-1.5 0.1-1.5 0.5-1.5 20-1.5-22.8-1.5 2.2-1.5 17.8-1.5-18.2-1.5 1.1-1.5-1.7-1.5 12.7-1.5 9-1.5-20.8-1.5 2.1-1.5 3.3-1.5-7.9-1.5 9.9-1.5-7.1-1.5 25.7-1.5-31.4-1.4 4.4-1.5-7.4-1.5 16.6-1.5-15-1.5 7.4-1.5-6.1-1.5 6.2-1.5-10.8-1.5 11.6-1.5-9.4-1.5 6.2-1.5-3.2-1.5-2.6-1.5 16.8-1.5-14.7-1.5-4.2-1.5-0.1-1.5 0.6-1.5-0.1-1.5-2.4-1.5 5.8-1.5 10.7-1.5-11.2-1.5 4.2-1.4-7-1.5 1.5-1.5 9.5-1.5-9.4-1.5 3.6-1.5-3.4-1.5 2.6-1.5 9.1-1.5-9.4-1.5-7.1-1.5 4.1-1.5 2.4z" fill="#109a2a" stroke="#109a2a" stroke-width="1.6"/>
<path d="M1645.0 840.0 1662.0 810.0 1682.0 815.0" stroke="#109a2a"/>
<path d="M1745.0 850.9l1.5-9.9 1.5 14.6 1.5-5.1 1.5 2.7 1.5 0.6 1.5-4.1 1.5 2.4 1.4-0.8 1.5-5.6 1.5-20.1 1.5 16.4 1.5 6.8 1.5-4.9 1.5 2.3 1.5-3 1.5 5.6 1.5 1.1 1.5-1.7 1.5 2.1 1.5 1.5 1.5-2.7 1.5 1.7 1.4-10.8 1.5 7.4 1.5-21.7 1.5 13.1 1.5 11 1.5-11.3 1.5 9.3 1.5-0.5 1.5-4 1.5-4.7 1.5 0.9 1.5 0.8 1.5 3.7 1.5-6.3 1.5 3.7 1.4 0 1.5 1 1.5-4 1.5 0.6 1.5-0.2 1.5-6.8 1.5 3.7 1.5 3.3 1.5-2.3 1.5-0.1 1.5-1.1 1.5 1.9 1.5-6.3 1.5 3.6 1.5-5.8 1.4-2.1 1.5 9.6 1.5-0.4 1.5-2.7 1.5 1.3 1.5-2.3 1.5 3.2 1.5-2.2 1.5 3.4 1.5-4.4 1.5-1.4 1.5 5.5 1.5-20.6 1.5 12.7 1.5 6.1 1.4-0.9 1.5-14.8 1.5 14.8 1.5-3.9 1.5-4.4 1.5 5.8 1.5-2.1 1.5 0.7 0 12.4-1.5 16.6-1.5-6.8-1.5-6.1-1.5-1-1.5 5.6-1.5-4.2-1.5-0.3-1.4 8.2-1.5-4.8-1.5-1-1.5-0.6-1.5-0.4-1.5-2-1.5 0.8-1.5-0.6-1.5 0.5-1.5 2.8-1.5-0.1-1.5-4-1.5-1.9-1.5 1.6-1.5 14.9-1.4-13.7-1.5 2.7-1.5 0.8-1.5-2.6-1.5 1-1.5 3.4-1.5 0.8-1.5-1-1.5 2.6-1.5 7.1-1.5-5.7-1.5 4.3-1.5-5.4-1.5 1.8-1.5 3-1.4-5.7-1.5 2.2-1.5-1-1.5 0.1-1.5 1.6-1.5-1.3-1.5 20.3-1.5-19.4-1.5 4.6-1.5-1.4-1.5 0.3-1.5 1.2-1.5 7.8-1.5-3.3-1.5-6.7-1.4-1.9-1.5 5.6-1.5 1.9-1.5 7.9-1.5-10.4-1.5 11.3-1.5-6-1.5 10.5-1.5-9.1-1.5-0.7-1.5-2.2-1.5 2.8-1.5 7.5-1.5-9.3-1.5 0.4-1.4-1.5-1.5 0.5-1.5 6.2-1.5-2.2-1.5-2.9-1.5 3.7-1.5-1.8-1.5-3.9z" fill="#5a8a58" stroke="#5a8a58" stroke-width="1.6"/>
</g>
<text x="172.1" y="1211.4" font-size="53" fill="#262626" stroke="#262626" stroke-width="0.8" text-anchor="middle">0</text>
<text x="523.1" y="1211.4" font-size="53" fill="#262626" stroke="#262626" stroke-width="0.8" text-anchor="middle">5</text>
<text x="874" y="1211.4" font-size="53" fill="#262626" stroke="#262626" stroke-width="0.8" text-anchor="middle">10</text>
<text x="1225" y="1211.4" font-size="53" fill="#262626" stroke="#262626" stroke-width="0.8" text-anchor="middle">15</text>
<text x="1576" y="1211.4" font-size="53" fill="#262626" stroke="#262626" stroke-width="0.8" text-anchor="middle">20</text>
<text x="151.5" y="687.3" font-size="53" fill="#262626" stroke="#262626" stroke-width="0.8" text-anchor="end">0</text>
<text x="151.5" y="804.8" font-size="53" fill="#262626" stroke="#262626" stroke-width="0.8" text-anchor="end">-2</text>
<text x="151.5" y="922.3" font-size="53" fill="#262626" stroke="#262626" stroke-width="0.8" text-anchor="end">-4</text>
<text x="151.5" y="1039.8" font-size="53" fill="#262626" stroke="#262626" stroke-width="0.8" text-anchor="end">-6</text>
<text x="151.5" y="1157.2" font-size="53" fill="#262626" stroke="#262626" stroke-width="0.8" text-anchor="end">-8</text>
<text x="1019" y="733.8" font-size="57" font-weight="bold" fill="#000" stroke="#000" stroke-width="0.5" text-anchor="middle">B1c</text>
<text transform="translate(55 905.9) rotate(-90)" font-size="58" fill="#262626" stroke="#262626" stroke-width="0.8" text-anchor="middle">meter</text>
<rect x="173.1" y="1282" width="1689.8" height="469.8" fill="#fdf8f4"/>
<path d="M511 1282V1751.8M848.9 1282V1751.8M1186.8 1282V1751.8M1524.7 1282V1751.8" stroke="#262626" stroke-opacity="0.15" stroke-width="4" fill="none"/>
<path d="M173.1 1334.2H1862.9M173.1 1438.6H1862.9M173.1 1543H1862.9M173.1 1647.4H1862.9" stroke="#262626" stroke-opacity="0.15" stroke-width="3.2" fill="none"/>
<path d="M173.1 1282V1751.8H1863.8M173.1 1282H1862.9V1751.8" stroke="#262626" stroke-width="3.6" fill="none" stroke-linecap="square"/>
<path d="M511 1751.8V1732.8M511 1282V1301M848.9 1751.8V1732.8M848.9 1282V1301M1186.8 1751.8V1732.8M1186.8 1282V1301M1524.7 1751.8V1732.8M1524.7 1282V1301M1862.6 1751.8V1732.8M1862.6 1282V1301" stroke="#262626" stroke-width="4" fill="none"/>
<path d="M173.1 1334.2H192.1M1862.9 1334.2H1843.9M173.1 1438.6H192.1M1862.9 1438.6H1843.9M173.1 1543H192.1M1862.9 1543H1843.9M173.1 1647.4H192.1M1862.9 1647.4H1843.9" stroke="#262626" stroke-width="3.2" fill="none"/>
<g clip-path="url(#c2)" fill="none" stroke-width="3.2" stroke-linejoin="miter" stroke-miterlimit="2">
<path d="M172.0 1476.6l1.6 1 1.6-7.6 1.6-12.9 1.5 8.8 1.6-5.9 1.6 4.4 1.6 4.2 1.6-12.9 1.6-3.4 1.5 2.1 1.6-14.4 1.6-11.2 1.6 18 1.6-19.3 1.6 33.1 1.5-9.7 1.6 7.7 1.6 12.8 1.6-26 1.6 5.5 1.6 7.3 1.5 5.5 1.6-22.9 1.6-17 0 63.5-1.6-8-1.6 12.4-1.6 7.7-1.5 9.9-1.6 7.7-1.6-2.9-1.6 2.6-1.6 17.9-1.6-36.5-1.5 11.1-1.6-5-1.6 7.3-1.6-7.6-1.6 21.1-1.6-21.7-1.5 23.3-1.6-27-1.6-1.8-1.6 1-1.6 6.6-1.6-6.8-1.5 10-1.6-10.5-1.6 5.5z" fill="#10d090" stroke="#10d090" stroke-width="1.6"/>
<path d="M172.0 1498.4l0.9 30.7 0.9 1.8 0.9 1.8 0.9-18.8 0.9-7.8 0.9 20.4 0.9-4.1 0.9 0.6 0.9 1.9 0.9-10.6 0.9 2.6 0.9-16.8 0.9 20.1 0.9 2.5 0.9-18 1 13.3 0.9 14.1 0.9-1.6 0.9-21.9 0.9 15.5 0.9-12.4 0.9 2.6 0.9 13.5 0.9-11.6 0.9 22.9 0.9-19.8 0.9 1.5 0.9 1.5 0.9 1.5 0.9 1.5 0.9 6.5" stroke="#c8a850" stroke-width="4.2"/>
<path d="M172.0 1349.4l0.9-0.7 0.9 1.1 0.9-10 0.9-3.9 0.9-0.1 0.9 2.9 0.9 5.2 0.9-0.4 0.9 2.3 0.9 7.5 0.9-4.6 0.9 6.2 0.9-1.7 0.9-3.2 0.9-1.9 0.9 1.1 0.9-13 0.9 3.6 0.9 2.9 0.9 4.9 0.9-5.4 0.9 6.9 0.9 4.6 0.9-9.1 0.9-0.1 0.9 8.3 0.9-12.7 0.9-2.8 0.9 11.8 0.9 0.7 0.9-9.9 0.9 0.5 0.9 4.6 0.9-5 0.9 8.4 0.9-3.5 0.9-0.5 0.9 7.6 0.9-0.1 0.9-5.7 0.9-1 0.9 4.7 0.9 1.4 0.9-0.3 0.9-6 0.9 5.3 0.9-0.3 0.9-3.1 0.9 1.4 0.9-9.7 0.9 6.7 0.9-16.6 0.9 1.5 0.9 11.8 0.9-1.8 0.9 2.3 0.8-10.5 0.9 14.6 0.9-20.4 0.9 10.1 0.9-3.1 0.9-6.7 0.9 11.1 0.9-2.8 0.9 4.7 0.9-12.4 0.9-2 0.9 7.6 0.9-2.8 0.9-3.1 0.9 6.1 0.9-0.9 0.9-3.9 0.9-4 0.9 11 0.9-11.2 0.9 12.6 0.9-1.1 0.9 1.1 0.9-0.9 0.9 1.6 0.9-3.1 0.9-5.9 0.9 4.2 0.9 5.8 0.9 0.6 0.9 2.2 0.9-15.3 0.9 6.6 0.9 7 0.9-9.6 0.9 2.2 0.9 7.7 0.9-4.8 0.9 1.1 0.9 0.4 0.9 8 0.9-11.1 0.9 5.7 0.9 2.1 0.9-5 0.9 0.3 0.9-0 0.9 0.9 0.9-1.6 0.9-7.2 0.9 8.5 0.9 3.4 0.9-4.6 0.9 1.1 0.9 3.8 0.9-7.7 0.9 4.6 0.9-2 0.9 3 0.9-0.3 0.9 14.8 0.9-1.8 0.9 1.9 0.9 7.1 0.9-5.1 0.9 10.4 0.9-10.9 0.9 10.4 0.9-4.5 0.9 6.4 0.9-7.2 0.9 0.7 0.9-4.9 0.9 9.6 0.9-6.9 0.9 1.1 0.9 1.1 0.9 3.9 0.9-1.6 0.9 1.1 0.9 3.4 0.9 3.7 0.9-3.8 0.9 1.1 0.9 1.1 0.9 1.1 0.9 8.8 0.9-6.6 0.9 23.5 0.9-9.3 0.9-5.4 0.9 20.7 0.9-16 0.9-2.3 0.9 1.1 0.9 14.2 0.9-11.2 0.9 5.6 0.9 17 0.9-9.3 0.9-12.5 0.9 15.8 0.9 7.4 0.9 1.3 0.9 10.5 0.9 0.8 0.9-5.8 0.9 9.7 0.9-16.4 0.9-1 0.9 6.8 0.9-8.5 0.9 15.1 0.9 11.1 0.9-8.6 0.8-10.3 0.9 4.9 0.9 6.2 0.9-0.4 0.9 19.9 0.9-18.9 0.9 14.1 0.9-8.1 0.9 6.8 0.9 5 0.9-5.9 0.9-10.4 0.9 22 0.9-23.3 0.9 6.8 0.9 0.3 0.9 17.2 0.9-7.3 0.9 17.4 0.9-12.9 0.9-13.1 0.9 13.3 0.9 7.1 0.9-17.5 0.9 8.6 0.9 5.3 0.9 4.7 0.9 10.5 0.9 6.7 0.9 1.8 0.9 1.9 0.9-14.3 0.9 8.2 0.9-0.8 0.9 3.7 0.9 6.2 0.9-6.4 0.9 1.8 0.9-0.1 0.9 18.1 0.9-8.3 0.9-11.4 0.9 11.1 0.9 9.1 0.9 0.8 0.9-4.9 0.9 3.8 0.9-16 0.9 10.8 0.9 15.5 0.9-15.4 0.9-2.1 0.9-4.7 0.9-2.9 0.9 8.7 0.9-3.2 0.9 0" stroke="#1414a0" stroke-width="4.2"/>
<path d="M172.0 1347.7l0.9 4.3 0.9-5.1 0.9 8 0.9-8.3 0.9-6.1 0.9 4.8 0.9-1.4 0.9 0.8 0.9-1.3 0.9 5.5 0.9-12.2 0.9 3.6 0.9 3.7 0.9-6.4 0.9 5.8 0.9-9.3 0.9 3 0.9 6.5 0.9-11.5 0.9 7.8 0.9-1.8 0.9 8 0.9-10.7 0.9 3 0.9-0.1 0.9-4.8 0.9 7.7 0.9-3.8 0.9 2.5 0.9 1.2 0.9-6.5 0.9-7.1 0.9-0 0.9-0.7 0.9-0.3 0.9-0.4 0.9-0.4 0.9 0.9 0.9 1.8 0.9-1.8 0.9-2.3 0.9-0.3 0.9-0 0.9 0.6 0.9 0.8 0.9-1.9 0.9 2.2 0.9 9.5 0.9-6.2 0.9 2.4 0.9-3.6 0.9-2.5 0.9 6.6 0.9-7.9 0.9 11.4 0.9-7 0.8-6.2 0.9 7.6 0.9 7.4 0.9-7.1 0.9-2.9 0.9-1.2 0.9 1.5 0.9 2.5 0.9-4.3 0.9 12.8 0.9-1.8 0.9 0.8 0.9 0.6 0.9-5.9 0.9-6.4 0.9 1.5 0.9-1.9 0.9 5.1 0.9 6.9 0.9-3.8 0.9-1.7 0.9-1.6 0.9-6.4 0.9 4.1 0.9 0.6 0.9-0.2 0.9-2.2 0.9 3.4 0.9-0.1 0.9-2.5 0.9 4.1 0.9 4.8 0.9-8.3 0.9 6.1 0.9-5.2 0.9-0.4 0.9 1.7 0.9-2.6 0.9-9.8 0.9 3.9 0.9 6.7 0.9-1.5 0.9-7.3 0.9-2.7 0.9-0.1 0.9 4.9 0.9 1.8 0.9 7.5 0.9-8.6 0.9 6 0.9 4.5 0.9-1.6 0.9-14.8 0.9 8.4 0.9 0.5 0.9 6.2 0.9-4.9 0.9-5.2 0.9-3.3 0.9 1 0.9 5 0.9-1.6 0.9-5.5 0.9 4.2 0.9-1.6 0.9-4.7 0.9 0.1 0.9 0.1 0.9 2.4 0.9-1.8 0.9 5.7 0.9 12.5 0.9-9.9 0.9-3.2 0.9 10.8 0.9-10.1 0.9 5.8 0.9 3.6 0.9 2.1 0.9-16.6 0.9 16.2 0.9-2.6 0.9-5.6 0.9 4 0.9 4.1 0.9 4 0.9-16.6 0.9 14.4 0.9-5.5 0.9-2.2 0.9 1.7 0.9-5.1 0.9 1.1 0.9 2 0.9 2.1 0.9 5.9 0.9 0.9 0.9-0.6 0.9 5 0.9-3.7 0.9 3.2 0.9-2.6 0.9-2.4 0.9 9.4 0.9 3.9 0.9-0.8 0.9-2.3 0.9 7.5 0.9-8 0.9 3.2 0.9 5.8 0.9 4.8 0.8-3.6 0.9 4.9 0.9-1.7 0.9 5.9 0.9-6.8 0.9 7.7 0.9-3 0.9 3.7 0.9-13.4 0.9 19.9 0.9-16.5 0.9 7.3 0.9 0.9 0.9-3.1 0.9 1.7 0.9 2.8 0.9 29.9 0.9-12.1 0.9-5.8 0.9 21.1 0.9-1.9 0.9 2.9 0.9-3.4 0.9 1.1 0.9-1.7 0.9-5.6 0.9-7.4 0.9 21.2 0.9 0.5 0.9-5.6 0.9-8.8 0.9 4.4 0.9-9.3 0.9-1.6 0.9 8.5 0.9 8.5 0.9 2.6 0.9-14.8 0.9-0.2 0.9 17.3 0.9-10.9 0.9 5 0.9-7.7 0.9 23 0.9-12.4 0.9 1.7 0.9 0.4 0.9-5.4 0.9 6 0.9-3.7 0.9 12.2 0.9-0.4 0.9-6.7 0.9-0.4 0.9 5 0.9-3.7 0.9 18.5 0.9-9.3 0.9 9.3 0.9 0.8 0.9-7.7 0.9 3.5 0.9-0.3 0.9-7.1 0.9 19.4 0.9-1.1 0.9-11.2 0.9-5.5 0.9 8.2 0.9-8.8 0.9 2.4 0.9 2.6 0.9 5.5 0.9 10.5 0.9-14 0.9 9 0.9-5.2 0.9 1.5 0.9 16.7 0.9-1.3 0.9-8.5 0.9 1.2 0.9 4.7 0.9 10.5 0.9-12.1 0.9 9.5 0.9-15.3 0.9 21.5 0.9-8.3 0.9 4.5 0.9-0.4 0.9 1.8 0.9-1.7 0.9 11.2 0.9-4.2 0.9-5 0.9 3.1 0.9 9.9 0.9-12 0.9-2.7 0.9 4.3 0.9 9.9 0.9-0.3 0.9-10.2 0.9 6.3 0.9 14.2 0.9-5.2 0.9-6.9 0.9 4 0.9 8.5 0.9-8 0.9-0.3 0.8-1.5 0.9 9.1 0.9 4.6 0.9-12.3 0.9 7.3 0.9 7.8 0.9 1.9 0.9-4.2 0.9 0.7 0.9 11.9 0.9 0.2 0.9 2.9 0.9 1.1 0.9-3.2 0.9-8.1 0.9 7.3 0.9 6.9 0.9-7.9 0.9-1.4 0.9 14.9 0.9-1.9 0.9-9.2 0.9 15.2 0.9-14.4 0.9 11.8 0.9-13.5 0.9 3.3 0.9-3.5 0.9 7.1 0.9 18.9 0.9-28.3 0.9 20.7 0.9-3.7 0.9-5.3 0.9 10.4 0.9 14 0.9 0.9 0.9 2.3 0.9-3.9 0.9 6.1 0.9 2.1 0.9-14.8 0.9 8.9 0.9-4.4 0.9-3.3 0.9-2.2 0.9 23.9 0.9-18.3 0.9 20.7 0.9-1 0.9 5.5 0.9 1.5 0.9-5.8 0.9 8.8 0.9 1.5 0.9 0.1 0.9 2.8" stroke="#30c060" stroke-width="4.2"/>
<path d="M172.0 1391.0l0.9-1.4 0.9-4.2 0.9 15.3 0.9-2 0.9-9.5 0.9 11.7 0.9 1.6 0.9-3.6 0.9-0.8 0.9-11 0.9-2.2 0.9 6.7 0.9 4.2 0.9-14.8 0.9 18.2 0.9-6.6 0.9 13.6 0.9-0.3 0.9-0.4 0.9-0.3 0.9-4.5 0.9 3.6 0.9-7.1 0.9-13 0.9 5.8 0.9 2.7 0.9 4.9 0.9 2.3 0.9 2.3 0.9-2.3 0.9-5.1 0.9-14.4 0.9-4 0.9 4.8 0.9-7.3 0.9-1.1 0.9-0.2 0.9-2.2 0.9-0.7 0.9 1.8 0.9 0.5 0.9-1.1 0.9-3.8 0.9 7.4 0.9-6.7 0.9-4.6 0.9 1.5 0.9-0.4 0.9 2.2 0.9-4.9 0.9 1.2 0.9-0.2 0.9 7.7 0.9 3.4 0.9-13.2 0.9-3 0.9-0.2 0.9 1.1 0.9 5.5 0.9-0.6 0.9-3.5 0.9-3.3 0.9-0.2 0.9 13.4 0.9-10 0.9-0.6 0.9 2 0.9 7.1 0.9-12.9 0.9 5.9 0.9-3.5 0.9-0.6 0.9-2.4 0.9-0.2 0.9 1.8 0.9 4.4 0.9-3 0.9-4.2 0.9 6.5 0.9-7.1 0.9 7.1 0.9-4.3 0.9-3.8 0.9-0.3 0.9 1.4 0.9-1.3 0.9 5.9 0.9-2.3 0.9-0.7 0.9 8.3 0.9-1.9 0.9-8.2 0.9 9.7 0.9-5.6 0.8-7.4 0.9 12.1 0.9-2.9 0.9-3.5 0.9 6.8 0.9-3.9 0.9-8.6 0.9 12.5 0.9-0 0.9-3.8 0.9-6.4 0.9 2.6 0.9-6.2 0.9 2.4 0.9 4.8 0.9 1.3 0.9-8 0.9 10.7 0.9-6.7 0.9-3.5 0.9 4.2 0.9 6.6 0.9-9 0.9 5.1 0.9 2.3 0.9-6.8 0.9 6.9 0.9-3.5 0.9 4.2 0.9-7 0.9-3.9 0.9-0.8 0.9 10.2 0.9-4.2 0.9-5.3 0.9 9.3 0.9-8.5 0.9-0.2 0.9 4 0.9 5.1 0.9-4.8 0.9 5.9 0.9-6.7 0.9 7.7 0.9-2.6 0.9-3.8 0.9-1.3 0.9 4 0.9-1.2 0.9 3.5 0.9 5.7 0.9 1.2 0.9-3.9 0.9 4.3 0.9-2.9 0.9-4.6 0.9 7.5 0.9 0 0.9-4.6 0.9 4.6 0.9-3.5 0.9 3.5 0.9 0 0.9 0 0.9 0 0.9-8.9 0.9 8.9 0.9-7.2 0.9 5.5 0.9-3.6 0.9 2.2 0.9 2 0.9-5.8 0.9-0.8 0.9 6.5 0.9-2.2 0.9-6 0.9 4.3 0.9 1.3 0.9 2 0.9-0.9 0.9-4.9 0.9 1.2 0.9 2.4 0.9-0.1 0.9-7.2 0.9-0.1 0.9 8.2 0.9-7.8 0.9 4.3 0.9-2 0.9 8.6 0.9-0 0.9-0 0.9-4.8 0.9 4.1 0.9-0.8 0.9-5.4 0.9-2.6 0.9 2.7 0.9 6.6 0.9-1.1 0.9-5.3 0.9-2.5 0.9-2.5 0.9 0 0.9 3.1 0.9 0.7 0.9-3.8 0.9 7.5 0.9-2.7 0.9 4.8 0.9 2.8 0.9-4.6 0.9-1.2 0.9 4.2 0.9-1.1 0.9-1.6 0.9-0.9 0.9 2.2 0.9-1.4 0.9 5.3 0.9-2.8 0.9 3 0.9 0.1 0.9 0.1 0.9-2 0.9-2.7 0.9 2.4 0.9 1 0.9 1.8 0.9-9.6 0.9 7.6 0.9-3.1 0.9-3 0.9-2.2 0.9 4.5 0.9-2.3 0.9 2.2 0.9-3.2 0.9 6.7 0.9-2.7 0.9 2.3 0.9-5.4 0.9 5.9 0.9-1.5 0.9-5.6 0.9 4.2 0.9 6.5 0.9-12.7 0.9 5.3 0.9 5 0.9 4.3 0.9-2 0.9-1 0.9 4.4 0.9-6.9 0.9 7.3 0.9-10.4 0.9 10.9 0.9-5.9 0.9 0.1 0.9 4 0.9-0.5 0.9-13.5 0.9 8.5 0.9 7.6 0.9 0.6 0.9-6.5 0.9-8.9 0.9 10.1 0.9-7.2 0.9 7.7 0.9-4.4 0.9 5.4 0.9 11.1 0.9-5.2 0.9 2.5 0.9 6.2 0.9 0.2 0.9-2.8 0.9 3.4 0.9 2.3 0.9-9.3 0.9-2 0.9 16 0.9-10.5 0.9 6.9 0.9-1.8 0.8 0.6 0.9-2.2 0.9 3.6 0.9 2.6 0.9-5.7 0.9-0.6 0.9 7.5 0.9-5.3 0.9 8.8 0.9 11.1 0.9-2.5 0.9-8.3 0.9 1.5 0.9 15 0.9-9.1 0.9-3.4 0.9 4.2 0.9 1.7 0.9 14.3 0.9 1.4 0.9 1.4 0.9-0.9 0.9-2.8 0.9 4.7 0.9-0.2 0.9 6 0.9-7.4 0.9-4.7 0.9 5.5 0.9 11.4 0.9-6 0.9 8.4 0.9-5.8 0.9-14.8 0.9 15.1 0.9-2.5 0.9 12.5 0.9-1.1 0.9-8.1 0.9 11.2 0.9-13.2 0.9 4 0.9-7.3 0.9 11.1 0.9-4.9 0.9 17.9 0.9 1.9 0.9-9.6 0.9 0.7 0.9 4.6 0.9 10.4 0.9-5 0.9-7.8 0.9 17.8 0.9-24.5 0.9 27.1 0.9-8.4 0.9-4.6 0.9-17.6 0.9 38.2 0.9 26.6 0.9-42.7 0.9 11.5 0.9 22.7 0.9-32.3 0.9 29.6 0.9-36.2 0.9 20 0.9 4.8 0.9-2.4 0.9-3.1 0.9 8.8 0.9-2.1 0.9-0.4 0.9 0.1 0.9-1.7 0.9-1.2 0.9 2.9 0.9-20.1 0.9 4.5 0.9 2 0.9 18.9 0.9-21.9 0.9 19.6 0.9 18.3 0.9 9.4 0.9 10.7 0.9-29.2 0.9-8.2 0.9 40.1 0.9-47.3 0.9 8.7 0.9-10.8 0.9 16.9 0.9 19.2" stroke="#463650" stroke-width="4.2"/>
<path d="M172.0 1382.4l0.9 1.6 0.9 0.2 0.9 3.4 0.9-0.9 0.9 2.4 0.9-1.1 0.9 3.5 0.9 0.3 0.9 5.9 0.9-1 0.9-4 0.9 4.5 0.9 0.2 0.9 6.7 0.9 0.8 0.9 1.2 0.9 0.3 0.9 1.9 0.9-2.6 0.8 5 0.9 0 0.9-6.7 0.9 5.1 0.9 1.7 0.9-0 0.9-0 0.9-6.1 0.9 4.1 0.9-5.3 0.9 1.1 0.9 0.4 0.9-1.2 0.9 6.2 0.9-10.8 0.9 10.2 0.9-5.9 0.9 0.3 0.9-0.2 0.9 3.4 0.9-2 0.9-1.2 0.9-0.2 0.9 1 0.9 0.1 0.9 6.4 0.9-0.1 0.9-2.5 0.9 4.8 0.9 1.4 0.9 0.6 0.9-4.2 0.9 1.3 0.9 0.6 0.9 2.7 0.9-0.9 0.9 4.1 0.9-0.1 0.9-6.1 0.8-2.7 0.9 4.2 0.9 3.6 0.9-2.6 0.9 0.4 0.9 4.8 0.9 4.4 0.9 3.2 0.9-3.5 0.9 9.8 0.9-6.2 0.9 5.8 0.9-3.6 0.9 10.1 0.9-6.5 0.9 6.5 0.9-8.4 0.9 14 0.9 1.8 0.9-3.2 0.9 4.1 0.9 3.2 0.9-4.6 0.9 5.9 0.9-5 0.9 9.1 0.9 0.5 0.9-7.6 0.9 1.2 0.9 3.9 0.9-5.4 0.9 0.4 0.9 6.9 0.9 4 0.9-11.4 0.9 15.7 0.9-9.2 0.9-1.5 0.9-0.6 0.8 13.6 0.9-4.9 0.9 0.1 0.9 1.7 0.9 3.7 0.9 1.6 0.9-3.4 0.9-1.8 0.9 0.6 0.9 8.6 0.9-1.8 0.9-2.3 0.9 7.8 0.9 13.8 0.9 0.3 0.9 7.1 0.9-8.4 0.9-1 0.9 2.5 0.9 3.1 0.9 7.2 0.9 5.5 0.9-15.4 0.9 16.4 0.9-3.4 0.9 8.2 0.9-2.1 0.9 15 0.9-4.4 0.9 1.5 0.9 1.1 0.9 2.1 0.9 2 0.9 5.4 0.9-6.1 0.9-7.6 0.9 6.5 0.9 6.9 0.9-13.3 0.8 1.3 0.9 12.2 0.9 6 0.9-7.6 0.9-2.4 0.9 0.8 0.9 0 0.9-0.6 0.9 1.1 0.9 1.1 0.9 2 0.9 0.3 0.9 5.7 0.9 0.5 0.9 16 0.9-10.9 0.9-6.1 0.9 9.5 0.9 18.8 0.9-15.1" stroke="#f010d0" stroke-width="4.2"/>
<path d="M172.0 1502.2l0.9-3.5 0.9-0.7 0.9-14.8 0.9 25.5 0.9-17.8 0.9-17.2 0.9 20.9 0.9-0.9 0.9-30.8 0.9 25.3 0.9-14.7 0.9 6.2 0.9-4 0.9-6.3 0.9-5.8 0.9 7.1 0.9-19.4 0.9-7.7 0.9 3.7 0.9 13.4 0.9-0.3 0.9-11.9 0.9 8.3 0.9-16.4 0.9-21.7 0.9 26.6 0.9-22.1 0.9 14 0.9-25.7 0.9 23.5 0.9-27.1 0.9-1.5 0.9-1.4 0.9-1.4 0.9-1.5 0.9-1.4 0.9 4.8 0.9-1 0.9 13 0.9-3.4 0.9 2.4 0.9-2.1 0.9-12.8 0.9-11.4 0.9 2.5 0.9 10.9 0.9-1 0.9-7.7 0.9-2.8 0.9-0.6 0.9 0 1-0.4 0.9-4.5 0.9 2.8 0.9-6.9 0.9 8.9 0.9-18.3 0.9 2.2 0.9-5.9 0.9 4.3 0.9 3 0.9 5.5 0.9-21.5 0.9 7.8 0.9 11.4 0.9-8.1 0.9-2.8 0.9 2.4 0.9-3.5 0.9 6.9 0.9-14.4 0.9-1.9 0.9 13.1 0.9-6.3 0.9 4.1 0.9-7.4 0.9 3.9 0.9-7.8 0.9 2.9 0.9-16.3 0.9 7.1 0.9-0.1 0.9 6.1 0.9-0.8 0.9 0.9 0.9-2.8 0.9 0.5 0.9-1.2 0.9-1.2 0.9-1.2 0.9-4.7 0.9-0.7 0.9 0.9 0.9-4.6 0.9 0.3 0.9-3.8 0.9-6.3 0.9 9.3 0.9-6.6 0.9-4.8 0.9-2 0.9-3.7 0.9 4.9 0.9-4.6 0.9-0.4 0.9-1.3 0.9 6.5 0.9-11.3 0.9-5.8 0.9 6.1 0.9-6.9 0.9-0.6 0.9 7.9 0.9-8.8 0.9-3.1 0.9 3 0.9-6 0.9 2.6 0.9-1.9 0.9-2.6 0.9 3.2 0.9-2.6 0.9 3.3 0.9-2.9 0.9 3.6 0.9-8.8 0.9 8.4 0.9-2.2 0.9-3.9 0.9-4.1 0.9-0.3 0.9 0.9 0.9-0.5 0.9 2.3 0.9-1.4 0.9-0.8 0.9 4.4 0.9-6.4 0.9 3.3 0.9-3.8 0.9-0.2 0.9 2.8 0.9-1.6 0.9 5.8 0.9 2.3 0.9-1.7 0.9 3.1 0.9-2.6 0.9 3.2 0.9-11.5 0.9 6.9 0.9 4.2 0.9-0.7 0.9-6.4 0.9 7.5 1-5.5 0.9-4.9 0.9 2.7 0.9-0.4 0.9 4.4 0.9-3 0.9 4.6 0.9-2.2 0.9 4.2 0.9-1.7 0.9-3.5 0.9-0.7 0.9-2.4 0.9-2.7 0.9 9 0.9-1 0.9 1.8 0.9 0.9 0.9-3.7 0.9-3.9 0.9 4.8 0.9-6 0.9-0.3 0.9 8.3 0.9-5.2 0.9 3.7 0.9-0.8 0.9 2.2 0.9 1.2 0.9-6.8 0.9 2.4 0.9 3.5 0.9 4.5 0.9 1 0.9-8.5 0.9 8.1 0.9 0.9 0.9-1.6 0.9 1.9 0.9 11.9 0.9-1.7 0.9 7 0.9-6.3 0.9-0.3 0.9 2.7 0.9-10 0.9 10.2 0.9-1.4 0.9 6.5 0.9 2.4 0.9-0.8 0.9-3.1 0.9 4.2 0.9 0.4 0.9 0.2 0.9-5.6 0.9 1.2 0.9-2.6 0.9-4.4 0.9 3 0.9-2.2 0.9-5.6 0.9 3.5 0.9-3.2 0.9 10.8 0.9-3.6 0.9-4.5 0.9 11.2 0.9 1.6 0.9-9.4 0.9-1.9 0.9 9.2 0.9-12.1 0.9 10.4 0.9-1.3 0.9-6.9 0.9 6.2 0.9 3 0.9 0.8 0.9 3.9 0.9-5.2 0.9 5.7 0.9 5.9 0.9-7.2 0.9 1.2 0.9-0.9 0.9-7.6 0.9 8.9 0.9-0.8 0.9 9.4 0.9-14.1 0.9 7.4 0.9-0.1 0.9 4.1 0.9 2.3 0.9 3.2 0.9-2.6 0.9 0.9 0.9 2.8 0.9 1 0.9-1.2 0.9-6 0.9-1.8 1-1.7 0.9-10.4 0.9 3 0.9 3.8 0.9-0 0.9 0.6 0.9-14.8 0.9 10.2 0.9 3.9 0.9-16.3 0.9-0 0.9-4.1 0.9 7.3 0.9-4.5 0.9-1.1 0.9 13.2 0.9-4.3 0.9-2 0.9-4.8 0.9 11 0.9-6.7 0.9-1.3 0.9 0.9 0.9 1.5 0.9 5.8 0.9 9.7 0.9 0.7 0.9-2.5 0.9 3 0.9-11.9 0.9 2.1 0.9 1.1 0.9-0.5 0.9 0.6 0.9 10.2 0.9 2.4 0.9-0.8 0.9-11 0.9 1 0.9-3.8 0.9 4.9 0.9 2.5 0.9-5.4 0.9 0.6 0.9 7.2 0.9-1.5 0.9-3.6 0.9 0.6 0.9 3.5 0.9-1.7 0.9 6 0.9 1 0.9 7.2 0.9-3.7 0.9-2.9 0.9-2 0.9-1.3 0.9 0.7 0.9 9 0.9-7.5 0.9 10 0.9 8.6 0.9-1.8 0.9-10.7 0.9 1.7 0.9 8 0.9-3.6 0.9 1.2 0.9-3.6 0.9 10.3 0.9-1.8 0.9 11.3 0.9 1 0.9-8.2 0.9 11.9 0.9-1.1 0.9-1.6 0.9 0.9 0.9 5.6 0.9-0.2 0.9-4.7 0.9 1.2 0.9 3 0.9-0.2 0.9-0.2 0.9-5.6 0.9-2.1 0.9 5.7 0.9-0.7 0.9-10.3 0.9-4.4 0.9-1.1 0.9 10.4 0.9 6.5 0.9-2.2 0.9-0.2 0.9-11.7 0.9 0.9 0.9-3.5 0.9-1.6 0.9 4.1 0.9 8.5 0.9-13.2 0.9 4.9 1 5.2 0.9-2.2 0.9-4.2 0.9 0.9 0.9-2.6 0.9 7.5 0.9 1.5 0.9-7 0.9-4.5 0.9 0.4 0.9-0.4 0.9-0 0.9 6.9 0.9-6.9 0.9 1.4 0.9-1.4 0.9-0 0.9-0 0.9-0 0.9 0.6 0.9-0.6 0.9 2.1 0.9 2.9 0.9-5 0.9-0 0.9 4.1 0.9 4.7 0.9 8.4 0.9-1.8 0.9-3.2 0.9-2.8 0.9-6.4 0.9 9.6 0.9-3.7 0.9-5.9 0.9 8.4 0.9-10.9 0.9 1 0.9 8.7 0.9-8.8 0.9 13.8 0.9-6.1 0.9 1.2 0.9 5.6 0.9-13 0.9 11.6 0.9-6.7 0.9 2.5 0.9 11 0.9-12.1 0.9-4.5 0.9 7M547.0 1407.0l0.9 3 0.9-0.3 0.9-3.4 0.9-3.9 0.9 0.2 0.9 3.6 0.9-3.2 0.9 5 0.9 6 0.9 0.8 0.9-1.3 0.9 0.7 0.9-8.4 0.9 2 0.9 2.3 0.9 5.8 0.9 8.5 0.9-7.1 0.8 0.2 0.9 7.6 0.9 4.1 0.9 10.1 0.9-11.9 0.9 3.3 0.9 5.7 0.9 3.5 0.9 0.3 0.9 6.7 0.9-13 0.9 14.6 0.9-9.2 0.9 2.7 0.9 1.8 0.9 17.6 0.9-18.2 0.9-0.5 0.9 13.5 0.9-2.1 0.9-1.6 0.9-3.2 0.9 12.2 0.9 13.2 0.9-21.7 0.9 20.3 0.9 5 0.9 1.2 0.9-17.8 0.9 16.7 0.9 0.1 0.9 4 0.9 3.3 0.9-3.2 0.9-12.6 0.9 1.9 0.8 4.8 0.9 7.2 0.9-11.6 0.9 9.5 0.9-5.2 0.9 4.2 0.9 7.7 0.9 8 0.9-4.5 0.9 0 0.9 3.5 0.9 1.8 0.9 7 0.9 0.3 0.9-4.9 0.9 6.3 0.9-1.8 0.9 12.4 0.9-3.3 0.9 0.6 0.9-13 0.9 6.6 0.9 3.4 0.9-0.7 0.9 10.3 0.9-11.4 0.9-1 0.9 6.9 0.9 19.9 0.9-6.2 0.9 3.9 0.9 3.4 0.9-14.8 0.9 1.2 0.9 6.1 0.9 14.3 0.9-0.4 0.8 5.7 0.9 7.8 0.9-3.7 0.9-1.7 0.9-2.5 0.9 12.9 0.9 1 0.9-3.2 0.9 6.2 0.9 3.4 0.9-4.6 0.9 10.7 0.9-7.3 0.9 1.7 0.9 10.2 0.9 0.1 0.9-0.3 0.9 22 0.9-23.4 0.9 10.5 0.9 3 0.9-1.3 0.9 9.6 0.9 5.7 0.9-6.2 0.9 9.6 0.9-11.5 0.9 20.3 0.9-13.6 0.9 8.1 0.9-12.5 0.9 2.1 0.9 23.2 0.9-3.9 0.9-0.5 0.9 14.6 0.8-13.4 0.9 7 0.9 8.2 0.9-7.1 0.9 14.2 0.9-14 0.9-3.7 0.9 0.1 0.9-0.9 0.9 11.2 0.9 17.9 0.9 3.7 0.9-6.2 0.9 8.4 0.9 17.5 0.9-7.6 0.9 3.4 0.9 12.9 0.9 15.3" stroke="#b018e0" stroke-width="4.2"/>
<path d="M312.0 1556.3l0.9-15.9 0.9 17 0.9-5.8 0.9-0.7 0.9-5.8 0.9-4 0.9-15 0.9-0.6 0.9 3.8 0.9-0.3 0.9 3.3 0.9 2 0.9-19.1 0.9-5.7 0.9 15.2 0.9 0 0.9-9.1 0.9-15.3 0.9-5.7 0.9 14.8 0.9-3.1 0.9-0.9 0.9-20.3 0.9 23.9 0.9-2.4 0.9-9.4 0.9-0.7 0.9-21.5 0.9-10.8 0.9 5.6 0.9-4.3 0.9 5.3 0.9-15.4 0.9 7.9 0.9-6.1 0.9-13.9 0.9 1.7 0.9-7.5 0.9-2.4 0.9 0.7 0.9-3.1 0.9-5.9 0.9 0.2 0.9-7.2 0.9-2 0.9-1.3 0.9 4.2 0.9-3.7 0.9-0.1 0.9 6 0.9 4.2 0.9-9.4 0.9-9.9 0.9 2.6 0.9-4 0.9 11.4 0.9 7.2 0.9-0.5 0.9-12.3 0.9 9.3 0.9-7.2 0.9-8.7 0.9 11.1 0.9-12 0.9-12.2 0.9 13.4 0.9-13.8 0.9 4.9 0.9 0.9 0.9 5.2 0.9-6.3 0.9-20.6 0.9-3.2 0.9 7.8 0.9-3.6 0.9 3.9 0.9-4.6 0.9-2.2 0.9-15.8 0.9 13.7 0.9 1 0.9 1.6 0.9-10.9 0.9-5.1 0.9 2.3 0.9-8 0.9 1.9 0.9 6.7 0.9 2.8 0.9-8.7 0.9 5.6 0.9-10.9 0.9-0.6 0.9-2.9 0.9 8.3 0.9-7.2 0.9-13.3 0.9 3.9 0.9 3.4 0.9-1.6 0.9 3.3 0.9 2.5 0.9 2.5 0.9-9.7 0.9-8.5 0.9 10.7 0.9-1.3 0.9 4.1 0.9-3 0.9-8.1 0.9 9.2 0.9-14.4 0.9 13.3 0.9-1.7 0.9 1 0.9-7.7 0.9 5.1 0.9-2.2 0.9 3.4 0.9 0.3 0.9 1.1 0.9-4.7 0.9 3.4 0.9-4.1 0.9-1.3 0.9 2.7 0.9-11.6 0.9 1.1 0.9 1.3 0.9 4.7 0.9-8.6 0.9 4.9 0.9-11.6 0.9-2.2 0.9 6.9 0.9-1.4 0.9 3.4 0.9-1.3 0.9-3.2 0.9 8.8 0.9-0.7 0.9-4.6 0.9-9 0.9 9.5 0.9-2 0.9 1.9 0.9-4.3 0.9 0.2 0.9-2.2 0.9-0.5 0.9 2.4 0.9 0.9 0.9-4.8 0.9-2.7 0.9 4.1 0.9 2.7 0.9 4.8 0.9-8.1 0.9-1.7 0.9 6.2 0.9 6.1 0.9-10.9 0.9 1.3 0.9 1.8 0.9 8.5 0.9 2.6 0.9-2.5 0.9 5.2 0.9-4.2 0.9 5.4 0.9-4.1 0.9 12.5 0.9-2.2 0.9 0.9 0.9 1.3 0.9 2.5 0.9-0.6 0.9-3.8 0.9 2.5 0.9-0 0.9 14.3 0.9 1.9 0.9-1.9 0.9-3.8 0.9 6.9 0.9-13.5 0.9 4.9 0.9 7.5 0.9-0.1 0.9 2.2 0.9-2.8 0.9-1.3 0.9-7 0.9-1 0.9-4.3 0.9 4.6 0.9 5.5 0.9-9 0.9-0.2 0.9 10.4 0.9-9.7 0.9-1.6 0.9 1.9 0.9-1.9 0.9 6 0.9-2.4 0.9 2 0.9 0.9 0.9-5.6 0.9 4 0.9-4.1 0.9-0.4 0.9 2.8 0.9-2.6 0.9 3.9 0.9-1.2 0.9 1.9 0.9 5.5 0.9 0.6 0.9 1 0.9-6.1 0.9 10.8 0.9-15.1 0.9 13.7 0.9-4.4 0.9-2.5 0.9 2.2 0.9-0.2 0.9-3.7 0.9 9.9 0.9-9.1 0.9 0.6 0.9 0.9 0.9-3.1 0.9 2.6 0.9 3.8 0.9 4.6 0.9-0.4 0.9-11.8 0.9 8.6 0.9-3.1 0.9 4.3 0.9-8.8 0.9 3.6 0.9-5.6 0.9 11 0.9-5.6 0.9 9.1 0.9-1.1 0.9-6.2 0.9 3.8 0.9 3.7 0.9-1.8 0.9 3.8 0.9 2.7 0.9-9.1 0.9-3.8 0.9 1.4 0.9 8.8 0.9-5.8 0.9 7.4 0.9-4.4 0.9 14.6 0.9-2.4 0.9 1.2 0.9 2.1 0.9 2.9 0.9-4.6 0.9 7.1 0.9-5 0.9 8 0.9-5.4 0.9-3.9 0.9 10 0.9-0.3 0.9-3.2 0.9 5.7 0.9 0.4 0.9 2.4 0.9 5.7 0.9 0.6 0.9-10.4 0.9 3.2 0.9 1.7 0.9 5.2 0.9-1.4 0.9-6.5 0.9-4.1 0.9 4.8 0.9-1.4 0.9 3.1 0.9 9.3 0.9 2.1 0.9-1.6 0.9 6.7 0.9-6.7 0.9 1.1 0.9 1 0.9 8.2 0.9 0.8 0.9 0.9 0.9-2.4 0.9 3.9 0.9-0.2 0.9-2.1 1 2.1 0.9-0.7 0.9 2.7 0.9-1.5 0.9-1.9 0.9-1.3 0.9-1.2 0.9 1.2 0.9 1.6 0.9 2.5 0.9-1.8 0.9 1 0.9 6 0.9-6.1 0.9 5.4 0.9-7.1 0.9 7.5 0.9-2.2 0.9-7 0.9 10.1 0.9 1 0.9-4.5 0.9-5.3 0.9 0.3 0.9 2.5 0.9-0.9 0.9 9.8 0.9-6.8 0.9-3 0.9 2 0.9-0.3 0.9-3.1 0.9 2.3 0.9-1.1 0.9 7.4 0.9-6.5 0.9 11.8 0.9-1 0.9-2.7 0.9-5.7 0.9 3.6 0.9 3.9 0.9 8.4 0.9-3.8 0.9 10.1 0.9-5.7 0.9-6.1 0.9 4.3 0.9 15.1 0.9 1.3 0.9-2.2 0.9 3.8 0.9 0.2 0.9-4.3 0.9 8.3 0.9-2.9 0.9 4.2 0.9 3 0.9-7.9 0.9 9.8 0.9-11.2 0.9 9.9 0.9 4.4 0.9-3.5 0.9 4.5 0.9-16.3 0.9 13.3 0.9-4.7 0.9-6.1 0.9 20.9 0.9-2.4 0.9 7.3 0.9 0.5 0.9 3 0.9-7.6 0.9-3.6 0.9-7.6 0.9 12.6 0.9 8.6 0.9 4.3 0.9-6.1 0.9 10.1 0.9 1.6 0.9 1.8 0.9-3.8 0.9-9.1 0.9 16.9 0.9-5.3 0.9-4.2 0.9 4.8 0.9 11.7 0.9-4.2 0.9-7.4 0.9-4.8 0.9 18.9 0.9-16.3 0.9 13.6 0.9 4.8 0.9 3.7 0.9 0.2 0.9 4.8 0.9-4.4 0.9 7.3 0.9-1.5 0.9-6.4 0.9 7.6 0.9-7 0.9 14.3 0.9-16 0.9 13 0.9-9.3 0.9-6.3 0.9 11.2 0.9-16.7 0.9 8.3 0.9-1.7 0.9-6 0.9 0.2 0.9 13.1 0.9-11.3 0.9 0.5 0.9-1.5 0.9 4.3 0.9-1.3 0.9-2.4 0.9 0.1 0.9-0.5 0.9-0.6 0.9-0.6 0.9 3.5 0.9-0.2 0.9 0.4 0.9-6 0.9 3.8 0.9 26.5 0.9-27.4 0.9 3.4 0.9 5.3 0.9 8.5 0.9-18.1 0.9-6.6 0.9 15.1 0.9 2.9 0.9 3.1 0.9-5.6 0.9 9.2 0.9-0.9 0.9-0.9 0.9-0.9 0.9-1 0.9-5.6 0.9-0.4 0.9 2.2 0.9-5.8 0.9-9 0.9-8.3 0.9 12.2 0.9 0.1 0.9-0.2 0.9-1.5 0.9-0.7 0.9-13.4 0.9 4.7 0.9 6.1 0.9 5.7 0.9 2 0.9-8.7 0.9 4.6 0.9-11.2 0.9 6.5 0.9 3.2 0.9-1.5 0.9 3.8 0.9 9.8 0.9 1.3 0.9-8.1 0.9-10.8 0.9-0 0.9 0.5 0.9 19.9 0.9-14.5 0.9 4.8 0.9-0.9 0.9 6.9 0.9-10.4 0.9 9.2 0.9-4.2 0.9-2.9 0.9-1.7 0.9 11 0.9-9.9 0.9-1.3 0.9 0.7 0.9 1.3 0.9 1.4 0.9 1.3 0.9 19.5 0.9-2.2 0.9 1.6 0.9-13.6 0.9 1.4 0.9 21 0.9 1.5 0.9-0.6 0.9 3.5 0.9-11.4 0.9 9.1 0.9-1.8 0.9-2.4 0.9-0.7 0.9 10.3 0.9 0.8 0.9-1.2 0.9 2.2 0.9-7.5 0.9-3.1 0.9 9.6 0.9-7.3 0.9 16.3 0.9-6.1 0.9-6.8 0.9 1.1 0.9 6.1 0.9-1.9 0.9 7.8 0.9-7.5 0.9 5.5 0.9-3.3 0.9 1.2 0.9 1.1 0.9 1.1 0.9 1.1 0.9 1.2 0.9 4.8 0.9 2.7 0.9 4.4 0.9-0.2 0.9 12.9 0.9-5.1 0.9 22.9 0.9-2.6 0.9 15.9 0.9-19.2 0.9 4.2 0.9 6.8 0.9 23.7 0.9 15.4 0.9 3.2 0.9-19.3 0.9-9.2 0.9 10.4 0.9-15.3 0.9 3.8 0.9 3.7 0.9 9.2 0.9 24.5 0.9-10.3 0.9-4.6 0.9 24.5 0.9-3.7 0.9 17.6 0.9-9.6 0.9 1.6 0.9 2 0.9-9.1 0.9 0.6 0.9 18.8 0.9 3.9 0.9-11.6 0.9 15.2 0.9-3.7 0.9 4.1 0.9-1.3 0.9-4.6 0.9 4.6 0.9-3.5 0.9-2.1 0.9 2.3 0.9 1.3 0.9 10.5 0.9-6.1 0.9 8.9 0.9 4.5 0.9-7.5 0.9 18.6 0.9-16.4 0.9 5.9 0.9 10.7 0.9 5 0.9-5 0.9 1.1 0.9 8.7 0.9 4.2 0.9 9.9 0.9 3.1 0.9-25.8 0.9 6 0.9 8.4 0.9 7.8 0.9 2.9 0.9 11.2 0.9-13.3 0.9 9.2 0.9-8.5 0.9-1.4 0.9 22.3" stroke="#a088a8" stroke-width="4.2"/>
<path d="M380.0 1559.7l0.9-25.9 0.9-10.9 0.9-23.1 0.9 5.3 0.9-11.2 0.9 21.6 0.9 4.8 0.9-19.2 0.9 7 0.9-1.3 0.9-5.4 0.9 8.5 0.9-15 0.9 14 0.9-8.8 0.9 2.4 0.9-6 0.9-0.2 0.9-6 0.9 9.2 0.9-8.8 0.9 0.8 0.9 4.5 1 3.8 0.9-2.7 0.9-5.5 0.9-3.3 0.9-6.9 0.9-9 0.9 5.1 0.9 9.1 0.9-12.6 0.9 0.2 0.9-1.6 0.9-1.8 0.9-2.2 0.9 16.5 0.9-12.4 0.9 2.2 0.9 5.3 0.9-8.9 0.9 7.7 0.9-3.1 0.9-2.1 0.9-16.1 0.9 11.5 0.9 0.8 0.9-6.4 0.9 2.8 0.9-5.5 0.9-1.1 0.9 0 0.9 3.5 0.9-12.6 0.9 6.9 0.9-8.4 0.9-7 0.9 6.8 0.9 3.2 0.9 0.7 0.9-6.4 0.9 3.8 0.9-9 0.9 2.7 0.9-4.7 0.9-0.1 0.9 4.3 0.9-15.5 0.9 13.8 1-7 0.9-12.2 0.9 3.9 0.9-5.7 0.9 4.7 0.9 5.2 0.9-17 0.9 0.1 0.9-1.3 0.9 8.8 0.9 1.3 0.9-8.2 0.9 6.8 0.9 7 0.9-9.9 0.9 8.7 0.9-6.8 0.9-6.2 0.9-0.1 0.9 4.5 0.9-8.4 0.9-1.6 0.9-1.3 0.9-3.8 0.9 10.2 0.9-1.3 0.9 8.1 0.9 3.6 0.9-3.3 0.9 1.3 0.9-7.2 0.9 9 0.9-15.7 0.9 5 0.9-2.5 0.9 12.1 0.9-6.9 0.9 3.9 0.9-1.8 0.9 6.3 0.9 2.1 0.9 3.5 0.9 3.6 0.9 0.1 0.9-6.1 0.9 2.2 1-7.8 0.9 4.2 0.9-4.5 0.9 7.5 0.9-0.9 0.9-5.4 0.9-6.4 0.9-11.2 0.9-1 0.9 1.4 0.9 4.3 0.9-0.7 0.9-9.8 0.9-1.1 0.9 0.5 0.9 0.2 0.9-4.1 0.9 9.6 0.9-8.3 0.9 8.7 0.9-7.9 0.9 1.7 0.9 3 0.9-5.2 0.9-1.1 0.9 12.2 0.9-18.5 0.9-2.4 0.9 12 0.9-7.8 0.9 8.5 0.9-2.4 0.9-13.7 0.9 7.4 0.9 6.6 0.9-13.3 0.9 3.7 0.9 1.6 0.9-9.6 0.9 3.3 0.9-0.1 0.9 1.8 0.9-5.4 0.9-5 0.9-2.3 1 1.2 0.9 9.5 0.9 3.2 0.9-0.7 0.9-4.7 0.9-4.3 0.9 0.8 0.9-0.8 0.9 4.7 0.9-2.2 0.9-2.6 0.9-0.9 0.9-5.7 0.9 2.3 0.9-0.4 0.9-2.5 0.9 2.6 0.9 1.8 0.9-1.6 0.9 0.9 0.9-0.2 0.9 3.5 0.9-4.5 0.9 3.5M548.0 1300.6l0.9 8.2 0.9-4 0.9 7.3 0.9-8.9 0.9 6.9 0.9-2.2 0.9-5.3 0.9 8.4 0.9-8 0.9 7.5 0.9-7.5 0.9-6.5 0.9 3.1 0.9 4.4 0.9-9.6 0.9 3.5 0.9 9.7 0.9 0.3 0.9-1.7 0.9-10.8 0.9 8 0.9-8.1 0.9 16.4 0.9-20.4 0.9 14.4 0.9-11.6 0.9 6.1 0.9 22.9 0.9-9.1 0.9 4.8 0.9 0.5 0.9-8.2 0.9 1.9 0.9-7.3 0.9 24.2 0.9-12.8 0.9 7.9 0.9-6.3 0.9 3.4 0.9-7.4 0.9 5.2 0.9-0.4 0.9 1.9 0.9-0.3 0.9 15.7 0.9-8.2 0.9-1.9 0.9 11.7 0.9 0.2 0.9-4.1 0.9 4.9 0.9-7.1 0.9-11.9 0.9 11.9 0.9 7.2 0.9-6.4 0.9 3.7 0.9 3.9 0.9-0.5 0.9-1.3 0.9-4.4 0.9 3.1 0.9-0.9 0.9-16.4 0.9 2.3 0.9-10.7 0.9 3.2 0.9-5.5 0.9 15.2 0.9-5 0.9 8.8 0.9 5.7 0.9-10.9 0.9-10.3 0.9 9 0.9-5 0.9 21.6 0.9 1 0.9-6.4 0.9-8.9 0.9 8.5 0.9 1.2 0.9 10.1 0.9 0.9 0.9-6.5 0.9 8.3 0.9-14.9 0.9 9.4 0.9-2.1 0.9-3.9 0.9 4.4 0.9-3.4 0.9 1 0.9 0.5 0.9 9.1 0.9 4.5 0.9-1.8 0.9-1.2 0.9 20.3 0.9-12.3 0.9 14.7 0.9 1.7 0.9-0.8 0.9-10.7 0.9 7.9 0.9 11.1 0.9 10.4 0.9-22.9 0.9 3.6 0.9-5.8 0.9 26.2 0.9-26.6 0.9 15.2 0.9 8.5 0.9 6.3 0.9 1.8 0.9 11.4 0.9-2.6 0.9-17.9 0.9 11.9 0.9 17.1 0.9-5.2 0.9-3.7 0.9-13.2 0.9 29.8 0.9 7.2 0.9-6.8 0.9 12.4 0.9 2.7 0.9 2.8 0.9-10.1 0.9 9 0.9-10.4 0.9 4.9 0.9 24.6 0.9 3.6 0.9 3.6 0.9 3.4 0.9-7 0.9 14.4 0.9-2.1 0.9-21.5 0.9 6 0.9 17.6 0.9 5.8 0.9-5.4 0.9 6.8 0.9 10.3 0.9-9.5 0.9 7.5 0.9 4.5 0.9 9 0.9-2.5 0.9 3.6 0.9 19.6 0.9-10.9 0.9 17.1 0.9-16.9 0.9 21.7 0.9-10.1 0.9 15.6 0.9-9.1 0.9 10.6 0.9-13.8 0.9 18 0.9-4.2 0.9-16 0.9 36.6 0.9-26.9 0.9 23.9 0.9-8.5 0.9 1.9 0.9 19.4 0.9-21.1 0.9 4.7 0.9 2.6 0.9-2.3 0.9 6.1 0.9 4.6 0.9-7.3M1015.0 1754.0l0.9-23.8 0.9 9.6 0.9-10.9 0.9 10.3 0.9-16.8 0.9-5.1 0.9 7.5 0.9-9.3 0.9-7.4 0.9 2.6 0.9-7.8 0.9 3.1 0.9-6.7 0.9-1.8 0.9-1.8 0.9-1.8 0.9 22.1 0.9-24 0.9 13.7 0.9-12.9 0.9 1.9 0.9 0.8 0.9 1.1 0.9-3.1 0.9-7.5 0.9 1.8 0.9 1 0.9-9.7 0.9 9.4 0.9-0 1-18.3 0.9 28.1 0.9-2.3 0.9 3.9 0.9-10.9 0.9 7.1 0.9-13.8 0.9 11.2 0.9-4.3 0.9-12.1 0.9 11.2 0.9-15.6 0.9 9.2 0.9-3.4 0.9-10.4 0.9-22.9 0.9 6.2 0.9 14.8 0.9-26.8 0.9-1.8 0.9 1 0.9-4.6 0.9 2.4 0.9-6 0.9 3.8 0.9-3.6 0.9 9 0.9-16.4 0.9 12.8 0.9 9.4 0.9 3.8 0.9-21.9 0.9-13.2 0.9-1.7 0.9 6 0.9 10 0.9-4.6 0.9-7.8 0.9 17.7 0.9-15.8 0.9-12.7 0.9 2.1 0.9 6.6 0.9 11 0.9-15.6 0.9 2.9 0.9-0.6 0.9-11.6 0.9 8.6 0.9-9.3 0.9-4.3 0.9-0.3 0.9-0.6 0.9-1.9 0.9-15.3 0.9-1.5 0.9 26.2 0.9-9.1 0.9-21.6 0.9-1.5 0.9 25.3 1-4.5 0.9-3.6 0.9 2.3 0.9-17.3 0.9 0.4 0.9 0.3 0.9-14.2 0.9 9.6 0.9-14.8 0.9-1.8 0.9 1.4 0.9-2.7 0.9 6.3 0.9-2.6 0.9-6.7 0.9-6.3 0.9 7.1 0.9 0.4 0.9 3 0.9-15.3 0.9 3.4 0.9-3 0.9 3.8 0.9 5.4 0.9-11.7 0.9-3.3 0.9 5.6 0.9-8.7 0.9 5.8 0.9-6.6 0.9 0.2 0.9 4.2 0.9-2.1 0.9-10.5 0.9-0.4 0.9-0.3 0.9-0.6 0.9 2.9 0.9-6.7 0.9-7.2 0.9-3.7 0.9 13.3 0.9-1.2 0.9-9.4 0.9 1.2 0.9-6.3 0.9 8.6 0.9-5.5 0.9-0.6 0.9-6.6 0.9-4.9 0.9-0.9 0.9 0.7 0.9 1.8 0.9 3.4 0.9-7.3 0.9 10.9 0.9-12.4 0.9 7.2 0.9 3 0.9 1.6 1-9.1 0.9-4.2 0.9-0.5 0.9 4.9 0.9-6.6 0.9 0.3 0.9 1.5 0.9 5.5 0.9 7.1 0.9-4.7 0.9-1.7 0.9 3.6 0.9-5.8 0.9-8.4 0.9 8.4 0.9 0.3 0.9 4.3 0.9-2.7 0.9-0.2 0.9-6 0.9 5.7 0.9-2.6 0.9-2.7 0.9 4.3 0.9 6.2 0.9-0.9 0.9 3.5 0.9 6 0.9 0.4 0.9 0.8 0.9-0.6M1185.0 1521.8l0.9 5.4 0.9 0.6 0.9 10.9 0.9-2.8 0.9-17.5 0.9 10.8 0.9-4.2 0.9-6.9 0.9 0.7 0.9 5.1 0.9-12.5 0.9 30.4 0.9-11.7 0.9-17.6 0.9 13.1 0.9 1.9 0.9 11.4 0.9-2.9 0.9-4.6 0.8 12.4 0.9 1.1 0.9 0.1 0.9-16.5 0.9 11.2 0.9-3.5 0.9-12.2 0.9 21.6 0.9-22.8 0.9-2.4 0.9-1.6 0.9 25.7 0.9-12 0.9-11.2 0.9 0.5 0.9 11.6 0.9 10.6 0.9-24.7 0.9 12.8 0.9 15 0.9-14.2 0.9-8.2 0.9 10.4 0.9-5.1 0.9 7.7 0.9 3.5 0.9-3.4 0.9-0.8 0.9-0.9 0.9-9.4 0.9 0.7 0.9 5.4 0.9-16.3 0.9 28.7 0.9-22.1 0.9 6.8 0.9-8.9 0.9 20.4 0.9-18.8 0.8-2.5 0.9 10 0.9-6.3 0.9 19.9 0.9 4.9 0.9-20.8 0.9 19.9 0.9-7.1 0.9-11.1 0.9 14.2 0.9-0 0.9 3.9 0.9-13 0.9 3.3 0.9 16.6 0.9-26.9 0.9 25.1 0.9-18.1 0.9 17.5 0.9-18.1 0.9 7.6 0.9 7.4 0.9-6.2 0.9-9.6 0.9 23.1 0.9-9.1 0.9 9.4 0.9-9.6 0.9 4.5 0.9-11.6 0.9 9 0.9 8.7 0.9 0.1 0.9 0.2 0.9 0.2 0.9 0.2 0.9 0.2 0.9-6 0.9 6.5 0.8-15.1 0.9 6.3 0.9-14.2 0.9 19.2 0.9 5.2 0.9-9.1 0.9-2.4 0.9-6.8 0.9-5.1 0.9 15.8 0.9-1.2 0.9-5 0.9-3.2 0.9-0.7 0.9-12.4 0.9 16.8 0.9 1.2 0.9-3.5 0.9-13.5 0.9 0.3" stroke="#28d8c8" stroke-width="4.2"/>
<path d="M467.0 1460.5l0.9-3.2 0.9 17 0.9-17.9 0.9 22.2 0.9 12.3 0.9-6.5 0.9-19.7 0.9 20.2 0.9-14.9 0.9 7 0.9 2.5 0.9-19.7 0.9 6.6 0.9 0.1 0.9-12.9 0.9 21.1 0.9-19.7 0.9 7.1 0.9 0.1 0.9-2.8 0.9 12.1 0.9-3.6 0.9-17.2 0.9 23 1 0.8 0.9-0.4 0.9-9.8 0.9-12.1 0.9 21.6 0.9-3.3 0.9-10 0.9 13.2 0.9-9.6 0.9-3.4 0.9-0.5 0.9-15.4 0.9 32.8 0.9-13.8 0.9 1 0.9-17.3 0.9 11.2 0.9-10.5 0.9 10 0.9-2.1 0.9 2.8 0.9-2.8 0.9-0.6 0.9 10.9 0.9-13.1 0.9 12.6 0.9-10.4 0.9-10.9 0.9 14.5 0.9-3.9 0.9 1 0.9 2.8 0.9-1.9 0.9-3.8 0.9-3.5 0.9-2.3 0.9-0.8 0.9 7.3 0.9-7.6 0.9-2.6 0.9 15.8 0.9-10.5 0.9 0.4 0.9 1.4 0.9 7.5 0.9-10.8 0.9 1.5 0.9 1.3 1 7 0.9 4.6 0.9-0.8 0.9-1.7 0.9 8.2 0.9-10.9 0.9-0.5 0.9 9.7 0.9-9.6 0.9 1 0.9 1.1 0.9 10.5 0.9 0.5 0.9-1.2 0.9-12.1 0.9 20.9 0.9-17.5 0.9 8.5 0.9 1.4 0.9 3.3 0.9 6.3 0.9 4 0.9-3.7 0.9-10.3 0.9-5.7 0.9 15.5 0.9 0.4 0.9-14.1 0.9 15.6 0.9-9.4 0.9 22.1 0.9-20.4 0.9 7.5 0.9 9.9 0.9 5.2 0.9-0.5 0.9-1.8 0.9-7.5 0.9 22.4 0.9-10.7 0.9 23.2 0.9-11.1 0.9-1.8 0.9-13.6 0.9 12.2 0.9 9.2 0.9-15 0.9 13.8 0.9 25.5 1 5.9 0.9-3.9 0.9 15.8 0.9 3.5 0.9-15.1 0.9 8 0.9 2.6 0.9 7.6 0.9 0.6 0.9-17.6 0.9-10.2 0.9 26.9 0.9-0.8 0.9-8.5 0.9 3.3 0.9-4.1 0.9 11 0.9-11.4 0.9-2.1 0.9 3.4 0.9-5.2 0.9 14.7 0.9-2.8 0.9-7.2 0.9 16.4 0.9-10.1 0.9 1.7 0.9 13.6 0.9-19.1 0.9 8.1 0.9 2.6 0.9 6.4 0.9 4.9 0.9-2.2 0.9 1.8 0.9-2.6 0.9-3.4 0.9-1.4 0.9 13.1 0.9-16.8 0.9-3.1 0.9 20.6 0.9-8.4 0.9 11.3 0.9-18.2 0.9 16.6 0.9-16.7 0.9 11.5 1-2.8 0.9 0.8 0.9-4.9 0.9 11.7 0.9 5.5 0.9 8.8 0.9-16.9 0.9 6.7 0.9 16.1 0.9-4.4 0.9-15.1 0.9 5.8 0.9 30.1 0.9-16.9 0.9-2.9 0.9 5.2 0.9 4.8 0.9 10.2 0.9-8.8 0.9 3.5 0.9 5.7 0.9-13.2 0.9 13.7 0.9-1.4 0.9 0.1M1522.0 1526.9l0.9 0.9 0.9 28.1 0.9-17.2 0.9-3.6 0.9 12 0.9-35.2 0.9 32.9 0.9-5.4 0.9-25.6 0.9 6 0.9-24 0.9 5.2 0.9-4.4 0.9-13 0.8-2.5 0.9 0.9 0.9-4 0.9 15.1 0.9-1.4 0.9-0.2 0.9-7.2 0.9 6.5 0.9 7.1 0.9-7.5 0.9-2.3 0.9-6.4 0.9 11.7 0.9 6.1 0.9-21.9 0.9 1.3 0.9 9.9 0.9 3.2 0.9-13 0.9 9.7 0.9-5.7 0.9 7.6 0.9-10.8 0.9 11 0.9-0.6 0.9-11 0.9-5.3 0.9 2.5 0.9-2 0.8-3.4 0.9 5.8 0.9-10.5 0.9 6.2 0.9 2.4 0.9 4.2 0.9-0.3 0.9-0.2 0.9-1.7 0.9-6 0.9-1.3 0.9 3.5 0.9-3.4 0.9-1.8 0.9 9.2 0.9-11.8 0.9-12.7 0.9 8.8 0.9-10.7 0.9 6.5 0.9 3.3 0.9 5.7 0.9 3.4 0.9-1.9 0.9-4.5 0.9-11 0.9 17.5 0.9-10 0.9 1.2 0.8-5.3 0.9-10.8 0.9 11.3 0.9-12.7 0.9 6.5 0.9-3.7 0.9-8.1 0.9 5.9 0.9 4.2 0.9 1.9 0.9-10.4 0.9-1.3 0.9 0 0.9-7 0.9-4.3M1600.0 1430.0 1610.0 1415.0 1625.0 1417.0M1625.0 1409.2l0.9 1.8 0.9 1.5 0.9 4.8 0.9-8.7 0.9 0.6 0.9 2.2 0.9-4.5 0.9 3.3 0.9 2.7 0.9-7.6 0.9 1.4 0.9-1.9 0.9 0.1 0.9-9.9 0.9 13.1 0.9-2.6 0.9 0.1 0.9 3.5 0.9-3 0.9 2.4 0.9-3.8 0.9-2 0.9 4.9 0.9-6.2 0.9 5.3 0.9-2.1 0.9-14.5 0.9 14.2 0.9-15 0.9-0.9 0.9 3.3 0.9 9.4 0.9-9.9 0.9 12.1 0.9-13.8 0.9 14.8 0.9-0.9 0.9-9.1 0.9 2.5 0.9-6.8 0.9 9.7 0.9-4.6 0.9 2.2 0.9-4.7 0.9-0.3 0.9 0.8 0.9 2.1 0.9 6.4 0.9-7.5 0.9 6.7 0.9-0.6 0.9-8.1 0.9 9.1 0.9-2.4 0.9 2.4 0.9-7.6 0.9 7.7 0.9-16.1 0.9 9.9 0.9 6.3 0.9-2.6 0.9 2.6 0.9 0 0.9-5.3 0.9 2 0.9 3.4 0.9 3.2 0.9-4.8 0.9 6 0.9-16 0.9 19.1 0.9-4.2 0.9 6.4 0.9 1.9 0.9-14.7 0.9 6.9 0.9-2.7 0.9 5.2 0.9 18.8 0.9 1.9 0.9 1.9 0.9 1.9 0.9-3.4 0.9 5.8 0.9-40.8 0.9 23.8 0.9-9 0.9 5 0.9-17.5 0.9 8.9 0.9-9.2 0.9-0.3 0.9-1.6 0.9 5.3 0.9 22.7 1-2.6 0.9 9.5 0.9-25.5 0.9 16 0.9 1.7 0.9-5.4 0.9-23.5 0.9-0.6 0.9 24.5 0.9 3 0.9-6.5 0.9-18.8 0.9 15.7 0.9 2.9 0.9-3.3 0.9 12.2 0.9-24.2 0.9 15.1 0.9 2.6 0.9 19.3 0.9-14.1 0.9-28.9 0.9 13.9 0.9-13.4 0.9 7.9 0.9-5.7 0.9 23.7 0.9-24.9 0.9 14.9 0.9 24.1 0.9-15.9 0.9-4.4 0.9-8 0.9-9.4 0.9 10.2 0.9 20.7 0.9 7.5 0.9-20.8 0.9 9.7 0.9-26.7 0.9 29.9 0.9-5.5 0.9-16.7 0.9 17.3 0.9 16.9 0.9-2.9 0.9-29.3 0.9 7.7 0.9 25.6 0.9-10.5 0.9-11.2 0.9 13.8 0.9-2.1 0.9-1.4 0.9-15.5 0.9-0.6 0.9 13.1 0.9 9.8 0.9-7.8 0.9 7 0.9 11.1 0.9 0.7 0.9-1 0.9-2.8 0.9-36.3 0.9 13 0.9 6.2 0.9 16.3 0.9-33.7 0.9-2.9 0.9 13.3 0.9 1.6 0.9 32.6 0.9-39.3 0.9 28.5 0.9-24.5 0.9 8.5 0.9-8.7 0.9 15.7 0.9-0.8 0.9 10.2 0.9 4.9 0.9-12.4 0.9 17.8 0.9 12 0.9 11.7 0.9 7.7 0.9-2.5 0.9-3.3 0.9 9.6 0.9 5.7 0.9-5.8 0.9 12.2 0.9 3.1 0.9-16.4 0.9 16.9" stroke="#d4d090" stroke-width="4.2"/>
<path d="M1462.0 1485.2l0.9-4.4 0.9-1.4 0.9-3.3 0.9-4.4 0.9 1.9 0.9-1.4 0.9 0.7 0.9 2.1 0.9-12.4 0.9 22 0.9-14.3 0.9 3.2 0.9-1.3 0.9-9.2 0.9-6.8 0.9-7.4 0.9-1.1 0.9-1.2 0.9-1.1 0.9 13.5 0.9-7.3 0.9 5.8 0.9 10 0.9-14.5 0.9 5.5 0.9 0.9 0.9-6.4 0.9 11.9 0.9-7.3 0.9 4.6 0.9 3.2 0.9-0.2 0.9 1.3 0.9-1.2 0.9-1.2 0.9-1.2 0.9-17.3 0.9 8.6 0.9-8.1 0.9 11.9 0.9-7.4 0.9-5.6 0.9-14 0.9-1.2 0.9 17 0.9-34.2 0.9-5.9 0.9 13 0.9 19.7 0.9-16.9 0.9-10.1 0.9 25.2 0.9-22 0.9 8.8 0.9 16.2 0.9-25.7 0.9-8.9 0.9 5.5 0.9 12.9 0.9 1.1 0.9-20.5 0.9 0.2 0.9 19.2 0.9-4 0.9 9.4 0.9-13.8 0.9-10.9 0.9 12.7 0.9-1.3 0.9-15.5 0.9-6 0.9 11.7 0.9-2.8 0.9 16.8 0.9-25.1 0.9 19.2 0.9 2.9 0.9-14.7 0.9 5.6 0.8 7.5 0.9 0.7 0.9-8.3 0.9 6.6 0.9-26.3 0.9 8 0.9 2.5 0.9 1.3 0.9 10.8 0.9-0.5 0.9-11.8 0.9-10.4 0.9 3.1 0.9-21 0.9 2.3 0.9 30.6 0.9-15.2 0.9 14 0.9-22.3 0.9-1.7 0.9-9 0.9 11.9 0.9-14 0.9 3.1 0.9-3.5 0.9 0.1 0.9 35 0.9-0.4 0.9-12.5 0.9-8.3 0.9 3.4 0.9-5.5 0.9 2.7 0.9 6.6 0.9-12.5 0.9 7.6 0.9-9.5 0.9-4.8 0.9 8.4 0.9 4.4 0.9-12.4 0.9 17 0.9-9.4 0.9-0.7 0.9-3.6 0.9 1.3 0.9 4.6 0.9-0.9 0.9-4.1 0.9 0.9 0.9 6.9 0.9 2.9 0.9 1.1 0.9-2.3 0.9-0.6 0.9-2.4 0.9-4.2 0.9 2.1 0.9-1.8 0.9 14.7 0.9-3.9 0.9-10.5 0.9 3.6 0.9-1.7 0.9 14.9 0.9-11.1 0.9 0.5 0.9 5.9 0.9-0.9 0.9-1.7 0.9-6.8 0.9 12.6 0.9-3.1 0.9-0.9 0.9 2.4 0.9 1.5 0.9-1.3 0.9-2.8 0.9 4.1 0.9 3M1605.0 1390.0 1625.0 1398.0 1640.0 1383.0M1640.0 1380.6l0.9 8.4 0.9-5.8 0.9-9.8 0.9-0.1 0.9 5.2 0.9 1.2 0.9 4 0.9 7.7 0.9-7.2 0.9-10.4 0.9 9.3 0.9 8.7 0.9-2.4 0.9-11.9 0.9 0.4 0.9 15.5 0.9-10 0.9-8.7 0.9 9.9 0.9 2.1 0.9 0 1 4.5 0.9-3.9 0.9-1.1 0.9-5.4 0.9 7.5 0.9 6.2 0.9-11.2 0.9-8.7 0.9 9.5 0.9-2.4 0.9 12.4 0.9-1.5 0.9-9.7 0.9-7.3 0.9-0.9 0.9 18.1 0.9-2.6 0.9-7.9 0.9 7 0.9-2 0.9-1.8 0.9 11.3 0.9-6.3 0.9 0.2 0.9 8.1 0.9-11.3 0.9 10 0.9-1.9 0.9-7.4 0.9-0.9 0.9-5.1 0.9 3.2 0.9-1 0.9 1 0.9 0.9 0.9 6.9 0.9 8.3 0.9-4.8 0.9 0.5 0.9-0.2 0.9-6.1 0.9 1.4 0.9-2.1 0.9 1.8 1 2.8 0.9-9.5 0.9 5.4 0.9 0.9 0.9-9.2 0.9 0.2 0.9 0.2 0.9 6.5 0.9 4.9 0.9-3.1 0.9 1.8 0.9-9 0.9 0.3 0.9 15.1 0.9 4.1 0.9-3.5 0.9-4.2 0.9-7.2 0.9 0.9 0.9 17.6 0.9-13.9 0.9-0.1 0.9 5 0.9 0.3 0.9-3.4 0.9 14.1 0.9-18.7 0.9 5.8 0.9 2 0.9-10.1 0.9 3.3 0.9 4.1 0.9 5.1 0.9-0.6 0.9-3.4 0.9-2.2 0.9 6.3 0.9-3.7 0.9-6.9 0.9 2.4 0.9 2.1 0.9 2.5 0.9 0.4 1-4.3 0.9 9.7 0.9 8.6 0.9-7.2 0.9-3.1 0.9-8.8 0.9 7.2 0.9 3.8 0.9 7.4 0.9-4.1 0.9 6.7 0.9-5.6 0.9 1.8 0.9 3.7 0.9-11.2 0.9 1.4 0.9 6.1 0.9-14 0.9 8.8 0.9 3.6 0.9 0 0.9 4.1 0.9-5.1 0.9 4.3 0.9-3.4 0.9-9 0.9 0.4 0.9 5.2 0.9-3.1 0.9 5.2 0.9-3.3 0.9-6 0.9 1 0.9-3.6 0.9-2.2 0.9 5.6 0.9 9.6 0.9-6.5 0.9-1.6 0.9-3.5 0.9 3.9 0.9-8.7 0.9 1.6 0.9-4.4 1-0.5 0.9 4.2 0.9-0.3 0.9 2.7 0.9 1 0.9 2.2 0.9 4.3 0.9-8.3 0.9-1.9 0.9 5 0.9-0.9 0.9-1.4 0.9 2.8 0.9-5.8 0.9 4.8 0.9 0 0.9 3.1 0.9-16.4 0.9-0.3 0.9 5.9 0.9-0 0.9-1" stroke="#c8a850" stroke-width="4.2"/>
<path d="M570.0 1411.2l0.9 14.1 0.9-16 0.9-2 0.9 29 0.9-24.6 0.9 7.4 0.9-19.4 0.9 3.3 0.9-2.7 0.9 33.5 0.9 1.2 0.9 21.4 0.9-28.3 0.9-11 0.9 23.2 0.9-5.5 0.9-20.8 0.9 7.7 0.9 22.2 0.9-28.1 0.9-7.9 0.9 12.2 0.9 18.5 0.9-0.5 0.9-15.7 0.9-2.2 0.9-19.8 0.9 13.1 0.9 3.6 0.9-4.4 0.9 20.7 0.9-22.9 0.9 5.1 0.9-4.3 0.9 3.5 0.9 12.5 0.9 7.4 0.9-17.4 0.9 3.2 0.9-1.8 0.9 3.8 0.9 9.9 0.9-22.4 0.9 2.2 0.8-4.5 0.9 9.1 0.9 2.3 0.9-11 0.9-0.6 0.9 19.5 0.9-14.5 0.9-2.9 0.9 25.4 0.9-18.1 0.9-5.1 0.9 30 0.9 4.2 0.9-21.8 0.9 17.1 0.9 16.9 0.9-17.9 0.9 6.7 0.9 11.5 0.9-5.5 0.9 5.7 0.9-14.6 0.9-3 0.9 10.3 0.9-18.4 0.9 8.7 0.9 2.3 0.9-3.8 0.9-6.7 0.9-0.2 0.9 8.3 0.9-8.2 0.9-7.7 0.9 3.7 0.9 10.9 0.9-7.2 0.9 2.6 0.9-1 0.9-3.1 0.9 5.6 0.9 6.3 0.9-9.9 0.9 0.7 0.9 0.7 0.9 2.7 0.9 4.2 0.9-4.9 0.9 6.2 0.9 3.2 0.9 9.3 0.9 7.8 0.9-5.4 0.9 7 0.9-2 0.9-1.5 0.9 1.6 0.9 7.1 0.9 2.3 0.9 0.6 0.9 0.4 0.9-1.9 0.9-7.6 0.9 0.5 0.9-11.3 0.9-0.6 0.9 11.4 0.9-15.6 0.9 3.6 0.9 7.8 0.9-1.2 0.9-4 0.9 5.7 0.9 10.2 0.9-6.1 0.9 11.1 0.9-14.2 0.9 2.4 0.9 13.4 0.9-18.2 0.9-5.5 0.9 0.6 0.9 7.3 0.9 4.7 0.9-1.6 0.9-9.8 0.9 17.4 0.9-9.5 0.9 10.4 0.9-3.2 0.8 8.4 0.9-7.3 0.9 10.7 0.9-10.9 0.9-1.2 0.9-11.8 0.9 9 0.9 10.3 0.9 4.5 0.9-1.3 0.9 1.3 0.9-8.2 0.9-7.7 0.9 0 0.9-3 0.9 3.2 0.9 6 0.9-1.8 0.9-10.7 0.9-3.8 0.9-11.6 0.9 6 0.9-11.8 0.9 13.2 0.9-9 0.9-6.4 0.9-5 0.9 0.6 0.9 8.9 0.9-2.3 0.9-10.1 0.9 15.3 0.9 7.4 0.9-6.8 0.9-4.6 0.9-1.2 0.9-8.2 0.9 6.3 0.9 12.4 0.9-7.1 0.9-0 0.9 0.5 0.9-0.7 0.9-1.4 0.9-6.3 0.9 11.9 0.9-13 0.9 4.6 0.9-12.3 0.9 0.9 0.9 9.3 0.9 3.5 0.9-8.1 0.9-4.7 0.9 6.1 0.9 7.7 0.9-3.2 0.9 3 0.9 0.9 0.9 6.1 0.9-4.6 0.9 6 0.9-20.7 0.9 19.6 0.9-19 0.9 15.9 0.9-8.8 0.9 4.8 0.9-0.9 0.9 2.3 0.9-10.5 0.9 8.7 0.9-5.1 0.9 11.4 0.9 2.6 0.9-3.9 0.9 3.9 0.9-3.6 0.9-10.1 0.9 10.1 0.9-3.6 0.9 2.4 0.9 3.8 0.9-0.8 0.9-2.1 0.9 8.4 0.9-0.7 0.9-1 0.9 4.9 0.8 0.5 0.9 0.4 0.9-4 0.9-1.4 0.9-6.5 0.9 1 0.9 10.8 0.9 0.8 0.9-0.6 0.9-0.9 0.9-4 0.9-0.5 0.9 4.3 0.9 2.9 0.9-3.3 0.9 4.3 0.9 6.1 0.9 0.4 0.9-0.9 0.9 0.6 0.9 0.2 0.9-3.6 0.9 2.9 0.9 4.1 0.9-6.5 0.9 8.2 0.9-6 0.9 5.4 0.9-2.6 0.9 2.7 0.9-2.4 0.9 5.3 0.9 6.3 0.9 1.7 0.9 1.8 0.9 1.7 0.9-1.5 0.9 0.5 0.9 0.5 0.9 7.9 0.9-4.8 0.9 0.1 0.9 8 0.9-13.4 0.9 8.1M815.0 1517.4l0.9 31.3 0.9 7.2 0.9-0.9 0.9 3.4 0.9-25.9 0.9 0.1 0.9 19.7 0.9-12.8 0.9 23.3 0.9-6.4 0.9 6.6 0.9-18.2 0.9-10.7 0.9 18 0.9-8.9 0.9 10.4 0.9-17.9 0.9 17.4 0.9 10.2 0.9-7.3 0.9-17.8 0.9 12 0.9-2.3 0.9-7.8 0.9 11.5 0.9 3.9 0.9-17.3 0.9 9.7 0.9-1.5 0.9 19.5 0.9-14.5 0.9-5.4 0.9 23.6 0.9-2.2 0.9-14.8 0.9 13 0.9 5.8 0.9-24.5 0.9 19.3 0.9-3.5 0.9-5.6 0.9-10 0.9 23.1 0.9-6.4 0.9 0.9 0.9-9 0.9-8.9 0.9 8.4 0.9-13.7 0.9 4.4 0.9 13.3 0.9-6.3 0.9 7.2 0.9-0.2 0.9-8.2 0.9-5.3 0.9-3.7 0.9 17.4 0.9-13 0.9 14.6 0.9-5.2 0.9-10.5 0.9 7.1 0.9 2 0.9-11.2 0.9 9.2 0.9 8 0.9 0 0.9 0 0.9-9.6 0.9 9 0.9-1.9 0.9 3.9 0.9-7.2 0.9 10.9 0.9-3.5 0.9-6.7 0.9 14.4 0.9-2.7 0.9-6.6 0.9-1.8 0.9 4.4 0.9 10.7 0.9 3.6 0.9 3.9 0.9 4.3 0.9-1.3 0.9 4.9 0.9-7.5 0.9 7.3 0.9 5.3 0.9-0.2 0.9-3.5 0.9 1.4 0.9 5.6 0.9-4.3 0.9 11 0.9 1.4 0.9-3.7 0.9-2 0.9-4.1 0.9-2.7 0.9 8.8 0.9-5.3 0.9 2.9 0.9-6.1 0.9 18.4 0.9-0.4 0.9-0.9 0.9 9.8 0.9-14.1 0.9 15.9 0.9 2.2 0.9-6.2 0.9 3.5 0.9 8.3 0.9-8.9 0.9 1.5 0.9 12.6 0.9-9.1 0.9 7.1 0.9-9.3 0.9 12.8 0.9 0.3 0.9 7.2 0.9 3.6 0.9-5.9 0.9 9.8 0.9-6.8 0.9 10.5 0.9 0.8 0.9-1.7 0.9-2.2 0.9-4.8 0.9-2.4 0.9 6.8 0.9-7.9 0.9-2.1 0.9 13.3 0.9 17.1 0.9-14.1 0.9 15.9 0.9-13.4 0.9 8.5 0.9 4.9 0.9-8 0.9 15.9 0.9-9.2 0.9-2.7 0.9-6.3 0.9 9.7 0.9 2.1 0.9 14.6 0.9-16.8 0.9 2.4 0.9 12 0.9-6.6 0.9 7 0.9-0.6 0.9 6.4 0.9 9.2 0.9-3.1 0.9 7.2 0.9 0.8 0.9 10.4 0.9-11.7 0.9 2.3 0.9 17.7 0.9 0.4 0.9 3.9" stroke="#10d090" stroke-width="4.2"/>
<path d="M675.0 1595.9l0.9-1.6 0.9-27.7 0.9 5.7 0.9-18.4 0.9-2.8 0.9 5.2 0.9-5.3 0.9 2.5 0.9-11.7 0.9-0.8 0.9 3.7 0.9-8.8 0.9-0.9 0.9 11.1 0.9-5.2 0.9-3 0.9-2.4 0.9-1.6 0.9-1.7 0.9 9 0.9 27.2 0.9-16 0.9-17.3 0.9-1.5 0.9-10 0.9 26.6 0.9-14.9 0.9 17.2 0.9-31.7 0.9 21 0.9-35.5 0.9-3 0.9 13.8 0.9 38.6 0.9-20 0.9-12.5 0.9 24.2 0.9-12.1 0.9-2.5 0.9-1.9 0.9-1.9 0.9-1.9 0.9-1.9 0.9-35.4 0.9-5.9 0.9 4.8 0.9 18.2 0.9-3.1 0.9-8.8 0.9-7.9 0.9 20.9 0.9-19.6 0.9 0.7 0.9 9.7 0.9-4.1 0.9-5.8 0.9 0.3 0.9-13.6 0.9 5.9 0.9-2 0.9 3.3 0.9-3.5 0.9 2.4 0.9-6.4 0.9 1.1 0.9 8.2 0.9-4.4 0.9 0.3 0.9-5.9 0.9 3.3 0.9-8.9 0.9 2.5 0.9-7.5 0.9 0.7 0.9 5.7 0.9-2.4 0.9-8 0.9-4.8 0.9-4.3 0.9-1.6 0.9 3.4 0.9-0.5 0.9 2.4 0.9-2.5 0.9 6.2 0.9-3.7 0.9-13.5 0.9 5.1 0.9-2.3 0.9-3.3 0.9 4.6 0.9-6.2 0.9 4.3 0.9-5.5 0.9 8.5 0.9-11.5 0.9 3.3 0.9 5.1 0.9-3.3 0.9-1.2 0.9-2.1 0.9 1.9 0.9 4.5 0.9-2.9 0.9-5.5 0.9-4.7 0.9 0.6 0.9 3.3 0.9-2.1 0.9-4.5 0.9 5.5 0.9 3.2 0.9 0.6 0.9-5.3 0.9 1.4 0.9 1 0.9-3.3 0.9 0.2 0.9-3.8 0.9 7.4 0.9-0.4 0.9-5.5 0.9-2 0.9-2.6 0.9 6.1 0.9-1.1 0.9-1.2 0.9 3.2 0.9-3 0.9-3 0.9 0.9 0.9 2.7 0.9-0.8 0.9-1.8 0.9-0.2 0.9-5 0.9 4.8 0.9-7.3 0.9-2.6 0.9 3.9 0.9-4.3 0.9-1 0.9-2.1 0.9 0.7 0.9-3.2 0.9 5.8 0.9-0 0.9 0.9 0.9-3.2 0.9-3.5M810.0 1413.0 810.0 1498.0M812.0 1498.0l0.9 2.3 0.9-2.4 0.9 5.3 0.9-1.8 0.9-0.6 0.9-7.7 0.9 3.2 0.9-2.9 0.9 10 0.9-2.5 0.9 1.5 0.9-1.4 0.9-0.3 0.9 1.2 0.9 0.1 0.9 0 0.9 2.7 0.9-4.3 0.9 5.7 0.9-7.9 0.9 2.7 0.9-4.1 0.9 8.8 0.9-2.2 0.9 1.1 0.9-6.1 0.9 5.7 0.9-1.8 0.9 0.8 0.8 7.6 0.9-2.2 0.9-8.8 0.9-2.1 0.9 0.2 0.9 4.3 0.9-3.8 0.9 10.3 0.9-5.1 0.9-2 0.9 6.5 0.9-1.8 0.9-2 0.9-1.4 0.9 2.9 0.9-5.2 0.9 4.5 0.9 2.1 0.9-2 0.9 7.9 0.9 0.7 0.9-6.9 0.9 6.1 0.9 0.2 0.9-4.5 0.9 8.9 0.9-4.3 0.9-2.2 0.9 0 0.9 0.1M870.0 1479.8l0.9 6.1 0.9-2.9 0.9-8.2 0.9 1.1 0.9 13 0.9-8.8 0.9 5.2 0.9-6.7 0.9 1.6 0.9 0.9 0.9 5.1 0.9-10.5 0.9 6.2 0.9-13.7 0.9 5.9 0.9 2 0.9 0.5 0.8 8 0.9-8.7 0.9 8.2 0.9-2 0.9-3.6 0.9 1.1 0.9 2.1 0.9-5.9 0.9 6.8 0.9-2.4 0.9-10.7 0.9 8.9 0.9-2 0.9 2 0.9 1.1 0.9-3 0.9-2.5 0.9-4.8 0.9 1.1 0.9 5.5 0.9-1.7 0.9-2.4 0.9-2.9 0.9-0.7 0.9 15.7 0.9-4.4 0.9-9.1 0.9 6.1 0.9 6 0.9-5.2 0.9 5.9 0.9-1.7 0.9-6.8 0.9 1.3 0.9 4.6 0.9-7.7 0.8 9.2 0.9-7.2 0.9-0.7 0.9 5.8 0.9-1.4 0.9 14 0.9-9.5 0.9-0.7 0.9 6.3 0.9 4.7 0.9-8.7 0.9-4.3 0.9 0.7 0.9 6.2 0.9 3 0.9-3.6 0.9-2.9 0.9 4.1 0.9 3 0.9-5 0.9 0.7 0.9 1.9 0.9 4.9 0.9 3.5 0.9-6.4 0.9-1.2 0.9 0.5 0.9-0.5 0.9 0.4 0.9-0.3 0.9-0 0.9-0 0.9-0 0.9-0 0.9-0 0.9-0 0.8 6.6 0.9-4.5 0.9 2.4 0.9-1.4 0.9 8.3 0.9-3.3 0.9-0.3 0.9 0.8 0.9-4.1 0.9 5.3 0.9-5.4 0.9 1 0.9-2 0.9 5 0.9-8.5 0.9 1.1 0.9-1 0.9 6.4M968.0 1581.9l0.9 6 0.9-1.9 0.9-5.4 0.9-11 0.9 21.1 0.9-26.7 0.9 10.2 0.9 0.2 0.9-6.4 0.9 5.3 0.9-7.9 0.9 12.7 0.9-2.6 0.9-3.8 0.9 4.5 0.9 1.4 0.9 1.5 0.9-1.6 0.9 5.7 0.9-0.1 0.9-2.1 0.9-4.8 0.9-9.6 0.9 10.8 0.8 0.1 0.9-10.5 0.9 12.7 0.9 6.3 0.9 5.6 0.9-2.1 0.9-11.5 0.9 11.1 0.9-11.5 0.9 9.2 0.9 4.7 0.9 0 0.9-15.5 0.9 2.5 0.9 5.7 0.9-1 0.9-5 0.9 3.3 0.9 2.7 0.9-15.7 0.9 0 0.9 14.2 0.9-8.7 0.9 5.7 0.9-4.5M1015.0 1626.6l0.9 15.1 0.9-5 0.9-7.2 0.9-4.7 0.9-10 0.9 0.3 0.9 2.7 0.9 12.8 0.9-6.5 0.9 8.8 0.9 4.9 0.9-9.9 0.9-10.5 0.9 0.4 0.9 11.4 0.9-7.7 0.9-2.8 0.9 0.5 0.9 4.2 0.9 7.8 0.9-1.5 0.9 9.1 0.9-0.1 0.9-11 0.9 10.8 0.9-3.5 0.9 3.4 0.9-6.3 0.9 0.6 0.9-4.9 0.9 6.1 0.9-5.6 0.9 9.3 0.9-9.1 0.9 2.8 0.9 6.2 0.9-5 0.9-3.2 0.9 6.8 0.9-15 0.9 7.3 0.9-5.3 0.9 5.2 0.9 1.5 0.9-10.8 0.9 3.5 0.9-0.5 0.9-1.5 0.9 2.3 0.9 12.3 0.9-9.8 0.9 12.5 0.9-11.6 0.9 5.1 0.9 5.6 0.9-12.7 0.9 0.9 0.9 2.2 0.9 5.2 0.9-2.1 0.9-1.7 0.9 0.9 0.9 8.7 0.9 2.7 0.9-4.3 0.9 2.8 0.9-3.7 0.9 3.6 0.9-2.8 0.8 10.4 0.9 6.6 0.9-11.6 0.9 9.9 0.9 3.8 0.9 0.6 0.9 0.6 0.9 0.6 0.9-4.7 0.9 6 0.9 0.6 0.9-6.8 0.9-1.4 0.9 0.2 0.9 8.1 0.9-6.2 0.9 5.4 0.9-8.8 0.9 7.2 0.9-5.4 0.9 5.5 0.9-8.8 0.9 15.3 0.9-5.5 0.9-4.5 0.9 0.2 0.9 2.2 0.9 1.8 0.9-2 0.9 3.4 0.9-5.9 0.9 0.9 0.9 0.9 0.9 16.8 0.9 8 0.9-7.4 0.9-15.8 0.9 5 0.9 15.3 0.9-18.3 0.9 4 0.9 1.8 0.9 7.2 0.9-8.2 0.9-4.1 0.9-1.6 0.9-16.3 0.9 17.3 0.9 2.2 0.9-6.1 0.9 2.5 0.9 3.5 0.9-18.5 0.9 18.3 0.9-14.9 0.9 7.6 0.9-6.4 0.9 5.5 0.9-13.7 0.9-7.5 0.9 6.8 0.9 4.4 0.9-10.3 0.9 0.3 0.9 16.1 0.9-4.7 0.9-0.3 0.9-9.2 0.9 18.6 0.9-11" stroke="#e8108c" stroke-width="4.2"/>
<path d="M700.0 1593.0l0.9-36.6 0.9 30.8 0.9-47.8 0.9 12.5 0.9-11.4 0.9-15.8 0.9 53.4 0.9-86.5 0.9 66.6 0.9-25.8 0.9-46.2 0.9 31.6 0.9-25.6 0.9 58.4 0.9 12.7 0.9-55.2 0.9 25.7 0.9 6.6 0.9 43 0.9-0.2 0.9-27.1 0.9 22 0.9-16.3 0.9-5.1 0.9-18 0.9-3.6 0.9 46.4 0.9-48.2 0.9 14.4 0.9-32.4 0.9 16.8 0.9-1.5 0.9-35.8 0.9 4 0.9 59.8 0.9-65.5 0.9 40.1 0.9-6.4 0.9 37.7 0.9-35.5 0.9-13.8 0.9-19.4 0.9 55 0.9-41.2 0.9 23.5 0.9-34.8 0.9 27.9 0.9-0.4 0.9-0.9 0.9 10 0.9-11.9 0.9-5.4 0.9 26.2 0.9 1.8 0.9-20.1 0.9 13 0.9-26.9 0.9 1.7 0.9 11 0.9-10.6 0.9 25.3 0.9-17.9 0.9 12.8 0.9-16.3 0.9 17.9 0.9-0.9 0.9-8.9 0.9 2.5 0.9 2.2 0.9-0.5 0.9-4.1 0.9-8.3 0.9 5.4 0.9 4.3 0.9 0.4 0.9-1.9 0.9-6.8 0.9 7.3 0.9-3.3 0.9 0.3 0.9-0.6 0.9 1.7 0.9-11.1 0.9 2.3 0.9 7.4 0.9-0.4 0.9-0.5 0.9-3 0.9 2.1 0.9-3.7 0.9-12.3 0.9-2 0.9-0.2 0.9 8.3 0.9 10 0.9-7 0.9 6.1 0.9-7 0.9-7.7 0.9-1.1 0.9 11.3 0.9-4 0.9-7.7 0.9-3.1 0.9 7.2 0.9 0 0.9 6 0.9-5.9 0.9 5.7 0.9-6.1 0.9 2.1 0.9 11.5 0.9-4.8 0.9-0.6 0.9-7.9 0.9 11.6 0.9-13 0.9-4.1 0.9 6.7 0.9-0.5M810.0 1529.1l0.9 13 0.9 11.4 0.9-5.6 0.9 1.8 0.9-6.8 0.9-8.6 0.9 14.1 0.9-1.1 0.9-0.5 0.9 2.2 1-5.4 0.9 7.3 0.9-6.6 0.9-1 0.9 1.3 0.9 2.8 0.9 7.1 0.9-2.7 0.9-16.8 0.9 20.3 0.9-11.5 0.9-10.1 0.9 9.3 0.9-3.1 0.9 4 0.9-0.7 0.9-6.5 0.9-5.6 0.9 4.7 0.9-4.5 0.9-1.5 1 4.1 0.9 3.2 0.9-4.1 0.9-1.8 0.9 2.7 0.9 0.2 0.9 0.7 0.9 7.4 0.9-0.7 0.9-0.7 0.9-0.7 0.9-1.7 0.9-4.4 0.9-3.2 0.9 6 0.9-6.4 0.9 3.8 0.9-13.9 0.9 8.4 0.9-11.9 0.9 3.3 1-2.5 0.9-0.1 0.9 6.7 0.9-3.8 0.9 8.9 0.9-0.2 0.9-6.3 0.9 2.4 0.9 2.2 0.9-10.4 0.9 8.1M869.0 1473.5l0.9-3.5 0.9 10.3 0.9-13.2 0.9-3.2 0.9 6.5 0.9 6.1 0.9-1.4 0.9-11.2 0.9-0 0.9-0 0.9-0 0.9 15.9 0.9-10 0.9 5.5 0.9-1.3 0.9-4.8 0.9-1.6 0.9 1 0.9 4.5 0.9-5.5 0.9-3.7 0.9 8.3 0.9 5.2 0.9-2.5 0.9 5.6 0.9-5.4 0.9 1 0.8-4.7 0.9 3.6 0.9 2.7 0.9-2.9 0.9 6.3 0.9-1.9 0.9-10.6 0.9-0.3 0.9-2.6 0.9-0.3 0.9 9.4 0.9-5.4 0.9-1.2 0.9-8.7 0.9 9.6 0.9-2.9 0.9-4.8 0.9-1.4 0.9-3 0.9 0.5 0.9 3.9 0.9 9.5 0.9-5.6 0.9-2.9 0.9 4 0.9-11.5 0.9 3.6 0.9-4.7 0.9 3.9 0.9-1.3 0.9 5.9 0.9-4 0.9-10.9 0.9 9.2 0.9-6.1 0.9-1.2 0.9 0.9 0.9-5 0.9 10.7 0.9-11.6 0.9-0.5 0.9 10.5 0.9-11.4 0.9-0.4 0.9-0.5 0.9 0 0.9 8.1 0.9 1.1 0.9-0.8 0.9 2.4 0.9-7.1 0.9 0.3 0.9 5.2 0.9-3.8 0.8-5.5 0.9 9.3 0.9-4.9 0.9-5.4 0.9 8.3 0.9-5.8 0.9-2.1 0.9-5.5 0.9 9.2 0.9 5.1 0.9-2.1 0.9-5.2 0.9-2.5 0.9-6.4 0.9 9.9 0.9 0.2 0.9-3.3 0.9-7.2 0.9 1.5 0.9-6 0.9 13.6 0.9-3.3 0.9-4.6 0.9-3.8 0.9-2.3 0.9 17.8 0.9-5.7M968.0 1492.9l0.9-4.2 0.9 2.5 0.9 0.8 0.9 9 0.9-12.3 0.9 5.3 0.9-5.2 0.9-0 0.9 0 0.9 4.1 0.9 9.4 0.9-10 0.9-0.6 0.9 4.8 0.9 0.1 0.9-8.1 0.9 2.1 0.9 4.9 0.9-5 0.9-6.2 0.9-0.6 0.9 9.3 0.9-3.1 0.9 8.7 0.9-9 1-4.4 0.9 4.9 0.9-10.3 0.9 3.2 0.9 1.5 0.9-4.2 0.9 9.5 0.9-10.3 0.9 1.2 0.9-4.3 0.9 8.6 0.9-2.3 0.9-4.2 0.9-5.8 0.9 6.4 0.9 10.2 0.9-6.6 0.9-4.3 0.9 4.5 0.9 2.2 0.9 2.6 0.9-7.6 0.9 1.3 0.9 4.7 0.9 0.3 0.9-0.3M1016.0 1524.6l0.9-0.8 0.9-2.8 0.9-13.3 0.9 0.2 0.9 23.9 0.9-0.4 0.9-10.4 0.9-4.1 0.9-0.2 0.9 13.4 0.9-10.9 0.9 5.2 0.9-6.4 0.9-6.5 0.9 0.9 0.9 3.7 0.9-6.5 0.9 11.1 1 0.9 0.9-1.3 0.9 4.3 0.9-4.1 0.9 1.7 0.9 0.4 0.9 8.1 0.9-12.2 0.9 6.7 0.9 5 0.9-3.5 0.9-0.1 0.9 6.9 0.9-4.4 0.9-3.7 0.9 6.6 0.9-7.8 0.9 1.1 0.9-1.5 0.9-10.1 0.9 1.6 0.9 10.3 0.9-3.8 0.9 11.3 0.9-5.3 0.9-4.9 0.9 9.1 0.9-3.7 0.9-0 0.9 12.9 0.9-7.7 0.9 2.4 0.9-0.3 0.9 3.8 0.9 4.2 0.9 2.6 0.9-1.5 0.9-1 1-1.1 0.9 4.5 0.9 0.6 0.9 7 0.9-7.8 0.9 6 0.9-7.8 0.9 10.7 0.9 3.5 0.9-7.8 0.9-1.3 0.9 4.3 0.9 9.8 0.9 7.1 0.9-0 0.9-9.4 0.9 2 0.9 7.9 0.9 3.2 0.9-2.6 0.9-2.6 0.9 0 0.9 10 0.9 7.6 0.9 3.2 0.9-4.6 0.9-2.6 0.9 7.2 0.9 9.3 0.9-12.8 0.9 15 0.9 7.5 0.9-1.9 0.9-3.7 0.9 0.5 0.9-8.1 0.9 18.6 0.9-10.6 1 1.8 0.9 0.8 0.9 11.7 0.9-14 0.9 17.3 0.9-21.2 0.9 21.6 0.9-8 0.9-2.9 0.9-0.8 0.9 3.2 0.9 7.1 0.9-10.6 0.9 18.5 0.9-5.7 0.9 16.1 0.9-5.8 0.9 15.6 0.9-14.8" stroke="#e8c048" stroke-width="4.2"/>
<path d="M812.0 1636.5l0.9-8.4 0.9-1.4 0.9 8.3 0.9-16.8 0.9 10.2 0.9-2 0.9-12.7 0.9 10.5 0.9-8.5 0.9-19.7 0.9 18.3 0.9-0.4 0.9-29.5 0.9 24 0.9-9.1 0.9-24.1 0.9 14.6 0.9 7.8 0.9-2.7 0.9-2.7 0.9-4 0.9-11.2 0.9 6.9 0.9-7.6 0.9 0.6 0.9-1.3 0.9-8.1 0.9-2.7 0.9 0.2 0.9-19.1 0.9 14.7 0.9-4.4 0.9-6.5 0.9-4.7 0.9 0.5 0.9 7.9 0.9-13.1 0.9 7.6 0.9-10.4 0.9 5 0.9 1.7 0.9-5.4 0.9 1.8 0.9 0.4 0.9-5.5 0.9-1.4 0.9-0.2 0.9-3.5 0.9-0.3 0.9 5.4 0.9-6.7 0.9 5.3 0.9-4.9 0.9-5.4 0.9 1.5 0.9 0.6 0.9 1.1 0.9-0.6 0.9-0.1 0.9-6.6M869.0 1478.4l0.9 4.5 0.9 6.9 0.9-4.2 0.9-17.6 0.9-1.6 0.9 0.9 0.9-1.7 0.9-0.4 0.9-0.4 0.9 5.9 0.9-6.7 0.9 8.6 0.9-7.4 0.9 14.5 0.9 1.9 0.9-19.7 0.9 7.4 0.9-8.2 0.9 10.5 0.9-7.3 0.9-4.4 0.9-0.5 0.9 0.9 0.9-1.6 0.9 8.2 0.9-5.6 0.9-0.1 0.8-0.8 0.9 7.6 0.9-11.1 0.9-0.3 0.9 2.8 0.9-2.2 0.9-1.5 0.9 3.5 0.9 5.2 0.9-7.6 0.9 2.2 0.9 6.8 0.9-5.3 0.9 2.8 0.9-6.6 0.9-3.6 0.9 9.5 0.9 3.9 0.9-3 0.9-3 0.9 6 0.9-1.2 0.9-5.9 0.9-3.3 0.9 11.5 0.9-6.8 0.9 2.3 0.9-5 0.9 0.9 0.9 0.8 0.9-2.2 0.9-4.6 0.9 2.2 0.9 3.1 0.9 0.7 0.9-3.2 0.9 0.4 0.9 1.7 0.9-4.6 0.9 2.8 0.9 0.5 0.9 4.6 0.9-1.3 0.9 2.1 0.9-4.6 0.9 5.1 0.9-12.2 0.9 4.2 0.9 0.1 0.9 1.2 0.9 5.5 0.9 3.5 0.9-12 0.9 7.4 0.8-1.8 0.9-2.2 0.9 5 0.9-8.7 0.9 0 0.9 7 0.9-6.3 0.9 0.2 0.9 8.2 0.9-1.2 0.9 1.5 0.9-2.2 0.9 1 0.9 4.1 0.9-10 0.9-0.8 0.9 16.2 0.9-15.4 0.9 17 0.9-2.2 0.9-5.8 0.9 9.5 0.9 4.6 0.9-6.4 0.9-9.7 0.9 9.8 0.9-7.6M968.0 1552.0l0.9-23.9 0.9 9.1 0.9 9.6 0.9-14.2 0.9 11.6 0.9 5.3 0.9 5.5 0.9-18.1 0.9 5.9 0.9 13.5 0.9-3.2 0.9 4.1 0.9-22.9 0.9 23.8 0.9-15.9 0.9 3.8 0.9 13.4 0.9-3.9 0.9-29.9 0.9 33.8 0.9-36.5 0.9 10 0.9 7.4 0.9-7.9 0.9 1 0.9-5.6 0.9 18 0.8-10.3 0.9 1.2 0.9 7.8 0.9 0.5 0.9 16.4 0.9-2.3 0.9-20.6 0.9 10.5 0.9-34 0.9 53.4 0.9-4.1 0.9-56.1 0.9 56.7 0.9-14 0.9 12.2 0.9-44.6 0.9 24.5 0.9 16.2 0.9-3.9 0.9 1.1 0.9 14.3 0.9-55.2 0.9 13.9 0.9 8.4 0.9 6.8 0.9-34.3 0.9 27 0.9 11.2 0.9 8.4 0.9-22.1 0.9 14.7 0.9-23.8 0.9 19.3 0.9-8.3 0.9-9.4 0.9-9.6 0.9 7.8 0.9 7 0.9 5.4 0.9-15.5 0.9-5.2 0.9 8.9 0.9-14.5 0.9 8.8 0.9-2.3 0.9-3.3 0.9 0.7 0.9 8.6 0.9-11.1 0.9-4.9 0.9 17.1 0.9-3.7 0.9-8.1 0.9 18.3 0.9-21.2 0.9 0.7 0.8-5.1 0.9 5.3 0.9 1.4 0.9-0.8 0.9 10.3 0.9-3.2 0.9 2.5 0.9 7.6 0.9-10 0.9-14.2 0.9 4.6 0.9-2 0.9 4.5 0.9-2.8 0.9-2.1 0.9 11.9 0.9-3.2 0.9-0.8 0.9-3.4 0.9-7.8 0.9 10.5 0.9 5.5 0.9-3.5 0.9-2.8 0.9-0.6 0.9-8.4 0.9-0.5 0.9 8 0.9-0.5 0.9-7.4 0.9 3.7 0.9 5.1 0.9-1.1 0.9-5.9 0.9 2.2 0.9 2.2 0.9 1.9 0.9-2 0.9 1.6 0.9-3 0.9-4.7 0.9 0 0.9 0.2 0.9 1 0.9-0.1 0.9 8.2 0.9 0.4 0.9-4.4 0.9 0.2 0.9-4.6 0.9 6.3 0.9-6 0.9 5.3 0.9-6.7 0.9 4.6 0.9 0 0.8 6.2 0.9-4.1 0.9-1.2 0.9-2.4 0.9 6.8 0.9-0.2 0.9-0.2 0.9-5.4 0.9 0.5 0.9 3.1 0.9-4.1 0.9 4.4 0.9-8.3 0.9 1.6 0.9 0.8 0.9 2.2 0.9-4.7 0.9-4.1 0.9 1.6 0.9 9.7 0.9-11.5 0.9 5.1 0.9 4.9 0.9-4.1 0.9 3.2 0.9-8.6 0.9 10.6 0.9-4.6M1120.0 1481.4l0.9 2.6 0.9 2.7 0.9 8.9 0.9-7 0.9-12.3 0.9 15.8 0.9-8.1 0.9 2.6 0.9-12 0.9 2.4 0.9 5.9 0.9 4.9 0.9-7.6 0.9-4.1 0.9-1.3 0.9 3.8 0.9-6.5 0.9 9.4 0.9-6.3 0.9 8.4 0.9-11.7 0.9 12.7 0.9-11.1 0.9 4.9 0.9 6.5 0.9-13.1 0.9 3.6 0.9-4.7 0.9-1.1 0.9-4.2 0.9-0.5 0.9 6.7 0.9 8 0.9-6.2 0.9 7 0.9-0.5 0.9-3.4 0.9-11.1 0.9 0.1 0.9 1.4 0.9 6.6 0.9-0.7 0.9 0.8 1-0.5 0.9-2.9 0.9-1 0.9 5.4 0.9-3.9 0.9-7 0.9 6 0.9 4.7 0.9 8.6 0.9-11.1 0.9 5.9 0.9-6.6 0.9 8.3 0.9-5.5 0.9 14 0.9-4.6 0.9 1 0.9-5.5 0.9 13.1 0.9-4.9 0.9 4.1 0.9-3.5 0.9 3.2 0.9 0.7 0.9-4.9 0.9 1.2 0.9-6.4 0.9 6.2 0.9-13.5 0.9 3.8 0.9 3.1 0.9-2.6 0.9 8.4 0.9-6.1 0.9 3 0.9-3.5 0.9-6.3 0.9-0.1 0.9 1.7 0.9 0.3 0.9-8 0.9 2.7 0.9-9.2 0.9 1.2 0.9 1.5 0.9 3.8 0.9-0 0.9 2.5 0.9-7.4 0.9-6 0.9-0.5 0.9 4.2 0.9 3.8 0.9 3.2 0.9-11.9 0.9 10.3 0.9-1.5 0.9-1.3 0.9 2.2 0.9 3.5 0.9-4.8 0.9 1.8 0.9-6 0.9 7.9 0.9-15.2 0.9 4.8 0.9-8.2 0.9 5.3 0.9-2.4 0.9 11.2 0.9-5.5 0.9 0.9 0.9-2.7 0.9 5.4 0.9-7 0.9 8 0.9-4.5 0.9-6.8 0.9-2 0.9-3.2 0.9 15.1 0.9 0 0.9-5 0.9 0.6 0.9 4.4 0.9 0 0.9 0 0.9 0 1-2.7 0.9 2.7 0.9-2.8 0.9-5.6 0.9 4.1 0.9-1.6 0.9 2.1 0.9-13.4 0.9 6.7 0.9 3.9 0.9 0.3 0.9 6.3 0.9-3.3 0.9 1.6 0.9-9.6 0.9 9.6 0.9-8.4 0.9 3.4 0.9-4.1 0.9-2.9 0.9 0.7 0.9 3.1 0.9-4.8 0.9 9.3 0.9-3.3 0.9 6.9 0.9-10.1 0.9 5 0.9 5.9 0.9-5.3 0.9-7.5 0.9 6.1 0.9 1.8 0.9-3.5 0.9 9.1 0.9-7.9 0.9 4.8 0.9-8.9 0.9 10.6 0.9-2.6 0.9-2.4 0.9-14.2 0.9 0.1 0.9 6.8 0.9 6.5 0.9 3 0.9-18.6 0.9 13.7 0.9-4.5 0.9-9.1 0.9-4 0.9 10.5 0.9-1.7 0.9-1.5 0.9-12.2 0.9 1 0.9 3.1 0.9-23.3 0.9 22.7 0.9-7.1 0.9-6.8 0.9-2 0.9 4.3 0.9 2.2 0.9-3 0.9 9.4 0.9-12.8 0.9 0.9 0.9 14.2 0.9-10.1 0.9 2.7 0.9 2.7 0.9 2.7 0.9 2.7 0.9 6.1 0.9 1.5 0.9 0.5 0.9 4.5 0.9 0.9 0.9 7.9 0.9-4.3 0.9 5.2 0.9 5.6 0.9-7.5 0.9 7.2 0.9-5 0.9 9.1 0.9-6.6 1 23.1 0.9 4.5 0.9-3.2 0.9-3.5 0.9-8 0.9 14 0.9-15.2 0.9-3.1 0.9 16.2 0.9 10.6 0.9-22.8 0.9 5.9 0.9 10.3 0.9 0.4 0.9 8.8 0.9-9.3 0.9 1.1 0.9-3.1 0.9 22.3 0.9 4 0.9-12.2 0.9 2.8 0.9 14.1 0.9 1.6 0.9 1.4 0.9-20.1 0.9 3.9 0.9 10.9 0.9 3.9 0.9-15.5 0.9 19.3 0.9-11.1 0.9 12.3 0.9-23.1 0.9 9.1 0.9 11.5 0.9 13.7 0.9-26.8 0.9 3 0.9 11.8 0.9 3.2 0.9 2.6 0.9 10.4 0.9-17.6" stroke="#a0a8e0" stroke-width="4.2"/>
<path d="M968.0 1602.5l0.9-21.1 0.9 28 0.9 2.7 0.9-30.2 0.9-5.7 0.9 24.7 0.9-25.8 0.9-13.1 0.9-8.8 0.9 58.9 0.9-62.4 0.9 21.1 0.9-10.1 0.9 19.7 0.9-1.1 0.9-19.9 0.9 15.3 0.9-7.1 0.9-12.6 0.9-19.8 0.9 23.7 0.9 7.3 0.9-11.5 0.9-15.7 0.9 28.1 0.9 2.7 0.9-17.6 0.9-11.8 0.9 14.8 0.9-8.7 0.9 17.5 0.9-10.6 0.9-1.5 0.9-3 0.9-15.7 0.9 34.3 0.9-39.2 0.9 52 0.9-4.6 0.9-16.6 0.9 6.9 0.9-5.6 0.9-19.6 0.9 19.7 0.9 9.7 0.9 17.2 0.9-28.6 0.9 20.6 0.9-4.7 0.9-12.5 0.9 22.1 0.9-44.9 0.9 49.2 0.9-8.4 0.9 2.6 0.9-30.7 0.9-6 0.8 28.2 0.9-7.7 0.9-1.5 0.9 5.9 0.9 30.7 0.9-5.4 0.9-29.7 0.9-19.9 0.9-0.2 0.9 19.3 0.9-19.7 0.9 26.3 0.9 7.8 0.9-25.1 0.9 31.4 0.9 3.1 0.9-1 0.9-17.2 0.9-9.8 0.9-5.7 0.9 1.5 0.9-8.7 0.9 11.3 0.9-10.6 0.9 18.2 0.9 6.4 0.9-13.9 0.9-1.2 0.9-9.3 0.9 20.4 0.9 5.2 0.9-19.7 0.9-15.3 0.9 8.1 0.9-7.6 0.9 5 0.9 11.7 0.9 0.2 0.9-0.9 0.9 6.3 0.9-6 0.9-1.6 0.9 7.5 0.9-2.5 0.9-0.5 0.9-9 0.9-9.7 0.9 9.8 0.9-0.4 0.9-4.5 0.9 7.6 0.9-5.6 0.9-7.8 0.9 11.2 0.9-5.8 0.9-4.8 0.9 1.9 0.9-6.8 0.9 8.8 0.9-0.3 0.9-1.2 0.9-4.8 0.9-6 0.9 6.5 0.9-5.2 0.9 3.8 0.9-1.2 0.9-4.5 0.9 3.6 0.9-4.9 0.9 4.5 0.9-7.1 0.9-1.5 0.9 6.4 0.9-6.4 0.9-4.9 0.9-0.8 0.9-3.3 0.9 6.9 0.9 0.5 0.9-10.2 0.9 4.5 0.9 2 0.9 4.9 0.9 1.5 0.9-9.1 0.9 3.5 0.9 2.6 0.9-5.6 0.9 5.3 0.9 4 0.9-6.9 0.9 7.2 0.9-0.9 0.9-1 0.9-11.5 0.9 6.7 0.9-19.5 0.9-2.2 0.9-0.9 0.9-0.9 0.9-0.9 0.9-0.2 0.9-1 0.9-1.5 0.9 12.9 0.9-3.6 0.9 7.4 0.9-4.5 0.9-15.1 0.9 17.7 0.9-13.1 0.9 14.4 0.9-3.5 0.9 2.3 0.9-0.6 0.8-0.6 0.9-0.6 0.9-3.3 0.9 2.1 0.9-7 0.9-4.7 0.9-0.5 0.9 5.1 0.9-1.8 0.9 3.1 0.9-7.3 0.9-3.7 0.9-6.9 0.9 14.8 0.9-2.6 0.9-4.3 0.9 2.4 0.9 2.5 0.9-19.8 0.9 9.1 0.9-1.3 0.9-5.1 0.9 2.6 0.9 3 0.9 9 0.9-19.1 0.9 18.7 0.9-7.3 0.9 6.1 0.9-24.2 0.9 21.2 0.9-18.9 0.9 15.3 0.9-12.3 0.9-8.5 0.9-1 0.9 0.6 0.9 4.5 0.9 5.9 0.9-1.8 0.9-15.6 0.9 13.9 0.9-0.4 0.9-12.3 0.9 8.4 0.9 2.5 0.9-14.1 0.9 7.4 0.9-9.7 0.9-1.1 0.9 7.5 0.9 7.3 0.9-0.4 0.9-4.7 0.9 0.3 0.9 3 0.9-8 0.9-2.9 0.9 1.5 0.9-1.9 0.9-6.9 0.9 13.4 0.9-0.4 0.9-7.8 0.9 4.1 0.9-15.5 0.9 0.9 0.9-1 0.9 0 0.9 0.2 0.9 0.3 0.9 4 0.9-3.5 0.9 0.2 0.9 0.3 0.9 3.9 0.9-3.5 0.9 14.7 0.9 0.8 0.9 0.5 0.9-2.6 0.9 5.9 0.9-3.8 0.9 2.2 0.9 1.5 0.9-1.3 0.9-1 0.9-1.2 0.9-18.5 0.9 9.2 0.9-2.8 0.9 6.9 0.9-5.1 0.9 0 0.9-0.1 0.9-4.2 0.9-2.2 0.9-1.5 0.9 5.1 0.9-8.2 0.9 5.3 0.9-3.2 0.9-7.8 0.9 8.6 0.9-1.8 0.9-5.3 0.9-4.3 0.9 6.5 0.9-6.4 0.9 2.8 0.9-8.7 0.9 5.4 0.9 3.7 0.9-4.4 0.9 2.6 0.9-7.7 0.8 5.9 0.9-6 0.9-13.1 0.9 1.4 0.9 0.2 0.9-0.9 0.9 0.3 0.9 2.6 0.9 0 0.9-6.4 0.9 4.8 0.9-0.3 0.9-6.8 0.9 6.8 0.9-11.9 0.9 15.3 0.9-16.4 0.9-0.5 0.9-0.6 0.9-0.5 0.9 11.3 0.9-2.9 0.9-2.3 0.9-6.5 0.9 5.3 0.9 0.4 0.9 8.1 0.9-0.9 0.9-4.5 0.9-6.8 0.9 7 0.9-10.1 0.9 1.1 0.9 6.5 0.9-9.3 0.9 2.8 0.9 8.9 0.9-7 0.9-5.7 0.9 0.2 0.9-7 0.9 5.9 0.9-3.9 0.9-5.3 0.9-1.2 0.9 10.4 0.9 0.6 0.9-10.7 0.9 2.6 0.9-0.5 0.9-1.5 0.9-4.2 0.9-3.1 0.9-0.2 0.9 0.3 0.9-5.2 0.9 5.9 0.9-10M1285.0 1332.7l0.9 8.1 0.9-4.8 0.9-2.5 0.9 3.5 0.9 1.4 0.9-13.8 0.9-3.1 0.9 3.4 0.9-3.1 0.9 5.3 0.9 8.6 0.9-3.9 0.9-7.1 0.9 8.5 0.9-6 0.9-6.9 0.9 14 0.9-6.6 0.9-11.7 0.9-0.3 0.9 12.7 0.9-7.6 0.9 0.8 0.9 0 0.9 5.2 0.9 6.6 0.9-0.6 0.9 0.1 0.9-0.3 0.9-3.9 0.9 2.1 0.9-7.3 0.9 7.9 0.9-2 0.9 1.4 0.9-2.3 0.9-3.4 0.9-6.6 0.9 11.1 0.9-5.2 0.9-10.6 0.9 4.2 0.9 8.5 0.9-5.5 0.9 6 0.9-3.3 0.9 0.8 0.9-5.1 0.9 0.4 0.9 1.9 0.9 4.1 0.9-14.1 0.9-6.3 0.9 7.4 0.9-4.3 0.9 9.2 0.9-4 0.9-6.6 0.9 0 0.9-4.9 0.9 8.4 0.9-3.9 1 0.2 0.9 3 0.9-3.4 0.9-2.6 0.9 10.8 0.9-3.4 0.9-13.2 0.9 2.7 0.9 13.3 0.9-14.1 0.9 12 0.9-4.5 0.9-7.7 0.9 0.5 0.9 1.7 0.9-2.8 0.9-5.6 0.9 14.1 0.9-6.5 0.9 0.6 0.9-7.5 0.9 14.3 0.9-1.1 0.9-12.6 0.9 0.9 0.9 5.7 0.9 1.8 0.9 7 0.9-8.4 0.9 1.1 0.9-9.8 0.9 0.1 0.9 8.7 0.9-7.1 0.9 6.9 0.9-7.4 0.9-5 0.9 6.3 0.9-6.6 0.9 4.7 0.9 2.7 0.9 2.1 0.9 9.2 0.9 0.1 0.9-8.9 0.9-0.3 0.9-0.9 0.9 6.7 0.9-3.7 0.9-7.4 0.9 4.8 0.9 8.5 0.9-0.2 0.9-6.8 0.9-3.2 0.9 9.5 0.9-8.2 0.9 4.9 0.9-1.7 0.9 3.1 0.9-5.2 0.9 5.7 0.9 0 0.9-7.1 0.9 0.4 0.9-2.3 0.9 3.7 0.9-1.6 0.9-0.6 0.9-3.2 0.9 0.5 0.9 0.5 0.9 3 0.9-2.1 0.9 4.2 0.9 5.2 0.9-0.4 0.9-6.2 0.9 7.6 0.9-5.3 0.9 16.4 0.9-0.5 0.9 0.1 0.9-1.1 0.9 0.2 0.9 4.6 0.9 1.3 0.9-3.6 0.9-6.8 0.9 12.5 0.9-7.8 0.9-1.1 0.9 4.4 0.9 6.6 0.9 0.7 0.9 10.4 0.9 8.7 0.9-3.2 0.9 1.1 0.9 2.3 0.9-9.5 0.9 12.5 0.9-1.2 0.9 4.4 0.9 7 0.9 1.2 0.9-3.2 0.9 2.4 0.9 1 0.9 1 0.9-6.2 0.9 5.5 0.9-2 0.9 0.1 0.9 5.9 0.9-0.8 0.9 0.3 0.9 1.8 0.9 0.2 0.9 3.5 0.9-0.6 0.9 9.8 0.9 3.5 0.9-8.4 0.9 2.7 0.9 17.8 1-6.6 0.9 4.8 0.9-0.5 0.9-5.4 0.9 1 0.9 0.3 0.9 7.5 0.9 4.7 0.9 6.4 0.9 0.9 0.9 8.4 0.9-1 0.9 4.8 0.9-2.7 0.9 5.6 0.9-1.4 0.9 6.2 0.9 1.2 0.9 2.1 0.9 1.1 0.9-10.8 0.9 5.6 0.9 5.8 0.9 2.2 0.9 1.7 0.9 6.5 0.9 2.1 0.9-13.7 0.9 8.7 0.9 1.5 0.9-7.3 0.9 18 0.9 5 0.9-13.1 0.9-4.1 0.9 5.4 0.9 3.1 0.9-0 0.9 2.3 0.9 8.1 0.9-7.9 0.9 1.8 0.9 5.1 0.9 9.9 0.9-2.6 0.9 12.6 0.9 2.3 0.9 2.3 0.9-6.1 0.9 10.7 0.9-3.2 0.9-4.6 0.9 3.9 0.9 7.8 0.9 5.1 0.9-13.7 0.9 12.1 0.9 1.6 0.9 2.2 0.9 2.4 0.9-4.2 0.9 18.9 0.9-20.3 0.9 6.6" stroke="#004a2a" stroke-width="4.2"/>
<path d="M1015.0 1698.9l0.9 6.1 0.9 1.3 0.9 12.4 0.9-2 0.9-18 0.9 10.2 0.9 5.2 0.9-7.7 0.9-6 0.9 10.7 0.9-14.6 0.9 11.4 0.9 6.4 0.9-10.6 0.9 9.5 0.9-16.6 0.9 8 0.9 5.9 0.9-22.2 0.9 19.6 0.9-19.9 0.9-9 0.9 7.2 0.9 2.7 0.9 4.5 0.9-15.5 0.9 1.4 0.9-1 0.9-11.5 0.9 18.2 0.9-8.7 0.9 8.1 0.9 6.4 0.9-5.8 0.9-24.9 0.9 19.9 0.9-8.5 0.9 0.6 0.9-6.1 0.9 7.7 0.9-23 0.9 1.2 0.9-21.7 0.9 24 0.9-26.3 0.9-2.7 0.9 7.8 0.9 6.6 0.9-7.1 0.9 3.9 0.9-4.7 0.9 5.9 0.9-19.9 0.9-2.7 0.9 9.5 0.9-7.8 0.9 1.8 0.9-1.3 0.9 2.4 0.9 10.3 0.9-5.5 0.9-2.7 0.9 7 0.9 0.2 0.9-1.7 0.9-15.3 0.9 11.5 0.9-6.4 0.9 3.8 0.8 2.8 0.9-4.9 0.9-4.4 0.9 1.1 0.9-9.2 0.9 4 0.9-15.1 0.9 16.8 0.9-16.8 0.9-15.7 0.9 27.7 0.9-38.6 0.9-6.3 0.9 18 0.9 0.6 0.9 7.4 0.9-0.3 0.9 10.1 0.9-43.1 0.9 40.3 0.9-17.5 0.9 12.8 0.9-14.7 0.9 13.8 0.9-6.4 0.9 2.8 0.9-13.6 0.9-9.5 0.9 7.5 0.9-5.5 0.9 14.9 0.9-25.5 0.9 16.8 0.9-14.7 0.9 14 0.9-26.7 0.9 27.4 0.9-11.6 0.9 7.1 0.9-4.1 0.9-14.5 0.9-8.3 0.9 7.4 0.9-6.1 0.9-3.6 0.9-2.6 0.9 12.3 0.9-0.4 0.9-1.1 0.9-7.6 0.9-2.6 0.9 5.7 0.9-6.3 0.9-10.7 0.9 16.3 0.9-29.7 0.9 9.6 0.9-7.4 0.9-4.9 0.9 5.5 0.9-5.2 0.9 25.8 0.9-15.4 0.9 2.4 0.9-18.5 0.9-0.8 0.9 18.4 0.9-10.9 0.9-2.1 0.9 2.3 0.9-5.3 0.9-6.4 0.9-2.2 0.9 3.3 0.9-5 0.9-0.9 0.9 3.6 0.9 11.5 0.9-7.9 0.9 12.7 0.9-15.6 0.9-3.3 0.9 13.6 0.9-12.4 0.9 4.1 0.9-12.4 0.9-0.7 0.9 6.4 0.9-6.2 0.9 2.7 0.9 4.6 0.9-6.7 0.9-6.3 0.9-1.9 0.9-2.8 0.9 1.5 0.9 8.3 0.9-5.7 0.9-6.1 0.9 7.9 0.9 2.2 0.9-3.4 0.9-2.1 0.9 8.2 0.9 5.1 0.9 4.1 0.9-9.6 0.9-9.6 0.9-8.7 0.9 1.7 0.9 21.4 0.9-1.2 0.9 11 0.9-54.3 0.9 50.3 0.9-32.2 0.9-19.6 0.9 22.5 0.9 3.3 0.9 11 0.9 23.7 0.9-45.3 0.9 30.4 0.9-32.1 0.9 47.7 0.9 0.4 0.9-40.6 0.9 25.3 0.9-11.3 0.9 8.3 0.9-26.1 0.9 19.3 0.9-14.8 0.9 34.1 0.9-50.4 0.9-9.6 0.9 1.4 0.9-1.3 0.9 13.6 0.8 44.8 0.9-5.2 0.9-8.3 0.9-14.1 0.9-13.5 0.9 9.1 0.9-5.9 0.9 16.7 0.9 11.2 0.9 13.9 0.9 4.8 0.9-0 0.9-35.7 0.9 35.5 0.9-0 0.9-29.9 0.9-25 0.9 9.1 0.9 2.5 0.9 18.7 0.9-7.2 0.9 7.7 0.9 11.6 0.9 16.9 0.9-25.3 0.9-12.9 0.9 9.4 0.9-20.6 0.9 35.5 0.9-31.1 0.9 31.6 0.9 16.4 0.9-49.1 0.9 18.6 0.9 40.3 0.9-2 0.9-52.7 0.9 38.1 0.9-26.5 0.9 15.6 0.9-27 0.9 51.4 0.9-39 0.9 18.7 0.9-3.8 0.9-32.8 0.9 29.9 0.9 11.7 0.9-17.3 0.9-19.9 0.9 37.4 0.9 4.9 0.9 9.9 0.9 10.2 0.9-19.4 0.9-1.5 0.9-12.7 0.9-14.5 0.9 44.6 0.9-48.8 0.9 54.4 0.9-5.5 0.9 1.1 0.9-1.8 0.9 2 0.9 3.9 0.9-48.5 0.9 5 0.9 25.6 0.9-18.8M1597.0 1526.4l0.9-2.9 0.9-1.7 0.9-3 0.9-15.1 0.9 1.6 0.9-1.7 0.9-5.6 0.9-0.7 0.9 2.4 0.9-8.9 0.9 3.7 0.9 10.2 0.9 2.2 0.9-4.9 0.9-5.9 0.9-4.1 0.9 3 0.9 3 0.9-3.3 0.9-1.5 0.9-4.1 0.9 0.5 0.9-4.7 0.9-5.4 0.9 4.7 0.9-14.9 0.9 8.5 0.9 4.1 0.9-7.9 0.9 0.4 0.9 7.2 0.9-8.8 0.9-9 0.9-6.6 0.9-1.4 0.9-3.9 0.9-8.9 0.9 23.4 0.9-22.5 0.9-9.4 0.9 0.2 0.9-6.5 0.9 0.4 0.9 12.4 0.9-16.8 0.9-1.2 0.9-0.2 0.9-2.3 0.9-1.3 0.9 5.5 0.9-2.9 0.9-4.5 0.9 8.4 0.9 3.3 0.9-2.7 1-0.2 0.9-3.1 0.9-3.1 0.9-3.2 0.9-4.3 0.9-3.3 0.9-5.6 0.9 0.2 0.9 4.1 0.9-1 0.9-4.6 0.9-5.7 0.9 0.2 0.9 0.5 0.9-0.9 0.9-1.5 0.9 0.7 0.9-7.2 0.9 3 0.9 5.5 0.9-1.7 0.9-6.7 0.9 2.2 0.9 2.2 0.9-2 0.9-4.1 0.9-5.4 0.9-0.3 0.9 2.8 0.9-7.6 0.9-11.3 0.9-1.2 0.9 6.5 0.9 6.6 0.9-16.7 0.9 0.7 0.9 0.7 0.9-5.5 0.9-3.5 0.9-1.1 0.9 9.1 0.9-10.9 0.9 5.5 0.9-0.3 0.9-5.2 0.9 4.7 0.9-7.3 0.9 2 0.9-3.5 0.9-2.9 0.9-0.9 0.9-0.9 0.9 7.2 0.9-6.7 0.9 5.4 0.9-4.6 0.9 2.8 0.9 4.6 0.9-0.3 0.9-0.3 0.9-1.9 0.9 1.3 0.9-4.3 0.9 1.8 0.9-3.5 0.9 4.8 0.9-2.1 0.9-0.1 0.9 1.3 0.9-3.4 0.9-0.1 0.9 2.6 0.9-1.3 0.9-3.8 0.9 3.8 0.9 0.1 0.9-7 0.9 6.4 0.9-1.2 0.9-3.3 0.9 3.6 0.9-3.3 0.9 1.8 0.9-0.2 0.9-2.6 0.9-1.3 0.9 3.8 0.9-9.6 0.9 5.5 0.9-3.7 0.9 4.2 0.9-2.6 0.9-7.9 0.9 0.4 0.9-2.5 0.9-0.3 0.9-4 0.9 7.6 0.9-7.1 0.9-1.4 0.9 8 0.9 0.3 0.9-2.7 0.9-2.5 0.9 4.6 0.9-0.3 0.9 1.1 0.9 3.6 0.9-5.1 0.9 0.7 0.9-1.3 1 2.6 0.9-2.4 0.9-0.8 0.9 0.9 0.9-5.6 0.9 5 0.9 0.3 0.9 4.1 0.9-1.5 0.9-1.5 0.9 2.4 0.9-3.1 0.9-1.6 0.9-0.4 0.9-1.3 0.9 3.3 0.9-4.7 0.9 0.2 0.9 0.1 0.9 0.1 0.9 7.5 0.9-2.9 0.9-4.2 0.9 0.2 0.9 1.9 0.9-0.2 0.9 1.1 0.9 3.5 0.9 0.1 0.9-0.5 0.9 4.3 0.9-2.1 0.9-6.1 0.9 1 0.9-1.5 0.9 5.8 0.9 0.6 0.9 2.3 0.9-8 0.9 4.2 0.9-2 0.9 0.7 0.9 2.2 0.9-2.7 0.9-0.8 0.9 7.9 0.9-4.6 0.9 3.8 0.9 1.2 0.9-4.9 0.9 7.1 0.9 0 0.9 1.7 0.9-4.1 0.9 5.8 0.9-6.1" stroke="#1430c8" stroke-width="4.2"/>
<path d="M1685.0 1467.9l0.9 8 0.9-14.5 0.9-15.6 0.9 8.4 0.9 8.1 0.9 5.3 0.9-2.1 0.9-26.3 0.9-0.8 0.9 8.2 0.9 3.2 0.9 3 0.9-15.8 0.9 21.4 0.9-20.9 1 15.7 0.9-11.2 0.9-8.3 0.9-2.8 0.9 22.3 0.9-12.1 0.9 12.6 0.9-3.9 0.9 1.2 0.9-2.6 0.9-10.2 0.9 6.9 0.9-10.7 0.9 2 0.9 30.6 0.9-25.8 0.9 6.6 0.9-7.4 0.9-4.7 0.9 11.8 0.9-22.3 0.9 14.5 0.9 13.7 0.9-7 0.9-15.9 0.9 20.8 0.9-9.8 0.9-19.5 0.9 3.3 0.9 6.4 0.9 6.9 1 12.2 0.9-19.8 0.9 2.9 0.9 22 0.9-23.1 0.9 14.5 0.9-22.7 0.9 11.6 0.9 26.8 0.9 0 0.9-20.7 0.9 9.9 0.9 10.8 0.9-9.8 0.9-20 0.9 8.4 0.9-0.3 0.9 17.9 0.9 5.6 0.9-32.3 0.9 6.8 0.9 2.3 0.9-1.1 0.9-23.7 0.9 3.4 0.9-7.4 0.9 18.2 0.9 19.8 0.9-12.7 0.9-12.6 0.9 22 1 12.1 0.9-14.1 0.9 20.1 0.9-0.8 0.9-7.9 0.9-27.7 0.9 7.8 0.9 2.8 0.9-3.3 0.9 10.3 0.9-4.2 0.9 0.9 0.9 2 0.9-20.6 0.9 1.7 0.9 28.3 0.9-16.4 0.9-6.4 0.9-8.9 0.9-1.1 0.9 1.6 0.9 13.6 0.9 0.4 0.9 12.1 0.9-21.1 0.9-1.2 0.9 20.5 0.9-27.8 0.9 9 0.9-12.1 0.9 23.2 1-5.9 0.9-2.1 0.9-1.7 0.9-20.5 0.9 12 0.9-6.5 0.9-17.6 0.9 1.5 0.9 28.2 0.9-30.8 0.9 39.9 0.9-20.8 0.9 0.9 0.9 17.3 0.9-21.7 0.9-8.9" stroke="#1414a0" stroke-width="4.2"/>
<path d="M1185.0 1688.8l0.9-3.2 0.9 4.3 0.9-3.1 0.9-3.1 0.9-4.2 0.9-3.7 0.9-1.5 0.9-12.8 0.9 0.3 0.9-17.9 0.9-0.7 0.9 11 0.9-4.6 0.9-0 0.9-1.8 0.9-12.5 0.9-9.7 0.9 9.1 0.9-13.7 0.9 3.1 0.9 0.9 0.9-2.5 0.9-11.9 0.9-18.2 0.9 17 0.9-9.7 0.9-6.8 0.9-4.3 0.9 0.7 0.9-6.4 0.9-13.8 0.9 0.4 0.9 3.1 0.9 6 0.9-25.6 0.9-6.2 0.9 0.3 0.9 1.9 0.9-4.2 0.9-9.7 0.9 8.8 0.9 7.2 0.9-3.6 0.9-7.6 0.9 0.3 0.9-3.6 0.9-12.9 0.9 5.5 0.9-12.8 0.9-16 0.9 10.7 0.9-12.4 0.9-2 0.9-1.9 0.9-14.8 0.9 4.8 0.9 0.8 0.9-5.1 0.9 6 0.9-9.7 0.9-7.2 0.9-3.2 0.9 2 0.9-1.9 0.9 6.1 0.9-19.8 0.9 4.9 0.9-3.1 0.9-4.9 0.9-4.4 0.9 0.8 0.9 6.4 0.9-5.1 0.9-4 0.9-6.6 0.9 13.9 0.9-3.1 0.9-13.5 0.9 2.4 0.9 0.2 0.9-5 0.9 6.1 0.9 3.7 0.9-9.4 0.9-0.6 0.9-2.1 0.9 0.9 0.9-11 0.9 13.4 0.9-15.6 0.9 9.4 0.9-6.1 0.9-3.3 0.9 6.2 0.9-8.1 0.9-9.7 0.9 2.2 0.9-1.7 0.9 0.8 0.9-2 0.9 0.7 0.9-12.5 0.9-6.2 0.9 16 0.9-18.1 0.9-11.8 0.9 20.2 0.9-25.5 0.9 6.2 0.9 13.4 0.9-4.7 0.9-15 0.9 3.8 0.9-13.3 0.9-1.3 0.9 2.1 0.9-7.9 0.9-1.7 0.9 0.6 0.9 5.5 0.9-6.4 0.9 1.2 0.9 2.2 0.9-3.7 0.9 4.7 0.9-4 0.9 3.6 0.9-6.3 0.9 5.5 0.9-5 0.9 5.6 0.9-1.1 0.9 0.1 0.9-5.2 0.9 0.4 0.9-2.7 0.9 5.4 0.9-1.2 0.9-0.1 0.9-1.5 0.9 3.4 0.9-6 0.9 11.1 0.9-9.2 0.9-0.5 0.9 5.6 0.9-6.1 0.9 2.4 0.9-0.2 0.9 5.3 0.9-4.6 0.9-3.9 0.9 2.8 0.9 3.9 0.9 3.1 0.9-3.2 0.9 0.4 0.9 1.9 0.9 0.4 0.9-4 0.9-2.5 0.9 7.6 0.9-2 0.9-5.9 0.9 1.2 0.9 2.9 0.9 1.5 0.9 1.7 0.9-2 0.9 2.1 0.9-0.1 0.9-1.6 0.9 1.4 0.9-0.7 0.9 0.5 0.9-0.1 0.9-6.4 0.9-1.9 0.9 2.2 0.9-5.7 0.9 0.4 0.9-0.6 0.9 11.4 0.9-11.6 0.9 7.1 0.9-2.6 0.9 4 0.9-3 0.9 1.9 0.9 0.7 0.9-3.9 0.9 2.4 0.9 0.1 0.9-4.1 0.9 4.6 0.9-6 0.9 0.5 0.9-0.9 0.9 1.7 0.9-3.4 0.9 4.2 0.9-1.6 0.9-1.3 0.9-1.6 0.9 4.8 0.9-4.9 0.9 9.8 0.9-1.6 0.9 3.1 0.9-3.3 0.9-4 0.9-4.4 0.9 0.6 0.9 1.7 0.9-0.2 0.9 0.6 0.9-2.8 0.9 0.4 0.9 4.8 0.9 2.2 0.9-2.3 0.9 5.3 0.9 2.6 0.9-1 0.9 3.1 0.9-2.6 0.9-1 0.9-0.8 0.9 1.2 0.9 4.3 0.9-1 0.9-6.3 0.9-0.1 0.9 2.7 0.9-1.4 0.9-1.6 0.9 1.8 0.9-0.1 0.9 8.5 0.9-3 0.9-5.4 0.9 7.3 0.9 4 0.9-1.6 0.8 2.7 0.9-1.9 0.9-4.5 0.9 5.3 0.9 2 0.9-4.7 0.9 1 0.9-7.1 0.9 8 0.9-0.3 0.9 4.5 0.9 0.2 0.9 0.2 0.9-2.5 0.9-6.2 0.9 1.8 0.9 5.5 0.9-3.4 0.9 3.2 0.9-6.7 0.9 0.5 0.9 3.6 0.9-1.5 0.9 0.9 0.9-8.1 0.9 2.8 0.9-3.4 0.9 7.4 0.9 0.4 0.9-7.5 0.9-1.6 0.9 3.8 0.9-4.4 0.9-0.3 0.9 1.4 0.9 3.1 0.9-1.9 0.9 0.6 0.9 1.3 0.9-2.5 0.9 0.5 0.9 1.3 0.9-1 0.9 4.7 0.9 0.2 0.9-3.8 0.9 3.3 0.9 0.7 0.9-0.7 0.9-2 0.9-1.3 0.9 1.3 0.9 2.2 0.9-1.8 0.9 1 0.9-4.6 0.9 1.3 0.9 3 0.9-0.3 0.9 4.2 0.9-6.5 0.9 4.2 0.9 6.2 0.9 1.8 0.9-1.1 0.9 1.5 0.9 1.2 0.9-2.3 0.9 8.7 0.9-1.6 0.9 6.2 0.9-6.3 0.9 8.8 0.9-6 0.9-4.4 0.9 3.7 0.9 2.9 0.9-0.3 0.9-4.9 0.9 3.7 0.9 1.8 0.9 7.7 0.9-5.1 0.9 4.8 0.9-6.9 0.9-0.1 0.9 8.8 0.9-4.4 0.9-0.3 0.9-4 0.9 3.4 0.9-7.2 0.9 0.2 0.9 4.1 0.9 0.1 0.9 10 0.9-3.2 0.9-1 0.9 2.8 0.9 5 0.9-0.6 0.9-1.1 0.9 9.5 0.9-4.9 0.9 4.6 0.9 10 0.9 0.1 0.9-12.3 0.9-0.8 0.9 9 0.9-1 0.9-5.9 0.9 2.1 0.9 13.1 0.9 0.5 0.9-9 0.9-1.4 0.9 5 0.9-2.9 0.9 5.1 0.9 1.9 0.9-1.2 0.9-5.8 0.9 1.1 0.9 2.3 0.9 1.1 0.9-0.2 0.9 1.3 0.9-1.6 0.9 10.3 0.9-6 0.9-2.2 0.9 6.7 0.9 3.8 0.9-6.4 0.9 9.8 0.9 0.3 0.9 1.3 0.9 1.8 0.9 5.3 0.9-11.2 0.9 12.6 0.9-7.9 0.9 3.6 0.9 2.4 0.9-4.7 0.9-1 0.9 5.7 0.9-1.1 0.9 3 0.9 1.8 0.9-1.2 0.9 1.1 0.9-6.3 0.9 1.3 0.9-3.8 0.9 11.3 0.9-9 0.9 5.8 0.9 8.7 0.9-9.1 0.9 8.5 0.9 8.1 0.9-9 0.9-2.7 0.9 4.3 0.9 7.9 0.9-1.9 0.9 2 0.9-0.2 0.9-2 0.9 9 0.9-0.7 0.9-18.7 0.9-0.1 0.9 14 0.9 0.6 0.9 0.7 0.9 0.9 0.9-10.2 0.9 20.6 0.9-16.2 0.9 4.4 0.9 5.3 0.9 1.4 0.9-3.7 0.9 7 0.9 9.7 0.9-4.7 0.9 6.7 0.9-16.7 0.9-4.1 0.9 17.8 0.9 6.6 0.9-9.5 0.9 3.3 0.9-1.9 0.9 5.7 0.9-2.7 0.9-13.9 0.9 12.7 0.9-2.7 0.9 2.7 0.9 1.1 0.9 1.1 0.9-13 0.9 10.5 0.9 9 0.9 2.8 0.9-0.7 0.9-5.5 0.9 7.4 0.9-7.7 0.9 8.7 0.9-8.9 0.9 11.6 0.9-9 0.9 7.7 0.9 0.5 0.9 3.9 0.9 0.8 0.9 0.3 0.9-9.6 0.9-0.3 0.9 10.3 0.9-5.9 0.9 1.8 0.9 5.8 0.9-0.3 0.9-6.5 0.9 6 0.9 3.4 0.9 3.6 0.9-7.9 0.9 2.6 0.9 7 0.9-10.4 0.9 5.6 0.9 3.3 0.9 4.2 0.9 8.9 0.9-8.1 0.9 7.1 0.9 0.4 0.9-7.9" stroke="#b0f070" stroke-width="4.2"/>
<path d="M1190.0 1633.7l0.9-50.1 0.9 1.9 0.9 49.7 0.9-44.4 0.9 40.9 0.9-11.2 0.9 13.9 0.9-24.5 0.9-22.1 0.9 62.1 0.9-30.6 0.9-32.2 0.9-19 0.9-2 0.9 62.2 0.9-39 0.9-5.2 0.9-13.1 0.9 2.8 0.9-0.8 0.9 35.6 0.9-47.3 0.9-11.2 0.9 63 0.9-2.8 0.9 10.4 0.9-46.4 0.9 43.4 0.9-17.7 0.9 5.9 0.9-5.1 0.9-53.2 0.9-7.8 0.9 48.6 0.9-48.2 0.9 9 0.9 32.3 0.9-3.1 0.9-37.3 0.9 75.5 0.9-30.1 0.9 26.1 0.9-48.4 0.9-9.6 0.9-0.2 0.9 36.5 0.9-5.8 0.9 1.4 0.9-10.3 0.9-5.4 0.9-19.2 0.9-13.4 0.9 29.6 0.9 3.3 0.9-2.2 0.9 24.7 0.9-52.2 0.9 18.8 0.9-2.1 0.9-24.1 0.9 15.4 0.9-10 0.9 1.2 0.9 1 0.9-10.3 0.9 16.1 0.9 8.3 0.9 13.4 0.9-23.2 0.9-13.5 0.9 1.7 0.9-8 0.9-10.8 0.9 38.2 0.9-26.7 0.9 1.4 0.9 0.8 0.9-20.8 0.9-8.7 0.9-2.5 0.9 37.1 0.9-6.6 0.9-10.3 0.9 6.7 0.9-3.6 0.9-22.4 0.9-0.1 0.9-13.7 0.9 31.3 0.9-33.6 0.9 6.1 0.9-5.3 0.9 3.8 0.9 7 0.9-15.5 0.9-5 0.9-8.7 0.9-18.8 0.9 52.4 0.9-21.8 0.9-24.2 0.9 29.8 0.9-27.4 0.9 4.9 0.9 0.8 0.9 0.2 0.9-3.7 0.9-0.2 0.9-19.9 0.9-4.6 0.9 11.5 0.9 11.6 0.9-8 0.9-8.1 0.9-2.9 0.9 11.8 0.9 2 0.9-11.7 0.9 4 0.9-15.4 0.9 13.3 0.9 8.5 0.9-15.2 0.9 9.2 0.9-4.7 1 8 0.9-7.9 0.9-16 0.9 8.3 0.9 7.8 0.9-17.9 0.9 7.9 0.9 13.4 0.9-10.4 0.9 6 0.9-16 0.9-2.5 0.9 8.4 0.9-0.9 0.9 8.1 0.9-21.4 0.9 3.8 0.9-8.7 0.9 3.8 0.9 4.9 0.9 3.2 0.9-2.9 0.9 7.4 0.9-9.2 0.9-6.2 0.9 4.4 0.9 1 0.9-9.2 0.9-0.2 0.9 9.8 0.9-6.4 0.9 5.7 0.9-12.1 0.9 0.1 0.9 0.5 0.9-7.4 0.9-5.6 0.9 2.6 0.9 8.1 0.9-7.2 0.9-6.1 0.9 6.9 0.9 4.3 0.9-12.1 0.9-1.8 0.9-0.6 0.9-0.7 0.9-0.6 0.9 3 0.9 1.5 0.9 3.5 0.9 2.7 0.9-2.1 0.9 2.9 0.9-4.3 0.9-7.2 0.9 8.5 0.9-11.5 0.9-3.4 0.9 10.4 0.9 0.2 0.9 3.5 0.9-16.8 0.9 4.2 0.9 1.5 0.9 0.8 0.9 6.1 0.9-7.1 0.9 2.1 0.9 1.4 0.9-8.7 0.9-3.4 0.9 12.6 0.9-1.9 0.9-8.1 0.9-4.2 0.9 4 0.9-5.6 0.9 4.9 0.9-4.8 0.9-1.6 0.9-2.4 0.9 3 0.9 1.2 0.9-3.8 0.9 9 0.9-13.5 0.9 5 0.9 1.1 0.9-7.4 0.9-0.4 0.9 6.5 0.9-5.1 0.9 1.5 0.9-1.3 0.9 3.8 0.9-4.7 0.9 0.3 0.9 7 0.9-2.5 0.9-5.6 0.9 0.5 0.9-0.3 0.9-4.1 0.9 9.3 0.9-4.9 0.9-5 0.9 8.6 0.9-0.8 0.9-5.1 0.9-3.5 0.9 5.7 0.9 1.4 0.9-0.4 0.9-2.4 0.9-5.4 0.9 0.5 0.9-1.2 0.9 5.9 0.9-5 0.9-5.4 0.9-1 0.9 2.3 0.9 1.2 0.9 0.4 0.9 3.2 0.9-5.6 0.9-1.3 0.9-2.3 0.9 8.4 0.9-0 0.9-6.3 0.9-3.7 0.9 6.6 0.9-6.2 0.9-1.6 0.9 7.2 0.9-10.7 0.9 1.5 0.9 1.3 0.9 1.4 0.9-3.3 0.9 1.5 0.9 1 0.9-3.2 0.9 1.2 0.9 4.2 0.9-1 0.9 0.2 0.9 3.9 0.9-0.2 0.9-0.1 0.9-2.6 0.9-1.8 0.9 3.5 0.9-6.1 0.9 3.5 0.9-4.5 0.9 3.3 0.9-6 0.9 6.7 0.9-1 0.9-8.1 0.9 10.4 0.9 0.7 0.9-3.9 0.9-5.2 0.9-1.4 0.9 4.5 0.9-3.1 0.9-3.3 0.9-0.1 0.9-0.2 0.9-0.1 0.9-0.1 0.9 4.6 0.9-0.4 0.9-2.4 0.9 0.6 0.9 4.2 0.9 0.8 0.9-3.2 0.9 8.5 0.9-0.1 0.9 2.1 0.9-2.2 0.9 1.4 0.9 1.5 0.9 3.2 0.9-0.1 0.9 2.6 0.9-3.6 0.9 4 0.9-5.9 0.9 5.7 0.9-0.9 0.9-3.1 0.9-5.4 0.9 1.7 0.9 0.8 0.9-1.6 0.9-2.8 0.9 6.1 0.9 5.3 0.9-5.9 0.9-1.2 0.9 1.1 0.9-1.7 0.9 7.8 0.9-2.1 0.9-1.6 0.9 2.8 0.9 0.8 0.9-0.3 0.9-5.1 0.9 2 0.9-8 0.9-0 0.9 6.4 0.9-6.8 0.9 1.4 0.9 3.1 0.9 1.2 0.9-7.5 0.9 1.6 0.9-1.6 0.9 2.9 0.9 2.1 0.9-7.2 0.9 1.4 0.9 4.7 0.9-3.8 0.9 5.3 0.9-2.9 0.9-0.9 0.9-1.4 0.9 3.9 0.9-5.2 0.9-5.6 0.9 7.8 0.9-8.7 0.9 8 0.9-1.6 0.9 1.6 0.9-1.6 0.9 3.1 0.9-2 0.9-3.7 0.9 10.8 0.9-6.9 0.9-0.5 1-2.7 0.9 4.4 0.9-3.5 0.9 5 0.9-1.9 0.9-0.4 0.9 7.8 0.9-2.7 0.9-0.8 0.9-1.6 0.9 4.4 0.9-1.3 0.9 1.7 0.9-3.9 0.9 3.4 0.9-2.5 0.9 8.7 0.9-6.5 0.9 7.3 0.9-2.2 0.9 1.9 0.9 5.3 0.9 4.7 0.9-2.1 0.9-7.4 0.9 6.7 0.9 2.4 0.9-5.7 0.9 4.2 0.9-0.1 0.9 6.9 0.9 3.3 0.9-3.1 0.9-1 0.9-1.1 0.9 3.9 0.9-0.3 0.9 9.9 0.9-3.4 0.9 0.6 0.9-1.2 0.9 8.7 0.9-2.4 0.9 1.4 0.9 1.9 0.9-4.8 0.9 4 0.9 5 0.9-7.4 0.9 6.6 0.9 5.6 0.9-4.1 0.9-3.5 0.9 15.5 0.9-15.3 0.9 1.8 0.9 3.1 0.9 8.8 0.9 4.8 0.9-9.1 0.9 18.6 0.9-15.4 0.9 5.1 0.9 3.7 0.9 2.2 0.9 6.2 0.9-1.3 0.9 6 0.9 3.2 0.9-1.2 0.9 10.9 0.9-1 0.9 3.8 0.9-5.5 0.9-0.1 0.9 6.8 0.9 8.5 0.9-4.5 0.9-1.8 0.9 10 0.9 8.8 0.9 4.8 0.9 4.2 0.9 0.2 0.9 7.7 0.9-7 0.9-9.8 0.9 4.3 0.9 15.9 0.9 0.7 0.9 1.7 0.9 5.6 0.9-0.4 0.9 3.5 0.9 0.1 0.9 0.9 0.9-0.4 0.9-0.6 0.9-2.2 0.9 6.8 0.9 5.9 0.9-6.3 0.9 6 0.9-4.5 0.9 0.2 0.9 11.8 0.9-8.2 0.9 5.8 0.9 9.4 0.9-6.3 0.9-5.5 0.9 16.8 0.9-5.8 0.9 1.3 0.9-0.7 0.9 3.5 0.9 11.6 0.9 13.4 0.9 1.3 0.9 7.5 0.9 9.5 0.9-25.3 0.9 39.1 0.9 0.1 0.9 10.6 0.9-13.5" stroke="#9048b8" stroke-width="4.2"/>
<path d="M1305.0 1543.3l0.9 0.2 0.9-6.1 0.9 4.6 0.9-23.6 0.9 11.5 0.9-1.2 0.9-11 0.9-1.3 0.9 10.1 0.9-16.1 0.9-5.6 0.9-6.8 0.9-17 0.9 13.5 0.9-20.7 0.9 10.5 0.9-8.6 0.9 2.8 0.9-9.4 0.9 7.2 0.9-24.1 0.9-3.6 0.9 9.1 0.9-3.3 0.9 8.7 0.9-8.8 0.9 3.2 0.9 1.7 0.9-22.9 0.9 14.9 0.9-1.1 0.9-4.2 0.9-6.1 0.9-1.7 0.9-1.9 0.9 1.3 0.9-1.5 0.9-1.5 0.9-10.2 0.9 1.2 0.9-1.6 0.9 1.8 0.9-0.6 0.9 0.4 0.9-3.4 0.9-10.5 0.9-3.2 0.9-3.1 0.9 12.7 0.9-3.5 0.9-6.7 0.9-6.9 0.9 4.6 0.9-6.5 0.9 6.7 0.9-4.1 0.9-17.1 0.9 8.3 0.9 1.7 0.9-13.7 0.9 3.6 0.9-2.3 0.9-0.9 0.9 7.6 0.9-4.2 0.9-7.2 0.9-2.7 0.9-2.9 0.9 8.5 0.9-1.3 0.9-3.4 0.9-0.9 0.9-2.4 0.9-0.1 0.9-4.9 0.9 2.1 0.9 0.5 0.9 8.9 0.9-2.3 0.9-10.8 0.9 3.9 0.8-9.8 0.9 13.3 0.9-4.3 0.9 5.6 0.9-0.6 0.9-11.8 0.9 10 0.9-5.8 0.9 0 0.9 2.5 0.9-6.1 0.9 0.8 0.9-1.3 0.9 2.3 0.9-3.7 0.9-11.6 0.9-1.9 0.9 8.3 0.9-1.4 0.9-0.4 0.9 0.8 0.9-11.8 0.9 14.9 0.9-5.2 0.9-5.5 0.9-5.1 0.9 7.7 0.9-4.9 0.9 4.7 0.9-5.8 0.9 1.3 0.9-8.3 0.9 1.3 0.9 7.1 0.9 0.8 0.9-2.4 0.9-10 0.9 4.8 0.9-5.7 0.9 10.8 0.9-3.7 0.9 8.8 0.9-3 0.9-5.7 0.9 3.1 0.9-7.1 0.9 5.5 0.9 1.7 0.9-1.2 0.9 1.6 0.9-7.3 0.9 1.3 0.9-2.7 0.9-0.2 0.9-2.8 0.9-3.5 0.9 7.7 0.9 0 0.9 0 0.9 0 0.9-4.1 0.9-1.1 0.9-5.3 0.9 0.2 0.9 0.2 0.9-0.5 0.9-0.8 0.9-0 0.9 0.6 0.9-0.7 0.9 0 0.9 0 0.9 0 0.9 3.7 0.9 3.1 0.9-1 0.9 3 0.9 2.8 0.9-4.2 0.9-0.1 0.9 2 0.9-3.8 0.9 6 0.9-5.6 0.9-5.8 0.9-0 0.9 8.9 0.9-9 0.9 0 0.9 6.2 0.9-6.2 0.9 4.8 0.9 9.4 0.9-0.3 0.9 3.5 0.9-0.6 0.9 3.3 0.9 0.4 0.9-6.6 0.9 9.7 0.9-4.2 0.9 8.5 0.9-5.7 0.9-2.2 0.9-1.3 0.9 4.1 0.9-7 0.9 5.1 0.9-4.2 0.9-1.6 0.9 9.7 0.9-10.2 0.9 9.2 0.9-2.5 0.9 1.3 0.9 5.7 0.9-4 0.9 6.2 0.9-10.8 0.9 3.5 0.9-11.5 0.9 5.6 0.9-5.9 0.9-0.2 0.9-0.2 0.9-0.1 0.9 4.8 0.9 12.7 0.9-7.1 0.9 1.8 0.9 3.1 0.9-4.2 0.9-11.3 0.9 5.1 0.9-6.4 0.9-0.1 0.9 0.6 0.9 10.8 0.9-11.6 0.9 3.6 0.9-4.5 0.9-0.2 0.9 4 0.9-4.4 0.9 2.6 0.9-2.7 0.9 10.3 0.9-9.6 0.9 9.7 0.9-0.7 0.9 3 0.9-6.9 0.9-3.4 0.9 8.8 0.9-5.5 0.9 1.2 0.9-2.8 0.9-0.6 0.9 8.8 0.9-12.2 0.9 1.2 0.9 4.2 0.9-4 0.9 3.3 0.8-6.4 0.9 14.4 0.9-6.6 0.9-5.7 0.9 9.1 0.9 3.9 0.9 2.1 0.9 1.3 0.9 0.1 0.9 0.2 0.9-12.5 0.9 4.3 0.9-3.1 0.9 3.1 0.9 3.4 0.9-2.2 0.9 0.3 0.9-5.4 0.9 6.2 0.9-9.5 0.9 13.3 0.9-5.8 0.9 3.6 0.9-5.3 0.9-1.9 0.9 4.7 0.9-6.6 0.9 3.1 0.9-1.3 0.9-3.3 0.9 9.6 0.9 0.3 0.9-1.3 0.9-9.5 0.9-7.7 0.9 0.8 0.9 5.2 0.9-0.4 0.9 3.4 0.9-6.3 0.9-0.5 0.9 4.3 0.9 5 0.9-2.1 0.9-1.5 0.9-0.5 0.9 3.8 0.9 0.2 0.9-1.9 0.9 1.8 0.9-4.9 0.9 0.1 0.9-5.8 0.9 11.8 0.9-12.6 0.9-2.9 0.9 0.5 0.9 3.1 0.9-2.7 0.9 2.5 0.9 1.1 0.9-4.8 0.9 3.4 0.9 6 0.9-7.1 0.9 7.6 0.9-4.1 0.9 5.2 0.9 0.2 0.9 4.2 0.9 3.5 0.9 0.3 0.9-1.1 0.9-6.9 0.9 5.2 0.9-7.1 0.9 14.4 0.9-4.4 0.9 9.1 0.9-3 0.9-2 0.9 7.4 0.9-7.7M1600.0 1350.0 1620.0 1355.0M1620.0 1350.2l0.9 2.1 0.9-3.3 0.9 1.3 0.9-1.3 0.9 4.2 0.9 6.8 0.9-6.8 0.9 5.8 0.9-9.7 0.9 16 0.9-1.4 0.9 1.2 0.9-2.1 0.9 0.4 0.9 7.2 0.9-3.5 0.9 1.2 0.9 0.4 0.9 0.2 0.8-2.1 0.9-13.7 0.9 6.4 0.9 7.3 0.9-14.8 0.9 14.6 0.9 3.1 0.9-12.7 0.9-8.3 0.9 0.2 0.9 8 0.9-8.2 0.9 13.9 0.9-4.5 0.9-0.5 0.9-0.3 0.9-7.3 0.9 13.5 0.9-8.4 0.9-6.3 0.9 0 0.9 15.1 0.9-8.9 0.9-1.5 0.9-0.2 0.9 6.2 0.9-6.1 0.9-3.8 0.9 1.3 0.9 1.2 0.9 3.1 0.9 6.9 0.9-6.5 0.9-1.4 0.9-0.8 0.9 9.7 0.9-7.6 0.9 1.3 0.9 12.1 0.8-7.6 0.9 5.2 0.9-11.2 0.9 1.7 0.9 13.1 0.9-3.7 0.9-4.8 0.9-5.8 0.9 6.6 0.9 7.5 0.9-6.8 0.9-1.3 0.9 6.8 0.9-10.4 0.9 0.4 0.9 7.3 0.9 6.9 0.9-11.5 0.9-1.1 0.9 2.7 0.9 17.2 0.9-5.2 0.9 8 0.9-9.9 0.9-2.1 0.9 6.7 0.9 1.3 0.9-2.1 0.9 0.3 0.9-4.9 0.9 12.3 0.9-9.4 0.9 8.3 0.9 7.1 0.9 0.7 0.9-2.5 0.9-3.9 0.9-5.6 0.9 4.1 0.8 4.7 0.9 1.2 0.9 1.7 0.9-6.9 0.9 0.2 0.9-0.3 0.9-2.9 0.9 10.9 0.9-10.3 0.9 12.5 0.9 6.9 0.9 0.7 0.9-6.5 0.9-0.4 0.9 7.6 0.9-3.5 0.9 5 0.9-8.4 0.9-10.8 0.9 5.1 0.9-4.4 0.9 0 0.9 3 0.9-2.5 0.9 12.6 0.9-7.7 0.9 13.4 0.9-9.3 0.9-2.7 0.9 6.1 0.9 9 0.9-8.2 0.9 3.1 0.9-2.8 0.9-2.2 0.9-5.9 0.9 5.7 0.9 1.4 0.9 10.8 0.8 0.3 0.9-7.2 0.9 3.8 0.9-6.5 0.9-9.7 0.9 2 0.9-1.3 0.9 6.8 0.9 5.6 0.9-7 0.9 10.1 0.9 5.5 0.9-0 0.9-8.5 0.9 8 0.9-10.8 0.9 15 0.9-4 0.9-0.7 0.9-2.9M1785.0 1429.9l0.9-8.1 0.9 24.3 1-7.6 0.9 15.9 0.9-7 0.9-4.9 1 10.2 0.9-7.4 0.9-8.5 0.9 16.7 1-19.9 0.9-9.4 0.9 32" stroke="#a8308c" stroke-width="4.2"/>
<path d="M1220.0 1697.2l0.9 18.8 0.9-4 0.9-70.2 0.9 62.3 0.9-38.7 0.9-33.2 0.9 43.7 0.9 12.3 0.9-43.7 0.9-33.9 1 48.5 0.9 16.4 0.9-33.8 0.9-9.1 0.9 27.8 0.9-35.9 0.9 40.7 0.9-47.6 0.9 37.4 0.9 0.8 0.9-27.2 0.9 39.7 0.9-74.5 0.9 69.4 0.9-60.2 0.9-16 0.9 36.3 0.9-3 0.9-24.6 0.9-7.3 0.9 1.2 1 6.6 0.9 10.9 0.9 8 0.9-6.1 0.9 1.1 0.9 7.8 0.9-9.7 0.9 8.2 0.9-3.2 0.9 5.5 0.9-23.4M1690.0 1532.9l0.9-9.3 0.9-5.7 0.9-5.6 0.9-4.7 0.9-1.8 0.9 5.5 0.9 1.6 0.9 1.5 0.9-22.6 0.9-1.7 0.9-1.5 0.9 13.8 0.9-3.5 0.9-1.9 0.9-1.2 0.9-3.8 0.9-13.6 0.9 0.7 0.9 8.8 0.9-5.8 0.9-9.8 0.9 4.6 0.9-0.4 0.9-1 0.9-4.3 0.9-5.7 0.9-5.2 0.9 11.3 0.9-6.3 0.9 0.5 0.9 0.3 0.9-9.1 0.9-3.7 0.9 9.8 0.9 2.5 0.9-9.2 0.9 5.2 0.9 0.1 0.9-15.4 0.9-5.1 0.9-0.2 0.9 9.4 0.9-11 0.9-9.4 0.9-12.4 0.9-0.6 0.9-0.6 0.9-1.4 0.9-1.5 0.9 9.9 0.9-16.6 0.9 7.3 0.9-2.4 0.9-9.9 0.9 9.9 0.9-5 0.9 7.4 0.9-8.2 0.9-4.3 0.8-8.3 0.9-0.1 0.9-6.2 0.9 15 0.9-13.2 0.9 9 0.9-8.5 0.9 3.7 0.9-3.9 0.9-14.7 0.9 6.3 0.9-4.6 0.9 13.4 0.9 0.5 0.9-10.6 0.9-9 0.9 14.3 0.9-1.8 0.9-1.9 0.9-5.5 0.9-5.5 0.9-1.8 0.9-12.5 0.9 5.9 0.9 3 0.9-6.6 0.9-0.1 0.9 2.6 0.9 1.4 0.9 2.4 0.9-2.1 0.9-0.3 0.9-3 0.9-10.2 0.9-1.2 0.9 5.5 0.9-5.4 0.9-5.6 0.9 5.3 0.9-5.3 0.9 4.8 0.9-8.8 0.9 6 0.9-5.3 0.9-0.6 0.9-2.8 0.9-4 0.9 2.2 0.9-1.3 0.9 3.8 0.9-7.6 0.9 7.6 0.9-5.1 0.9-1.4 0.9 2.1 0.9-2.4 0.9-4.8 0.9 1.3 0.9-0.1 0.9 1" stroke="#f010d0" stroke-width="4.2"/>
</g>
<text x="172.1" y="1826.4" font-size="53" fill="#262626" stroke="#262626" stroke-width="0.8" text-anchor="middle">0</text>
<text x="510" y="1826.4" font-size="53" fill="#262626" stroke="#262626" stroke-width="0.8" text-anchor="middle">5</text>
<text x="847.9" y="1826.4" font-size="53" fill="#262626" stroke="#262626" stroke-width="0.8" text-anchor="middle">10</text>
<text x="1185.8" y="1826.4" font-size="53" fill="#262626" stroke="#262626" stroke-width="0.8" text-anchor="middle">15</text>
<text x="1523.7" y="1826.4" font-size="53" fill="#262626" stroke="#262626" stroke-width="0.8" text-anchor="middle">20</text>
<text x="1861.6" y="1826.4" font-size="53" fill="#262626" stroke="#262626" stroke-width="0.8" text-anchor="middle">25</text>
<text x="151.5" y="1354.6" font-size="53" fill="#262626" stroke="#262626" stroke-width="0.8" text-anchor="end">0</text>
<text x="151.5" y="1459" font-size="53" fill="#262626" stroke="#262626" stroke-width="0.8" text-anchor="end">-2</text>
<text x="151.5" y="1563.4" font-size="53" fill="#262626" stroke="#262626" stroke-width="0.8" text-anchor="end">-4</text>
<text x="151.5" y="1667.8" font-size="53" fill="#262626" stroke="#262626" stroke-width="0.8" text-anchor="end">-6</text>
<text x="151.5" y="1772.2" font-size="53" fill="#262626" stroke="#262626" stroke-width="0.8" text-anchor="end">-8</text>
<text x="1018.5" y="1352" font-size="57" font-weight="bold" fill="#000" stroke="#000" stroke-width="0.5" text-anchor="middle">B2a</text>
<text transform="translate(51.9 1528) rotate(-90)" font-size="58" fill="#262626" stroke="#262626" stroke-width="0.8" text-anchor="middle">meter</text>
<text x="1017.7" y="1889.3" font-size="57.5" fill="#262626" stroke="#262626" stroke-width="0.8" text-anchor="middle">Time (hour) 2019/01/13</text>
</svg></body></html>
